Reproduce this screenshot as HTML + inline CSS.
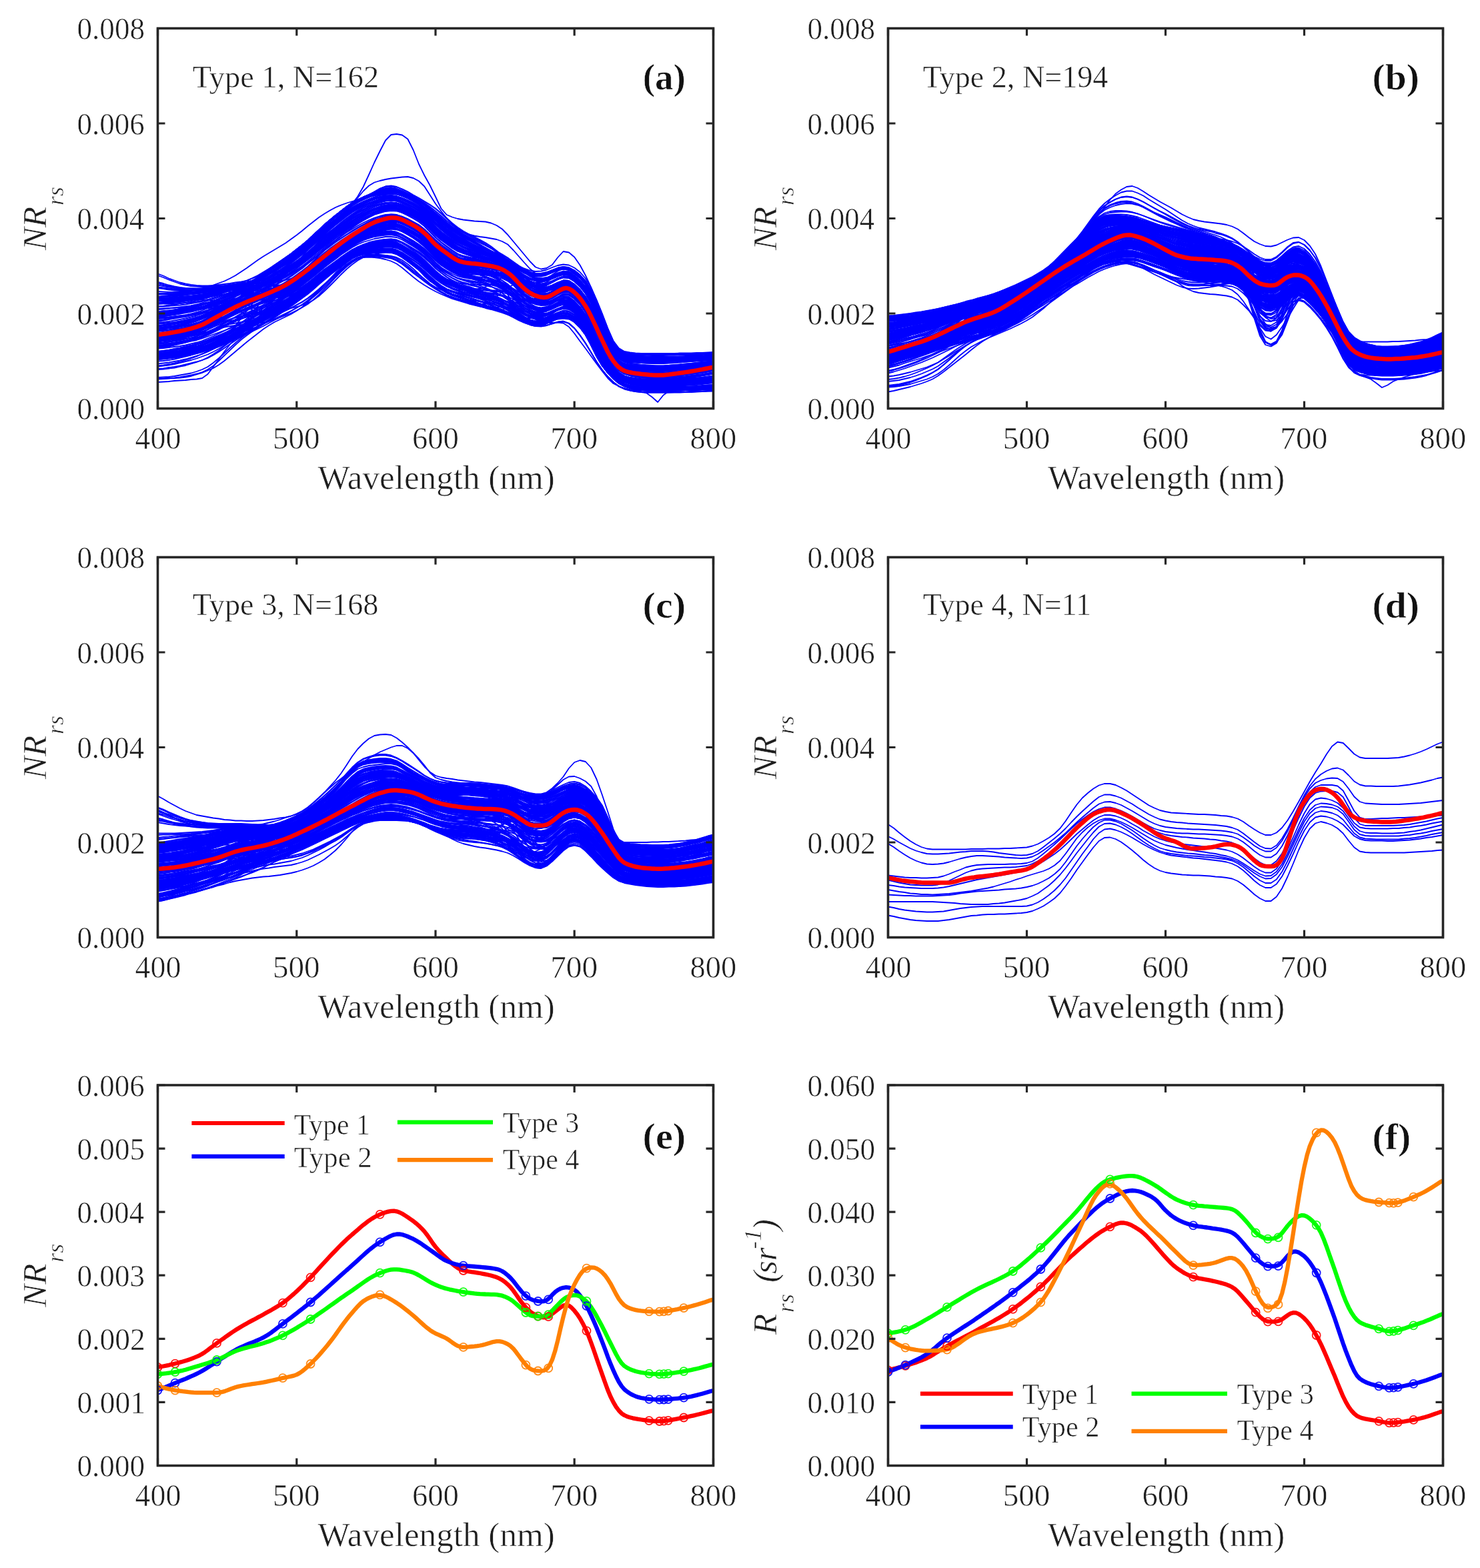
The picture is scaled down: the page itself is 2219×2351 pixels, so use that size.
<!DOCTYPE html>
<html><head><meta charset="utf-8"><title>Figure</title><style>html,body{margin:0;padding:0;background:#fff;}svg{display:block;}.bl path{vector-effect:non-scaling-stroke;}text{stroke:#fff;stroke-width:0.6px;stroke-linejoin:round;}</style></head><body>
<svg width="2219" height="2351" viewBox="0 0 2219 2351">
<rect width="100%" height="100%" fill="#fff"/>
<defs>
<clipPath id="c00"><rect x="236.5" y="42.5" width="833.0" height="570.0"/></clipPath>
<clipPath id="c01"><rect x="236.5" y="835.5" width="833.0" height="570.0"/></clipPath>
<clipPath id="c02"><rect x="236.5" y="1627.0" width="833.0" height="570.5"/></clipPath>
<clipPath id="c10"><rect x="1331.5" y="42.5" width="832.0" height="570.0"/></clipPath>
<clipPath id="c11"><rect x="1331.5" y="835.5" width="832.0" height="570.0"/></clipPath>
<clipPath id="c12"><rect x="1331.5" y="1627.0" width="832.0" height="570.5"/></clipPath>
</defs>
<g clip-path="url(#c00)" fill="none" stroke-linejoin="round">
<g class="bl" stroke="#0000ff" stroke-width="1.8" transform="translate(236.5,612.5) scale(8.3300,0.5)">
<path d="M0 -342l1 0 1 0 1-1 1-1 1-2 1-2 1-2 1-2 1-2 1-3 1-3 1-3 1-3 1-2 1-3 1-2 1-4 1-4 1-6 1-5 1-7 1-6 1-8 1-9 1-9 1-10 1-12 1-12 1-13 1-13 1-12 1-12 1-12 1-12 1-11 1-10 1-9 1-9 1-8 1-6 1-4 1-3 1 1 1 5 1 7 1 8 1 9 1 12 1 15 1 16 1 14 1 13 1 11 1 11 1 7 1 5 1 6 1 5 1 5 1 6 1 6 1 7 1 11 1 13 1 16 1 15 1 12 1 8 1 5 1-1 1-6 1-9 1-8 1 1 1 11 1 16 1 22 1 29 1 36 1 36 1 37 1 29 1 19 1 10 1 3 1 2 1 2 1 1 1 0 1 1 1 0 1-1 1-2 1-1 1-2 1-1 1-2 1-2 1-2 1-3"/>
<path d="M0 -364l1 2 1 2 1 2 1 1 1 1 1 1 1-1 1-1 1-1 1-2 1-2 1-2 1 0 1 3 1 2 1 2 1 2 1 2 1 2 1 1 1 1 1 0 1-3 1-6 1-7 1-9 1-11 1-13 1-13 1-13 1-13 1-13 1-13 1-12 1-11 1-10 1-8 1-7 1-5 1-4 1-3 1-1 1 3 1 8 1 10 1 12 1 12 1 15 1 17 1 18 1 15 1 13 1 10 1 9 1 6 1 5 1 4 1 5 1 5 1 6 1 5 1 7 1 9 1 11 1 12 1 11 1 9 1 5 1 2 1-3 1-8 1-8 1-6 1 2 1 11 1 16 1 23 1 31 1 36 1 30 1 27 1 21 1 17 1 10 1 5 1 4 1 3 1 1 1 1 1 1 1 0 1-1 1 0 1-1 1-1 1-1 1-1 1-2 1-2 1-2"/>
<path d="M0 -370l1 3 1 3 1 3 1 2 1 2 1 1 1 0 1-1 1-1 1-2 1-1 1-3 1 2 1 4 1 3 1 4 1 3 1 3 1 4 1 5 1 3 1 0 1-2 1-5 1-7 1-9 1-10 1-12 1-13 1-13 1-12 1-12 1-13 1-12 1-11 1-8 1-6 1-4 1-3 1-3 1-2 1 0 1 4 1 7 1 11 1 11 1 12 1 14 1 15 1 16 1 14 1 11 1 8 1 7 1 5 1 4 1 5 1 5 1 5 1 5 1 6 1 6 1 9 1 9 1 11 1 10 1 8 1 5 1 1 1-3 1-7 1-8 1-4 1 3 1 11 1 17 1 23 1 31 1 35 1 29 1 23 1 19 1 15 1 10 1 5 1 4 1 2 1 1 1 0 1 0 1 0 1-1 1 0 1-1 1-1 1-1 1-1 1-1 1-2 1-2"/>
<path d="M0 -345l1 0 1 0 1 0 1-1 1-1 1-1 1-2 1-2 1-2 1-1 1 0 1 0 1 0 1 0 1 0 1-1 1 0 1-1 1-2 1-1 1-2 1-2 1-5 1-6 1-8 1-10 1-11 1-12 1-13 1-13 1-13 1-13 1-12 1-12 1-11 1-11 1-9 1-9 1-7 1-5 1-5 1-3 1 1 1 6 1 8 1 9 1 10 1 13 1 17 1 17 1 14 1 12 1 12 1 10 1 7 1 5 1 5 1 6 1 7 1 8 1 10 1 12 1 15 1 17 1 19 1 16 1 12 1 9 1 4 1-1 1-5 1-6 1-4 1 4 1 11 1 18 1 22 1 32 1 34 1 29 1 22 1 19 1 14 1 10 1 5 1 3 1 2 1 1 1 0 1 0 1-1 1-1 1 0 1-1 1-1 1-1 1-1 1-2 1-1 1-1"/>
<path d="M0 -399l1 6 1 7 1 6 1 6 1 4 1 3 1 1 1 1 1 0 1-1 1-2 1-1 1-2 1-2 1 2 1 6 1 6 1 5 1 5 1 6 1 6 1 3 1-1 1-4 1-5 1-8 1-10 1-12 1-12 1-13 1-12 1-11 1-12 1-12 1-10 1-7 1-5 1-2 1-2 1-1 1 0 1 2 1 5 1 10 1 13 1 13 1 12 1 15 1 16 1 15 1 14 1 11 1 7 1 6 1 5 1 5 1 5 1 5 1 6 1 5 1 6 1 6 1 7 1 8 1 8 1 7 1 6 1 4 1 0 1-5 1-8 1-8 1-5 1 3 1 10 1 16 1 22 1 31 1 34 1 28 1 22 1 18 1 15 1 9 1 6 1 4 1 2 1 1 1 1 1 0 1 0 1 1 1-1 1 0 1 0 1 0 1-1 1-1 1 0 1-1"/>
<path d="M0 -379l1 4 1 5 1 4 1 3 1 2 1 1 1 0 1 0 1-1 1-2 1-2 1-3 1-3 1-3 1-3 1 0 1 1 1 0 1-1 1-1 1-2 1-2 1-3 1-5 1-6 1-8 1-10 1-11 1-11 1-12 1-12 1-12 1-12 1-11 1-10 1-10 1-9 1-8 1-7 1-5 1-4 1-3 1 1 1 5 1 8 1 8 1 10 1 12 1 16 1 16 1 14 1 12 1 11 1 10 1 6 1 4 1 4 1 5 1 6 1 7 1 8 1 10 1 13 1 16 1 17 1 16 1 12 1 8 1 4 1-1 1-7 1-8 1-7 1 2 1 11 1 16 1 22 1 30 1 35 1 31 1 28 1 22 1 17 1 10 1 5 1 3 1 2 1 2 1 1 1 1 1 0 1-1 1 0 1-1 1-1 1-1 1-1 1-1 1-2 1-2"/>
<path d="M0 -351l1 1 1 1 1 0 1 0 1 0 1-1 1-1 1-1 1-2 1-2 1 2 1 1 1 2 1 1 1 2 1 2 1 1 1 2 1 2 1 3 1 1 1 0 1-4 1-5 1-8 1-9 1-10 1-12 1-13 1-13 1-12 1-13 1-12 1-12 1-11 1-8 1-7 1-4 1-4 1-3 1-3 1 0 1 3 1 7 1 10 1 11 1 11 1 14 1 15 1 16 1 14 1 11 1 8 1 7 1 5 1 5 1 4 1 5 1 6 1 6 1 6 1 8 1 10 1 12 1 12 1 11 1 9 1 6 1 3 1-3 1-7 1-7 1-4 1 4 1 11 1 17 1 23 1 32 1 35 1 28 1 23 1 19 1 15 1 9 1 6 1 4 1 2 1 1 1 0 1 0 1 0 1-1 1 0 1 0 1-1 1-1 1-1 1-1 1-2 1-1"/>
<path d="M0 -335l1 0 1-2 1-1 1-2 1-2 1-3 1-2 1-3 1-2 1-3 1-3 1-4 1-3 1-4 1-5 1-4 1-6 1-7 1-7 1-9 1-10 1-10 1-10 1-11 1-12 1-12 1-13 1-14 1-15 1-14 1-13 1-13 1-12 1-12 1-11 1-9 1-8 1-7 1-6 1-5 1-3 1-1 1 2 1 6 1 7 1 9 1 9 1 12 1 15 1 16 1 14 1 13 1 11 1 10 1 7 1 7 1 7 1 6 1 7 1 6 1 7 1 7 1 9 1 9 1 10 1 8 1 6 1 4 1-1 1-3 1-7 1-6 1-4 1 3 1 8 1 14 1 18 1 29 1 36 1 41 1 45 1 36 1 21 1 8 1 4 1 1 1 1 1 0 1 1 1 0 1 0 1-1 1 0 1-1 1 0 1-1 1-1 1-1 1-1 1-1"/>
<path d="M0 -335l1-2 1-2 1-2 1-2 1-2 1-2 1-2 1-3 1-2 1-3 1-4 1-3 1-4 1-5 1-5 1-5 1-7 1-7 1-9 1-10 1-11 1-12 1-12 1-13 1-12 1-12 1-14 1-15 1-15 1-15 1-14 1-13 1-13 1-13 1-12 1-10 1-8 1-8 1-6 1-5 1-4 1-1 1 2 1 5 1 7 1 9 1 9 1 12 1 14 1 15 1 15 1 14 1 12 1 11 1 10 1 10 1 9 1 9 1 9 1 9 1 9 1 9 1 10 1 10 1 10 1 10 1 8 1 4 1 2 1-4 1-6 1-7 1-3 1 2 1 8 1 14 1 18 1 28 1 35 1 40 1 44 1 36 1 20 1 8 1 3 1 1 1 1 1 0 1 0 1 0 1 0 1 0 1 0 1 0 1-1 1 0 1-1 1 0 1-1 1-1"/>
<path d="M0 -404l1 6 1 8 1 6 1 6 1 4 1 3 1 2 1 1 1 0 1-1 1-2 1-2 1-2 1-3 1-2 1-3 1 2 1 3 1 3 1 2 1 2 1 1 1-1 1-4 1-5 1-8 1-10 1-11 1-12 1-12 1-11 1-12 1-12 1-11 1-10 1-9 1-7 1-5 1-5 1-3 1-2 1-1 1 3 1 8 1 10 1 11 1 12 1 13 1 17 1 16 1 13 1 11 1 9 1 8 1 4 1 3 1 3 1 3 1 3 1 3 1 4 1 6 1 8 1 11 1 13 1 12 1 10 1 6 1 3 1-2 1-7 1-9 1-7 1 2 1 12 1 17 1 23 1 32 1 35 1 33 1 29 1 23 1 17 1 10 1 5 1 4 1 2 1 2 1 1 1 0 1 0 1-1 1-1 1-1 1-1 1-2 1-1 1-3 1-2 1-2"/>
<path d="M0 -361l1 2 1 3 1 2 1 1 1 0 1 0 1-1 1-1 1-2 1-2 1-2 1-3 1-3 1-2 1-1 1-1 1-2 1-2 1-4 1-4 1-5 1-5 1-6 1-8 1-9 1-10 1-11 1-12 1-13 1-13 1-12 1-12 1-11 1-11 1-10 1-10 1-9 1-9 1-7 1-5 1-4 1-3 1 1 1 6 1 7 1 9 1 10 1 12 1 16 1 17 1 13 1 11 1 11 1 10 1 5 1 3 1 2 1 3 1 3 1 4 1 5 1 6 1 10 1 13 1 17 1 15 1 13 1 7 1 5 1 0 1-6 1-9 1-8 1 0 1 12 1 17 1 23 1 30 1 36 1 36 1 35 1 28 1 19 1 10 1 4 1 2 1 1 1 1 1 0 1 1 1-1 1-1 1-2 1-2 1-2 1-2 1-2 1-2 1-3 1-2"/>
<path d="M0 -375l1 4 1 4 1 3 1 2 1 2 1 0 1 1 1-1 1-1 1-2 1-2 1-2 1-3 1-3 1-1 1 2 1 2 1 1 1 1 1 1 1 0 1 0 1-1 1-5 1-6 1-9 1-9 1-11 1-12 1-12 1-12 1-12 1-12 1-11 1-10 1-9 1-8 1-6 1-6 1-4 1-3 1-2 1 2 1 6 1 9 1 9 1 10 1 13 1 16 1 16 1 13 1 12 1 10 1 9 1 6 1 5 1 5 1 5 1 7 1 8 1 9 1 11 1 13 1 15 1 17 1 14 1 11 1 7 1 4 1-2 1-6 1-7 1-4 1 3 1 11 1 17 1 22 1 30 1 34 1 28 1 23 1 19 1 14 1 9 1 5 1 4 1 1 1 1 1 0 1 1 1-1 1 0 1 0 1-1 1 0 1 0 1-1 1 0 1-1 1 0"/>
<path d="M0 -93l1-1 1-1 1-2 1-3 1-3 1-3 1-5 1-6 1-8 1-12 1-14 1-15 1-16 1-15 1-14 1-13 1-18 1-23 1-22 1-21 1-19 1-17 1-17 1-16 1-16 1-16 1-16 1-17 1-16 1-16 1-15 1-14 1-14 1-13 1-12 1-12 1-10 1-9 1-9 1-6 1-5 1-2 1 0 1 5 1 8 1 8 1 9 1 12 1 16 1 16 1 14 1 12 1 11 1 10 1 6 1 4 1 4 1 4 1 4 1 5 1 4 1 7 1 8 1 11 1 12 1 11 1 7 1 5 1 1 1-4 1-7 1-8 1-5 1 1 1 10 1 14 1 21 1 29 1 36 1 40 1 41 1 34 1 20 1 9 1 3 1 2 1 1 1 1 1 0 1 0 1 0 1 0 1-1 1-2 1-1 1-1 1-1 1-2 1-2 1-2"/>
<path d="M0 -119l1-1 1-3 1-2 1-3 1-4 1-4 1-4 1-5 1-6 1-9 1-10 1-11 1-12 1-11 1-11 1-12 1-17 1-16 1-17 1-17 1-15 1-15 1-15 1-15 1-15 1-15 1-15 1-16 1-15 1-15 1-14 1-14 1-14 1-12 1-11 1-10 1-10 1-8 1-6 1-5 1-3 1-1 1 2 1 7 1 10 1 10 1 12 1 14 1 17 1 17 1 13 1 12 1 10 1 8 1 5 1 2 1 2 1 2 1 2 1 4 1 4 1 7 1 10 1 13 1 18 1 15 1 12 1 9 1 5 1-1 1-6 1-8 1-6 1 2 1 12 1 18 1 24 1 31 1 36 1 32 1 30 1 24 1 17 1 10 1 4 1 3 1 2 1 0 1 1 1 0 1-1 1-1 1-2 1-2 1-2 1-2 1-2 1-2 1-2 1-2"/>
<path d="M0 -126l1-2 1-2 1-3 1-4 1-4 1-4 1-5 1-6 1-6 1-8 1-9 1-10 1-10 1-12 1-14 1-15 1-16 1-15 1-16 1-15 1-14 1-14 1-14 1-14 1-14 1-15 1-15 1-15 1-15 1-15 1-15 1-14 1-13 1-13 1-12 1-11 1-11 1-9 1-8 1-6 1-4 1-2 1 1 1 7 1 9 1 10 1 12 1 14 1 18 1 18 1 15 1 13 1 12 1 9 1 5 1 3 1 2 1 2 1 3 1 2 1 3 1 5 1 9 1 12 1 16 1 14 1 12 1 7 1 4 1-1 1-7 1-10 1-8 1 0 1 12 1 18 1 24 1 31 1 37 1 36 1 34 1 26 1 19 1 11 1 5 1 3 1 2 1 2 1 1 1 0 1 0 1-2 1-2 1-2 1-3 1-3 1-3 1-3 1-4 1-4"/>
<path d="M0 -128l1-2 1-3 1-3 1-4 1-5 1-5 1-6 1-8 1-8 1-11 1-13 1-16 1-18 1-19 1-21 1-22 1-21 1-21 1-17 1-18 1-17 1-19 1-18 1-18 1-18 1-17 1-17 1-18 1-17 1-16 1-16 1-14 1-13 1-13 1-12 1-9 1-8 1-7 1-5 1-5 1-3 1 0 1 2 1 6 1 7 1 8 1 10 1 12 1 14 1 15 1 15 1 13 1 12 1 10 1 10 1 9 1 9 1 9 1 9 1 8 1 9 1 8 1 10 1 10 1 11 1 9 1 8 1 5 1 1 1-3 1-7 1-6 1-3 1 2 1 9 1 14 1 19 1 29 1 36 1 41 1 44 1 35 1 21 1 9 1 3 1 2 1 1 1 1 1 0 1 1 1 0 1 0 1-1 1 0 1-1 1 0 1-1 1-1 1-2 1-1"/>
<path d="M0 -90l1 0 1-1 1-1 1-2 1-3 1-3 1-4 1-5 1-8 1-11 1-15 1-16 1-16 1-16 1-15 1-13 1-12 1-12 1-19 1-21 1-18 1-18 1-17 1-16 1-16 1-15 1-16 1-16 1-16 1-15 1-14 1-14 1-14 1-13 1-11 1-11 1-10 1-10 1-7 1-6 1-4 1-3 1 1 1 7 1 8 1 10 1 11 1 14 1 18 1 18 1 16 1 13 1 12 1 11 1 7 1 5 1 5 1 6 1 7 1 7 1 10 1 11 1 14 1 16 1 18 1 15 1 12 1 8 1 4 1-2 1-6 1-7 1-5 1 2 1 11 1 17 1 22 1 31 1 34 1 30 1 25 1 21 1 15 1 10 1 5 1 3 1 2 1 1 1 1 1 0 1 0 1-1 1 0 1-1 1-1 1-1 1-1 1-1 1-1 1-1"/>
<path d="M0 -117l1-1 1-2 1-2 1-4 1-3 1-5 1-5 1-6 1-8 1-10 1-11 1-13 1-13 1-19 1-21 1-22 1-23 1-22 1-22 1-19 1-18 1-17 1-19 1-18 1-18 1-18 1-18 1-18 1-18 1-17 1-16 1-15 1-15 1-14 1-13 1-11 1-9 1-7 1-7 1-6 1-3 1-1 1 2 1 5 1 7 1 9 1 9 1 13 1 15 1 16 1 15 1 14 1 13 1 11 1 10 1 10 1 9 1 8 1 9 1 8 1 8 1 9 1 11 1 12 1 14 1 13 1 11 1 7 1 3 1-1 1-6 1-7 1-6 1 1 1 11 1 15 1 21 1 29 1 36 1 38 1 39 1 32 1 19 1 9 1 4 1 1 1 1 1 1 1 0 1 0 1 0 1-1 1-2 1-1 1-1 1-1 1-2 1-2 1-1 1-2"/>
<path d="M0 -134l1-2 1-2 1-3 1-3 1-4 1-5 1-5 1-5 1-7 1-8 1-9 1-12 1-12 1-14 1-15 1-15 1-15 1-16 1-15 1-14 1-14 1-13 1-14 1-13 1-14 1-14 1-15 1-14 1-15 1-15 1-14 1-13 1-13 1-13 1-11 1-11 1-11 1-9 1-8 1-6 1-5 1-2 1 1 1 5 1 9 1 9 1 11 1 13 1 18 1 18 1 14 1 13 1 12 1 9 1 6 1 2 1 2 1 1 1 2 1 2 1 2 1 5 1 10 1 13 1 17 1 14 1 12 1 6 1 4 1-2 1-8 1-9 1-9 1 0 1 10 1 16 1 23 1 29 1 36 1 36 1 37 1 29 1 19 1 9 1 4 1 3 1 1 1 1 1 1 1 0 1 0 1-2 1-1 1-2 1-2 1-2 1-2 1-3 1-2 1-3"/>
<path d="M0 -275l1-2 1-2 1-3 1-4 1-4 1-4 1-5 1-6 1-7 1-8 1-8 1-9 1-8 1-9 1-9 1-10 1-10 1-12 1-11 1-11 1-11 1-12 1-12 1-12 1-13 1-13 1-14 1-16 1-15 1-16 1-14 1-14 1-13 1-13 1-12 1-9 1-8 1-7 1-7 1-6 1-4 1 0 1 2 1 6 1 8 1 8 1 10 1 11 1 14 1 14 1 15 1 14 1 13 1 12 1 10 1 10 1 9 1 10 1 10 1 10 1 11 1 11 1 12 1 14 1 15 1 15 1 14 1 9 1 6 1 1 1-5 1-6 1-6 1 1 1 11 1 17 1 23 1 30 1 36 1 38 1 37 1 30 1 20 1 10 1 4 1 3 1 2 1 2 1 1 1 1 1 0 1-1 1-2 1-1 1-2 1-2 1-2 1-2 1-3 1-2"/>
<path d="M0 -258l1-1 1-2 1-3 1-3 1-3 1-4 1-4 1-6 1-8 1-10 1-10 1-10 1-10 1-11 1-12 1-12 1-12 1-15 1-13 1-11 1-11 1-12 1-11 1-12 1-13 1-13 1-14 1-16 1-15 1-16 1-14 1-14 1-13 1-13 1-12 1-9 1-8 1-7 1-8 1-8 1-5 1-1 1 3 1 6 1 8 1 9 1 10 1 10 1 12 1 13 1 14 1 15 1 13 1 13 1 10 1 9 1 9 1 8 1 9 1 10 1 12 1 12 1 14 1 15 1 17 1 17 1 16 1 13 1 9 1 4 1-3 1-5 1-6 1 3 1 13 1 19 1 25 1 31 1 37 1 36 1 35 1 27 1 19 1 10 1 5 1 2 1 2 1 1 1 1 1 0 1-1 1-2 1-3 1-2 1-3 1-2 1-3 1-3 1-3 1-3"/>
<path d="M0 -200l1-2 1-2 1-3 1-4 1-4 1-6 1-6 1-9 1-11 1-14 1-15 1-16 1-15 1-16 1-15 1-16 1-17 1-18 1-17 1-12 1-12 1-11 1-11 1-12 1-13 1-13 1-14 1-16 1-15 1-16 1-14 1-14 1-13 1-13 1-12 1-9 1-8 1-7 1-9 1-10 1-6 1-2 1 3 1 7 1 8 1 10 1 9 1 10 1 10 1 12 1 14 1 16 1 15 1 13 1 11 1 9 1 9 1 9 1 10 1 12 1 13 1 15 1 16 1 18 1 22 1 23 1 20 1 17 1 14 1 6 1-1 1-5 1-3 1 4 1 14 1 18 1 24 1 32 1 36 1 32 1 29 1 22 1 17 1 10 1 5 1 4 1 2 1 2 1 1 1 0 1 1 1-1 1 0 1-1 1-1 1-1 1-1 1-1 1-2 1-1"/>
<path d="M0 -182l1-2 1-3 1-4 1-5 1-6 1-6 1-8 1-9 1-12 1-15 1-16 1-18 1-17 1-17 1-17 1-17 1-17 1-19 1-17 1-11 1-12 1-11 1-12 1-11 1-13 1-13 1-14 1-16 1-15 1-16 1-14 1-14 1-13 1-13 1-12 1-9 1-8 1-7 1-9 1-9 1-7 1-1 1 3 1 6 1 8 1 10 1 9 1 10 1 10 1 11 1 14 1 15 1 15 1 13 1 11 1 9 1 8 1 9 1 9 1 11 1 13 1 15 1 16 1 18 1 22 1 22 1 21 1 16 1 14 1 8 1 0 1-4 1-2 1 5 1 15 1 19 1 25 1 33 1 36 1 32 1 28 1 22 1 17 1 10 1 5 1 4 1 2 1 1 1 0 1 0 1 0 1-1 1-1 1-2 1-1 1-2 1-2 1-2 1-3 1-2"/>
<path d="M0 -317l1-2 1-2 1-2 1-2 1-3 1-3 1-3 1-4 1-4 1-5 1-5 1-5 1-6 1-6 1-7 1-7 1-7 1-8 1-9 1-11 1-10 1-12 1-12 1-12 1-13 1-13 1-14 1-16 1-15 1-16 1-14 1-14 1-13 1-13 1-12 1-9 1-8 1-7 1-7 1-6 1-3 1-1 1 2 1 6 1 8 1 8 1 10 1 11 1 13 1 14 1 14 1 14 1 13 1 12 1 10 1 9 1 9 1 8 1 8 1 9 1 8 1 10 1 10 1 12 1 12 1 10 1 8 1 5 1 3 1-2 1-5 1-6 1-3 1 3 1 10 1 14 1 20 1 29 1 37 1 40 1 43 1 36 1 20 1 9 1 3 1 2 1 1 1 1 1 0 1 1 1 0 1-1 1 0 1-1 1-1 1-1 1-1 1-1 1-2 1-1"/>
<path d="M0 -316l1-1 1-2 1-3 1-3 1-3 1-3 1-4 1-4 1-5 1-5 1-6 1-6 1-6 1-5 1-6 1-6 1-7 1-8 1-10 1-10 1-10 1-12 1-11 1-12 1-13 1-13 1-14 1-16 1-15 1-16 1-14 1-14 1-13 1-13 1-12 1-9 1-8 1-7 1-7 1-7 1-4 1-1 1 3 1 6 1 8 1 8 1 10 1 11 1 13 1 14 1 14 1 15 1 13 1 11 1 11 1 9 1 8 1 9 1 8 1 9 1 9 1 9 1 11 1 12 1 11 1 10 1 9 1 6 1 2 1-2 1-6 1-6 1-3 1 2 1 9 1 14 1 20 1 28 1 36 1 40 1 44 1 35 1 20 1 9 1 3 1 1 1 1 1 1 1 0 1 0 1 0 1 0 1 0 1 0 1 0 1-1 1-1 1 0 1-1 1-1"/>
<path d="M0 -289l1-1 1-1 1-2 1-2 1-2 1-1 1-2 1-1 1-2 1-3 1-2 1-1 1-1 1 0 1 2 1 6 1 6 1 6 1 5 1 2 1 1 1-3 1-8 1-8 1-9 1-9 1-11 1-12 1-14 1-15 1-15 1-16 1-15 1-14 1-12 1-9 1-5 1-2 1 0 1 1 1 2 1 3 1 7 1 11 1 13 1 14 1 13 1 12 1 13 1 11 1 10 1 9 1 7 1 5 1 5 1 5 1 4 1 4 1 4 1 4 1 0 1-9 1-8 1-7 1-1 1-1 1 0 1-2 1-3 1-6 1-11 1-13 1-11 1-1 1 9 1 15 1 21 1 29 1 35 1 37 1 38 1 30 1 20 1 9 1 4 1 3 1 2 1 1 1 1 1 1 1 0 1-1 1-1 1-2 1-1 1-2 1-2 1-2 1-3 1-2"/>
<path d="M0 -204l1-1 1-2 1-2 1-3 1-2 1-4 1-3 1-5 1-5 1-7 1-5 1-5 1-5 1-3 1-3 1-3 1-2 1-3 1-4 1-5 1-6 1-7 1-9 1-10 1-11 1-12 1-12 1-14 1-15 1-14 1-14 1-13 1-13 1-13 1-11 1-8 1-4 1-3 1-2 1-1 1 0 1 1 1 5 1 9 1 12 1 13 1 13 1 14 1 15 1 15 1 14 1 10 1 8 1 5 1 5 1 5 1 6 1 5 1 6 1 5 1 6 1 5 1 7 1 8 1 8 1 8 1 5 1 4 1 0 1-4 1-7 1-8 1-4 1 3 1 11 1 16 1 22 1 31 1 34 1 28 1 21 1 18 1 14 1 9 1 5 1 4 1 2 1 0 1 0 1 0 1 0 1-1 1 0 1-1 1-1 1 0 1-1 1-1 1-2 1-1"/>
<path d="M0 -162l1-1 1-2 1-2 1-3 1-2 1-3 1-4 1-3 1-4 1-5 1-4 1-5 1-4 1-4 1-7 1-8 1-8 1-8 1-8 1-9 1-9 1-8 1-9 1-10 1-10 1-10 1-12 1-14 1-16 1-16 1-16 1-16 1-15 1-15 1-12 1-9 1-5 1-2 1 0 1 0 1 1 1 3 1 6 1 10 1 13 1 14 1 13 1 12 1 14 1 12 1 11 1 10 1 7 1 5 1 5 1 5 1 5 1 5 1 5 1 5 1 4 1 5 1 6 1 7 1 3 1 2 1 1 1 0 1-2 1-6 1-10 1-10 1-8 1 0 1 10 1 16 1 22 1 30 1 34 1 31 1 27 1 22 1 16 1 9 1 5 1 3 1 2 1 1 1 0 1 1 1-1 1-1 1-1 1-2 1-1 1-2 1-2 1-1 1-2 1-2"/>
<path d="M0 -331l1 0 1 1 1 0 1 0 1 1 1 1 1 1 1 1 1 1 1 1 1 1 1 1 1 2 1 1 1 2 1 6 1 8 1 8 1 6 1 3 1 2 1-2 1-8 1-8 1-9 1-9 1-11 1-13 1-14 1-15 1-15 1-15 1-15 1-14 1-11 1-9 1-5 1-2 1 0 1 1 1 2 1 4 1 7 1 10 1 13 1 14 1 13 1 12 1 12 1 11 1 10 1 9 1 6 1 6 1 4 1 4 1 4 1 4 1 0 1-11 1-12 1-14 1-13 1-8 1-2 1 6 1 3 1-2 1-4 1-9 1-12 1-11 1-8 1-1 1 8 1 12 1 18 1 27 1 34 1 40 1 43 1 35 1 19 1 8 1 2 1 2 1 0 1 0 1 0 1 0 1 0 1 0 1 0 1 0 1-1 1 0 1 0 1-1 1 0 1-1"/>
<path d="M0 -207l1 0 1-2 1-1 1-2 1-2 1-3 1-3 1-4 1-6 1-5 1-5 1-4 1-3 1-2 1-1 1 0 1 0 1 0 1-3 1-8 1-8 1-8 1-8 1-8 1-9 1-9 1-11 1-12 1-14 1-16 1-16 1-17 1-16 1-15 1-13 1-9 1-5 1-2 1 1 1 1 1 2 1 3 1 7 1 10 1 13 1 14 1 12 1 13 1 12 1 11 1 10 1 9 1 7 1 6 1 5 1 5 1 5 1 5 1 5 1 4 1 5 1 5 1 6 1 6 1 7 1 7 1 1 1-2 1-4 1-8 1-10 1-12 1-8 1 0 1 9 1 16 1 22 1 30 1 35 1 31 1 28 1 22 1 16 1 10 1 6 1 4 1 3 1 1 1 1 1 0 1 0 1 0 1-1 1-1 1-2 1-2 1-2 1-2 1-2 1-3"/>
<path d="M0 -288l1-2 1-2 1-3 1-2 1-1 1-1 1-1 1-1 1 0 1-1 1 0 1 0 1 1 1 3 1 8 1 9 1 9 1 8 1 6 1-3 1-6 1-6 1-6 1-7 1-8 1-9 1-10 1-13 1-15 1-17 1-17 1-18 1-17 1-15 1-13 1-10 1-5 1-1 1 1 1 2 1 4 1 5 1 8 1 12 1 14 1 14 1 13 1 11 1 10 1 9 1 8 1 7 1 7 1 5 1 5 1 5 1 4 1 4 1 3 1 4 1 3 1 2 1-11 1-9 1-5 1-3 1-2 1-3 1-4 1-7 1-13 1-13 1-11 1-3 1 9 1 13 1 20 1 28 1 34 1 37 1 38 1 31 1 20 1 9 1 4 1 2 1 2 1 2 1 1 1 1 1 1 1-1 1-1 1-1 1-1 1-2 1-2 1-2 1-3 1-2"/>
<path d="M0 -147l1-2 1-2 1-3 1-3 1-4 1-4 1-4 1-4 1-5 1-5 1-7 1-7 1-7 1-7 1-8 1-8 1-9 1-9 1-9 1-10 1-10 1-11 1-12 1-11 1-12 1-13 1-14 1-14 1-15 1-15 1-13 1-13 1-13 1-13 1-11 1-9 1-5 1-3 1-3 1-3 1-1 1 0 1 4 1 8 1 11 1 11 1 12 1 14 1 15 1 15 1 12 1 10 1 6 1 4 1 1 1 0 1-1 1-4 1-5 1-8 1-9 1-10 1-7 1 2 1 11 1 7 1 3 1-1 1-4 1-9 1-11 1-11 1-7 1 0 1 7 1 12 1 18 1 28 1 36 1 41 1 44 1 36 1 20 1 9 1 3 1 1 1 1 1 0 1 0 1 0 1 0 1 0 1-1 1 0 1 0 1-1 1 0 1-1 1-1 1 0"/>
<path d="M0 -237l1-2 1-2 1-3 1-4 1-4 1-5 1-6 1-7 1-9 1-9 1-10 1-9 1-9 1-9 1-9 1-8 1-8 1-9 1-9 1-10 1-10 1-11 1-11 1-12 1-12 1-13 1-13 1-14 1-14 1-14 1-13 1-13 1-13 1-12 1-11 1-11 1-9 1-8 1-8 1-6 1-4 1-2 1 1 1 4 1 7 1 8 1 9 1 12 1 14 1 16 1 14 1 12 1 12 1 9 1 8 1 6 1 6 1 5 1 6 1 6 1 6 1 7 1 9 1 9 1 11 1 9 1 7 1 3 1 0 1-4 1-7 1-8 1-4 1 1 1 8 1 13 1 18 1 28 1 35 1 40 1 44 1 36 1 20 1 8 1 3 1 1 1 1 1 0 1 0 1 0 1 0 1 0 1 0 1 0 1-1 1 0 1-1 1 0 1-1 1-1"/>
<path d="M0 -225l1-2 1-4 1-3 1-5 1-4 1-6 1-6 1-7 1-10 1-10 1-9 1-10 1-9 1-9 1-8 1-8 1-8 1-8 1-9 1-8 1-9 1-10 1-10 1-12 1-11 1-13 1-13 1-14 1-14 1-15 1-14 1-14 1-13 1-13 1-13 1-11 1-10 1-10 1-8 1-6 1-5 1-2 1 1 1 5 1 7 1 8 1 10 1 13 1 16 1 17 1 14 1 13 1 12 1 10 1 7 1 4 1 4 1 4 1 4 1 3 1 5 1 5 1 6 1 7 1 7 1 6 1 6 1 3 1-1 1-4 1-7 1-6 1-3 1 2 1 8 1 13 1 19 1 28 1 37 1 41 1 44 1 37 1 22 1 10 1 3 1 2 1 1 1 0 1 0 1 0 1 0 1 0 1 0 1-1 1 0 1 0 1-1 1 0 1-1 1-1"/>
<path d="M0 -151l1-1 1-2 1-3 1-2 1-3 1-4 1-3 1-4 1-5 1-7 1-7 1-8 1-9 1-10 1-11 1-11 1-11 1-12 1-12 1-12 1-12 1-12 1-12 1-13 1-12 1-13 1-13 1-14 1-14 1-14 1-12 1-12 1-12 1-12 1-10 1-8 1-6 1-5 1-4 1-3 1-3 1-1 1 2 1 7 1 9 1 10 1 10 1 13 1 16 1 17 1 14 1 13 1 11 1 10 1 8 1 8 1 10 1 11 1 12 1 14 1 13 1 7 1 8 1 9 1 9 1 7 1 6 1 4 1 1 1-3 1-5 1-5 1-2 1 6 1 14 1 21 1 24 1 28 1 28 1 24 1 21 1 16 1 13 1 7 1 5 1 3 1 2 1 1 1 0 1 0 1 0 1 0 1-1 1 0 1 0 1-1 1-1 1 0 1-1 1-1"/>
<path d="M0 -188l1-2 1-2 1-2 1-4 1-3 1-4 1-5 1-6 1-7 1-8 1-8 1-7 1-8 1-7 1-7 1-7 1-6 1-6 1-7 1-7 1-7 1-8 1-9 1-10 1-11 1-11 1-13 1-13 1-13 1-14 1-12 1-12 1-12 1-12 1-10 1-8 1-6 1-4 1-3 1-2 1-2 1 0 1 3 1 8 1 10 1 11 1 12 1 13 1 15 1 16 1 14 1 11 1 9 1 7 1 7 1 6 1 8 1 9 1 10 1 12 1 14 1 7 1 8 1 9 1 9 1 8 1 6 1 4 1 0 1-2 1-5 1-5 1-1 1 5 1 15 1 21 1 24 1 27 1 28 1 24 1 20 1 17 1 12 1 8 1 4 1 3 1 2 1 1 1 0 1 0 1 0 1-1 1 0 1 0 1 0 1-1 1 0 1-1 1-1 1 0"/>
<path d="M0 -284l1-2 1-2 1-3 1-3 1-4 1-4 1-4 1-5 1-6 1-6 1-6 1-7 1-6 1-6 1-6 1-6 1-7 1-7 1-8 1-9 1-9 1-9 1-10 1-11 1-12 1-12 1-13 1-14 1-14 1-14 1-14 1-14 1-13 1-13 1-12 1-11 1-10 1-9 1-7 1-6 1-5 1-2 1 2 1 5 1 7 1 9 1 10 1 13 1 17 1 17 1 17 1 16 1 15 1 14 1 11 1 11 1 9 1 9 1 10 1 13 1 23 1 26 1 29 1 31 1 29 1 21 1 8 1 4 1 1 1-2 1-5 1-5 1-2 1 6 1 15 1 21 1 24 1 28 1 29 1 24 1 20 1 16 1 13 1 8 1 4 1 3 1 2 1 1 1 0 1 0 1 0 1 0 1 0 1 0 1-1 1 0 1-1 1-1 1-1 1 0"/>
<path d="M0 -248l1-2 1-1 1-3 1-2 1-3 1-4 1-4 1-5 1-7 1-8 1-7 1-8 1-7 1-7 1-6 1-6 1-5 1-6 1-6 1-6 1-6 1-7 1-9 1-9 1-11 1-11 1-13 1-13 1-13 1-14 1-13 1-13 1-12 1-12 1-11 1-10 1-10 1-9 1-7 1-6 1-4 1-2 1 2 1 6 1 10 1 9 1 12 1 13 1 18 1 18 1 15 1 13 1 12 1 10 1 6 1 5 1 4 1 4 1 6 1 6 1 8 1 11 1 13 1 16 1 18 1 16 1 12 1 8 1 4 1-1 1-6 1-8 1-6 1 3 1 11 1 17 1 23 1 31 1 35 1 31 1 28 1 21 1 17 1 10 1 5 1 4 1 2 1 1 1 1 1 1 1 0 1 0 1-1 1-1 1 0 1-1 1-1 1-2 1-1 1-1"/>
<path d="M0 -290l1-2 1-1 1-3 1-2 1-3 1-3 1-4 1-4 1-5 1-5 1-5 1-5 1-6 1-5 1-5 1-5 1-6 1-6 1-6 1-8 1-7 1-8 1-10 1-10 1-11 1-11 1-13 1-13 1-14 1-14 1-13 1-12 1-13 1-11 1-11 1-10 1-9 1-8 1-7 1-5 1-4 1-2 1 2 1 6 1 8 1 9 1 10 1 13 1 17 1 17 1 14 1 12 1 12 1 11 1 6 1 4 1 4 1 4 1 4 1 5 1 5 1 7 1 10 1 14 1 17 1 15 1 12 1 8 1 5 1 0 1-7 1-9 1-8 1 0 1 11 1 17 1 24 1 30 1 36 1 37 1 36 1 29 1 19 1 11 1 4 1 4 1 2 1 2 1 1 1 1 1 0 1-1 1-2 1-2 1-2 1-2 1-3 1-3 1-3 1-3"/>
<path d="M0 -317l1-1 1-1 1-2 1-1 1-2 1-2 1-2 1-2 1-3 1-3 1-4 1-3 1-4 1-5 1-4 1-4 1-6 1-5 1-7 1-8 1-7 1-9 1-10 1-10 1-11 1-13 1-13 1-14 1-14 1-15 1-14 1-14 1-13 1-13 1-12 1-11 1-10 1-8 1-8 1-6 1-4 1-2 1 1 1 6 1 7 1 8 1 10 1 12 1 15 1 17 1 14 1 13 1 13 1 10 1 8 1 7 1 6 1 6 1 6 1 6 1 6 1 8 1 9 1 12 1 13 1 12 1 10 1 5 1 3 1-3 1-6 1-8 1-6 1 1 1 10 1 15 1 20 1 29 1 36 1 38 1 40 1 33 1 19 1 9 1 3 1 2 1 0 1 1 1 0 1 0 1-1 1-1 1-1 1-1 1-1 1-1 1-2 1-1 1-2 1-1"/>
<path d="M0 -238l1-1 1-2 1-1 1-3 1-2 1-4 1-4 1-6 1-8 1-10 1-9 1-9 1-10 1-9 1-9 1-9 1-8 1-9 1-10 1-10 1-10 1-11 1-12 1-13 1-13 1-14 1-14 1-14 1-15 1-14 1-14 1-12 1-13 1-12 1-10 1-10 1-8 1-8 1-6 1-5 1-4 1-1 1 1 1 6 1 7 1 9 1 9 1 12 1 16 1 16 1 13 1 12 1 11 1 10 1 7 1 5 1 5 1 5 1 6 1 5 1 6 1 8 1 10 1 12 1 15 1 13 1 11 1 7 1 4 1-1 1-6 1-8 1-6 1 1 1 11 1 16 1 22 1 30 1 36 1 37 1 38 1 30 1 20 1 9 1 3 1 2 1 1 1 0 1 1 1-1 1 0 1-1 1-2 1-1 1-2 1-1 1-2 1-2 1-1 1-2"/>
<path d="M0 -262l1-2 1-3 1-3 1-3 1-2 1-4 1-3 1-5 1-6 1-6 1-7 1-7 1-8 1-7 1-7 1-8 1-7 1-9 1-9 1-10 1-10 1-11 1-13 1-13 1-13 1-14 1-15 1-16 1-16 1-15 1-15 1-13 1-14 1-12 1-11 1-10 1-8 1-7 1-5 1-5 1-2 1-1 1 2 1 6 1 8 1 9 1 10 1 12 1 15 1 16 1 14 1 12 1 11 1 10 1 7 1 6 1 6 1 6 1 6 1 6 1 7 1 8 1 9 1 12 1 14 1 12 1 11 1 6 1 4 1-1 1-6 1-8 1-5 1 1 1 10 1 16 1 21 1 29 1 35 1 38 1 39 1 32 1 19 1 8 1 4 1 1 1 1 1 0 1 1 1 0 1 0 1-1 1 0 1-1 1-1 1-1 1-1 1-1 1-1 1-2"/>
<path d="M0 -299l1-1 1-1 1-1 1-1 1-2 1-2 1-3 1-3 1-5 1-5 1-5 1-6 1-5 1-6 1-6 1-7 1-7 1-7 1-9 1-9 1-10 1-11 1-11 1-13 1-13 1-13 1-14 1-16 1-15 1-15 1-15 1-14 1-13 1-13 1-12 1-10 1-8 1-8 1-6 1-5 1-3 1-1 1 3 1 6 1 8 1 9 1 11 1 13 1 16 1 17 1 16 1 14 1 13 1 11 1 10 1 8 1 7 1 7 1 7 1 7 1 8 1 9 1 11 1 15 1 19 1 18 1 14 1 10 1 7 1 1 1-6 1-8 1-8 1 0 1 12 1 18 1 24 1 30 1 36 1 36 1 34 1 27 1 19 1 10 1 5 1 3 1 3 1 2 1 1 1 1 1 0 1-1 1-2 1-2 1-1 1-2 1-2 1-3 1-3 1-2"/>
<path d="M0 -180l1-1 1-2 1-2 1-2 1-3 1-4 1-4 1-5 1-7 1-7 1-8 1-8 1-9 1-8 1-8 1-7 1-8 1-7 1-8 1-7 1-9 1-8 1-9 1-10 1-11 1-11 1-12 1-13 1-14 1-13 1-13 1-12 1-12 1-13 1-10 1-9 1-6 1-5 1-4 1-4 1-3 1-1 1 3 1 7 1 10 1 10 1 12 1 14 1 17 1 17 1 15 1 12 1 11 1 8 1 6 1 6 1 7 1 6 1 6 1 7 1 7 1 7 1 8 1 10 1 10 1 8 1 7 1 4 1 1 1-4 1-8 1-8 1-5 1 3 1 11 1 17 1 23 1 32 1 36 1 29 1 23 1 19 1 15 1 10 1 6 1 4 1 2 1 1 1 0 1-1 1 0 1-1 1 0 1-1 1-1 1-2 1-1 1-1 1-2 1-1"/>
<path d="M0 -239l1-3 1-3 1-3 1-3 1-4 1-4 1-4 1-6 1-7 1-8 1-8 1-7 1-7 1-7 1-6 1-5 1-5 1-5 1-6 1-4 1-6 1-6 1-7 1-9 1-11 1-11 1-12 1-12 1-14 1-13 1-13 1-12 1-13 1-11 1-11 1-10 1-9 1-8 1-6 1-5 1-4 1-3 1 2 1 6 1 8 1 9 1 10 1 13 1 16 1 16 1 13 1 11 1 10 1 8 1 4 1 1 1 0 1 0 1 0 1 0 1 1 1 4 1 9 1 12 1 16 1 14 1 10 1 6 1 3 1-2 1-8 1-9 1-8 1 0 1 11 1 17 1 22 1 31 1 36 1 37 1 37 1 30 1 20 1 10 1 5 1 2 1 2 1 2 1 1 1 1 1 0 1-1 1-2 1-2 1-2 1-3 1-2 1-3 1-3 1-3"/>
<path d="M0 -161l1-2 1-3 1-3 1-4 1-4 1-4 1-5 1-6 1-6 1-8 1-8 1-8 1-8 1-9 1-8 1-8 1-9 1-8 1-9 1-9 1-10 1-10 1-10 1-11 1-12 1-12 1-13 1-14 1-14 1-13 1-13 1-13 1-12 1-12 1-10 1-8 1-6 1-4 1-3 1-2 1-2 1 1 1 4 1 8 1 11 1 12 1 12 1 14 1 16 1 15 1 14 1 10 1 8 1 6 1 4 1 3 1 3 1 2 1 3 1 2 1 2 1 4 1 5 1 7 1 10 1 9 1 7 1 5 1 1 1-3 1-9 1-9 1-8 1 1 1 11 1 16 1 23 1 31 1 35 1 33 1 30 1 23 1 18 1 10 1 5 1 3 1 3 1 1 1 1 1 1 1 0 1-1 1-1 1-1 1-1 1-2 1-1 1-2 1-2 1-2"/>
<path d="M0 -186l1-2 1-2 1-3 1-4 1-4 1-5 1-5 1-7 1-8 1-9 1-10 1-10 1-10 1-10 1-10 1-9 1-9 1-8 1-9 1-8 1-9 1-8 1-10 1-10 1-11 1-12 1-12 1-13 1-14 1-13 1-13 1-13 1-13 1-12 1-11 1-10 1-10 1-8 1-8 1-5 1-5 1-3 1 0 1 5 1 8 1 9 1 10 1 13 1 17 1 17 1 14 1 13 1 12 1 11 1 6 1 5 1 4 1 5 1 6 1 6 1 7 1 9 1 11 1 14 1 16 1 14 1 11 1 7 1 3 1-2 1-7 1-9 1-8 1 1 1 11 1 16 1 23 1 30 1 36 1 32 1 30 1 24 1 17 1 10 1 6 1 3 1 3 1 2 1 1 1 1 1 0 1-1 1-1 1-1 1-1 1-2 1-1 1-3 1-2 1-3"/>
<path d="M0 -314l1 0 1 0 1 0 1-1 1-2 1-1 1-2 1-3 1-4 1-5 1-5 1-5 1-6 1-6 1-6 1-7 1-7 1-9 1-9 1-10 1-11 1-12 1-11 1-13 1-12 1-12 1-14 1-14 1-14 1-14 1-13 1-13 1-12 1-12 1-11 1-9 1-9 1-7 1-7 1-5 1-4 1-2 1 1 1 5 1 6 1 8 1 9 1 11 1 15 1 15 1 16 1 13 1 13 1 12 1 10 1 9 1 9 1 9 1 9 1 8 1 8 1 9 1 11 1 13 1 17 1 14 1 12 1 8 1 4 1-1 1-7 1-8 1-7 1 0 1 11 1 15 1 22 1 30 1 36 1 38 1 38 1 31 1 20 1 11 1 4 1 4 1 2 1 2 1 1 1 1 1 0 1-1 1-2 1-2 1-2 1-2 1-3 1-3 1-3 1-3"/>
<path d="M0 -280l1-1 1-2 1-2 1-3 1-3 1-4 1-4 1-6 1-6 1-7 1-8 1-7 1-7 1-8 1-7 1-8 1-8 1-9 1-10 1-11 1-12 1-12 1-12 1-13 1-13 1-13 1-14 1-15 1-15 1-14 1-14 1-13 1-12 1-12 1-11 1-10 1-8 1-7 1-6 1-5 1-3 1-1 1 2 1 5 1 7 1 8 1 9 1 11 1 15 1 15 1 14 1 13 1 11 1 10 1 8 1 9 1 8 1 7 1 8 1 8 1 8 1 8 1 9 1 10 1 11 1 9 1 7 1 5 1 1 1-3 1-6 1-6 1-4 1 2 1 9 1 14 1 20 1 28 1 36 1 40 1 44 1 35 1 20 1 8 1 2 1 1 1 1 1-1 1 0 1-1 1 0 1-1 1 0 1-1 1 0 1-1 1 0 1-1 1-1 1-1"/>
<path d="M0 -227l1 0 1-2 1-2 1-2 1-3 1-4 1-4 1-6 1-9 1-9 1-10 1-9 1-10 1-8 1-9 1-7 1-8 1-7 1-8 1-8 1-8 1-9 1-10 1-10 1-12 1-12 1-13 1-14 1-13 1-14 1-13 1-12 1-12 1-11 1-11 1-10 1-9 1-9 1-7 1-6 1-4 1-3 1 1 1 6 1 8 1 8 1 10 1 12 1 17 1 17 1 13 1 12 1 11 1 10 1 5 1 3 1 3 1 3 1 3 1 4 1 5 1 9 1 14 1 17 1 21 1 18 1 15 1 9 1 6 1 1 1-6 1-7 1-6 1 2 1 12 1 17 1 24 1 31 1 35 1 33 1 30 1 23 1 17 1 10 1 5 1 2 1 2 1 1 1 1 1 0 1-1 1-1 1-2 1-2 1-2 1-2 1-2 1-2 1-2 1-2"/>
<path d="M0 -280l1-3 1-3 1-3 1-3 1-3 1-3 1-4 1-4 1-5 1-6 1-5 1-6 1-6 1-6 1-6 1-6 1-7 1-7 1-8 1-9 1-10 1-10 1-12 1-12 1-13 1-13 1-15 1-15 1-16 1-16 1-15 1-14 1-14 1-13 1-12 1-11 1-9 1-7 1-7 1-4 1-3 1-1 1 3 1 6 1 8 1 10 1 10 1 13 1 16 1 17 1 15 1 13 1 12 1 10 1 8 1 6 1 6 1 6 1 5 1 6 1 7 1 7 1 9 1 11 1 13 1 11 1 9 1 5 1 2 1-2 1-6 1-7 1-5 1 2 1 10 1 16 1 21 1 30 1 37 1 39 1 41 1 32 1 20 1 9 1 4 1 2 1 0 1 1 1 0 1-1 1 0 1-2 1-1 1-2 1-1 1-2 1-1 1-2 1-2 1-1"/>
<path d="M0 -254l1-1 1-2 1-1 1-2 1-2 1-3 1-3 1-4 1-6 1-7 1-6 1-6 1-6 1-6 1-5 1-4 1-3 1-3 1-3 1-5 1-4 1-7 1-7 1-9 1-11 1-11 1-13 1-13 1-14 1-14 1-13 1-13 1-13 1-12 1-12 1-10 1-9 1-7 1-7 1-5 1-3 1-2 1 1 1 7 1 9 1 9 1 11 1 14 1 16 1 17 1 14 1 11 1 11 1 8 1 5 1 2 1 1 1 1 1 1 1 1 1 1 1 2 1 6 1 9 1 14 1 12 1 10 1 7 1 3 1-2 1-8 1-10 1-9 1-1 1 11 1 17 1 22 1 30 1 36 1 36 1 36 1 29 1 19 1 10 1 4 1 2 1 2 1 1 1 1 1 0 1-1 1-1 1-3 1-2 1-2 1-2 1-3 1-3 1-3 1-2"/>
<path d="M0 -285l1-3 1-3 1-3 1-3 1-3 1-4 1-3 1-4 1-5 1-6 1-5 1-5 1-6 1-5 1-6 1-6 1-6 1-7 1-8 1-8 1-9 1-10 1-11 1-11 1-13 1-13 1-14 1-15 1-16 1-16 1-15 1-14 1-14 1-14 1-12 1-10 1-10 1-7 1-7 1-5 1-3 1-1 1 2 1 7 1 8 1 9 1 11 1 13 1 16 1 17 1 15 1 14 1 12 1 10 1 8 1 6 1 5 1 6 1 5 1 6 1 6 1 7 1 9 1 11 1 12 1 11 1 8 1 5 1 1 1-2 1-7 1-7 1-5 1 2 1 10 1 15 1 21 1 30 1 37 1 39 1 42 1 33 1 20 1 9 1 4 1 2 1 1 1 0 1 0 1 0 1-1 1-1 1-2 1-1 1-2 1-1 1-2 1-1 1-2 1-2"/>
<path d="M0 -282l1-2 1-3 1-3 1-4 1-3 1-4 1-4 1-5 1-6 1-7 1-6 1-7 1-7 1-7 1-7 1-8 1-8 1-9 1-11 1-11 1-12 1-13 1-13 1-13 1-14 1-13 1-15 1-16 1-16 1-16 1-15 1-14 1-14 1-14 1-12 1-11 1-9 1-7 1-6 1-4 1-3 1-1 1 3 1 5 1 7 1 8 1 10 1 12 1 14 1 15 1 15 1 14 1 13 1 11 1 10 1 10 1 9 1 10 1 9 1 9 1 9 1 8 1 10 1 10 1 11 1 9 1 7 1 5 1 1 1-4 1-7 1-7 1-4 1 2 1 8 1 13 1 18 1 28 1 36 1 41 1 44 1 37 1 20 1 8 1 3 1 1 1 1 1 0 1 0 1 0 1 0 1 0 1 0 1 0 1 0 1-1 1 0 1 0 1-1 1 0"/>
<path d="M0 -149l1-2 1-3 1-3 1-4 1-4 1-4 1-5 1-5 1-6 1-7 1-9 1-8 1-10 1-10 1-11 1-11 1-11 1-12 1-12 1-11 1-12 1-11 1-12 1-13 1-12 1-14 1-14 1-14 1-15 1-15 1-14 1-14 1-13 1-13 1-11 1-11 1-9 1-7 1-7 1-5 1-4 1-2 1 2 1 7 1 9 1 10 1 12 1 14 1 17 1 17 1 15 1 12 1 11 1 9 1 6 1 4 1 3 1 3 1 4 1 3 1 3 1 5 1 8 1 10 1 14 1 11 1 10 1 5 1 2 1-2 1-8 1-10 1-9 1-1 1 11 1 16 1 23 1 30 1 35 1 35 1 32 1 26 1 18 1 11 1 5 1 3 1 2 1 2 1 2 1 0 1 0 1-1 1-1 1-2 1-1 1-2 1-2 1-2 1-3 1-2"/>
<path d="M0 -275l1-2 1-2 1-3 1-3 1-3 1-3 1-4 1-5 1-5 1-7 1-6 1-6 1-7 1-6 1-6 1-6 1-7 1-7 1-7 1-8 1-9 1-9 1-10 1-11 1-11 1-12 1-13 1-14 1-14 1-13 1-14 1-13 1-12 1-12 1-11 1-10 1-10 1-8 1-7 1-6 1-4 1-2 1 2 1 5 1 7 1 9 1 9 1 13 1 15 1 16 1 14 1 12 1 12 1 9 1 7 1 4 1 5 1 4 1 5 1 5 1 5 1 6 1 9 1 11 1 11 1 11 1 7 1 4 1 1 1-3 1-8 1-7 1-5 1 1 1 9 1 15 1 19 1 29 1 36 1 40 1 43 1 34 1 20 1 9 1 4 1 2 1 1 1 1 1 1 1 0 1 0 1 0 1-1 1 0 1-1 1-1 1-1 1-2 1-1 1-2"/>
<path d="M0 -165l1-2 1-3 1-3 1-4 1-3 1-4 1-4 1-5 1-5 1-7 1-6 1-7 1-7 1-8 1-8 1-8 1-8 1-9 1-9 1-10 1-10 1-11 1-11 1-12 1-13 1-13 1-14 1-15 1-15 1-14 1-14 1-13 1-13 1-12 1-11 1-8 1-6 1-5 1-3 1-2 1-1 1 1 1 5 1 9 1 12 1 12 1 12 1 14 1 16 1 16 1 14 1 10 1 8 1 6 1 5 1 4 1 4 1 4 1 6 1 5 1 7 1 9 1 10 1 12 1 13 1 12 1 9 1 7 1 2 1-2 1-6 1-6 1-3 1 3 1 11 1 17 1 22 1 31 1 34 1 28 1 21 1 17 1 14 1 9 1 6 1 3 1 2 1 0 1 0 1 0 1 0 1-1 1 0 1 0 1 0 1 0 1-1 1 0 1 0 1 0"/>
<path d="M0 -290l1-2 1-1 1-2 1-2 1-3 1-3 1-3 1-4 1-5 1-5 1-6 1-5 1-6 1-5 1-6 1-5 1-6 1-6 1-7 1-8 1-8 1-9 1-10 1-11 1-11 1-13 1-13 1-14 1-14 1-15 1-14 1-13 1-13 1-12 1-11 1-11 1-9 1-8 1-7 1-5 1-4 1-1 1 2 1 5 1 8 1 9 1 11 1 13 1 16 1 17 1 15 1 13 1 12 1 10 1 7 1 5 1 5 1 4 1 5 1 4 1 6 1 6 1 10 1 11 1 14 1 12 1 9 1 6 1 2 1-3 1-7 1-9 1-7 1 1 1 10 1 14 1 21 1 29 1 35 1 38 1 41 1 32 1 19 1 9 1 3 1 2 1 1 1 1 1 0 1 0 1 0 1-1 1-1 1-1 1-1 1-2 1-1 1-1 1-2 1-2"/>
<path d="M0 -171l1-2 1-2 1-4 1-3 1-4 1-4 1-5 1-5 1-6 1-7 1-7 1-7 1-7 1-7 1-6 1-7 1-6 1-7 1-8 1-7 1-9 1-9 1-10 1-10 1-11 1-12 1-13 1-13 1-14 1-14 1-13 1-12 1-13 1-12 1-11 1-8 1-5 1-3 1-3 1-2 1-1 1 0 1 4 1 8 1 11 1 11 1 12 1 13 1 16 1 15 1 13 1 10 1 7 1 6 1 4 1 4 1 4 1 4 1 4 1 5 1 4 1 6 1 7 1 9 1 10 1 9 1 8 1 4 1 2 1-3 1-8 1-7 1-5 1 3 1 11 1 17 1 23 1 31 1 35 1 30 1 24 1 20 1 15 1 10 1 5 1 4 1 2 1 1 1 0 1 0 1 0 1 0 1-1 1-1 1 0 1-1 1-2 1-1 1-2 1-1"/>
<path d="M0 -323l1 0 1-1 1 0 1-1 1-1 1-2 1-2 1-2 1-3 1-4 1-5 1-5 1-5 1-6 1-7 1-7 1-8 1-9 1-11 1-11 1-13 1-13 1-12 1-13 1-13 1-13 1-14 1-16 1-15 1-16 1-14 1-13 1-12 1-12 1-11 1-9 1-8 1-6 1-6 1-5 1-4 1-1 1 2 1 4 1 7 1 8 1 9 1 12 1 14 1 15 1 15 1 14 1 12 1 11 1 11 1 9 1 10 1 10 1 10 1 9 1 9 1 9 1 10 1 10 1 11 1 10 1 8 1 5 1 0 1-4 1-7 1-7 1-4 1 1 1 9 1 13 1 18 1 29 1 36 1 41 1 44 1 37 1 20 1 9 1 4 1 2 1 1 1 1 1 1 1 0 1 0 1 0 1-1 1-1 1-1 1-1 1-2 1-1 1-2 1-1"/>
<path d="M0 -148l1-1 1-2 1-2 1-3 1-3 1-4 1-4 1-4 1-5 1-5 1-6 1-7 1-7 1-8 1-8 1-8 1-9 1-9 1-10 1-10 1-10 1-11 1-12 1-11 1-12 1-13 1-13 1-15 1-15 1-14 1-14 1-13 1-13 1-13 1-11 1-8 1-5 1-3 1-2 1-2 1-1 1 0 1 5 1 9 1 11 1 12 1 13 1 15 1 16 1 16 1 14 1 11 1 8 1 7 1 5 1 6 1 6 1 6 1 5 1 6 1 5 1 7 1 7 1 8 1 8 1 7 1 6 1 4 1 0 1-4 1-7 1-8 1-3 1 3 1 11 1 16 1 22 1 31 1 34 1 27 1 22 1 17 1 14 1 9 1 6 1 3 1 2 1 1 1-1 1 0 1 0 1 0 1-1 1 0 1-1 1 0 1-1 1-1 1-1 1 0"/>
<path d="M0 -148l1-2 1-3 1-3 1-4 1-5 1-4 1-6 1-6 1-7 1-8 1-9 1-10 1-11 1-11 1-12 1-11 1-12 1-12 1-11 1-12 1-11 1-11 1-12 1-12 1-12 1-13 1-14 1-14 1-14 1-14 1-13 1-13 1-12 1-12 1-11 1-9 1-8 1-7 1-5 1-4 1-3 1-1 1 3 1 7 1 10 1 10 1 11 1 14 1 17 1 16 1 14 1 11 1 10 1 8 1 4 1 3 1 3 1 2 1 3 1 2 1 3 1 5 1 8 1 10 1 14 1 13 1 9 1 6 1 3 1-1 1-8 1-10 1-8 1 0 1 11 1 17 1 23 1 31 1 35 1 34 1 32 1 26 1 18 1 10 1 5 1 3 1 3 1 1 1 2 1 0 1 0 1-1 1-1 1-2 1-1 1-2 1-2 1-2 1-2 1-3"/>
<path d="M0 -206l1-1 1-2 1-2 1-3 1-3 1-3 1-4 1-5 1-7 1-8 1-8 1-7 1-8 1-7 1-7 1-6 1-7 1-6 1-7 1-8 1-8 1-8 1-10 1-11 1-11 1-13 1-13 1-14 1-14 1-15 1-13 1-13 1-13 1-12 1-11 1-10 1-8 1-7 1-5 1-4 1-3 1-1 1 3 1 8 1 10 1 11 1 13 1 14 1 18 1 17 1 15 1 13 1 11 1 9 1 6 1 5 1 5 1 6 1 6 1 7 1 8 1 10 1 11 1 13 1 15 1 12 1 10 1 6 1 2 1-2 1-7 1-8 1-4 1 3 1 11 1 16 1 23 1 31 1 34 1 30 1 24 1 19 1 15 1 10 1 5 1 4 1 3 1 1 1 1 1 0 1 0 1 0 1 0 1 0 1 0 1 0 1-1 1 0 1-1 1-1"/>
<path d="M0 -167l1-2 1-3 1-4 1-4 1-4 1-4 1-5 1-6 1-6 1-7 1-6 1-7 1-6 1-6 1-6 1-5 1-5 1-6 1-7 1-7 1-8 1-9 1-9 1-11 1-11 1-12 1-13 1-15 1-14 1-15 1-13 1-14 1-13 1-13 1-11 1-9 1-5 1-3 1-3 1-2 1-1 1 1 1 5 1 9 1 12 1 14 1 13 1 16 1 17 1 17 1 14 1 11 1 8 1 5 1 5 1 5 1 6 1 5 1 5 1 6 1 5 1 6 1 7 1 7 1 7 1 7 1 6 1 3 1 0 1-4 1-8 1-8 1-4 1 4 1 11 1 17 1 23 1 32 1 35 1 28 1 22 1 17 1 15 1 9 1 5 1 4 1 2 1 1 1 0 1 0 1 0 1 0 1 0 1-1 1 0 1-1 1-1 1-2 1-1 1-1"/>
<path d="M0 -181l1-2 1-3 1-4 1-4 1-4 1-5 1-5 1-6 1-8 1-9 1-8 1-9 1-9 1-9 1-9 1-8 1-8 1-8 1-8 1-8 1-8 1-9 1-10 1-10 1-11 1-12 1-13 1-13 1-14 1-14 1-12 1-13 1-13 1-11 1-11 1-10 1-7 1-7 1-5 1-5 1-3 1-2 1 2 1 6 1 9 1 10 1 10 1 13 1 15 1 16 1 13 1 11 1 9 1 8 1 5 1 2 1 3 1 2 1 3 1 3 1 4 1 6 1 8 1 12 1 15 1 13 1 11 1 7 1 3 1-1 1-7 1-8 1-8 1 2 1 12 1 17 1 23 1 31 1 36 1 33 1 30 1 24 1 18 1 9 1 5 1 3 1 2 1 1 1 1 1 0 1-1 1-1 1-2 1-2 1-2 1-3 1-2 1-3 1-3 1-3"/>
<path d="M0 -226l1-3 1-3 1-3 1-4 1-4 1-5 1-5 1-6 1-9 1-9 1-9 1-9 1-8 1-9 1-7 1-7 1-7 1-7 1-7 1-7 1-7 1-8 1-9 1-10 1-11 1-12 1-12 1-13 1-14 1-13 1-13 1-13 1-12 1-12 1-10 1-10 1-10 1-9 1-8 1-6 1-4 1-3 1 1 1 6 1 8 1 9 1 10 1 13 1 18 1 17 1 13 1 12 1 12 1 9 1 5 1 2 1 1 1 2 1 2 1 3 1 3 1 6 1 9 1 13 1 16 1 14 1 11 1 6 1 3 1-2 1-8 1-9 1-8 1 0 1 11 1 16 1 22 1 30 1 36 1 37 1 38 1 29 1 20 1 10 1 4 1 3 1 2 1 2 1 1 1 1 1 0 1-1 1-2 1-1 1-2 1-2 1-2 1-2 1-3 1-3"/>
<path d="M0 -159l1-2 1-3 1-3 1-4 1-4 1-4 1-5 1-5 1-6 1-7 1-7 1-7 1-7 1-7 1-8 1-7 1-7 1-7 1-8 1-8 1-9 1-10 1-10 1-11 1-11 1-12 1-13 1-14 1-14 1-14 1-12 1-13 1-12 1-12 1-10 1-8 1-4 1-2 1-2 1-1 1 0 1 1 1 5 1 9 1 12 1 13 1 13 1 14 1 15 1 16 1 13 1 11 1 7 1 6 1 4 1 6 1 5 1 5 1 5 1 6 1 4 1 4 1 6 1 6 1 7 1 7 1 5 1 4 1-1 1-4 1-9 1-8 1-5 1 2 1 10 1 16 1 22 1 31 1 34 1 29 1 24 1 19 1 15 1 10 1 5 1 4 1 2 1 1 1 1 1 0 1 0 1 0 1 0 1-1 1 0 1-1 1 0 1-1 1-1 1-1"/>
<path d="M0 -335l1-1 1-1 1-2 1-1 1-2 1-1 1-2 1-2 1-3 1-2 1-3 1-4 1-4 1-4 1-5 1-6 1-6 1-8 1-9 1-10 1-11 1-12 1-13 1-12 1-13 1-14 1-15 1-15 1-17 1-16 1-15 1-14 1-14 1-13 1-12 1-9 1-8 1-7 1-6 1-5 1-3 1 0 1 2 1 6 1 7 1 8 1 10 1 12 1 14 1 16 1 15 1 14 1 12 1 11 1 11 1 10 1 10 1 9 1 9 1 9 1 9 1 8 1 10 1 11 1 10 1 10 1 8 1 4 1 1 1-3 1-7 1-7 1-4 1 2 1 8 1 13 1 19 1 27 1 36 1 40 1 44 1 36 1 20 1 8 1 3 1 1 1 0 1 1 1 0 1 0 1 0 1 0 1 0 1 0 1 0 1 0 1 0 1-1 1 0 1-1"/>
<path d="M0 -148l1-3 1-3 1-3 1-4 1-4 1-4 1-4 1-5 1-5 1-6 1-7 1-7 1-8 1-8 1-9 1-9 1-10 1-10 1-11 1-11 1-12 1-12 1-12 1-13 1-13 1-13 1-15 1-15 1-15 1-14 1-13 1-13 1-13 1-12 1-10 1-8 1-5 1-4 1-3 1-2 1-1 1 1 1 4 1 9 1 10 1 11 1 11 1 13 1 14 1 15 1 12 1 9 1 6 1 5 1 3 1 1 1 1 1 1 1 0 1 0 1 0 1 1 1 4 1 6 1 11 1 10 1 7 1 5 1 1 1-2 1-10 1-11 1-11 1-1 1 10 1 16 1 22 1 29 1 35 1 36 1 35 1 28 1 19 1 10 1 5 1 3 1 2 1 2 1 2 1 1 1 1 1-1 1-2 1-1 1-2 1-3 1-2 1-4 1-3 1-3"/>
<path d="M0 -215l1-1 1-2 1-3 1-3 1-3 1-4 1-4 1-6 1-8 1-9 1-9 1-9 1-8 1-9 1-7 1-8 1-7 1-7 1-8 1-7 1-8 1-8 1-10 1-11 1-11 1-13 1-13 1-13 1-15 1-14 1-13 1-14 1-13 1-12 1-11 1-11 1-10 1-10 1-8 1-6 1-4 1-3 1 1 1 6 1 8 1 10 1 11 1 13 1 18 1 18 1 14 1 13 1 12 1 11 1 5 1 4 1 3 1 3 1 4 1 4 1 5 1 7 1 10 1 14 1 17 1 15 1 12 1 8 1 4 1-1 1-7 1-9 1-9 1 1 1 11 1 17 1 23 1 30 1 35 1 34 1 33 1 25 1 18 1 10 1 5 1 3 1 2 1 1 1 1 1 0 1 0 1-2 1-2 1-2 1-2 1-3 1-2 1-3 1-3 1-3"/>
<path d="M0 -275l1-2 1-2 1-2 1-3 1-3 1-3 1-4 1-5 1-6 1-6 1-7 1-7 1-8 1-7 1-7 1-8 1-8 1-9 1-9 1-11 1-11 1-12 1-12 1-13 1-13 1-13 1-15 1-15 1-15 1-16 1-14 1-14 1-14 1-13 1-12 1-10 1-9 1-8 1-7 1-5 1-4 1-2 1 2 1 5 1 7 1 8 1 9 1 12 1 14 1 15 1 15 1 13 1 12 1 10 1 9 1 9 1 8 1 8 1 8 1 8 1 7 1 8 1 9 1 10 1 10 1 9 1 8 1 4 1 0 1-3 1-7 1-6 1-4 1 3 1 8 1 14 1 19 1 28 1 37 1 40 1 44 1 36 1 20 1 8 1 3 1 1 1 1 1 0 1-1 1 0 1 0 1-1 1 0 1-1 1 0 1-1 1-1 1 0 1-1 1-1"/>
<path d="M0 -171l1-2 1-2 1-3 1-3 1-3 1-4 1-4 1-5 1-6 1-7 1-7 1-7 1-8 1-7 1-7 1-8 1-7 1-8 1-9 1-8 1-9 1-10 1-10 1-11 1-12 1-12 1-13 1-15 1-14 1-14 1-13 1-13 1-13 1-12 1-11 1-9 1-6 1-5 1-4 1-3 1-2 1-1 1 3 1 8 1 10 1 10 1 12 1 13 1 16 1 16 1 13 1 11 1 9 1 7 1 5 1 4 1 4 1 5 1 5 1 6 1 6 1 8 1 9 1 11 1 12 1 11 1 9 1 5 1 3 1-3 1-7 1-7 1-4 1 3 1 11 1 17 1 23 1 32 1 35 1 29 1 23 1 19 1 15 1 9 1 6 1 4 1 2 1 1 1 0 1 0 1 0 1 0 1-1 1-1 1 0 1-1 1-1 1-2 1-1 1-1"/>
<path d="M0 -197l1-1 1-2 1-3 1-2 1-4 1-3 1-5 1-5 1-8 1-8 1-9 1-9 1-9 1-9 1-10 1-9 1-9 1-9 1-10 1-9 1-10 1-9 1-11 1-12 1-12 1-13 1-14 1-14 1-14 1-15 1-13 1-14 1-13 1-13 1-11 1-11 1-11 1-9 1-8 1-6 1-4 1-3 1 1 1 6 1 9 1 10 1 11 1 14 1 18 1 18 1 15 1 12 1 13 1 10 1 6 1 3 1 3 1 3 1 3 1 4 1 4 1 7 1 10 1 13 1 17 1 15 1 11 1 7 1 4 1-1 1-7 1-10 1-9 1 0 1 11 1 16 1 24 1 30 1 36 1 34 1 34 1 27 1 18 1 11 1 5 1 3 1 2 1 2 1 1 1 1 1 0 1-1 1-2 1-1 1-2 1-2 1-2 1-2 1-3 1-3"/>
<path d="M0 -323l1-1 1-1 1-1 1-2 1-3 1-2 1-3 1-4 1-3 1-4 1-4 1-4 1-4 1-5 1-5 1-5 1-5 1-7 1-8 1-8 1-9 1-10 1-10 1-10 1-11 1-12 1-12 1-14 1-14 1-14 1-13 1-12 1-13 1-12 1-11 1-10 1-8 1-8 1-7 1-6 1-4 1-2 1 1 1 5 1 7 1 8 1 9 1 11 1 15 1 15 1 14 1 13 1 12 1 10 1 9 1 8 1 7 1 7 1 7 1 8 1 7 1 8 1 10 1 11 1 13 1 11 1 9 1 6 1 2 1-2 1-7 1-7 1-6 1 1 1 10 1 14 1 20 1 28 1 35 1 39 1 41 1 33 1 20 1 8 1 3 1 1 1 1 1 1 1 0 1 0 1 0 1 0 1 0 1-1 1 0 1-1 1 0 1-1 1-2 1-1"/>
<path d="M0 -264l1-2 1-3 1-3 1-4 1-4 1-4 1-5 1-5 1-7 1-7 1-7 1-7 1-7 1-7 1-7 1-7 1-7 1-7 1-8 1-9 1-9 1-9 1-10 1-11 1-12 1-12 1-13 1-14 1-14 1-14 1-13 1-13 1-13 1-12 1-11 1-10 1-10 1-8 1-8 1-6 1-4 1-2 1 1 1 4 1 7 1 8 1 10 1 12 1 15 1 16 1 14 1 13 1 12 1 11 1 8 1 7 1 6 1 6 1 7 1 6 1 7 1 9 1 11 1 14 1 18 1 16 1 14 1 9 1 7 1 1 1-6 1-8 1-8 1 0 1 12 1 18 1 24 1 30 1 36 1 36 1 35 1 27 1 19 1 10 1 4 1 2 1 2 1 1 1 1 1 0 1-1 1-2 1-2 1-2 1-2 1-3 1-2 1-3 1-3 1-3"/>
<path d="M0 -271l1-1 1-2 1-2 1-2 1-2 1-3 1-2 1-4 1-4 1-6 1-5 1-5 1-5 1-4 1-5 1-3 1-4 1-3 1-3 1-3 1-4 1-5 1-7 1-8 1-10 1-11 1-12 1-13 1-14 1-13 1-13 1-13 1-13 1-13 1-11 1-10 1-9 1-8 1-7 1-5 1-5 1-2 1 1 1 6 1 8 1 9 1 10 1 13 1 16 1 17 1 13 1 12 1 10 1 9 1 4 1 2 1 1 1 2 1 1 1 1 1 1 1 3 1 6 1 11 1 15 1 14 1 11 1 6 1 4 1-1 1-8 1-10 1-9 1 0 1 11 1 16 1 23 1 30 1 36 1 36 1 36 1 28 1 19 1 10 1 4 1 3 1 1 1 1 1 1 1 0 1-1 1-2 1-2 1-2 1-2 1-2 1-3 1-3 1-2 1-3"/>
<path d="M0 -231l1-2 1-3 1-4 1-4 1-4 1-4 1-5 1-6 1-8 1-9 1-9 1-8 1-8 1-8 1-7 1-6 1-7 1-6 1-7 1-6 1-7 1-7 1-9 1-9 1-11 1-11 1-12 1-13 1-13 1-13 1-13 1-13 1-12 1-12 1-10 1-11 1-10 1-9 1-7 1-6 1-4 1-3 1 1 1 6 1 8 1 8 1 11 1 12 1 17 1 17 1 14 1 12 1 11 1 10 1 5 1 3 1 2 1 3 1 4 1 5 1 6 1 9 1 13 1 15 1 20 1 17 1 13 1 9 1 5 1 0 1-6 1-8 1-7 1 2 1 12 1 18 1 23 1 32 1 36 1 33 1 30 1 24 1 18 1 10 1 5 1 4 1 2 1 2 1 1 1 0 1 0 1-1 1-1 1-1 1-2 1-2 1-1 1-3 1-2 1-2"/>
<path d="M0 -328l1-1 1 0 1-1 1-1 1-1 1-2 1-2 1-2 1-2 1-3 1-4 1-3 1-4 1-5 1-4 1-5 1-6 1-7 1-7 1-9 1-9 1-10 1-11 1-12 1-12 1-13 1-14 1-14 1-16 1-15 1-15 1-13 1-14 1-13 1-12 1-10 1-9 1-8 1-6 1-6 1-3 1-1 1 2 1 6 1 7 1 9 1 10 1 12 1 16 1 16 1 16 1 13 1 13 1 11 1 9 1 7 1 8 1 7 1 7 1 7 1 7 1 7 1 10 1 11 1 13 1 11 1 8 1 6 1 1 1-2 1-7 1-8 1-5 1 1 1 9 1 14 1 20 1 28 1 36 1 39 1 41 1 34 1 20 1 8 1 3 1 1 1 1 1 0 1 1 1-1 1 0 1 0 1-1 1-1 1 0 1-1 1-1 1-1 1-1 1-1"/>
<path d="M0 -278l1-2 1-2 1-3 1-2 1-3 1-2 1-3 1-4 1-5 1-5 1-5 1-5 1-5 1-5 1-4 1-5 1-4 1-5 1-5 1-5 1-5 1-6 1-7 1-9 1-10 1-11 1-12 1-12 1-14 1-13 1-13 1-14 1-12 1-13 1-11 1-11 1-11 1-11 1-8 1-7 1-5 1-4 1 1 1 5 1 7 1 8 1 10 1 13 1 16 1 17 1 14 1 12 1 12 1 10 1 5 1 3 1 2 1 2 1 3 1 3 1 4 1 6 1 9 1 12 1 15 1 14 1 10 1 6 1 3 1-2 1-8 1-9 1-8 1 1 1 10 1 16 1 21 1 29 1 36 1 37 1 38 1 30 1 19 1 10 1 3 1 2 1 1 1 1 1 0 1 0 1 0 1-2 1-1 1-2 1-1 1-2 1-2 1-2 1-2 1-2"/>
<path d="M0 -150l1-2 1-2 1-2 1-3 1-4 1-3 1-4 1-4 1-5 1-5 1-6 1-7 1-7 1-7 1-7 1-8 1-8 1-9 1-10 1-10 1-10 1-11 1-12 1-11 1-12 1-13 1-13 1-15 1-15 1-14 1-14 1-13 1-13 1-13 1-11 1-8 1-5 1-3 1-2 1-2 1-1 1 0 1 5 1 9 1 11 1 13 1 13 1 14 1 17 1 16 1 14 1 12 1 8 1 6 1 6 1 5 1 6 1 5 1 5 1 6 1 6 1 6 1 7 1 8 1 8 1 7 1 6 1 4 1 0 1-4 1-7 1-8 1-4 1 3 1 11 1 16 1 22 1 31 1 33 1 27 1 22 1 17 1 14 1 10 1 5 1 3 1 3 1 0 1 1 1 0 1 0 1 0 1-1 1 0 1 0 1 0 1 0 1-1 1 0 1 0"/>
<path d="M0 -240l1-2 1-3 1-3 1-3 1-4 1-4 1-5 1-5 1-7 1-8 1-8 1-7 1-8 1-6 1-7 1-5 1-5 1-6 1-5 1-5 1-6 1-6 1-7 1-10 1-10 1-11 1-12 1-13 1-13 1-13 1-13 1-13 1-12 1-12 1-10 1-10 1-9 1-8 1-6 1-5 1-3 1-2 1 2 1 6 1 9 1 10 1 11 1 14 1 17 1 17 1 14 1 12 1 11 1 9 1 6 1 4 1 3 1 5 1 5 1 5 1 7 1 9 1 13 1 14 1 17 1 15 1 12 1 8 1 4 1-2 1-6 1-8 1-6 1 2 1 12 1 17 1 23 1 31 1 35 1 31 1 28 1 22 1 16 1 10 1 6 1 3 1 3 1 1 1 1 1 0 1 0 1 0 1-1 1-1 1 0 1-1 1-1 1-2 1-1 1-1"/>
<path d="M0 -214l1-3 1-3 1-3 1-4 1-4 1-5 1-5 1-6 1-9 1-9 1-10 1-8 1-9 1-8 1-7 1-7 1-7 1-6 1-7 1-6 1-7 1-7 1-9 1-10 1-11 1-11 1-13 1-13 1-13 1-14 1-13 1-13 1-13 1-12 1-11 1-10 1-10 1-9 1-8 1-6 1-5 1-3 1 1 1 5 1 7 1 8 1 10 1 12 1 17 1 17 1 13 1 12 1 12 1 9 1 6 1 3 1 3 1 3 1 4 1 5 1 6 1 9 1 12 1 15 1 19 1 16 1 13 1 9 1 5 1 0 1-6 1-8 1-7 1 2 1 12 1 17 1 24 1 31 1 35 1 33 1 30 1 23 1 18 1 9 1 5 1 3 1 2 1 1 1 1 1 0 1-1 1-1 1-2 1-2 1-2 1-3 1-2 1-3 1-3 1-2"/>
<path d="M0 -213l1-2 1-2 1-3 1-3 1-4 1-5 1-5 1-7 1-9 1-11 1-11 1-11 1-11 1-11 1-10 1-9 1-10 1-9 1-10 1-11 1-11 1-12 1-12 1-13 1-14 1-14 1-14 1-16 1-15 1-15 1-14 1-14 1-13 1-12 1-12 1-10 1-8 1-8 1-7 1-5 1-3 1-1 1 2 1 6 1 8 1 9 1 10 1 13 1 17 1 17 1 15 1 13 1 12 1 11 1 8 1 6 1 5 1 5 1 5 1 5 1 6 1 8 1 10 1 13 1 17 1 15 1 12 1 7 1 5 1-1 1-7 1-9 1-7 1 0 1 11 1 16 1 23 1 29 1 36 1 37 1 37 1 30 1 19 1 10 1 5 1 3 1 2 1 1 1 2 1 0 1 0 1-1 1-1 1-2 1-1 1-2 1-2 1-3 1-3 1-2"/>
<path d="M0 -210l1-2 1-2 1-3 1-3 1-4 1-4 1-4 1-6 1-8 1-9 1-9 1-9 1-9 1-9 1-8 1-8 1-8 1-8 1-8 1-8 1-8 1-9 1-9 1-11 1-12 1-12 1-13 1-14 1-14 1-14 1-14 1-13 1-13 1-13 1-11 1-11 1-12 1-10 1-8 1-7 1-5 1-3 1 0 1 5 1 8 1 8 1 10 1 13 1 16 1 18 1 14 1 12 1 12 1 10 1 6 1 3 1 2 1 3 1 3 1 4 1 4 1 6 1 11 1 14 1 20 1 16 1 14 1 8 1 6 1 0 1-7 1-9 1-8 1 0 1 12 1 17 1 24 1 31 1 36 1 35 1 33 1 27 1 18 1 10 1 5 1 3 1 2 1 1 1 1 1 0 1-1 1-1 1-3 1-2 1-3 1-3 1-3 1-3 1-4 1-3"/>
<path d="M0 -215l1-1 1-2 1-2 1-3 1-3 1-4 1-5 1-6 1-8 1-10 1-9 1-9 1-9 1-9 1-8 1-8 1-8 1-7 1-8 1-7 1-8 1-8 1-9 1-11 1-11 1-12 1-13 1-13 1-13 1-14 1-13 1-12 1-13 1-11 1-11 1-9 1-10 1-8 1-6 1-5 1-4 1-2 1 2 1 6 1 8 1 9 1 11 1 12 1 17 1 16 1 13 1 11 1 11 1 8 1 4 1 2 1 1 1 1 1 2 1 3 1 3 1 6 1 9 1 14 1 18 1 15 1 13 1 8 1 5 1 1 1-7 1-9 1-8 1 1 1 12 1 18 1 24 1 31 1 36 1 35 1 33 1 26 1 19 1 10 1 5 1 2 1 2 1 1 1 1 1 0 1-1 1-1 1-3 1-2 1-3 1-3 1-3 1-3 1-3 1-4"/>
<path d="M0 -205l1-2 1-3 1-3 1-3 1-3 1-3 1-5 1-4 1-7 1-7 1-6 1-6 1-5 1-4 1-4 1-4 1-3 1-4 1-4 1-5 1-7 1-7 1-9 1-9 1-11 1-11 1-13 1-14 1-14 1-14 1-13 1-13 1-14 1-12 1-11 1-9 1-6 1-4 1-4 1-3 1-2 1 0 1 4 1 8 1 11 1 11 1 13 1 14 1 16 1 16 1 15 1 11 1 9 1 7 1 5 1 5 1 5 1 4 1 5 1 4 1 5 1 5 1 6 1 7 1 9 1 9 1 6 1 4 1 0 1-4 1-8 1-9 1-7 1 1 1 10 1 16 1 22 1 30 1 34 1 31 1 26 1 22 1 16 1 9 1 5 1 4 1 2 1 1 1 1 1 0 1 0 1 0 1-1 1-1 1-1 1-1 1-1 1-1 1-1 1-1"/>
<path d="M0 -142l1-1 1-2 1-3 1-4 1-4 1-4 1-5 1-5 1-6 1-7 1-7 1-8 1-9 1-9 1-9 1-10 1-9 1-10 1-10 1-10 1-11 1-11 1-11 1-12 1-12 1-12 1-14 1-14 1-14 1-14 1-13 1-12 1-12 1-12 1-11 1-7 1-5 1-2 1-2 1-1 1-1 1 1 1 6 1 9 1 12 1 12 1 13 1 14 1 15 1 16 1 13 1 10 1 7 1 5 1 3 1 3 1 3 1 3 1 2 1 2 1 1 1 3 1 3 1 6 1 8 1 8 1 6 1 3 1 1 1-4 1-8 1-10 1-7 1 1 1 11 1 17 1 23 1 31 1 36 1 32 1 29 1 22 1 17 1 10 1 6 1 3 1 3 1 1 1 1 1 1 1 0 1-1 1-1 1-1 1-1 1-2 1-2 1-2 1-2 1-2"/>
<path d="M0 -254l1-1 1-2 1-2 1-3 1-3 1-4 1-4 1-5 1-7 1-7 1-8 1-7 1-7 1-6 1-6 1-6 1-5 1-6 1-5 1-6 1-6 1-7 1-7 1-10 1-10 1-11 1-11 1-13 1-13 1-13 1-12 1-13 1-12 1-11 1-11 1-10 1-9 1-9 1-7 1-5 1-4 1-2 1 1 1 6 1 8 1 9 1 10 1 12 1 16 1 17 1 13 1 11 1 10 1 9 1 4 1 1 1 1 1 1 1 1 1 2 1 4 1 6 1 9 1 13 1 18 1 15 1 12 1 8 1 4 1 0 1-7 1-9 1-8 1 0 1 12 1 17 1 24 1 31 1 37 1 36 1 35 1 28 1 19 1 10 1 5 1 2 1 2 1 1 1 1 1 0 1 0 1-2 1-3 1-3 1-2 1-3 1-3 1-3 1-4 1-3"/>
<path d="M0 -186l1-2 1-3 1-3 1-4 1-4 1-4 1-5 1-6 1-7 1-8 1-7 1-8 1-8 1-7 1-7 1-6 1-6 1-7 1-6 1-8 1-7 1-9 1-9 1-10 1-11 1-12 1-13 1-13 1-14 1-13 1-13 1-13 1-12 1-12 1-10 1-8 1-6 1-5 1-3 1-2 1-2 1 0 1 4 1 9 1 11 1 11 1 13 1 14 1 16 1 16 1 14 1 11 1 8 1 6 1 5 1 3 1 4 1 3 1 3 1 4 1 3 1 4 1 7 1 8 1 10 1 10 1 7 1 5 1 1 1-3 1-8 1-9 1-7 1 0 1 11 1 17 1 22 1 31 1 35 1 31 1 29 1 23 1 16 1 10 1 5 1 4 1 2 1 1 1 1 1 1 1 0 1-1 1-1 1-1 1-1 1-1 1-2 1-1 1-2 1-2"/>
<path d="M0 -212l1-1 1-2 1-2 1-3 1-3 1-3 1-4 1-5 1-7 1-7 1-7 1-6 1-6 1-5 1-4 1-4 1-4 1-4 1-4 1-6 1-6 1-8 1-8 1-10 1-11 1-12 1-12 1-14 1-14 1-14 1-14 1-13 1-13 1-12 1-11 1-9 1-6 1-5 1-4 1-3 1-2 1 0 1 3 1 8 1 11 1 11 1 12 1 14 1 16 1 16 1 14 1 11 1 9 1 6 1 4 1 3 1 3 1 2 1 2 1 1 1 0 1 2 1 3 1 6 1 10 1 9 1 7 1 3 1 2 1-3 1-9 1-10 1-10 1 0 1 11 1 16 1 23 1 30 1 36 1 34 1 33 1 25 1 19 1 10 1 4 1 3 1 2 1 1 1 1 1 0 1 0 1-2 1-2 1-3 1-2 1-3 1-3 1-3 1-3 1-3"/>
<path d="M0 -202l1-2 1-3 1-4 1-4 1-4 1-4 1-5 1-7 1-8 1-9 1-9 1-8 1-9 1-8 1-8 1-7 1-7 1-7 1-8 1-7 1-7 1-8 1-9 1-11 1-11 1-12 1-12 1-13 1-14 1-14 1-13 1-13 1-13 1-12 1-11 1-11 1-9 1-9 1-7 1-6 1-4 1-3 1 0 1 6 1 8 1 8 1 10 1 13 1 16 1 17 1 13 1 12 1 11 1 9 1 6 1 3 1 2 1 3 1 4 1 3 1 5 1 7 1 10 1 14 1 17 1 15 1 12 1 7 1 5 1-1 1-7 1-9 1-8 1 1 1 11 1 17 1 24 1 30 1 35 1 34 1 32 1 25 1 18 1 9 1 5 1 3 1 1 1 2 1 0 1 1 1-1 1-2 1-2 1-2 1-2 1-2 1-3 1-3 1-3 1-2"/>
<path d="M0 -156l1-1 1-2 1-2 1-3 1-3 1-3 1-4 1-4 1-5 1-5 1-6 1-6 1-7 1-7 1-7 1-8 1-8 1-8 1-9 1-10 1-10 1-11 1-12 1-11 1-12 1-13 1-14 1-15 1-15 1-14 1-14 1-13 1-13 1-13 1-11 1-7 1-5 1-3 1-2 1-1 1-1 1 1 1 6 1 9 1 13 1 13 1 14 1 15 1 15 1 16 1 14 1 11 1 7 1 6 1 5 1 5 1 5 1 5 1 6 1 5 1 6 1 6 1 7 1 8 1 8 1 7 1 6 1 3 1 0 1-5 1-8 1-8 1-5 1 3 1 10 1 17 1 22 1 31 1 34 1 28 1 23 1 18 1 15 1 9 1 6 1 4 1 3 1 1 1 0 1 0 1 0 1 0 1 0 1 0 1-1 1 0 1-1 1 0 1-1 1-1"/>
<path d="M0 -291l1-1 1-2 1-2 1-3 1-3 1-3 1-3 1-4 1-5 1-5 1-5 1-5 1-5 1-5 1-5 1-4 1-5 1-5 1-6 1-6 1-6 1-7 1-8 1-9 1-10 1-11 1-12 1-12 1-13 1-13 1-12 1-13 1-12 1-11 1-11 1-10 1-9 1-9 1-8 1-6 1-4 1-3 1 1 1 5 1 7 1 9 1 9 1 13 1 16 1 16 1 14 1 12 1 11 1 10 1 5 1 4 1 3 1 4 1 3 1 4 1 5 1 7 1 11 1 13 1 18 1 16 1 12 1 9 1 5 1 1 1-7 1-8 1-8 1 0 1 12 1 18 1 24 1 31 1 36 1 36 1 35 1 28 1 19 1 10 1 5 1 2 1 2 1 1 1 1 1 0 1 0 1-2 1-3 1-3 1-2 1-3 1-3 1-3 1-4 1-3"/>
<path d="M0 -226l1-2 1-2 1-3 1-3 1-4 1-4 1-4 1-6 1-8 1-9 1-9 1-8 1-8 1-7 1-7 1-5 1-5 1-5 1-5 1-6 1-6 1-7 1-8 1-10 1-11 1-11 1-13 1-13 1-13 1-14 1-13 1-12 1-13 1-11 1-11 1-10 1-8 1-7 1-6 1-4 1-3 1-2 1 3 1 7 1 10 1 10 1 12 1 13 1 17 1 17 1 14 1 11 1 10 1 8 1 5 1 2 1 1 1 1 1 1 1 1 1 1 1 2 1 6 1 9 1 14 1 12 1 10 1 6 1 3 1-2 1-8 1-10 1-10 1 0 1 11 1 16 1 23 1 30 1 36 1 36 1 36 1 29 1 19 1 11 1 4 1 3 1 2 1 2 1 2 1 1 1 0 1-1 1-2 1-2 1-2 1-2 1-3 1-2 1-3 1-3"/>
<path d="M0 -149l1-1 1-2 1-2 1-3 1-3 1-4 1-4 1-4 1-5 1-6 1-6 1-7 1-8 1-8 1-8 1-9 1-8 1-10 1-9 1-10 1-11 1-11 1-11 1-12 1-12 1-13 1-14 1-14 1-15 1-14 1-13 1-13 1-13 1-12 1-10 1-7 1-5 1-2 1-1 1-1 1 0 1 1 1 5 1 10 1 12 1 13 1 12 1 15 1 15 1 16 1 13 1 11 1 7 1 5 1 5 1 4 1 3 1 2 1 2 1 2 1 1 1 1 1 3 1 4 1 6 1 7 1 5 1 2 1 1 1-5 1-8 1-10 1-7 1 1 1 11 1 16 1 24 1 31 1 35 1 32 1 29 1 23 1 16 1 11 1 5 1 4 1 2 1 2 1 0 1 1 1 0 1-1 1-1 1-1 1-2 1-1 1-2 1-2 1-3 1-2"/>
<path d="M0 -269l1-1 1-2 1-1 1-2 1-2 1-2 1-3 1-3 1-4 1-6 1-5 1-5 1-5 1-5 1-4 1-4 1-4 1-2 1-3 1-4 1-4 1-6 1-8 1-9 1-10 1-12 1-12 1-14 1-14 1-14 1-13 1-14 1-13 1-12 1-11 1-10 1-10 1-8 1-6 1-5 1-3 1-2 1 2 1 7 1 10 1 11 1 12 1 14 1 18 1 18 1 15 1 12 1 12 1 9 1 6 1 4 1 3 1 4 1 4 1 5 1 5 1 6 1 10 1 12 1 14 1 13 1 10 1 6 1 3 1-2 1-7 1-9 1-8 1 1 1 11 1 17 1 23 1 31 1 36 1 33 1 30 1 23 1 18 1 10 1 6 1 3 1 3 1 1 1 2 1 0 1 0 1 0 1-1 1-2 1-1 1-1 1-2 1-2 1-2 1-3"/>
<path d="M0 -186l1-1 1-3 1-2 1-3 1-3 1-4 1-3 1-5 1-6 1-6 1-6 1-6 1-6 1-6 1-5 1-5 1-6 1-5 1-7 1-7 1-8 1-8 1-10 1-11 1-11 1-12 1-13 1-14 1-14 1-15 1-13 1-13 1-13 1-13 1-11 1-8 1-6 1-4 1-3 1-3 1-2 1 0 1 4 1 8 1 11 1 12 1 12 1 14 1 16 1 16 1 15 1 11 1 9 1 6 1 6 1 5 1 6 1 5 1 6 1 6 1 7 1 7 1 8 1 10 1 9 1 9 1 7 1 5 1 0 1-4 1-7 1-8 1-4 1 3 1 10 1 17 1 21 1 31 1 34 1 28 1 22 1 18 1 14 1 10 1 5 1 3 1 2 1 1 1 0 1 0 1-1 1 0 1-1 1 0 1-1 1-1 1-1 1-1 1-1 1-1"/>
<path d="M0 -329l1-2 1-2 1-3 1-2 1-2 1-3 1-2 1-3 1-2 1-3 1-3 1-3 1-4 1-4 1-4 1-5 1-6 1-7 1-8 1-9 1-10 1-11 1-11 1-12 1-13 1-13 1-14 1-15 1-16 1-16 1-15 1-15 1-14 1-13 1-13 1-11 1-8 1-7 1-7 1-5 1-3 1 0 1 2 1 6 1 8 1 9 1 10 1 13 1 16 1 16 1 16 1 15 1 13 1 11 1 10 1 9 1 9 1 8 1 8 1 7 1 8 1 9 1 10 1 11 1 13 1 11 1 10 1 5 1 3 1-3 1-6 1-7 1-5 1 1 1 10 1 15 1 21 1 29 1 37 1 40 1 41 1 34 1 20 1 9 1 5 1 2 1 2 1 1 1 1 1 0 1 0 1-1 1-1 1-1 1-2 1-2 1-2 1-2 1-2 1-2"/>
<path d="M0 -212l1-2 1-2 1-2 1-2 1-3 1-3 1-4 1-6 1-7 1-8 1-8 1-9 1-8 1-8 1-8 1-8 1-8 1-8 1-8 1-8 1-9 1-8 1-10 1-11 1-12 1-12 1-14 1-13 1-14 1-13 1-13 1-13 1-12 1-12 1-10 1-10 1-9 1-7 1-6 1-5 1-3 1-1 1 2 1 6 1 9 1 9 1 11 1 12 1 16 1 16 1 13 1 11 1 11 1 8 1 5 1 3 1 3 1 4 1 4 1 6 1 7 1 9 1 13 1 16 1 19 1 16 1 13 1 9 1 5 1-1 1-6 1-7 1-5 1 3 1 11 1 17 1 23 1 31 1 34 1 31 1 27 1 21 1 16 1 10 1 4 1 3 1 2 1 1 1 0 1 1 1-1 1-1 1-1 1-1 1-1 1-1 1-1 1-1 1-2 1-1"/>
<path d="M0 -196l1-1 1-3 1-2 1-3 1-3 1-4 1-4 1-6 1-6 1-8 1-8 1-7 1-8 1-8 1-7 1-7 1-7 1-7 1-7 1-8 1-8 1-9 1-9 1-11 1-12 1-12 1-13 1-14 1-14 1-14 1-13 1-13 1-13 1-13 1-11 1-10 1-8 1-7 1-6 1-4 1-4 1-2 1 2 1 7 1 9 1 9 1 11 1 13 1 17 1 16 1 14 1 11 1 11 1 8 1 6 1 4 1 4 1 5 1 5 1 6 1 6 1 9 1 11 1 14 1 15 1 14 1 10 1 7 1 4 1-2 1-6 1-7 1-5 1 3 1 11 1 18 1 23 1 31 1 35 1 30 1 26 1 20 1 16 1 10 1 5 1 3 1 3 1 1 1 0 1 0 1 0 1-1 1-1 1-1 1-1 1-2 1-1 1-2 1-2 1-2"/>
<path d="M0 -248l1-2 1-4 1-3 1-4 1-4 1-4 1-5 1-6 1-7 1-8 1-8 1-7 1-8 1-7 1-7 1-7 1-6 1-7 1-8 1-7 1-8 1-9 1-9 1-11 1-11 1-12 1-13 1-14 1-14 1-14 1-14 1-14 1-13 1-13 1-12 1-11 1-11 1-9 1-8 1-6 1-5 1-3 1 1 1 5 1 7 1 8 1 10 1 13 1 16 1 17 1 14 1 14 1 12 1 11 1 7 1 6 1 5 1 4 1 5 1 5 1 6 1 7 1 10 1 13 1 16 1 14 1 11 1 7 1 4 1-2 1-7 1-9 1-8 1 0 1 10 1 16 1 21 1 29 1 36 1 37 1 38 1 30 1 19 1 10 1 4 1 2 1 2 1 1 1 1 1 1 1 0 1-1 1-1 1-1 1-1 1-2 1-1 1-2 1-3 1-2"/>
<path d="M0 -213l1-3 1-3 1-3 1-3 1-4 1-4 1-5 1-6 1-7 1-9 1-8 1-7 1-7 1-7 1-6 1-5 1-5 1-6 1-5 1-6 1-7 1-7 1-9 1-10 1-11 1-11 1-13 1-13 1-14 1-14 1-14 1-13 1-13 1-13 1-11 1-10 1-9 1-8 1-7 1-5 1-4 1-2 1 1 1 6 1 9 1 9 1 11 1 14 1 16 1 18 1 14 1 12 1 12 1 9 1 6 1 4 1 4 1 5 1 5 1 5 1 6 1 8 1 11 1 12 1 15 1 14 1 10 1 6 1 4 1-2 1-8 1-8 1-7 1 1 1 10 1 17 1 22 1 30 1 35 1 32 1 28 1 23 1 17 1 10 1 5 1 3 1 2 1 1 1 1 1 0 1 0 1-1 1-1 1-1 1-1 1-2 1-1 1-2 1-2 1-1"/>
<path d="M0 -159l1-2 1-3 1-3 1-4 1-5 1-4 1-6 1-5 1-7 1-8 1-7 1-8 1-9 1-8 1-8 1-7 1-8 1-7 1-9 1-8 1-9 1-9 1-10 1-11 1-11 1-12 1-12 1-14 1-14 1-14 1-13 1-13 1-13 1-12 1-11 1-9 1-6 1-5 1-3 1-4 1-2 1-1 1 3 1 8 1 10 1 11 1 11 1 14 1 16 1 16 1 15 1 11 1 10 1 7 1 6 1 6 1 6 1 7 1 6 1 7 1 8 1 8 1 9 1 10 1 11 1 9 1 8 1 4 1 1 1-4 1-8 1-8 1-5 1 3 1 10 1 16 1 21 1 31 1 33 1 29 1 22 1 19 1 14 1 10 1 5 1 4 1 3 1 1 1 0 1 1 1 0 1 0 1 1 1 0 1 0 1-1 1 0 1 0 1-1 1-1"/>
<path d="M0 -147l1-1 1-2 1-2 1-3 1-3 1-3 1-4 1-4 1-5 1-5 1-6 1-7 1-8 1-8 1-8 1-9 1-9 1-9 1-10 1-10 1-11 1-11 1-11 1-12 1-12 1-13 1-14 1-15 1-15 1-15 1-13 1-13 1-13 1-13 1-11 1-8 1-4 1-3 1-2 1-1 1-1 1 2 1 5 1 10 1 12 1 13 1 14 1 15 1 15 1 16 1 14 1 11 1 7 1 6 1 5 1 5 1 5 1 5 1 6 1 5 1 6 1 6 1 7 1 7 1 9 1 6 1 6 1 3 1-1 1-5 1-8 1-8 1-5 1 3 1 10 1 16 1 22 1 31 1 34 1 29 1 22 1 19 1 15 1 9 1 6 1 4 1 3 1 1 1 0 1 1 1 0 1 0 1 0 1 0 1 0 1 0 1-1 1-1 1-1 1 0"/>
<path d="M0 -215l1-2 1-3 1-4 1-4 1-4 1-4 1-6 1-6 1-9 1-10 1-10 1-10 1-9 1-9 1-8 1-8 1-7 1-7 1-8 1-7 1-8 1-8 1-9 1-11 1-11 1-12 1-12 1-13 1-14 1-13 1-13 1-13 1-12 1-12 1-11 1-10 1-10 1-10 1-8 1-6 1-4 1-3 1 0 1 5 1 8 1 8 1 10 1 13 1 17 1 17 1 13 1 12 1 11 1 10 1 5 1 3 1 2 1 2 1 3 1 3 1 4 1 7 1 9 1 14 1 18 1 15 1 12 1 8 1 5 1 0 1-7 1-9 1-9 1 1 1 12 1 17 1 24 1 31 1 36 1 36 1 36 1 28 1 19 1 11 1 5 1 3 1 2 1 2 1 2 1 0 1 0 1-1 1-2 1-3 1-2 1-2 1-3 1-3 1-4 1-3"/>
<path d="M0 -247l1-2 1-3 1-4 1-3 1-4 1-4 1-5 1-6 1-8 1-8 1-9 1-8 1-8 1-7 1-8 1-7 1-8 1-7 1-9 1-9 1-9 1-9 1-11 1-11 1-12 1-13 1-13 1-14 1-14 1-14 1-13 1-13 1-12 1-12 1-11 1-10 1-9 1-9 1-6 1-6 1-4 1-2 1 2 1 5 1 8 1 8 1 10 1 13 1 15 1 17 1 14 1 12 1 12 1 9 1 7 1 5 1 4 1 4 1 5 1 5 1 5 1 7 1 9 1 12 1 14 1 12 1 9 1 6 1 2 1-2 1-7 1-8 1-7 1 2 1 10 1 15 1 21 1 30 1 36 1 39 1 40 1 32 1 20 1 9 1 4 1 3 1 2 1 1 1 1 1 1 1 0 1-1 1-1 1-1 1-2 1-1 1-2 1-2 1-2 1-2"/>
<path d="M0 -316l1 0 1 0 1-2 1-1 1-3 1-3 1-3 1-4 1-4 1-5 1-6 1-5 1-5 1-5 1-6 1-5 1-7 1-7 1-8 1-9 1-9 1-10 1-10 1-11 1-11 1-12 1-13 1-14 1-15 1-14 1-15 1-14 1-13 1-14 1-13 1-11 1-9 1-9 1-7 1-6 1-3 1-2 1 3 1 5 1 8 1 9 1 11 1 13 1 16 1 17 1 15 1 14 1 13 1 10 1 9 1 7 1 7 1 6 1 7 1 6 1 7 1 7 1 8 1 10 1 9 1 8 1 7 1 3 1 0 1-4 1-6 1-6 1-3 1 3 1 9 1 14 1 20 1 28 1 37 1 41 1 43 1 36 1 20 1 8 1 2 1 1 1 0 1-1 1 0 1-1 1 0 1 0 1 0 1 0 1-1 1 0 1-1 1 0 1-1 1 0"/>
<path d="M0 -244l1-1 1-2 1-2 1-3 1-3 1-3 1-4 1-6 1-8 1-8 1-9 1-8 1-9 1-8 1-8 1-8 1-7 1-8 1-9 1-9 1-9 1-10 1-11 1-12 1-12 1-14 1-14 1-14 1-15 1-15 1-15 1-14 1-13 1-13 1-12 1-11 1-9 1-9 1-7 1-6 1-4 1-2 1 1 1 6 1 7 1 9 1 10 1 12 1 16 1 17 1 14 1 13 1 12 1 10 1 7 1 6 1 4 1 5 1 5 1 5 1 5 1 7 1 8 1 11 1 12 1 11 1 8 1 4 1 1 1-4 1-7 1-8 1-5 1 1 1 9 1 14 1 20 1 28 1 36 1 39 1 42 1 34 1 20 1 8 1 3 1 2 1 0 1 0 1 0 1 0 1 0 1-1 1-1 1-1 1-1 1-1 1-1 1-1 1-2 1-1"/>
<path d="M0 -155l1-2 1-2 1-3 1-3 1-4 1-5 1-5 1-5 1-7 1-8 1-8 1-10 1-10 1-10 1-11 1-10 1-11 1-11 1-11 1-11 1-11 1-11 1-12 1-12 1-12 1-13 1-14 1-14 1-15 1-14 1-13 1-13 1-13 1-12 1-11 1-10 1-8 1-6 1-5 1-4 1-3 1 0 1 3 1 7 1 10 1 12 1 12 1 14 1 17 1 17 1 15 1 12 1 10 1 8 1 5 1 5 1 3 1 5 1 4 1 4 1 5 1 7 1 8 1 11 1 13 1 12 1 9 1 6 1 2 1-2 1-8 1-9 1-7 1 1 1 11 1 16 1 23 1 30 1 35 1 32 1 28 1 23 1 17 1 10 1 5 1 3 1 2 1 1 1 1 1 1 1-1 1 0 1-2 1-1 1-1 1-1 1-2 1-2 1-1 1-2"/>
<path d="M0 -332l1 0 1 0 1-1 1-1 1-2 1-1 1-2 1-2 1-2 1-3 1-3 1-3 1-4 1-3 1-4 1-4 1-5 1-6 1-7 1-8 1-8 1-9 1-10 1-11 1-11 1-12 1-14 1-14 1-15 1-14 1-14 1-14 1-13 1-12 1-12 1-10 1-8 1-8 1-7 1-4 1-4 1-1 1 2 1 6 1 8 1 9 1 11 1 13 1 16 1 17 1 15 1 14 1 12 1 11 1 8 1 7 1 6 1 5 1 6 1 6 1 6 1 8 1 10 1 13 1 16 1 14 1 11 1 7 1 4 1-1 1-7 1-8 1-8 1 1 1 10 1 16 1 22 1 29 1 36 1 37 1 38 1 31 1 19 1 10 1 4 1 2 1 2 1 1 1 1 1 1 1 0 1-1 1-1 1-2 1-1 1-2 1-2 1-2 1-2 1-2"/>
<path d="M0 -331l1-1 1 0 1-1 1-2 1-1 1-2 1-2 1-2 1-3 1-3 1-3 1-4 1-5 1-5 1-5 1-6 1-7 1-8 1-9 1-11 1-11 1-12 1-13 1-13 1-13 1-14 1-15 1-16 1-16 1-16 1-15 1-14 1-13 1-13 1-12 1-9 1-8 1-7 1-6 1-5 1-3 1 0 1 2 1 6 1 7 1 9 1 9 1 12 1 14 1 16 1 15 1 14 1 13 1 11 1 11 1 10 1 9 1 9 1 9 1 9 1 8 1 9 1 9 1 10 1 11 1 9 1 7 1 4 1 1 1-4 1-7 1-7 1-4 1 2 1 8 1 14 1 18 1 28 1 36 1 41 1 44 1 37 1 20 1 8 1 3 1 1 1 1 1 0 1 0 1 0 1 0 1 0 1 0 1 0 1 0 1-1 1 0 1 0 1-1 1-1"/>
<path d="M0 -272l1-1 1-1 1-2 1-2 1-2 1-3 1-3 1-4 1-6 1-6 1-6 1-6 1-7 1-6 1-6 1-5 1-6 1-6 1-7 1-7 1-7 1-8 1-9 1-11 1-11 1-12 1-13 1-14 1-14 1-15 1-14 1-13 1-14 1-12 1-12 1-11 1-10 1-9 1-8 1-5 1-5 1-2 1 1 1 5 1 8 1 9 1 10 1 13 1 17 1 17 1 15 1 13 1 12 1 10 1 7 1 4 1 3 1 4 1 4 1 4 1 5 1 6 1 10 1 12 1 16 1 14 1 11 1 6 1 4 1-2 1-7 1-9 1-8 1 1 1 10 1 16 1 22 1 29 1 36 1 37 1 37 1 30 1 20 1 9 1 4 1 2 1 1 1 1 1 0 1 0 1 0 1-1 1-2 1-2 1-2 1-1 1-2 1-3 1-2 1-2"/>
<path d="M0 -193l1-1 1-2 1-2 1-3 1-3 1-4 1-5 1-5 1-7 1-9 1-8 1-8 1-8 1-8 1-8 1-7 1-6 1-7 1-7 1-7 1-8 1-8 1-9 1-10 1-11 1-11 1-12 1-13 1-14 1-13 1-12 1-12 1-13 1-11 1-11 1-8 1-7 1-5 1-4 1-4 1-3 1-1 1 2 1 7 1 9 1 10 1 10 1 13 1 16 1 15 1 14 1 11 1 9 1 8 1 6 1 4 1 5 1 5 1 5 1 6 1 7 1 7 1 10 1 11 1 12 1 11 1 9 1 5 1 2 1-3 1-8 1-9 1-6 1 1 1 10 1 16 1 22 1 30 1 34 1 31 1 27 1 21 1 16 1 10 1 6 1 3 1 3 1 1 1 1 1 1 1 0 1 0 1 0 1-1 1-1 1-1 1-1 1-1 1-2 1-1"/>
<path d="M0 -216l1-1 1-3 1-2 1-3 1-3 1-4 1-5 1-6 1-7 1-10 1-8 1-9 1-9 1-9 1-8 1-8 1-7 1-8 1-8 1-8 1-7 1-9 1-9 1-11 1-12 1-12 1-13 1-14 1-14 1-14 1-14 1-13 1-14 1-12 1-12 1-11 1-11 1-10 1-8 1-7 1-5 1-3 1 0 1 5 1 8 1 8 1 10 1 13 1 17 1 17 1 14 1 13 1 12 1 10 1 6 1 3 1 3 1 3 1 3 1 3 1 5 1 6 1 11 1 15 1 20 1 16 1 14 1 9 1 5 1 1 1-7 1-9 1-8 1 1 1 12 1 17 1 24 1 31 1 36 1 34 1 34 1 26 1 18 1 11 1 4 1 3 1 2 1 1 1 1 1 1 1-1 1-1 1-3 1-2 1-3 1-2 1-3 1-4 1-3 1-4"/>
<path d="M0 -306l1-1 1-3 1-2 1-3 1-2 1-4 1-3 1-4 1-4 1-5 1-5 1-5 1-6 1-6 1-6 1-6 1-7 1-9 1-9 1-10 1-11 1-12 1-12 1-13 1-12 1-13 1-14 1-15 1-15 1-15 1-14 1-14 1-13 1-12 1-12 1-10 1-8 1-7 1-6 1-5 1-4 1-1 1 2 1 5 1 7 1 8 1 9 1 12 1 14 1 15 1 15 1 13 1 11 1 11 1 9 1 9 1 9 1 8 1 9 1 8 1 8 1 9 1 9 1 10 1 11 1 9 1 8 1 5 1 1 1-3 1-6 1-6 1-4 1 3 1 9 1 14 1 20 1 28 1 37 1 40 1 44 1 35 1 21 1 8 1 4 1 1 1 1 1 1 1 0 1 0 1 0 1 0 1-1 1 0 1-1 1-1 1-1 1-1 1-2 1-1"/>
<path d="M0 -165l1-1 1-2 1-2 1-2 1-3 1-3 1-4 1-4 1-5 1-7 1-6 1-7 1-7 1-8 1-8 1-8 1-8 1-8 1-9 1-9 1-10 1-11 1-10 1-12 1-12 1-12 1-13 1-14 1-14 1-14 1-13 1-12 1-12 1-12 1-9 1-8 1-4 1-2 1-1 1-1 1-1 1 1 1 5 1 9 1 12 1 11 1 12 1 14 1 14 1 15 1 13 1 9 1 7 1 5 1 4 1 5 1 4 1 5 1 6 1 6 1 6 1 7 1 9 1 10 1 10 1 10 1 7 1 5 1 1 1-4 1-8 1-7 1-4 1 4 1 11 1 16 1 22 1 31 1 34 1 27 1 22 1 17 1 14 1 9 1 5 1 3 1 2 1 1 1 0 1 0 1-1 1 0 1 0 1 0 1 0 1 0 1 0 1 0 1-1 1 0"/>
<path d="M0 -328l1 0 1-1 1-1 1-1 1-1 1-1 1-2 1-2 1-3 1-3 1-4 1-5 1-5 1-5 1-7 1-6 1-8 1-9 1-10 1-11 1-13 1-13 1-12 1-13 1-13 1-13 1-14 1-16 1-15 1-16 1-14 1-14 1-13 1-13 1-11 1-8 1-7 1-6 1-6 1-4 1-3 1 0 1 2 1 5 1 7 1 7 1 9 1 11 1 14 1 15 1 15 1 14 1 11 1 11 1 10 1 10 1 10 1 9 1 9 1 10 1 9 1 10 1 10 1 11 1 13 1 11 1 9 1 7 1 2 1-2 1-6 1-7 1-5 1 1 1 9 1 14 1 19 1 28 1 35 1 39 1 43 1 34 1 20 1 8 1 3 1 2 1 1 1 1 1 1 1 1 1 0 1 0 1 0 1 0 1 0 1-1 1-1 1-1 1-1 1-2"/>
<path d="M0 -161l1-2 1-3 1-3 1-4 1-4 1-4 1-4 1-6 1-6 1-7 1-7 1-7 1-8 1-7 1-8 1-7 1-8 1-8 1-8 1-9 1-9 1-9 1-11 1-11 1-11 1-12 1-13 1-14 1-14 1-14 1-14 1-12 1-13 1-13 1-10 1-9 1-6 1-4 1-3 1-3 1-2 1 0 1 3 1 8 1 10 1 11 1 11 1 13 1 16 1 15 1 14 1 10 1 8 1 6 1 5 1 4 1 4 1 4 1 5 1 4 1 4 1 6 1 7 1 9 1 10 1 10 1 7 1 5 1 2 1-4 1-7 1-8 1-6 1 2 1 11 1 17 1 22 1 31 1 34 1 30 1 26 1 21 1 15 1 10 1 5 1 3 1 2 1 0 1 1 1 0 1-1 1-1 1-1 1-1 1-2 1-1 1-2 1-2 1-2 1-2"/>
<path d="M0 -156l1-1 1-2 1-2 1-3 1-3 1-4 1-4 1-4 1-6 1-6 1-7 1-8 1-8 1-9 1-8 1-9 1-10 1-10 1-10 1-10 1-11 1-11 1-12 1-12 1-12 1-13 1-14 1-15 1-15 1-14 1-14 1-13 1-13 1-13 1-11 1-9 1-7 1-4 1-4 1-3 1-2 1 0 1 3 1 9 1 11 1 11 1 13 1 15 1 16 1 17 1 15 1 12 1 9 1 7 1 5 1 5 1 5 1 4 1 5 1 4 1 5 1 6 1 7 1 8 1 10 1 9 1 8 1 4 1 1 1-4 1-8 1-9 1-6 1 1 1 10 1 16 1 22 1 31 1 34 1 31 1 26 1 22 1 16 1 9 1 6 1 3 1 2 1 1 1 1 1 0 1 0 1 0 1-1 1-1 1-1 1-1 1-1 1-1 1-2 1-1"/>
<path d="M0 -248l1-1 1-1 1-3 1-3 1-3 1-4 1-5 1-6 1-9 1-9 1-9 1-9 1-9 1-9 1-8 1-9 1-8 1-9 1-10 1-11 1-10 1-12 1-12 1-12 1-13 1-13 1-13 1-14 1-15 1-14 1-13 1-13 1-12 1-12 1-11 1-10 1-8 1-8 1-7 1-5 1-4 1-2 1 2 1 5 1 7 1 7 1 10 1 11 1 15 1 15 1 14 1 12 1 11 1 9 1 8 1 6 1 6 1 6 1 6 1 6 1 6 1 8 1 8 1 10 1 11 1 8 1 7 1 4 1 0 1-3 1-7 1-7 1-5 1 2 1 9 1 13 1 19 1 27 1 36 1 40 1 44 1 35 1 20 1 8 1 2 1 2 1 0 1 0 1 0 1 0 1 0 1 0 1 0 1 0 1-1 1 0 1-1 1 0 1-1 1-1"/>
<path d="M0 -249l1-1 1-2 1-3 1-3 1-3 1-4 1-5 1-6 1-8 1-9 1-9 1-9 1-9 1-9 1-9 1-9 1-9 1-10 1-10 1-12 1-12 1-12 1-13 1-14 1-14 1-14 1-15 1-16 1-16 1-16 1-14 1-14 1-13 1-13 1-12 1-10 1-8 1-7 1-6 1-5 1-2 1-1 1 3 1 5 1 8 1 9 1 10 1 13 1 16 1 16 1 15 1 14 1 12 1 11 1 9 1 8 1 7 1 7 1 7 1 7 1 7 1 8 1 9 1 11 1 13 1 10 1 9 1 5 1 1 1-3 1-7 1-7 1-5 1 1 1 9 1 14 1 19 1 29 1 35 1 40 1 42 1 34 1 20 1 8 1 4 1 1 1 1 1 1 1 1 1 0 1 0 1 0 1-1 1 0 1-1 1 0 1-1 1-1 1-1 1-2"/>
<path d="M0 -206l1-2 1-3 1-3 1-4 1-3 1-4 1-5 1-6 1-7 1-9 1-8 1-8 1-8 1-8 1-6 1-7 1-6 1-7 1-6 1-7 1-8 1-7 1-9 1-11 1-11 1-11 1-13 1-13 1-14 1-14 1-13 1-13 1-13 1-12 1-11 1-10 1-9 1-8 1-6 1-5 1-4 1-2 1 1 1 6 1 8 1 9 1 10 1 13 1 16 1 16 1 13 1 11 1 10 1 8 1 5 1 2 1 2 1 1 1 2 1 2 1 2 1 5 1 7 1 11 1 16 1 14 1 11 1 6 1 5 1-1 1-8 1-9 1-9 1 0 1 12 1 17 1 24 1 31 1 36 1 35 1 34 1 27 1 19 1 10 1 5 1 3 1 2 1 1 1 1 1 1 1-1 1-2 1-2 1-3 1-2 1-3 1-3 1-4 1-4 1-3"/>
<path d="M0 -280l1-2 1-2 1-2 1-2 1-3 1-3 1-4 1-4 1-6 1-6 1-6 1-6 1-6 1-7 1-6 1-7 1-7 1-7 1-8 1-9 1-10 1-10 1-10 1-12 1-12 1-12 1-14 1-14 1-15 1-14 1-14 1-14 1-13 1-12 1-12 1-10 1-10 1-8 1-7 1-6 1-4 1-2 1 1 1 5 1 8 1 8 1 9 1 12 1 15 1 16 1 14 1 13 1 12 1 10 1 9 1 7 1 6 1 7 1 6 1 7 1 7 1 8 1 11 1 12 1 15 1 14 1 11 1 7 1 4 1 0 1-6 1-8 1-6 1 1 1 11 1 17 1 22 1 31 1 36 1 38 1 38 1 31 1 19 1 10 1 5 1 2 1 2 1 1 1 1 1 0 1 0 1-1 1-2 1-2 1-2 1-2 1-2 1-3 1-2 1-3"/>
<path d="M0 -190l1-1 1-2 1-2 1-3 1-2 1-4 1-4 1-5 1-7 1-8 1-8 1-9 1-9 1-10 1-9 1-10 1-9 1-10 1-9 1-10 1-10 1-10 1-11 1-11 1-12 1-13 1-13 1-14 1-14 1-14 1-13 1-13 1-12 1-11 1-11 1-9 1-9 1-6 1-6 1-4 1-3 1-1 1 2 1 7 1 9 1 9 1 11 1 12 1 16 1 16 1 13 1 11 1 10 1 8 1 4 1 3 1 2 1 3 1 4 1 4 1 6 1 7 1 11 1 15 1 17 1 15 1 12 1 8 1 5 1-1 1-6 1-8 1-6 1 2 1 12 1 17 1 23 1 31 1 35 1 32 1 28 1 23 1 16 1 10 1 4 1 3 1 2 1 1 1 0 1 0 1 0 1-1 1-2 1-1 1-2 1-1 1-2 1-1 1-2 1-2"/>
<path d="M0 -165l1-2 1-3 1-4 1-4 1-4 1-5 1-5 1-5 1-7 1-7 1-7 1-7 1-6 1-7 1-6 1-5 1-6 1-6 1-7 1-7 1-8 1-8 1-10 1-10 1-11 1-11 1-13 1-15 1-14 1-14 1-14 1-12 1-13 1-13 1-11 1-9 1-5 1-4 1-3 1-2 1-1 1 0 1 4 1 9 1 11 1 13 1 13 1 14 1 17 1 17 1 15 1 12 1 8 1 7 1 6 1 5 1 6 1 5 1 5 1 6 1 6 1 6 1 7 1 8 1 8 1 7 1 6 1 4 1-1 1-5 1-8 1-8 1-5 1 3 1 10 1 16 1 23 1 31 1 34 1 29 1 22 1 19 1 15 1 9 1 6 1 4 1 2 1 1 1 0 1 0 1 0 1 0 1 0 1 0 1-1 1 0 1-1 1-1 1-1 1 0"/>
<path d="M0 -323l1 0 1-1 1-1 1-1 1-2 1-1 1-2 1-3 1-3 1-4 1-4 1-4 1-5 1-6 1-5 1-7 1-7 1-8 1-9 1-11 1-11 1-12 1-13 1-13 1-13 1-14 1-15 1-16 1-16 1-16 1-15 1-14 1-14 1-14 1-12 1-10 1-8 1-6 1-6 1-5 1-3 1 0 1 3 1 6 1 8 1 9 1 10 1 13 1 15 1 16 1 16 1 14 1 13 1 12 1 10 1 10 1 9 1 9 1 8 1 9 1 8 1 9 1 10 1 12 1 13 1 12 1 10 1 6 1 2 1-2 1-6 1-7 1-6 1 2 1 9 1 15 1 20 1 29 1 35 1 40 1 41 1 33 1 20 1 9 1 4 1 2 1 1 1 1 1 1 1 1 1 0 1 0 1-1 1 0 1-1 1-1 1-1 1-2 1-2 1-1"/>
<path d="M0 -158l1-2 1-2 1-4 1-3 1-5 1-4 1-5 1-6 1-7 1-7 1-8 1-9 1-9 1-9 1-9 1-9 1-9 1-9 1-9 1-10 1-9 1-11 1-10 1-11 1-12 1-12 1-13 1-14 1-14 1-14 1-13 1-12 1-13 1-12 1-10 1-8 1-6 1-5 1-3 1-2 1-2 1 1 1 4 1 8 1 11 1 11 1 12 1 14 1 16 1 16 1 13 1 11 1 8 1 6 1 4 1 3 1 2 1 3 1 2 1 2 1 1 1 3 1 5 1 8 1 10 1 9 1 8 1 4 1 2 1-3 1-9 1-10 1-8 1 1 1 11 1 16 1 23 1 31 1 36 1 33 1 31 1 24 1 18 1 10 1 5 1 4 1 2 1 2 1 1 1 1 1 0 1-1 1-1 1-2 1-1 1-2 1-1 1-2 1-3 1-2"/>
<path d="M0 -238l1-2 1-3 1-4 1-4 1-5 1-6 1-7 1-8 1-9 1-10 1-10 1-10 1-9 1-10 1-9 1-9 1-9 1-10 1-11 1-12 1-13 1-13 1-14 1-14 1-14 1-15 1-16 1-17 1-18 1-17 1-16 1-15 1-15 1-13 1-12 1-9 1-8 1-7 1-6 1-4 1-2 1 0 1 4 1 6 1 9 1 9 1 10 1 12 1 14 1 15 1 15 1 13 1 11 1 9 1 9 1 9 1 9 1 9 1 8 1 9 1 8 1 9 1 9 1 11 1 10 1 10 1 8 1 5 1 1 1-3 1-6 1-6 1-4 1 2 1 8 1 13 1 17 1 28 1 35 1 41 1 44 1 37 1 20 1 8 1 3 1 1 1 1 1 0 1 0 1 1 1 0 1 1 1 0 1 0 1 0 1 0 1-1 1-1 1-2 1-1"/>
<path d="M0 -196l1-2 1-3 1-3 1-4 1-4 1-5 1-5 1-7 1-8 1-9 1-10 1-9 1-9 1-8 1-8 1-8 1-7 1-7 1-7 1-7 1-7 1-8 1-9 1-10 1-10 1-12 1-12 1-13 1-14 1-13 1-13 1-12 1-13 1-12 1-11 1-10 1-9 1-8 1-6 1-5 1-5 1-2 1 1 1 5 1 8 1 9 1 11 1 12 1 17 1 17 1 14 1 12 1 11 1 10 1 7 1 4 1 5 1 6 1 6 1 7 1 9 1 9 1 13 1 14 1 17 1 13 1 11 1 7 1 4 1-2 1-7 1-8 1-6 1 2 1 10 1 17 1 22 1 30 1 34 1 30 1 27 1 21 1 16 1 10 1 5 1 3 1 3 1 1 1 1 1 0 1 1 1-1 1 0 1-1 1 0 1-1 1-1 1-1 1-1 1-1"/>
<path d="M0 -212l1-2 1-3 1-4 1-3 1-4 1-4 1-6 1-6 1-8 1-8 1-9 1-7 1-7 1-5 1-5 1-4 1-3 1-4 1-4 1-5 1-5 1-6 1-8 1-9 1-9 1-11 1-12 1-13 1-13 1-14 1-12 1-13 1-12 1-12 1-11 1-9 1-6 1-5 1-5 1-3 1-3 1-1 1 2 1 7 1 9 1 10 1 12 1 13 1 15 1 17 1 13 1 12 1 10 1 8 1 6 1 5 1 6 1 7 1 7 1 8 1 9 1 10 1 12 1 13 1 13 1 11 1 10 1 6 1 2 1-4 1-7 1-7 1-4 1 3 1 11 1 16 1 22 1 31 1 34 1 27 1 21 1 18 1 14 1 9 1 5 1 3 1 3 1 0 1 1 1 0 1 0 1 0 1 0 1 0 1 0 1 0 1 0 1-1 1-1 1 0"/>
<path d="M0 -207l1-2 1-3 1-3 1-4 1-3 1-4 1-5 1-6 1-8 1-9 1-9 1-8 1-8 1-8 1-8 1-7 1-7 1-7 1-8 1-7 1-8 1-8 1-9 1-11 1-11 1-12 1-13 1-13 1-14 1-14 1-14 1-13 1-13 1-12 1-12 1-10 1-10 1-9 1-8 1-6 1-5 1-3 1 0 1 6 1 7 1 9 1 10 1 12 1 17 1 17 1 14 1 11 1 12 1 9 1 5 1 3 1 2 1 2 1 2 1 2 1 4 1 5 1 9 1 12 1 17 1 15 1 12 1 7 1 5 1-1 1-7 1-10 1-9 1-1 1 12 1 17 1 23 1 30 1 36 1 35 1 35 1 28 1 19 1 9 1 5 1 2 1 2 1 1 1 1 1 0 1-1 1-2 1-2 1-2 1-2 1-3 1-2 1-3 1-3 1-3"/>
<path d="M0 -237l1-2 1-4 1-3 1-4 1-4 1-4 1-5 1-6 1-8 1-8 1-8 1-8 1-8 1-7 1-7 1-6 1-6 1-7 1-6 1-6 1-7 1-7 1-8 1-10 1-10 1-12 1-12 1-12 1-13 1-13 1-13 1-12 1-13 1-12 1-10 1-11 1-10 1-10 1-8 1-6 1-5 1-3 1 0 1 5 1 8 1 8 1 10 1 12 1 17 1 17 1 13 1 12 1 12 1 10 1 5 1 3 1 3 1 2 1 4 1 4 1 6 1 10 1 13 1 16 1 20 1 18 1 14 1 9 1 6 1 1 1-6 1-8 1-7 1 2 1 13 1 18 1 23 1 32 1 36 1 33 1 30 1 24 1 17 1 10 1 5 1 4 1 2 1 1 1 0 1 1 1-1 1-1 1-2 1-2 1-2 1-2 1-3 1-3 1-3 1-2"/>
<path d="M0 -236l1-2 1-3 1-3 1-4 1-4 1-5 1-5 1-7 1-8 1-9 1-8 1-8 1-8 1-8 1-6 1-7 1-6 1-6 1-6 1-6 1-7 1-6 1-8 1-9 1-11 1-11 1-12 1-12 1-13 1-14 1-13 1-13 1-13 1-13 1-12 1-11 1-12 1-10 1-9 1-7 1-5 1-3 1 0 1 5 1 8 1 8 1 10 1 13 1 18 1 17 1 15 1 13 1 13 1 11 1 6 1 4 1 2 1 3 1 3 1 4 1 5 1 7 1 10 1 14 1 18 1 16 1 12 1 7 1 5 1-1 1-8 1-10 1-10 1 0 1 11 1 17 1 24 1 30 1 36 1 37 1 35 1 28 1 19 1 11 1 6 1 3 1 2 1 2 1 2 1 1 1 0 1-1 1-2 1-3 1-2 1-3 1-3 1-3 1-4 1-4"/>
<path d="M0 -218l1-2 1-3 1-4 1-3 1-4 1-5 1-5 1-7 1-8 1-10 1-9 1-9 1-9 1-8 1-7 1-6 1-6 1-6 1-6 1-7 1-6 1-7 1-9 1-10 1-10 1-12 1-12 1-13 1-13 1-14 1-13 1-12 1-13 1-11 1-11 1-10 1-9 1-8 1-6 1-5 1-4 1-2 1 2 1 6 1 8 1 10 1 10 1 13 1 16 1 17 1 12 1 11 1 10 1 7 1 3 1 0 1-2 1-2 1 0 1 0 1 2 1 4 1 8 1 9 1 13 1 9 1 6 1 3 1-1 1-5 1-8 1-10 1-6 1 1 1 9 1 14 1 19 1 29 1 36 1 39 1 43 1 34 1 20 1 9 1 4 1 2 1 1 1 1 1 1 1 0 1 0 1 0 1-1 1 0 1-1 1-1 1-1 1-1 1-2 1-1"/>
<path d="M0 -238l1-1 1-2 1-3 1-2 1-3 1-4 1-4 1-6 1-9 1-9 1-10 1-9 1-10 1-10 1-10 1-10 1-10 1-10 1-12 1-12 1-13 1-14 1-14 1-15 1-15 1-15 1-16 1-16 1-17 1-16 1-15 1-14 1-14 1-13 1-11 1-10 1-7 1-7 1-5 1-4 1-3 1 0 1 3 1 6 1 8 1 9 1 10 1 12 1 16 1 16 1 14 1 13 1 12 1 10 1 9 1 7 1 8 1 7 1 7 1 8 1 7 1 8 1 10 1 10 1 12 1 10 1 9 1 5 1 2 1-2 1-6 1-6 1-4 1 2 1 10 1 15 1 21 1 29 1 37 1 40 1 41 1 34 1 20 1 9 1 3 1 2 1 1 1 0 1 0 1 0 1-1 1-1 1-1 1-2 1-1 1-1 1-2 1-1 1-2 1-1"/>
<path d="M0 -234l1-1 1-1 1-2 1-2 1-2 1-4 1-4 1-6 1-8 1-10 1-10 1-10 1-9 1-10 1-9 1-8 1-9 1-8 1-10 1-9 1-10 1-10 1-11 1-12 1-12 1-12 1-13 1-13 1-14 1-13 1-13 1-12 1-12 1-12 1-11 1-10 1-10 1-9 1-7 1-7 1-5 1-3 1 1 1 4 1 7 1 8 1 9 1 12 1 16 1 16 1 15 1 13 1 12 1 11 1 8 1 6 1 5 1 5 1 5 1 6 1 5 1 8 1 10 1 14 1 18 1 15 1 12 1 8 1 4 1-1 1-7 1-10 1-9 1 0 1 11 1 16 1 23 1 30 1 36 1 37 1 37 1 29 1 20 1 10 1 5 1 4 1 2 1 2 1 2 1 1 1 0 1-1 1-2 1-3 1-2 1-3 1-3 1-3 1-4 1-3"/>
<path d="M0 -314l1-1 1-1 1-2 1-2 1-2 1-3 1-3 1-4 1-4 1-5 1-5 1-5 1-6 1-5 1-7 1-6 1-8 1-9 1-10 1-11 1-12 1-13 1-13 1-13 1-13 1-13 1-14 1-16 1-15 1-16 1-14 1-14 1-13 1-13 1-12 1-9 1-8 1-7 1-6 1-5 1-3 1 0 1 3 1 5 1 8 1 8 1 10 1 12 1 15 1 17 1 16 1 14 1 13 1 12 1 11 1 11 1 10 1 10 1 9 1 9 1 9 1 10 1 11 1 14 1 16 1 15 1 12 1 9 1 5 1 0 1-5 1-8 1-7 1 2 1 10 1 17 1 22 1 29 1 36 1 37 1 38 1 30 1 19 1 10 1 4 1 2 1 2 1 1 1 0 1 1 1 0 1-1 1-2 1-1 1-2 1-2 1-2 1-2 1-2 1-2"/>
<path d="M0 -151l1-2 1-2 1-2 1-3 1-4 1-3 1-4 1-5 1-5 1-6 1-7 1-8 1-8 1-9 1-10 1-9 1-10 1-10 1-11 1-11 1-11 1-12 1-12 1-12 1-13 1-13 1-14 1-15 1-15 1-15 1-13 1-14 1-13 1-13 1-11 1-9 1-7 1-6 1-4 1-3 1-2 1-1 1 4 1 8 1 11 1 12 1 13 1 14 1 17 1 18 1 14 1 13 1 9 1 8 1 6 1 5 1 5 1 6 1 5 1 6 1 6 1 7 1 9 1 9 1 11 1 10 1 8 1 4 1 1 1-3 1-8 1-8 1-6 1 2 1 10 1 17 1 22 1 30 1 35 1 29 1 25 1 20 1 16 1 10 1 5 1 4 1 2 1 1 1 1 1 1 1 0 1 0 1-1 1 0 1 0 1-1 1 0 1-1 1-1 1-1"/>
<path d="M0 -152l1-2 1-3 1-3 1-4 1-4 1-4 1-5 1-5 1-6 1-6 1-7 1-7 1-8 1-7 1-7 1-8 1-7 1-8 1-8 1-9 1-9 1-10 1-10 1-11 1-11 1-12 1-13 1-15 1-14 1-14 1-13 1-13 1-13 1-12 1-11 1-8 1-4 1-3 1-2 1-1 1-1 1 0 1 4 1 8 1 11 1 11 1 12 1 14 1 15 1 15 1 13 1 11 1 7 1 6 1 5 1 5 1 5 1 6 1 6 1 6 1 6 1 7 1 8 1 9 1 10 1 8 1 7 1 4 1 0 1-4 1-7 1-8 1-4 1 4 1 11 1 16 1 23 1 30 1 34 1 28 1 21 1 18 1 13 1 10 1 5 1 4 1 2 1 1 1-1 1 0 1 0 1-1 1 0 1-1 1 0 1-1 1-1 1-1 1-1 1-1"/>
<path d="M0 -214l1-2 1-2 1-3 1-3 1-3 1-4 1-4 1-6 1-8 1-9 1-9 1-8 1-9 1-8 1-8 1-8 1-7 1-7 1-8 1-7 1-8 1-8 1-10 1-10 1-12 1-12 1-13 1-14 1-14 1-14 1-13 1-13 1-14 1-12 1-11 1-11 1-11 1-10 1-8 1-6 1-5 1-4 1 1 1 5 1 7 1 8 1 10 1 12 1 17 1 17 1 14 1 11 1 12 1 9 1 5 1 2 1 2 1 1 1 2 1 3 1 4 1 5 1 9 1 12 1 16 1 13 1 10 1 6 1 3 1-2 1-8 1-9 1-7 1 0 1 11 1 16 1 22 1 30 1 37 1 37 1 38 1 30 1 20 1 9 1 5 1 2 1 2 1 1 1 1 1 0 1 0 1-2 1-1 1-2 1-2 1-2 1-3 1-2 1-3 1-3"/>
<path d="M0 -156l1-2 1-2 1-3 1-4 1-4 1-4 1-5 1-5 1-6 1-7 1-7 1-8 1-7 1-8 1-7 1-7 1-8 1-7 1-8 1-9 1-9 1-10 1-10 1-11 1-11 1-12 1-13 1-14 1-14 1-14 1-13 1-12 1-12 1-12 1-10 1-8 1-4 1-3 1-1 1-2 1 0 1 1 1 5 1 10 1 12 1 12 1 13 1 14 1 16 1 15 1 13 1 11 1 7 1 6 1 4 1 6 1 5 1 5 1 5 1 6 1 5 1 6 1 7 1 7 1 8 1 7 1 6 1 3 1 0 1-4 1-8 1-8 1-4 1 2 1 11 1 16 1 23 1 31 1 34 1 29 1 22 1 18 1 15 1 9 1 6 1 4 1 2 1 1 1 1 1 0 1 0 1 0 1 0 1-1 1 0 1 0 1-1 1-1 1 0 1-1"/>
<path d="M0 -306l1 0 1-1 1-2 1-1 1-2 1-3 1-3 1-3 1-5 1-5 1-5 1-5 1-6 1-6 1-7 1-6 1-8 1-8 1-10 1-10 1-12 1-12 1-12 1-13 1-14 1-14 1-14 1-16 1-16 1-16 1-15 1-13 1-14 1-13 1-12 1-10 1-8 1-7 1-5 1-5 1-3 1 0 1 3 1 6 1 7 1 9 1 10 1 13 1 16 1 16 1 16 1 14 1 13 1 12 1 10 1 9 1 9 1 9 1 8 1 8 1 9 1 9 1 11 1 13 1 15 1 14 1 12 1 8 1 5 1-1 1-6 1-8 1-7 1 1 1 11 1 16 1 21 1 30 1 36 1 37 1 38 1 31 1 19 1 10 1 4 1 2 1 2 1 1 1 1 1 1 1 0 1-1 1-1 1-2 1-1 1-1 1-2 1-2 1-2 1-3"/>
<path d="M0 -170l1-2 1-3 1-3 1-3 1-4 1-3 1-4 1-4 1-6 1-6 1-6 1-7 1-7 1-7 1-8 1-8 1-8 1-9 1-9 1-10 1-11 1-10 1-12 1-12 1-12 1-13 1-14 1-14 1-15 1-14 1-12 1-13 1-12 1-11 1-10 1-8 1-5 1-4 1-3 1-2 1-1 1 0 1 3 1 8 1 10 1 10 1 11 1 12 1 15 1 15 1 13 1 10 1 9 1 7 1 5 1 5 1 5 1 6 1 7 1 7 1 8 1 9 1 11 1 12 1 12 1 11 1 8 1 5 1 1 1-3 1-8 1-8 1-6 1 2 1 10 1 16 1 22 1 30 1 34 1 29 1 24 1 19 1 16 1 10 1 6 1 4 1 3 1 1 1 1 1 0 1 0 1 0 1 0 1 0 1-1 1-1 1-1 1-2 1-2 1-2"/>
<path d="M0 -163l1-2 1-2 1-2 1-3 1-4 1-4 1-4 1-6 1-6 1-8 1-9 1-10 1-11 1-11 1-12 1-12 1-12 1-13 1-12 1-12 1-12 1-11 1-12 1-13 1-13 1-14 1-14 1-15 1-14 1-15 1-14 1-14 1-13 1-12 1-12 1-11 1-10 1-9 1-8 1-6 1-4 1-3 1 1 1 6 1 9 1 9 1 11 1 14 1 17 1 18 1 14 1 12 1 12 1 9 1 4 1 2 1 0 1 0 1-1 1 1 1 3 1 4 1 8 1 11 1 14 1 11 1 8 1 4 1 1 1-4 1-9 1-10 1-7 1 0 1 9 1 14 1 20 1 28 1 35 1 39 1 40 1 33 1 20 1 9 1 3 1 2 1 1 1 1 1 1 1 0 1 0 1 0 1-1 1 0 1-1 1-1 1-1 1-2 1-1 1-2"/>
<path d="M0 -149l1-1 1-1 1-3 1-3 1-3 1-3 1-5 1-4 1-6 1-7 1-8 1-9 1-10 1-11 1-12 1-12 1-12 1-12 1-13 1-13 1-12 1-12 1-13 1-13 1-13 1-13 1-15 1-14 1-14 1-15 1-13 1-13 1-12 1-12 1-11 1-9 1-7 1-6 1-4 1-4 1-2 1 0 1 3 1 8 1 10 1 10 1 12 1 13 1 16 1 16 1 13 1 10 1 9 1 7 1 4 1 3 1 2 1 3 1 3 1 3 1 4 1 6 1 9 1 12 1 15 1 13 1 11 1 7 1 3 1-1 1-7 1-7 1-6 1 2 1 12 1 17 1 24 1 31 1 35 1 32 1 28 1 22 1 17 1 9 1 5 1 3 1 2 1 1 1 0 1 0 1-1 1-1 1-2 1-2 1-1 1-2 1-2 1-2 1-2 1-2"/>
<path d="M0 -280l1-1 1-3 1-3 1-3 1-3 1-3 1-4 1-4 1-6 1-6 1-6 1-6 1-5 1-6 1-6 1-6 1-6 1-6 1-7 1-8 1-8 1-9 1-9 1-11 1-11 1-12 1-12 1-14 1-13 1-14 1-13 1-13 1-12 1-12 1-11 1-10 1-9 1-8 1-7 1-6 1-4 1-2 1 2 1 5 1 8 1 8 1 11 1 12 1 16 1 17 1 14 1 12 1 12 1 10 1 6 1 5 1 4 1 4 1 5 1 4 1 6 1 6 1 10 1 12 1 15 1 14 1 10 1 7 1 3 1-2 1-7 1-8 1-7 1 1 1 10 1 16 1 22 1 29 1 37 1 37 1 39 1 31 1 20 1 9 1 5 1 2 1 2 1 2 1 1 1 1 1 0 1-1 1-1 1-2 1-1 1-2 1-2 1-2 1-3 1-2"/>
<path d="M0 -278l1-2 1-2 1-3 1-3 1-3 1-4 1-4 1-4 1-5 1-6 1-6 1-6 1-6 1-6 1-6 1-5 1-6 1-7 1-7 1-8 1-9 1-8 1-10 1-11 1-11 1-12 1-14 1-13 1-15 1-14 1-14 1-14 1-13 1-13 1-12 1-11 1-10 1-9 1-8 1-6 1-5 1-2 1 1 1 5 1 7 1 8 1 10 1 12 1 16 1 17 1 15 1 13 1 12 1 11 1 8 1 7 1 6 1 5 1 6 1 6 1 6 1 8 1 10 1 13 1 16 1 14 1 11 1 7 1 4 1-1 1-7 1-9 1-7 1 1 1 10 1 15 1 22 1 29 1 36 1 37 1 38 1 30 1 19 1 9 1 4 1 2 1 1 1 1 1 1 1 0 1 0 1-1 1-1 1-1 1-1 1-2 1-1 1-2 1-2 1-2"/>
<path d="M0 -322l1 0 1 0 1-1 1-1 1-2 1-2 1-2 1-3 1-3 1-4 1-4 1-5 1-5 1-5 1-5 1-6 1-7 1-8 1-8 1-10 1-11 1-11 1-12 1-13 1-13 1-13 1-14 1-16 1-15 1-15 1-15 1-13 1-13 1-13 1-11 1-10 1-8 1-6 1-6 1-4 1-3 1 0 1 3 1 6 1 8 1 8 1 11 1 12 1 15 1 17 1 15 1 13 1 12 1 10 1 9 1 7 1 7 1 7 1 7 1 7 1 7 1 7 1 9 1 9 1 10 1 8 1 6 1 4 1-1 1-4 1-6 1-7 1-3 1 2 1 9 1 13 1 19 1 28 1 36 1 41 1 44 1 37 1 20 1 9 1 3 1 1 1 1 1 1 1 0 1 1 1 0 1 0 1 0 1 0 1-1 1 0 1-1 1-1 1-1 1-1"/>
<path d="M0 -324l1-2 1-1 1-2 1-2 1-2 1-3 1-3 1-3 1-3 1-3 1-4 1-4 1-4 1-4 1-5 1-5 1-6 1-7 1-8 1-9 1-9 1-11 1-11 1-11 1-12 1-13 1-13 1-15 1-15 1-14 1-14 1-13 1-13 1-12 1-12 1-9 1-8 1-7 1-6 1-5 1-3 1 0 1 2 1 6 1 8 1 9 1 10 1 12 1 16 1 16 1 15 1 14 1 12 1 10 1 9 1 7 1 7 1 7 1 6 1 7 1 7 1 7 1 10 1 10 1 13 1 10 1 9 1 5 1 1 1-3 1-7 1-8 1-5 1 2 1 8 1 14 1 20 1 28 1 36 1 39 1 43 1 34 1 20 1 8 1 3 1 2 1 1 1 1 1 0 1 0 1 0 1 0 1-1 1 0 1-1 1 0 1-1 1-1 1-2 1-1"/>
<path d="M0 -154l1-2 1-3 1-4 1-4 1-5 1-4 1-5 1-5 1-5 1-6 1-6 1-6 1-6 1-6 1-6 1-6 1-7 1-7 1-9 1-9 1-9 1-11 1-12 1-11 1-13 1-13 1-14 1-15 1-15 1-15 1-13 1-13 1-13 1-12 1-10 1-7 1-4 1-2 1-1 1-1 1 0 1 1 1 5 1 10 1 12 1 12 1 13 1 14 1 15 1 15 1 13 1 10 1 6 1 4 1 4 1 5 1 5 1 5 1 5 1 7 1 6 1 8 1 8 1 9 1 9 1 7 1 6 1 4 1 0 1-4 1-7 1-8 1-4 1 3 1 11 1 16 1 21 1 30 1 33 1 28 1 21 1 18 1 15 1 9 1 6 1 4 1 3 1 1 1 1 1 0 1 0 1 0 1 0 1 0 1-1 1 0 1-1 1-1 1-1 1 0"/>
<path d="M0 -246l1-2 1-3 1-3 1-3 1-4 1-4 1-4 1-5 1-7 1-7 1-7 1-6 1-6 1-6 1-5 1-4 1-4 1-3 1-3 1-4 1-4 1-6 1-7 1-8 1-10 1-11 1-12 1-12 1-14 1-13 1-13 1-12 1-13 1-12 1-11 1-10 1-9 1-7 1-6 1-5 1-4 1-3 1 2 1 5 1 9 1 9 1 10 1 12 1 16 1 17 1 13 1 11 1 10 1 9 1 5 1 2 1 2 1 3 1 2 1 3 1 3 1 5 1 8 1 11 1 15 1 14 1 10 1 7 1 4 1-1 1-8 1-10 1-8 1 0 1 11 1 17 1 23 1 30 1 35 1 35 1 33 1 26 1 18 1 10 1 5 1 2 1 2 1 1 1 1 1 1 1-1 1-2 1-2 1-3 1-2 1-2 1-3 1-3 1-3 1-3"/>
<path d="M0 -281l1-2 1-2 1-1 1-2 1-2 1-3 1-2 1-3 1-4 1-5 1-5 1-5 1-6 1-5 1-5 1-5 1-5 1-6 1-6 1-7 1-7 1-8 1-9 1-10 1-12 1-12 1-14 1-14 1-14 1-14 1-14 1-13 1-13 1-12 1-10 1-10 1-9 1-8 1-7 1-5 1-4 1-1 1 1 1 6 1 9 1 9 1 10 1 13 1 17 1 17 1 13 1 12 1 12 1 10 1 6 1 4 1 3 1 4 1 4 1 4 1 8 1 12 1 16 1 20 1 22 1 20 1 15 1 11 1 7 1 1 1-5 1-6 1-5 1 4 1 12 1 17 1 24 1 31 1 34 1 31 1 26 1 21 1 16 1 9 1 5 1 3 1 2 1 1 1 0 1 0 1 0 1-1 1-1 1-1 1-1 1-1 1-1 1-1 1-1 1-1"/>
<path d="M0 -204l1-2 1-3 1-3 1-4 1-4 1-5 1-5 1-7 1-8 1-10 1-10 1-9 1-10 1-9 1-9 1-9 1-8 1-8 1-8 1-8 1-8 1-8 1-10 1-10 1-12 1-12 1-13 1-13 1-14 1-13 1-13 1-13 1-13 1-12 1-11 1-10 1-10 1-9 1-7 1-6 1-4 1-2 1 1 1 7 1 8 1 10 1 11 1 13 1 17 1 18 1 14 1 12 1 12 1 9 1 5 1 3 1 1 1 2 1 2 1 2 1 3 1 5 1 8 1 12 1 17 1 15 1 12 1 7 1 4 1-1 1-8 1-10 1-9 1 0 1 11 1 16 1 23 1 30 1 36 1 36 1 36 1 28 1 19 1 10 1 4 1 3 1 2 1 2 1 1 1 0 1 0 1-1 1-2 1-2 1-2 1-2 1-3 1-2 1-3 1-3"/>
<path d="M0 -212l1-1 1-2 1-3 1-2 1-4 1-3 1-5 1-6 1-7 1-9 1-8 1-9 1-8 1-7 1-7 1-7 1-6 1-7 1-6 1-7 1-7 1-8 1-9 1-10 1-12 1-11 1-13 1-13 1-14 1-13 1-13 1-12 1-13 1-11 1-11 1-9 1-7 1-7 1-5 1-3 1-3 1-1 1 3 1 7 1 10 1 10 1 12 1 13 1 16 1 16 1 14 1 11 1 10 1 7 1 5 1 3 1 4 1 3 1 5 1 5 1 6 1 8 1 11 1 14 1 16 1 14 1 11 1 8 1 4 1-1 1-7 1-7 1-4 1 3 1 12 1 18 1 23 1 32 1 35 1 30 1 26 1 21 1 15 1 10 1 5 1 4 1 2 1 0 1 1 1-1 1 0 1-1 1-1 1-2 1-1 1-2 1-1 1-2 1-2 1-2"/>
<path d="M0 -206l1-2 1-3 1-4 1-3 1-4 1-4 1-4 1-6 1-7 1-7 1-6 1-6 1-5 1-5 1-3 1-3 1-3 1-2 1-4 1-5 1-5 1-7 1-8 1-9 1-10 1-11 1-13 1-13 1-14 1-14 1-13 1-13 1-13 1-12 1-11 1-8 1-6 1-4 1-3 1-3 1-2 1 0 1 3 1 8 1 11 1 11 1 12 1 14 1 16 1 16 1 14 1 12 1 8 1 6 1 6 1 5 1 5 1 4 1 5 1 4 1 5 1 5 1 6 1 8 1 8 1 8 1 7 1 3 1 1 1-5 1-8 1-9 1-7 1 2 1 10 1 15 1 22 1 30 1 35 1 30 1 26 1 21 1 16 1 9 1 6 1 3 1 2 1 1 1 1 1 0 1 0 1 0 1-1 1 0 1-1 1-1 1-1 1-1 1-1 1-1"/>
<path d="M0 -160l1-2 1-3 1-3 1-4 1-4 1-5 1-5 1-6 1-8 1-8 1-8 1-10 1-9 1-10 1-10 1-9 1-10 1-10 1-9 1-10 1-10 1-10 1-11 1-11 1-11 1-13 1-13 1-13 1-14 1-14 1-13 1-12 1-13 1-11 1-11 1-9 1-7 1-5 1-5 1-3 1-3 1 0 1 2 1 7 1 10 1 10 1 11 1 13 1 16 1 16 1 13 1 10 1 9 1 7 1 4 1 3 1 3 1 3 1 3 1 4 1 4 1 6 1 8 1 11 1 14 1 12 1 10 1 7 1 3 1-2 1-7 1-8 1-6 1 2 1 11 1 18 1 23 1 32 1 35 1 32 1 29 1 22 1 17 1 10 1 5 1 3 1 2 1 2 1 0 1 0 1 0 1-1 1-1 1-2 1-2 1-1 1-3 1-2 1-3 1-2"/>
<path d="M0 -297l1-1 1-2 1-2 1-2 1-2 1-2 1-3 1-3 1-4 1-5 1-5 1-6 1-6 1-6 1-6 1-6 1-7 1-8 1-9 1-10 1-11 1-11 1-12 1-13 1-13 1-14 1-15 1-16 1-16 1-16 1-15 1-14 1-14 1-13 1-12 1-10 1-8 1-7 1-6 1-5 1-2 1-1 1 3 1 6 1 9 1 9 1 10 1 13 1 16 1 17 1 15 1 14 1 13 1 11 1 9 1 8 1 7 1 7 1 8 1 7 1 7 1 9 1 10 1 13 1 16 1 14 1 12 1 8 1 4 1 0 1-5 1-8 1-6 1 1 1 12 1 17 1 23 1 31 1 37 1 37 1 38 1 30 1 20 1 10 1 5 1 2 1 2 1 2 1 1 1 0 1-1 1-1 1-2 1-3 1-2 1-3 1-2 1-3 1-3 1-3"/>
<path d="M0 -287l1-1 1-1 1-2 1-2 1-2 1-2 1-3 1-3 1-4 1-4 1-5 1-5 1-5 1-4 1-5 1-4 1-4 1-5 1-5 1-5 1-5 1-6 1-8 1-8 1-11 1-11 1-12 1-13 1-13 1-14 1-13 1-14 1-13 1-12 1-12 1-11 1-11 1-10 1-9 1-6 1-5 1-4 1 1 1 5 1 7 1 9 1 10 1 12 1 17 1 17 1 14 1 12 1 12 1 9 1 6 1 2 1 2 1 3 1 2 1 3 1 4 1 5 1 9 1 11 1 14 1 11 1 9 1 5 1 1 1-3 1-8 1-9 1-7 1 1 1 9 1 15 1 20 1 29 1 35 1 38 1 40 1 33 1 19 1 9 1 3 1 2 1 0 1 1 1 0 1 0 1-1 1-1 1-1 1-1 1-1 1-1 1-2 1-1 1-2 1-1"/>
<path d="M0 -158l1-1 1-1 1-3 1-2 1-3 1-4 1-4 1-4 1-6 1-6 1-7 1-7 1-8 1-9 1-8 1-9 1-8 1-9 1-10 1-10 1-10 1-11 1-11 1-12 1-12 1-12 1-13 1-15 1-14 1-14 1-12 1-13 1-12 1-12 1-10 1-7 1-5 1-2 1-2 1-1 1 0 1 1 1 5 1 9 1 11 1 13 1 12 1 14 1 15 1 15 1 13 1 10 1 6 1 5 1 4 1 4 1 4 1 5 1 4 1 5 1 5 1 6 1 8 1 9 1 10 1 10 1 8 1 5 1 1 1-3 1-7 1-7 1-3 1 3 1 12 1 17 1 22 1 32 1 34 1 28 1 22 1 18 1 14 1 9 1 6 1 3 1 2 1 0 1 0 1 0 1-1 1-1 1 0 1-1 1-1 1-1 1-1 1-1 1-1 1-1"/>
<path d="M0 -149l1-1 1-2 1-3 1-2 1-3 1-4 1-4 1-4 1-5 1-6 1-7 1-7 1-9 1-9 1-9 1-10 1-11 1-11 1-11 1-11 1-12 1-12 1-12 1-12 1-13 1-14 1-14 1-14 1-15 1-14 1-14 1-12 1-13 1-12 1-10 1-8 1-6 1-4 1-2 1-2 1-1 1 1 1 5 1 9 1 11 1 12 1 13 1 14 1 16 1 15 1 14 1 10 1 8 1 6 1 5 1 4 1 4 1 4 1 5 1 6 1 6 1 8 1 9 1 11 1 12 1 11 1 9 1 6 1 2 1-3 1-6 1-6 1-3 1 4 1 11 1 17 1 23 1 31 1 34 1 28 1 21 1 18 1 14 1 9 1 5 1 4 1 2 1 1 1 0 1-1 1 0 1-1 1 0 1-1 1-1 1-1 1 0 1-1 1-1 1-1"/>
<path d="M0 -247l1-3 1-2 1-3 1-4 1-3 1-4 1-4 1-5 1-7 1-7 1-7 1-7 1-7 1-6 1-6 1-5 1-5 1-5 1-5 1-5 1-5 1-6 1-7 1-9 1-10 1-11 1-12 1-13 1-13 1-13 1-13 1-13 1-12 1-12 1-11 1-10 1-10 1-8 1-7 1-5 1-4 1-3 1 1 1 5 1 9 1 8 1 10 1 13 1 16 1 17 1 13 1 11 1 11 1 9 1 5 1 3 1 2 1 3 1 3 1 4 1 5 1 7 1 11 1 14 1 18 1 16 1 12 1 9 1 4 1 0 1-6 1-9 1-7 1 2 1 12 1 18 1 24 1 31 1 36 1 33 1 31 1 25 1 17 1 11 1 5 1 3 1 2 1 2 1 1 1 0 1 0 1-2 1-1 1-2 1-2 1-2 1-3 1-2 1-3 1-3"/>
<path d="M0 -334l1-2 1-1 1-1 1-2 1-1 1-2 1-1 1-2 1-1 1-3 1-2 1-3 1-3 1-4 1-5 1-4 1-6 1-7 1-8 1-9 1-10 1-10 1-12 1-12 1-13 1-13 1-15 1-15 1-16 1-16 1-15 1-13 1-14 1-13 1-11 1-10 1-7 1-7 1-6 1-4 1-2 1 0 1 3 1 6 1 8 1 9 1 10 1 13 1 15 1 16 1 15 1 13 1 11 1 10 1 8 1 7 1 7 1 7 1 7 1 7 1 7 1 8 1 10 1 10 1 12 1 10 1 8 1 6 1 2 1-3 1-6 1-6 1-4 1 2 1 10 1 15 1 21 1 29 1 37 1 39 1 42 1 34 1 19 1 9 1 3 1 1 1 1 1 0 1-1 1 0 1-1 1-1 1-1 1-1 1-1 1-1 1-1 1-1 1-1 1-1"/>
<path d="M0 -314l1-1 1-2 1-2 1-3 1-3 1-3 1-4 1-4 1-4 1-5 1-4 1-5 1-5 1-5 1-6 1-7 1-6 1-8 1-8 1-8 1-9 1-10 1-9 1-11 1-10 1-12 1-13 1-15 1-15 1-17 1-16 1-17 1-17 1-18 1-18 1-22 1-29 1-36 1-37 1-34 1-32 1-17 1-2 1 3 1 12 1 33 1 42 1 34 1 30 1 34 1 35 1 19 1 7 1 5 1 3 1 2 1 2 1 1 1 1 1 4 1 7 1 11 1 17 1 20 1 20 1 20 1 20 1 17 1 6 1-3 1-10 1-22 1-18 1 3 1 14 1 24 1 31 1 36 1 38 1 41 1 43 1 39 1 26 1 17 1 8 1 1 1 0 1 0 1 0 1 0 1 0 1 0 1 0 1 0 1 0 1 0 1 0 1 0 1 0 1 0"/>
<path d="M0 -286l1-2 1-3 1-4 1-4 1-4 1-5 1-4 1-5 1-6 1-5 1-5 1-6 1-6 1-6 1-6 1-7 1-7 1-7 1-8 1-8 1-8 1-9 1-10 1-10 1-11 1-12 1-14 1-16 1-18 1-18 1-19 1-19 1-19 1-18 1-18 1-19 1-20 1-16 1-10 1-5 1-4 1-3 1-2 1-2 1-1 1 4 1 9 1 16 1 26 1 26 1 22 1 21 1 18 1 15 1 10 1 6 1 4 1 3 1 2 1 3 1 3 1 6 1 9 1 17 1 19 1 19 1 18 1 14 1 4 1-3 1-6 1-6 1-3 1 2 1 8 1 14 1 16 1 24 1 39 1 50 1 48 1 34 1 17 1 9 1 7 1 5 1 3 1 0 1 0 1 0 1 0 1 0 1 0 1-1 1 0 1-1 1-1 1-1 1-1 1-1"/>
<path d="M0 -363l1 2 1 2 1 2 1 0 1 1 1 0 1-1 1-3 1-4 1-6 1-6 1-6 1-8 1-9 1-11 1-11 1-12 1-12 1-11 1-10 1-10 1-10 1-10 1-12 1-12 1-13 1-14 1-13 1-13 1-11 1-10 1-9 1-7 1-6 1-5 1-5 1-5 1-4 1-4 1-2 1 2 1 4 1 7 1 7 1 8 1 10 1 11 1 12 1 12 1 12 1 12 1 13 1 12 1 11 1 9 1 7 1 6 1 5 1 5 1 5 1 5 1 7 1 8 1 12 1 15 1 15 1 13 1 8 1 2 1-5 1-8 1-8 1-5 1 3 1 10 1 15 1 19 1 25 1 38 1 47 1 43 1 31 1 12 1 5 1 5 1 3 1 3 1 2 1 1 1 0 1 0 1 0 1 0 1 0 1-1 1 0 1-1 1-1 1-2 1-1"/>
<path d="M0 -79l1-1 1-1 1-2 1-1 1-1 1-2 1-1 1-3 1-12 1-22 1-23 1-23 1-21 1-18 1-14 1-13 1-11 1-10 1-9 1-8 1-7 1-7 1-6 1-6 1-4 1-5 1-6 1-9 1-12 1-15 1-16 1-17 1-17 1-16 1-14 1-12 1-9 1-5 1-4 1-4 1-2 1-2 1 2 1 7 1 13 1 16 1 17 1 18 1 15 1 11 1 8 1 7 1 7 1 5 1 6 1 5 1 5 1 5 1 5 1 5 1 5 1 6 1 6 1 9 1 8 1 9 1 7 1 5 1 1 1-3 1-4 1-4 1-2 1 2 1 8 1 11 1 14 1 19 1 28 1 35 1 33 1 25 1 13 1 8 1 6 1 5 1 2 1 1 1 0 1 0 1 0 1 0 1 0 1 0 1-1 1 0 1-1 1 0 1-1 1-1"/>
<path d="M0 -88l1-1 1-1 1-1 1-1 1-2 1-3 1-5 1-5 1-7 1-7 1-10 1-12 1-14 1-14 1-14 1-14 1-13 1-13 1-13 1-11 1-10 1-8 1-8 1-8 1-10 1-11 1-15 1-16 1-17 1-19 1-18 1-18 1-16 1-14 1-12 1-8 1-5 1-1 1 1 1 1 1 2 1 2 1 4 1 8 1 12 1 14 1 16 1 15 1 14 1 10 1 8 1 7 1 7 1 6 1 5 1 6 1 5 1 5 1 5 1 5 1 5 1 5 1 6 1 7 1 7 1 8 1 5 1 4 1 1 1 0 1 0 1-1 1 2 1 11 1 20 1 23 1 22 1 23 1 23 1 22 1 21 1 16 1 8 1 6 1 4 1 3 1 3 1 5 1 12 1 15 1-21 1-12 1-4 1-2 1-2 1-2 1-1 1-1 1 0 1 0"/>
</g>
<path d="M236.5 501.8l4.2-.4 4.1-.6 4.2-.6 4.2-.7 4.1-.7 4.2-.7 4.2-.8 4.1-.8 4.2-.9 4.2-.9 4.1-1 4.2-1.1 4.1-1.2 4.2-1.3 4.2-1.4 4.1-1.7 4.2-2 4.2-2.3 4.1-2.4 4.2-2.4 4.2-2.3 4.1-2.3 4.2-2.2 4.2-2.3 4.1-2.2 4.2-2.2 4.2-2.1 4.1-2.1 4.2-1.9 4.1-1.9 4.2-1.8 4.2-1.8 4.1-1.7 4.2-1.7 4.2-1.6 4.1-1.7 4.2-1.7 4.2-1.7 4.1-1.8 4.2-1.7 4.2-1.8 4.1-1.8 4.2-1.8 4.2-2 4.1-2.1 4.2-2.3 4.2-2.5 4.1-2.6 4.2-2.8 4.2-2.8 4.1-3 4.2-3 4.1-3.2 4.2-3.2 4.2-3.3 4.1-3.3 4.2-3.4 4.2-3.4 4.1-3.5 4.2-3.4 4.2-3.3 4.1-3.3 4.2-3.3 4.2-3.3 4.1-3.2 4.2-3.2 4.2-3 4.1-3 4.2-2.8 4.1-2.8 4.2-2.7 4.2-2.7 4.1-2.6 4.2-2.6 4.2-2.5 4.1-2.3 4.2-2.2 4.2-1.9 4.1-1.6 4.2-1.4 4.2-1.2 4.1-1.1 4.2-1 4.2-.5 4.1-.1 4.2 .4 4.2 1.1 4.1 1.6 4.2 1.9 4.2 2.1 4.1 2.1 4.2 2.2 4.1 2.5 4.2 2.7 4.2 3 4.1 3.4 4.2 4 4.2 4.6 4.1 4.6 4.2 4.1 4.2 3.6 4.1 3.3 4.2 3.1 4.2 3 4.1 3 4.2 3 4.2 2.6 4.1 2.2 4.2 1.7 4.2 1 4.1 .7 4.2 .5 4.1 .5 4.2 .4 4.2 .5 4.1 .5 4.2 .6 4.2 .6 4.1 .7 4.2 .8 4.2 .8 4.1 1.1 4.2 1.3 4.2 1.8 4.1 2.2 4.2 2.7 4.2 3.2 4.1 3.8 4.2 4.4 4.2 4.6 4.1 4.2 4.2 3.8 4.1 3.4 4.2 2.8 4.2 2.3 4.1 1.8 4.2 1.4 4.2 1 4.1 .4 4.2-.5 4.2-1.4 4.1-2.1 4.2-2.4 4.2-2.5 4.1-2.4 4.2-2 4.2-.8 4.1 .9 4.2 2.3 4.1 3.3 4.2 4 4.2 4.7 4.1 5.6 4.2 6.3 4.2 7.2 4.1 8.1 4.2 8.8 4.2 9.1 4.1 9.1 4.2 8.9 4.2 8.8 4.1 8.5 4.2 7.4 4.2 6.3 4.1 5.2 4.2 4.3 4.2 3.2 4.1 2.1 4.2 1.3 4.2 1 4.1 .8 4.2 .7 4.1 .5 4.2 .5 4.2 .4 4.1 .4 4.2 .4 4.2 .3 4.1 .2 4.2 .1 4.2 0 4.1-.2 4.2-.4 4.2-.4 4.1-.5 4.2-.6 4.2-.6 4.1-.6 4.2-.6 4.1-.6 4.2-.6 4.2-.7 4.1-.7 4.2-.7 4.2-.8 4.1-.7 4.2-.9 4.2-.8 4.1-.9 4.2-.6" stroke="#ff0000" stroke-width="6.5"/>
</g>
<g clip-path="url(#c10)" fill="none" stroke-linejoin="round">
<g class="bl" stroke="#0000ff" stroke-width="1.8" transform="translate(1331.5,612.5) scale(8.3200,0.5)">
<path d="M0 -278l1-1 1-2 1-2 1-2 1-3 1-2 1-3 1-3 1-3 1-4 1-4 1-4 1-4 1-4 1-4 1 6 1 6 1 7 1 5 1 2 1 2 1 1 1-2 1-4 1-6 1-8 1-8 1-9 1-9 1-9 1-10 1-9 1-10 1-10 1-11 1-10 1-10 1-9 1-8 1-5 1-4 1-4 1-1 1 0 1 3 1 5 1 6 1 6 1 7 1 7 1 8 1 7 1 7 1 6 1 4 1 2 1 1 1 1 1 1 1 0 1 2 1 2 1 7 1 12 1 16 1 16 1 14 1 9 1 1 1-6 1-12 1-13 1-9 1-2 1 9 1 16 1 18 1 20 1 23 1 26 1 34 1 36 1 28 1 15 1 7 1 4 1 3 1 2 1 1 1-1 1 0 1-2 1-1 1-1 1-2 1-3 1-2 1-4 1-4 1-3"/>
<path d="M0 -275l1-1 1-2 1-2 1-3 1-2 1-3 1-2 1-3 1-4 1-4 1-4 1-1 1-2 1-2 1-1 1-1 1-1 1-1 1-2 1-3 1-5 1-6 1-8 1-8 1-9 1-10 1-10 1-11 1-11 1-11 1-11 1-10 1-9 1-10 1-9 1-9 1-10 1-11 1-9 1-9 1-8 1-7 1-3 1 0 1 4 1 5 1 7 1 8 1 9 1 8 1 10 1 7 1 6 1 4 1 2 1 2 1 1 1 1 1 1 1 0 1 2 1 3 1 8 1 10 1 14 1 11 1 8 1 3 1 0 1-5 1-13 1-12 1-7 1 0 1 7 1 14 1 22 1 26 1 31 1 33 1 35 1 33 1 27 1 17 1 9 1 6 1 4 1 2 1 1 1 0 1-1 1-1 1-2 1-2 1-2 1-3 1-4 1-4 1-5 1-4"/>
<path d="M0 -275l1-1 1-2 1-2 1-2 1-3 1-3 1-3 1-3 1-3 1-4 1-4 1-4 1-3 1-1 1 1 1 0 1 1 1 1 1 0 1-2 1-4 1-6 1-8 1-9 1-9 1-10 1-10 1-11 1-12 1-11 1-11 1-11 1-10 1-10 1-10 1-10 1-10 1-10 1-8 1-7 1-7 1-5 1-3 1 2 1 5 1 7 1 7 1 9 1 9 1 9 1 9 1 7 1 5 1 4 1 2 1 1 1 1 1 1 1 1 1 2 1 3 1 6 1 10 1 15 1 18 1 17 1 13 1 9 1 4 1-3 1-10 1-11 1-6 1 0 1 7 1 14 1 20 1 21 1 25 1 29 1 33 1 33 1 27 1 15 1 7 1 5 1 3 1 2 1 1 1 0 1 0 1-1 1 0 1-1 1-1 1-2 1-3 1-3 1-3 1-4"/>
<path d="M0 -277l1-1 1-2 1-2 1-2 1-2 1-3 1-3 1-3 1-4 1-4 1-4 1-4 1-5 1-5 1-4 1-5 1-4 1-4 1-4 1-5 1-4 1-4 1-5 1-6 1-6 1-8 1-9 1-10 1-11 1-13 1-15 1-14 1-15 1-14 1-15 1-16 1-16 1-14 1-9 1-5 1-2 1-1 1 1 1 2 1 4 1 6 1 6 1 6 1 6 1 6 1 6 1 5 1 4 1 4 1 3 1 2 1 2 1 3 1 2 1 2 1 3 1 4 1 7 1 9 1 11 1 10 1 8 1 5 1 0 1-7 1-13 1-13 1-9 1-1 1 9 1 18 1 22 1 29 1 34 1 36 1 38 1 37 1 29 1 16 1 9 1 6 1 5 1 4 1 1 1 1 1-1 1-1 1-2 1-3 1-3 1-5 1-5 1-6 1-8 1-6"/>
<path d="M0 -273l1-1 1-3 1-2 1-3 1-2 1-3 1-3 1-3 1-4 1-3 1-5 1-4 1-5 1-4 1-5 1-3 1-3 1-4 1-3 1-4 1-5 1-6 1-6 1-7 1-8 1-8 1-9 1-10 1-12 1-14 1-14 1-15 1-15 1-14 1-15 1-16 1-16 1-13 1-9 1-4 1-2 1-1 1 0 1 2 1 4 1 4 1 6 1 5 1 5 1 4 1 5 1 3 1 4 1 3 1 4 1 4 1 4 1 4 1 4 1 5 1 5 1 7 1 9 1 12 1 14 1 13 1 10 1 6 1 1 1-5 1-12 1-13 1-9 1-1 1 7 1 15 1 21 1 27 1 32 1 34 1 37 1 35 1 29 1 16 1 10 1 6 1 5 1 3 1 1 1 1 1-1 1-1 1-1 1-2 1-3 1-4 1-4 1-5 1-7 1-5"/>
<path d="M0 -276l1-1 1-2 1-2 1-3 1-2 1-3 1-3 1-3 1-3 1-4 1-4 1-4 1-4 1-4 1 3 1 4 1 4 1 4 1 3 1 1 1-1 1-2 1-4 1-5 1-8 1-9 1-10 1-10 1-10 1-11 1-10 1-11 1-10 1-10 1-11 1-10 1-10 1-10 1-8 1-5 1-5 1-4 1-2 1 2 1 4 1 5 1 7 1 8 1 7 1 8 1 8 1 8 1 6 1 5 1 2 1 2 1 1 1 0 1 0 1 1 1 1 1 3 1 7 1 12 1 16 1 15 1 13 1 7 1 2 1-4 1-12 1-12 1-8 1 0 1 8 1 14 1 20 1 21 1 25 1 28 1 34 1 34 1 28 1 15 1 7 1 5 1 3 1 1 1 1 1-1 1 0 1-1 1-2 1-1 1-2 1-2 1-3 1-3 1-4 1-4"/>
<path d="M0 -274l1-1 1-2 1-2 1-2 1-2 1-2 1-2 1-2 1-3 1-3 1-3 1-3 1-4 1-3 1-3 1-2 1-3 1-2 1-3 1-5 1-5 1-7 1-8 1-8 1-9 1-9 1-10 1-11 1-12 1-13 1-13 1-14 1-13 1-13 1-13 1-14 1-14 1-12 1-9 1-5 1-3 1-3 1-1 1 2 1 5 1 5 1 6 1 7 1 7 1 7 1 7 1 5 1 4 1 4 1 3 1 2 1 2 1 2 1 2 1 3 1 3 1 4 1 8 1 11 1 13 1 11 1 9 1 4 1 1 1-6 1-13 1-14 1-9 1-1 1 7 1 15 1 21 1 27 1 32 1 34 1 37 1 35 1 28 1 17 1 9 1 7 1 4 1 3 1 1 1 1 1-1 1-1 1-2 1-2 1-3 1-4 1-5 1-6 1-7 1-6"/>
<path d="M0 -275l1-1 1-2 1-2 1-2 1-3 1-3 1-3 1-3 1-3 1-4 1-4 1-5 1-4 1-5 1-4 1-5 1-2 1-2 1-3 1-4 1-5 1-5 1-6 1-8 1-7 1-9 1-9 1-11 1-11 1-14 1-14 1-15 1-15 1-14 1-15 1-16 1-16 1-13 1-9 1-4 1-2 1-1 1 0 1 2 1 4 1 5 1 5 1 6 1 5 1 5 1 4 1 4 1 4 1 4 1 3 1 4 1 4 1 5 1 5 1 5 1 5 1 8 1 10 1 14 1 15 1 15 1 12 1 6 1 3 1-3 1-11 1-12 1-6 1 0 1 7 1 14 1 21 1 26 1 31 1 32 1 36 1 32 1 28 1 16 1 9 1 7 1 4 1 2 1 1 1 0 1 0 1-1 1-2 1-2 1-3 1-3 1-4 1-5 1-6 1-5"/>
<path d="M0 -125l1-5 1-5 1-6 1-6 1-6 1-6 1-6 1-7 1-7 1-8 1-9 1-10 1-11 1-11 1-13 1-13 1-12 1-14 1-13 1-13 1-14 1-13 1-12 1-11 1-11 1-10 1-11 1-11 1-12 1-14 1-16 1-15 1-16 1-15 1-15 1-17 1-15 1-13 1-8 1-3 1-1 1 0 1 1 1 2 1 5 1 5 1 6 1 6 1 6 1 5 1 6 1 4 1 4 1 4 1 3 1 3 1 3 1 4 1 4 1 4 1 4 1 6 1 9 1 12 1 14 1 12 1 10 1 6 1 1 1-6 1-12 1-13 1-8 1-2 1 7 1 16 1 21 1 27 1 32 1 34 1 37 1 35 1 29 1 17 1 9 1 6 1 5 1 3 1 2 1 0 1 0 1-1 1-2 1-2 1-3 1-3 1-5 1-5 1-6 1-6"/>
<path d="M0 -81l1-2 1-2 1-4 1-4 1-5 1-6 1-7 1-7 1-9 1-12 1-12 1-13 1-13 1-11 1-10 1-9 1-7 1-6 1-10 1-12 1-14 1-14 1-16 1-15 1-15 1-15 1-13 1-13 1-12 1-12 1-11 1-11 1-10 1-10 1-9 1-10 1-9 1-9 1-8 1-6 1-5 1-4 1-2 1 1 1 4 1 5 1 6 1 8 1 7 1 8 1 8 1 7 1 5 1 5 1 2 1 2 1 1 1 1 1 2 1 2 1 2 1 5 1 9 1 14 1 18 1 16 1 14 1 9 1 3 1-4 1-11 1-12 1-8 1-1 1 8 1 15 1 19 1 22 1 24 1 28 1 34 1 35 1 29 1 15 1 8 1 5 1 3 1 2 1 1 1 1 1-1 1-1 1-1 1-1 1-2 1-3 1-3 1-4 1-5 1-4"/>
<path d="M0 -122l1-4 1-4 1-6 1-5 1-5 1-5 1-6 1-5 1-6 1-6 1-6 1-6 1-6 1-6 1-6 1-6 1-5 1-5 1-5 1-6 1-7 1-10 1-12 1-12 1-14 1-13 1-13 1-12 1-11 1-11 1-11 1-11 1-10 1-10 1-10 1-11 1-9 1-9 1-7 1-5 1-3 1-3 1-1 1 0 1 3 1 5 1 5 1 6 1 5 1 6 1 7 1 6 1 6 1 5 1 2 1 1 1 1 1 0 1-1 1 0 1 0 1 2 1 5 1 11 1 15 1 14 1 12 1 6 1 1 1-6 1-13 1-13 1-8 1-1 1 7 1 14 1 19 1 22 1 25 1 28 1 34 1 34 1 28 1 16 1 8 1 5 1 3 1 3 1 1 1 0 1 0 1-1 1-1 1-1 1-2 1-2 1-3 1-4 1-4 1-4"/>
<path d="M0 -106l1-4 1-5 1-5 1-6 1-6 1-6 1-7 1-7 1-8 1-8 1-8 1-9 1-8 1-7 1-8 1-9 1-8 1-9 1-9 1-10 1-11 1-13 1-14 1-14 1-13 1-14 1-13 1-13 1-13 1-12 1-11 1-11 1-11 1-11 1-10 1-11 1-10 1-10 1-9 1-8 1-6 1-5 1-3 1 1 1 4 1 6 1 7 1 8 1 8 1 9 1 9 1 8 1 6 1 4 1 3 1 2 1 1 1 1 1 1 1 1 1 2 1 3 1 8 1 12 1 16 1 14 1 10 1 5 1 1 1-4 1-13 1-12 1-6 1-1 1 6 1 13 1 20 1 24 1 27 1 30 1 34 1 33 1 27 1 17 1 9 1 6 1 4 1 2 1 1 1 1 1-1 1-1 1-1 1-2 1-2 1-2 1-4 1-4 1-4 1-4"/>
<path d="M0 -113l1-4 1-5 1-6 1-6 1-6 1-7 1-8 1-8 1-8 1-8 1-9 1-9 1-10 1-12 1-11 1-12 1-12 1-13 1-13 1-14 1-15 1-13 1-13 1-11 1-12 1-11 1-11 1-12 1-12 1-13 1-13 1-14 1-13 1-13 1-13 1-14 1-15 1-12 1-9 1-6 1-4 1-3 1-1 1 1 1 4 1 5 1 6 1 6 1 7 1 6 1 6 1 5 1 4 1 4 1 3 1 3 1 3 1 3 1 4 1 3 1 4 1 6 1 9 1 12 1 14 1 13 1 9 1 5 1 1 1-5 1-13 1-13 1-9 1-1 1 6 1 14 1 21 1 26 1 32 1 34 1 36 1 34 1 29 1 16 1 10 1 6 1 5 1 3 1 2 1 0 1 0 1 0 1-2 1-1 1-3 1-3 1-4 1-5 1-5 1-6"/>
<path d="M0 -69l1-2 1-2 1-4 1-4 1-6 1-6 1-7 1-8 1-10 1-13 1-15 1-14 1-15 1-13 1-11 1-9 1-8 1-13 1-14 1-16 1-17 1-17 1-18 1-16 1-16 1-14 1-15 1-12 1-12 1-12 1-12 1-12 1-12 1-11 1-11 1-12 1-12 1-11 1-10 1-7 1-6 1-5 1-2 1 1 1 4 1 5 1 7 1 8 1 7 1 8 1 8 1 7 1 5 1 4 1 3 1 2 1 2 1 3 1 2 1 3 1 4 1 6 1 10 1 14 1 17 1 15 1 11 1 5 1 2 1-1 1-12 1-11 1-5 1-1 1 6 1 12 1 20 1 24 1 28 1 30 1 34 1 30 1 26 1 17 1 9 1 6 1 3 1 2 1 1 1 0 1 0 1-1 1-1 1-1 1-2 1-2 1-3 1-3 1-4 1-4"/>
<path d="M0 -66l1-2 1-2 1-4 1-4 1-6 1-7 1-7 1-9 1-10 1-14 1-14 1-16 1-14 1-13 1-11 1-9 1-8 1-13 1-15 1-15 1-16 1-18 1-17 1-16 1-16 1-14 1-14 1-13 1-13 1-11 1-12 1-11 1-11 1-10 1-10 1-11 1-10 1-10 1-9 1-7 1-7 1-5 1-3 1 1 1 5 1 6 1 7 1 8 1 9 1 9 1 9 1 7 1 5 1 4 1 1 1 1 1 0 1 1 1 0 1 1 1 1 1 4 1 7 1 11 1 14 1 12 1 8 1 3 1 0 1-5 1-13 1-13 1-8 1-2 1 6 1 14 1 20 1 26 1 31 1 32 1 36 1 33 1 28 1 16 1 10 1 6 1 4 1 3 1 1 1 1 1-1 1-1 1-1 1-2 1-2 1-3 1-4 1-5 1-5 1-5"/>
<path d="M0 -96l1-2 1-3 1-4 1-4 1-5 1-5 1-5 1-7 1-7 1-10 1-10 1-11 1-10 1-10 1-9 1-8 1-6 1-6 1-6 1-7 1-8 1-13 1-14 1-15 1-15 1-14 1-14 1-13 1-12 1-12 1-12 1-11 1-10 1-11 1-10 1-10 1-10 1-10 1-7 1-6 1-4 1-4 1-2 1 1 1 4 1 5 1 6 1 7 1 7 1 7 1 7 1 8 1 6 1 5 1 3 1 1 1 1 1 1 1 0 1 0 1 0 1 2 1 7 1 11 1 14 1 14 1 11 1 5 1 0 1-5 1-14 1-13 1-8 1-1 1 5 1 13 1 19 1 22 1 26 1 29 1 33 1 32 1 27 1 16 1 8 1 6 1 3 1 2 1 1 1 0 1 0 1-1 1-1 1-1 1-2 1-2 1-3 1-3 1-4 1-3"/>
<path d="M0 -87l1-2 1-3 1-4 1-5 1-6 1-7 1-7 1-8 1-9 1-12 1-12 1-12 1-11 1-10 1-9 1-8 1-11 1-12 1-11 1-13 1-14 1-15 1-14 1-15 1-14 1-13 1-13 1-13 1-12 1-11 1-12 1-10 1-11 1-9 1-10 1-11 1-10 1-10 1-9 1-8 1-8 1-6 1-4 1 0 1 4 1 5 1 6 1 8 1 9 1 8 1 10 1 7 1 5 1 5 1 2 1 2 1 2 1 2 1 2 1 2 1 2 1 5 1 9 1 13 1 17 1 14 1 11 1 5 1 1 1-3 1-13 1-12 1-7 1-1 1 5 1 12 1 20 1 23 1 28 1 30 1 34 1 32 1 26 1 17 1 9 1 7 1 4 1 2 1 2 1 1 1 0 1 0 1-1 1-1 1-1 1-3 1-3 1-3 1-4 1-4"/>
<path d="M0 -111l1-4 1-5 1-5 1-6 1-6 1-7 1-7 1-8 1-8 1-9 1-10 1-9 1-11 1-12 1-13 1-14 1-13 1-14 1-15 1-15 1-15 1-13 1-13 1-11 1-11 1-11 1-11 1-11 1-12 1-14 1-15 1-16 1-15 1-15 1-16 1-16 1-16 1-13 1-9 1-4 1-2 1 0 1 0 1 2 1 4 1 5 1 5 1 5 1 5 1 4 1 4 1 3 1 3 1 3 1 3 1 3 1 3 1 4 1 3 1 5 1 4 1 6 1 8 1 11 1 12 1 12 1 9 1 6 1 1 1-6 1-13 1-13 1-9 1-1 1 9 1 16 1 23 1 28 1 34 1 36 1 37 1 37 1 29 1 17 1 10 1 6 1 5 1 3 1 2 1 0 1-1 1-1 1-2 1-3 1-4 1-4 1-6 1-7 1-8 1-7"/>
<path d="M0 -148l1-5 1-5 1-5 1-5 1-6 1-6 1-6 1-7 1-9 1-9 1-10 1-11 1-12 1-13 1-13 1-12 1-13 1-12 1-12 1-13 1-11 1-11 1-10 1-8 1-8 1-8 1-9 1-11 1-12 1-15 1-16 1-17 1-17 1-17 1-19 1-19 1-19 1-16 1-11 1-5 1-2 1 0 1 1 1 3 1 5 1 6 1 7 1 7 1 6 1 6 1 5 1 5 1 5 1 4 1 5 1 5 1 7 1 9 1 9 1 11 1 11 1 13 1 17 1 20 1 25 1 22 1 19 1 13 1 9 1 1 1-8 1-8 1-6 1 1 1 9 1 16 1 20 1 21 1 25 1 28 1 34 1 36 1 28 1 16 1 8 1 5 1 3 1 3 1 1 1 0 1 0 1 0 1-1 1-2 1-2 1-2 1-3 1-4 1-5 1-4"/>
<path d="M0 -199l1-4 1-5 1-5 1-6 1-6 1-6 1-7 1-8 1-8 1-10 1-10 1-10 1-11 1-11 1-11 1-11 1-5 1-5 1-6 1-6 1-7 1-7 1-7 1-8 1-8 1-8 1-10 1-10 1-12 1-14 1-16 1-17 1-18 1-18 1-21 1-23 1-23 1-21 1-17 1-13 1-11 1-9 1-4 1 0 1 6 1 8 1 11 1 10 1 10 1 10 1 11 1 11 1 11 1 9 1 7 1 6 1 4 1 4 1 4 1 5 1 6 1 8 1 11 1 14 1 16 1 15 1 12 1 8 1 2 1-4 1-10 1-10 1-7 1 0 1 10 1 17 1 23 1 28 1 34 1 35 1 38 1 35 1 29 1 17 1 9 1 7 1 5 1 3 1 1 1 0 1-1 1-1 1-2 1-2 1-4 1-4 1-5 1-7 1-7 1-7"/>
<path d="M0 -250l1-2 1-3 1-3 1-3 1-3 1-3 1-4 1-4 1-4 1-6 1-5 1-6 1-6 1-7 1-6 1-6 1-6 1-6 1-6 1-7 1-6 1-6 1-7 1-7 1-7 1-8 1-9 1-10 1-13 1-14 1-17 1-17 1-17 1-17 1-18 1-19 1-19 1-15 1-10 1-5 1-2 1-1 1 0 1 2 1 4 1 6 1 6 1 6 1 6 1 5 1 5 1 5 1 5 1 5 1 4 1 5 1 4 1 5 1 5 1 5 1 7 1 7 1 10 1 13 1 15 1 15 1 12 1 7 1 3 1-4 1-11 1-12 1-8 1 0 1 8 1 16 1 22 1 27 1 33 1 34 1 37 1 35 1 28 1 17 1 9 1 7 1 4 1 3 1 1 1 0 1 0 1-2 1-2 1-2 1-3 1-4 1-5 1-6 1-7 1-7"/>
<path d="M0 -189l1-4 1-4 1-5 1-5 1-6 1-6 1-6 1-8 1-9 1-10 1-10 1-11 1-11 1-11 1-11 1-11 1-10 1-10 1-6 1-6 1-6 1-7 1-7 1-8 1-8 1-8 1-10 1-10 1-13 1-14 1-16 1-17 1-17 1-18 1-21 1-22 1-22 1-20 1-15 1-11 1-9 1-6 1-2 1 2 1 6 1 8 1 10 1 10 1 9 1 9 1 10 1 9 1 9 1 7 1 7 1 5 1 5 1 5 1 5 1 6 1 8 1 10 1 12 1 16 1 20 1 19 1 16 1 10 1 6 1 0 1-9 1-9 1-4 1 1 1 8 1 14 1 22 1 26 1 30 1 32 1 35 1 32 1 27 1 17 1 9 1 7 1 4 1 2 1 2 1 1 1 0 1-1 1-1 1-1 1-2 1-2 1-3 1-4 1-4 1-4"/>
<path d="M0 -160l1-4 1-5 1-5 1-5 1-5 1-6 1-6 1-7 1-8 1-10 1-10 1-12 1-12 1-13 1-13 1-12 1-13 1-12 1-13 1-12 1-10 1-6 1-8 1-7 1-8 1-9 1-9 1-11 1-12 1-14 1-16 1-17 1-17 1-18 1-19 1-21 1-20 1-17 1-13 1-8 1-6 1-4 1-2 1 1 1 4 1 6 1 8 1 8 1 7 1 7 1 8 1 8 1 8 1 7 1 6 1 5 1 6 1 5 1 6 1 8 1 8 1 13 1 15 1 19 1 21 1 20 1 16 1 10 1 6 1 1 1-9 1-9 1-4 1 1 1 5 1 13 1 20 1 25 1 28 1 31 1 34 1 31 1 27 1 17 1 10 1 6 1 5 1 2 1 2 1 1 1 0 1 0 1-1 1-1 1-2 1-3 1-3 1-3 1-5 1-4"/>
<path d="M0 -272l1-1 1-2 1-2 1-3 1-2 1-3 1-3 1-3 1-4 1-5 1-5 1-4 1-5 1-5 1-5 1-5 1-5 1-5 1-5 1-6 1-6 1-7 1-7 1-7 1-8 1-9 1-9 1-11 1-12 1-14 1-16 1-17 1-17 1-18 1-21 1-22 1-22 1-19 1-16 1-10 1-9 1-6 1-2 1 2 1 6 1 8 1 9 1 9 1 9 1 8 1 9 1 9 1 9 1 8 1 6 1 5 1 4 1 3 1 5 1 4 1 6 1 7 1 11 1 13 1 15 1 15 1 12 1 7 1 2 1-6 1-11 1-12 1-7 1-1 1 10 1 17 1 23 1 28 1 34 1 35 1 37 1 37 1 29 1 16 1 9 1 7 1 4 1 3 1 2 1 0 1-1 1-1 1-2 1-2 1-3 1-5 1-5 1-6 1-7 1-6"/>
<path d="M0 -146l1-4 1-5 1-5 1-6 1-5 1-6 1-6 1-7 1-8 1-10 1-10 1-11 1-13 1-13 1-14 1-14 1-13 1-14 1-13 1-13 1-13 1-9 1-8 1-7 1-9 1-8 1-10 1-10 1-13 1-14 1-16 1-17 1-18 1-18 1-19 1-21 1-21 1-19 1-13 1-9 1-6 1-4 1-1 1 3 1 5 1 8 1 9 1 9 1 9 1 8 1 8 1 7 1 8 1 6 1 6 1 6 1 5 1 7 1 9 1 12 1 13 1 15 1 18 1 22 1 27 1 23 1 21 1 15 1 10 1 1 1-7 1-9 1-6 1 1 1 9 1 16 1 19 1 21 1 24 1 27 1 34 1 36 1 29 1 15 1 8 1 4 1 4 1 2 1 2 1 0 1 0 1 0 1-1 1-2 1-1 1-3 1-3 1-4 1-4 1-4"/>
<path d="M0 -170l1-4 1-6 1-6 1-5 1-6 1-6 1-7 1-8 1-10 1-9 1-10 1-11 1-10 1-10 1-10 1-9 1-9 1-9 1-9 1-10 1-10 1-9 1-8 1-9 1-8 1-9 1-9 1-10 1-12 1-15 1-16 1-17 1-17 1-17 1-18 1-18 1-18 1-15 1-8 1-3 1 0 1 2 1 2 1 3 1 5 1 5 1 6 1 6 1 4 1 4 1 4 1 4 1 3 1 5 1 4 1 5 1 5 1 6 1 5 1 7 1 7 1 8 1 11 1 14 1 16 1 15 1 12 1 7 1 2 1-3 1-11 1-12 1-7 1 0 1 7 1 15 1 21 1 26 1 31 1 34 1 35 1 34 1 28 1 17 1 9 1 7 1 4 1 3 1 1 1 1 1 0 1-1 1-1 1-2 1-2 1-3 1-4 1-4 1-5 1-5"/>
<path d="M0 -138l1-5 1-5 1-6 1-6 1-6 1-7 1-6 1-8 1-8 1-9 1-10 1-11 1-11 1-13 1-12 1-12 1-12 1-12 1-12 1-12 1-12 1-11 1-10 1-10 1-10 1-9 1-10 1-11 1-12 1-15 1-17 1-17 1-17 1-17 1-18 1-19 1-18 1-14 1-10 1-3 1-1 1 0 1 1 1 3 1 4 1 6 1 6 1 6 1 6 1 5 1 5 1 4 1 5 1 7 1 6 1 8 1 8 1 8 1 9 1 10 1 10 1 12 1 16 1 20 1 24 1 22 1 18 1 13 1 7 1 0 1-9 1-9 1-7 1 1 1 8 1 16 1 19 1 22 1 24 1 28 1 35 1 35 1 29 1 16 1 8 1 5 1 4 1 2 1 1 1 1 1-1 1 0 1-1 1-2 1-2 1-3 1-3 1-5 1-4 1-5"/>
<path d="M0 -166l1-5 1-5 1-5 1-5 1-6 1-5 1-7 1-7 1-8 1-10 1-11 1-12 1-12 1-11 1-12 1-11 1-12 1-11 1-12 1-11 1-9 1-6 1-8 1-7 1-8 1-9 1-9 1-11 1-12 1-15 1-16 1-17 1-17 1-18 1-20 1-21 1-22 1-18 1-14 1-10 1-6 1-4 1-1 1 2 1 6 1 8 1 9 1 10 1 8 1 8 1 8 1 8 1 7 1 7 1 5 1 6 1 5 1 5 1 6 1 7 1 9 1 12 1 15 1 19 1 21 1 21 1 17 1 11 1 6 1 3 1-9 1-7 1-3 1 1 1 8 1 14 1 21 1 25 1 28 1 30 1 34 1 33 1 27 1 17 1 9 1 5 1 4 1 2 1 1 1 0 1 0 1-1 1-1 1-2 1-2 1-3 1-3 1-4 1-4 1-5"/>
<path d="M0 -164l1-5 1-5 1-5 1-5 1-4 1-5 1-5 1-6 1-6 1-6 1-6 1-4 1-4 1-2 1-1 1 1 1 1 1 2 1 2 1-3 1-7 1-9 1-10 1-12 1-12 1-12 1-11 1-12 1-11 1-10 1-11 1-11 1-10 1-10 1-10 1-10 1-10 1-8 1-7 1-5 1-5 1-4 1-1 1 1 1 4 1 7 1 8 1 8 1 7 1 7 1 7 1 7 1 5 1 4 1 1 1 0 1-1 1-2 1-2 1-2 1-7 1-5 1-2 1 4 1 7 1 5 1 2 1-3 1-5 1-9 1-17 1-16 1-11 1-3 1 5 1 13 1 20 1 25 1 31 1 34 1 36 1 34 1 28 1 17 1 9 1 6 1 4 1 3 1 2 1 0 1-1 1-1 1-1 1-2 1-3 1-4 1-4 1-6 1-6 1-5"/>
<path d="M0 -159l1-4 1-5 1-6 1-5 1-5 1-6 1-5 1-6 1-6 1-6 1-5 1-5 1-3 1-2 1-1 1 1 1 2 1 1 1 0 1-4 1-7 1-9 1-10 1-12 1-12 1-12 1-12 1-12 1-11 1-11 1-11 1-11 1-11 1-10 1-10 1-11 1-9 1-9 1-7 1-5 1-4 1-3 1-2 1 2 1 4 1 7 1 8 1 9 1 7 1 8 1 8 1 7 1 6 1 5 1 1 1 0 1-1 1-1 1-2 1-1 1-2 1 1 1 1 1 6 1 10 1 10 1 7 1 2 1-3 1-7 1-15 1-13 1-8 1-1 1 5 1 13 1 20 1 23 1 27 1 30 1 33 1 32 1 26 1 16 1 8 1 6 1 3 1 1 1 1 1 0 1-1 1-1 1-1 1-2 1-1 1-2 1-3 1-3 1-3 1-3"/>
<path d="M0 -274l1-1 1 0 1 0 1 0 1 0 1 0 1 1 1 0 1 0 1 1 1 0 1 1 1 1 1 2 1 3 1 5 1 7 1 7 1 7 1 5 1-2 1-9 1-9 1-11 1-11 1-12 1-11 1-10 1-11 1-10 1-11 1-11 1-11 1-9 1-10 1-10 1-9 1-9 1-7 1-6 1-5 1-4 1-2 1 2 1 5 1 8 1 9 1 9 1 8 1 8 1 8 1 8 1 6 1 4 1 1 1-1 1-2 1-2 1-3 1-3 1-4 1-3 1-5 1 1 1 4 1 3 1-1 1-6 1-7 1-11 1-18 1-17 1-12 1-4 1 6 1 15 1 21 1 27 1 33 1 34 1 37 1 36 1 28 1 17 1 9 1 6 1 4 1 3 1 1 1 0 1-1 1-1 1-2 1-3 1-3 1-4 1-5 1-6 1-6 1-6"/>
<path d="M0 -144l1-5 1-5 1-5 1-6 1-5 1-5 1-5 1-6 1-6 1-5 1-6 1-4 1-4 1-3 1-2 1-2 1 0 1-2 1-4 1-5 1-7 1-9 1-11 1-12 1-12 1-12 1-12 1-12 1-11 1-11 1-11 1-11 1-10 1-11 1-10 1-10 1-10 1-8 1-7 1-5 1-5 1-3 1-2 1 1 1 4 1 6 1 8 1 7 1 7 1 7 1 8 1 7 1 7 1 5 1 3 1 1 1 1 1 0 1 0 1 0 1 1 1 2 1 7 1 13 1 17 1 18 1 16 1 10 1 1 1-9 1-15 1-16 1-12 1-3 1 7 1 15 1 18 1 19 1 22 1 26 1 34 1 35 1 28 1 15 1 7 1 4 1 4 1 2 1 1 1 0 1 1 1-1 1 0 1-1 1-2 1-2 1-3 1-4 1-4 1-4"/>
<path d="M0 -229l1-3 1-4 1-3 1-3 1-4 1-3 1-3 1-3 1-4 1-3 1-4 1-2 1-3 1-1 1-1 1 1 1 2 1 2 1 2 1 0 1-2 1-4 1-6 1-8 1-9 1-10 1-11 1-10 1-10 1-11 1-10 1-11 1-10 1-9 1-11 1-10 1-10 1-8 1-7 1-4 1-4 1-3 1-2 1 1 1 3 1 5 1 6 1 6 1 5 1 6 1 7 1 6 1 6 1 3 1 1 1 0 1-2 1-2 1-4 1-3 1-4 1-2 1 3 1 6 1 11 1 8 1 5 1 0 1-3 1-6 1-15 1-14 1-8 1-2 1 6 1 13 1 21 1 25 1 31 1 32 1 35 1 33 1 27 1 17 1 10 1 6 1 4 1 2 1 1 1 1 1-1 1-1 1-1 1-2 1-3 1-3 1-4 1-5 1-6 1-5"/>
<path d="M0 -165l1-5 1-5 1-5 1-5 1-5 1-4 1-5 1-5 1-6 1-5 1-5 1-4 1-3 1-2 1-1 1 0 1 0 1 1 1 0 1-2 1-7 1-9 1-11 1-12 1-12 1-13 1-13 1-11 1-12 1-11 1-11 1-10 1-10 1-10 1-10 1-10 1-10 1-8 1-7 1-5 1-4 1-3 1-1 1 1 1 4 1 6 1 7 1 8 1 6 1 7 1 6 1 7 1 6 1 3 1 2 1 0 1-1 1-2 1-3 1-5 1-6 1-4 1 1 1 5 1 9 1 7 1 3 1-2 1-3 1-8 1-16 1-15 1-9 1-3 1 5 1 12 1 20 1 25 1 30 1 33 1 35 1 34 1 28 1 16 1 9 1 6 1 5 1 3 1 1 1 1 1-1 1 0 1-1 1-2 1-2 1-3 1-4 1-5 1-5 1-5"/>
<path d="M0 -230l1-2 1-3 1-3 1-3 1-4 1-3 1-4 1-5 1-5 1-6 1-6 1-7 1-6 1-7 1-6 1-6 1-5 1-6 1-6 1-7 1-8 1-8 1-8 1-8 1-9 1-9 1-10 1-10 1-13 1-14 1-15 1-16 1-16 1-16 1-16 1-18 1-16 1-14 1-9 1-3 1-1 1 0 1 2 1 2 1 4 1 5 1 5 1 5 1 5 1 4 1 3 1 3 1 3 1 2 1 3 1 2 1 2 1 2 1 4 1 3 1 3 1 4 1 6 1 9 1 11 1 12 1 10 1 6 1 0 1-8 1-14 1-16 1-12 1-2 1 8 1 16 1 24 1 32 1 39 1 41 1 40 1 39 1 30 1 17 1 10 1 7 1 5 1 4 1 1 1 0 1 0 1-1 1-2 1-3 1-4 1-4 1-6 1-7 1-8 1-8"/>
<path d="M0 -163l1-5 1-4 1-5 1-5 1-5 1-5 1-5 1-7 1-6 1-8 1-7 1-7 1-6 1-7 1-6 1-4 1-5 1-5 1-5 1-7 1-9 1-10 1-11 1-11 1-12 1-12 1-12 1-12 1-12 1-12 1-11 1-11 1-10 1-10 1-10 1-10 1-10 1-10 1-9 1-7 1-6 1-6 1-3 1 1 1 4 1 6 1 6 1 8 1 8 1 8 1 8 1 7 1 4 1 3 1 1 1-1 1-2 1-3 1-4 1-3 1-4 1-1 1 2 1 5 1 6 1 4 1 3 1 2 1-1 1-8 1-14 1-15 1-11 1-3 1 8 1 16 1 23 1 30 1 37 1 38 1 40 1 37 1 30 1 17 1 10 1 7 1 5 1 3 1 2 1 0 1 0 1-1 1-2 1-3 1-4 1-4 1-6 1-7 1-8 1-7"/>
<path d="M0 -247l1-3 1-3 1-4 1-4 1-3 1-4 1-4 1-5 1-5 1-5 1-6 1-6 1-6 1-5 1-6 1-6 1-5 1-6 1-5 1-6 1-7 1-6 1-7 1-7 1-7 1-8 1-9 1-10 1-12 1-15 1-16 1-17 1-17 1-16 1-17 1-18 1-17 1-13 1-8 1-2 1 0 1 2 1 2 1 2 1 4 1 5 1 5 1 5 1 5 1 3 1 3 1 3 1 3 1 3 1 3 1 3 1 4 1 4 1 4 1 4 1 5 1 6 1 8 1 10 1 12 1 12 1 10 1 6 1 1 1-7 1-13 1-14 1-10 1-2 1 8 1 17 1 23 1 29 1 36 1 37 1 39 1 38 1 29 1 17 1 10 1 7 1 5 1 3 1 2 1 0 1-1 1-1 1-2 1-2 1-4 1-4 1-6 1-6 1-8 1-7"/>
<path d="M0 -211l1-5 1-5 1-4 1-5 1-4 1-4 1-4 1-4 1-5 1-5 1-5 1-6 1-5 1-5 1-5 1-4 1-4 1-4 1-5 1-7 1-8 1-10 1-10 1-10 1-10 1-11 1-12 1-11 1-12 1-12 1-12 1-11 1-11 1-10 1-11 1-10 1-10 1-10 1-8 1-6 1-6 1-6 1-3 1 1 1 4 1 5 1 6 1 7 1 7 1 7 1 6 1 4 1 3 1 1 1 0 1-1 1-1 1-1 1-2 1-1 1-1 1 0 1 2 1 6 1 8 1 10 1 8 1 5 1 0 1-9 1-15 1-16 1-12 1-4 1 8 1 17 1 22 1 32 1 40 1 41 1 40 1 39 1 30 1 17 1 10 1 7 1 5 1 4 1 2 1 0 1-1 1-1 1-2 1-2 1-4 1-5 1-5 1-7 1-9 1-7"/>
<path d="M0 -195l1-3 1-3 1-4 1-4 1-4 1-4 1-4 1-6 1-6 1-6 1-7 1-7 1-6 1-6 1-6 1-4 1-5 1-4 1-5 1-7 1-9 1-10 1-11 1-10 1-11 1-12 1-12 1-11 1-12 1-12 1-11 1-11 1-10 1-10 1-9 1-10 1-11 1-10 1-9 1-7 1-7 1-6 1-3 1 1 1 5 1 6 1 8 1 9 1 9 1 9 1 10 1 8 1 6 1 5 1 4 1 3 1 3 1 3 1 4 1 5 1 5 1 8 1 12 1 17 1 20 1 20 1 17 1 12 1 4 1-3 1-11 1-12 1-9 1-1 1 8 1 16 1 18 1 19 1 23 1 27 1 33 1 36 1 28 1 16 1 7 1 4 1 3 1 3 1 1 1 0 1 0 1 0 1-1 1-1 1-2 1-2 1-3 1-4 1-4 1-4"/>
<path d="M0 -159l1-4 1-6 1-5 1-6 1-5 1-6 1-6 1-7 1-7 1-9 1-8 1-8 1-9 1-9 1-7 1-8 1-6 1-8 1-7 1-9 1-10 1-11 1-11 1-11 1-11 1-11 1-11 1-12 1-11 1-12 1-12 1-11 1-11 1-10 1-10 1-11 1-10 1-10 1-9 1-7 1-6 1-5 1-3 1 1 1 5 1 5 1 8 1 8 1 9 1 9 1 9 1 8 1 6 1 5 1 4 1 4 1 4 1 5 1 6 1 7 1 9 1 11 1 16 1 20 1 24 1 24 1 23 1 22 1 11 1-3 1-13 1-20 1-21 1-10 1 7 1 15 1 18 1 20 1 24 1 27 1 32 1 34 1 27 1 15 1 8 1 5 1 4 1 2 1 2 1 0 1 0 1-1 1-1 1-2 1-2 1-3 1-3 1-5 1-5 1-5"/>
<path d="M0 -187l1-3 1-4 1-3 1-4 1-4 1-4 1-5 1-6 1-7 1-8 1-8 1-7 1-8 1-8 1-7 1-5 1-6 1-6 1-6 1-8 1-9 1-10 1-10 1-10 1-10 1-11 1-11 1-11 1-12 1-11 1-11 1-11 1-10 1-10 1-9 1-10 1-10 1-10 1-10 1-7 1-7 1-7 1-3 1 0 1 4 1 6 1 6 1 8 1 8 1 9 1 9 1 8 1 6 1 6 1 6 1 4 1 6 1 6 1 7 1 9 1 10 1 13 1 16 1 22 1 22 1 26 1 28 1 25 1 13 1-4 1-17 1-23 1-26 1-13 1 5 1 15 1 18 1 20 1 24 1 27 1 32 1 34 1 26 1 15 1 8 1 5 1 4 1 3 1 2 1 0 1 0 1-1 1-1 1-2 1-2 1-3 1-4 1-5 1-5 1-6"/>
<path d="M0 -196l1-4 1-5 1-5 1-4 1-5 1-5 1-5 1-6 1-7 1-7 1-7 1-7 1-7 1-7 1-6 1-5 1-5 1-5 1-6 1-7 1-8 1-9 1-10 1-9 1-10 1-11 1-10 1-12 1-11 1-12 1-13 1-12 1-12 1-11 1-11 1-12 1-11 1-11 1-8 1-6 1-5 1-5 1-1 1 1 1 5 1 6 1 7 1 8 1 9 1 8 1 9 1 8 1 6 1 5 1 4 1 4 1 4 1 4 1 5 1 6 1 7 1 9 1 15 1 18 1 22 1 21 1 19 1 14 1 6 1-3 1-10 1-12 1-10 1-2 1 8 1 15 1 18 1 19 1 23 1 27 1 33 1 36 1 28 1 15 1 7 1 4 1 4 1 2 1 1 1 0 1 0 1-1 1-1 1-1 1-2 1-2 1-4 1-3 1-5 1-4"/>
<path d="M0 -137l1-4 1-6 1-6 1-5 1-6 1-5 1-6 1-6 1-6 1-6 1-6 1-6 1-6 1-5 1-5 1-5 1-4 1-4 1-5 1-6 1-7 1-10 1-11 1-12 1-13 1-13 1-13 1-13 1-11 1-12 1-12 1-11 1-11 1-10 1-11 1-10 1-11 1-9 1-7 1-6 1-4 1-3 1-2 1 2 1 4 1 5 1 7 1 7 1 7 1 8 1 7 1 8 1 7 1 5 1 3 1 2 1 1 1 1 1 1 1 2 1 2 1 3 1 8 1 17 1 29 1 41 1 36 1 18 1 4 1-9 1-27 1-36 1-28 1-9 1 8 1 16 1 18 1 20 1 22 1 27 1 34 1 36 1 28 1 15 1 7 1 4 1 3 1 2 1 1 1 0 1 0 1-2 1-1 1-2 1-2 1-3 1-3 1-4 1-4 1-4"/>
<path d="M0 -224l1-4 1-3 1-4 1-4 1-4 1-4 1-5 1-4 1-6 1-6 1-6 1-6 1-6 1-6 1-5 1-5 1-5 1-5 1-6 1-6 1-8 1-8 1-8 1-8 1-9 1-10 1-10 1-11 1-11 1-14 1-14 1-14 1-14 1-13 1-15 1-15 1-15 1-12 1-9 1-5 1-3 1-2 1 0 1 2 1 3 1 5 1 6 1 6 1 5 1 6 1 5 1 4 1 4 1 4 1 3 1 4 1 3 1 4 1 5 1 4 1 5 1 7 1 10 1 15 1 26 1 38 1 40 1 22 1 5 1-5 1-24 1-37 1-32 1-14 1 4 1 14 1 21 1 26 1 30 1 33 1 35 1 32 1 28 1 16 1 9 1 6 1 4 1 3 1 1 1 0 1 0 1-2 1-1 1-2 1-3 1-3 1-4 1-5 1-5 1-6"/>
<path d="M0 -134l1-4 1-5 1-5 1-6 1-5 1-5 1-6 1-6 1-6 1-6 1-7 1-7 1-7 1-7 1-7 1-6 1-7 1-6 1-7 1-8 1-10 1-11 1-13 1-12 1-13 1-14 1-12 1-12 1-12 1-11 1-11 1-11 1-10 1-10 1-9 1-10 1-10 1-9 1-8 1-5 1-5 1-5 1-1 1 1 1 4 1 5 1 7 1 7 1 8 1 7 1 8 1 8 1 6 1 4 1 3 1 2 1 1 1 0 1 1 1 1 1 1 1 4 1 8 1 14 1 25 1 32 1 29 1 13 1 2 1-8 1-24 1-31 1-23 1-7 1 5 1 13 1 19 1 22 1 26 1 29 1 34 1 32 1 28 1 16 1 8 1 5 1 4 1 2 1 1 1 1 1 0 1-1 1 0 1-2 1-1 1-2 1-3 1-3 1-4 1-3"/>
<path d="M0 -142l1-5 1-5 1-5 1-5 1-6 1-5 1-6 1-5 1-7 1-6 1-7 1-6 1-7 1-6 1-5 1-5 1-5 1-5 1-5 1-6 1-8 1-9 1-11 1-12 1-12 1-13 1-12 1-11 1-11 1-11 1-10 1-11 1-9 1-10 1-10 1-9 1-10 1-8 1-7 1-5 1-4 1-4 1-1 1 1 1 3 1 5 1 6 1 6 1 6 1 7 1 7 1 7 1 6 1 5 1 3 1 1 1 1 1 1 1 1 1 2 1 1 1 4 1 8 1 17 1 34 1 53 1 52 1 27 1 5 1-9 1-33 1-52 1-43 1-16 1 5 1 15 1 19 1 20 1 24 1 27 1 34 1 36 1 29 1 15 1 8 1 4 1 4 1 2 1 1 1 1 1-1 1 0 1-1 1-1 1-2 1-3 1-3 1-4 1-5 1-4"/>
<path d="M0 -142l1-4 1-5 1-6 1-5 1-5 1-6 1-5 1-6 1-7 1-7 1-7 1-7 1-7 1-7 1-7 1-6 1-6 1-6 1-6 1-8 1-9 1-11 1-11 1-12 1-13 1-12 1-12 1-12 1-11 1-11 1-11 1-10 1-10 1-9 1-10 1-9 1-10 1-9 1-7 1-6 1-5 1-4 1-2 1 1 1 3 1 5 1 7 1 7 1 7 1 7 1 7 1 7 1 6 1 4 1 2 1 0 1 1 1 0 1 0 1 0 1 1 1 3 1 8 1 15 1 32 1 47 1 44 1 20 1 3 1-8 1-32 1-47 1-37 1-13 1 4 1 13 1 20 1 23 1 27 1 30 1 34 1 33 1 27 1 17 1 9 1 5 1 4 1 2 1 2 1 0 1 0 1-1 1-1 1-1 1-2 1-3 1-3 1-4 1-4 1-4"/>
<path d="M0 -154l1-4 1-5 1-5 1-5 1-5 1-5 1-5 1-6 1-6 1-6 1-6 1-5 1-6 1-5 1-4 1-3 1-3 1-3 1-4 1-4 1-7 1-8 1-11 1-11 1-12 1-13 1-12 1-12 1-11 1-11 1-11 1-11 1-10 1-10 1-10 1-11 1-10 1-9 1-8 1-5 1-5 1-4 1-2 1 0 1 3 1 5 1 5 1 6 1 7 1 6 1 7 1 7 1 6 1 4 1 3 1 1 1 0 1 0 1 0 1 0 1 0 1 3 1 6 1 14 1 24 1 31 1 27 1 12 1 1 1-8 1-24 1-31 1-22 1-6 1 5 1 13 1 20 1 22 1 27 1 29 1 34 1 32 1 27 1 16 1 9 1 5 1 3 1 2 1 1 1 1 1-1 1-1 1-1 1-2 1-2 1-2 1-3 1-4 1-4 1-4"/>
<path d="M0 -160l1-4 1-6 1-5 1-6 1-5 1-5 1-6 1-6 1-7 1-8 1-7 1-7 1-7 1-6 1-5 1-5 1-4 1-4 1-4 1-6 1-8 1-9 1-10 1-11 1-11 1-12 1-12 1-11 1-11 1-11 1-10 1-10 1-10 1-10 1-9 1-10 1-10 1-9 1-7 1-6 1-5 1-4 1-3 1 1 1 4 1 5 1 6 1 7 1 7 1 8 1 7 1 7 1 6 1 3 1 2 1 1 1 0 1 0 1 0 1-1 1 0 1 3 1 8 1 18 1 36 1 40 1 26 1 7 1-1 1-14 1-37 1-38 1-21 1-4 1 4 1 12 1 20 1 24 1 29 1 30 1 34 1 31 1 26 1 17 1 9 1 7 1 4 1 2 1 1 1 1 1 0 1 0 1-1 1-1 1-2 1-2 1-2 1-3 1-4 1-4"/>
<path d="M0 -256l1-1 1-3 1-2 1-3 1-3 1-3 1-3 1-4 1-4 1-5 1-5 1-5 1-5 1-6 1-5 1-6 1-5 1-5 1-6 1-6 1-6 1-7 1-7 1-7 1-8 1-9 1-9 1-10 1-12 1-15 1-16 1-17 1-17 1-16 1-18 1-18 1-18 1-14 1-9 1-3 1 1 1 1 1 2 1 2 1 3 1 5 1 5 1 5 1 4 1 4 1 3 1 4 1 3 1 4 1 4 1 4 1 4 1 4 1 4 1 5 1 6 1 7 1 8 1 14 1 27 1 46 1 49 1 30 1 5 1-8 1-30 1-50 1-47 1-20 1 4 1 17 1 22 1 29 1 34 1 36 1 38 1 37 1 29 1 17 1 9 1 7 1 5 1 3 1 2 1 0 1-1 1-1 1-2 1-3 1-4 1-4 1-6 1-7 1-8 1-7"/>
<path d="M0 -140l1-4 1-5 1-5 1-5 1-5 1-5 1-5 1-5 1-5 1-6 1-5 1-6 1-5 1-5 1-4 1-5 1-3 1-4 1-4 1-6 1-7 1-9 1-11 1-12 1-13 1-13 1-13 1-12 1-12 1-11 1-11 1-11 1-10 1-11 1-10 1-11 1-10 1-9 1-7 1-6 1-4 1-3 1-2 1 0 1 3 1 5 1 5 1 6 1 6 1 6 1 8 1 7 1 6 1 5 1 3 1 1 1 1 1 0 1 1 1 0 1 1 1 2 1 6 1 14 1 25 1 39 1 41 1 24 1 4 1-7 1-25 1-40 1-36 1-16 1 4 1 14 1 18 1 22 1 24 1 29 1 33 1 34 1 27 1 16 1 8 1 4 1 4 1 1 1 1 1 0 1 0 1-1 1-1 1-2 1-2 1-3 1-3 1-4 1-4 1-4"/>
<path d="M0 -230l1-3 1-4 1-4 1-4 1-4 1-3 1-5 1-4 1-5 1-5 1-6 1-5 1-6 1-5 1-5 1-4 1-4 1-3 1-5 1-6 1-7 1-7 1-9 1-8 1-9 1-10 1-11 1-10 1-12 1-12 1-13 1-13 1-12 1-11 1-12 1-12 1-12 1-11 1-9 1-6 1-5 1-3 1-2 1 1 1 5 1 5 1 6 1 8 1 7 1 7 1 7 1 6 1 4 1 3 1 3 1 2 1 2 1 3 1 3 1 3 1 4 1 6 1 11 1 15 1 25 1 32 1 31 1 16 1 4 1-3 1-21 1-30 1-23 1-8 1 4 1 12 1 21 1 25 1 29 1 32 1 34 1 31 1 26 1 17 1 9 1 7 1 4 1 2 1 2 1 0 1 1 1-1 1-1 1-1 1-2 1-2 1-2 1-4 1-3 1-4"/>
<path d="M0 -168l1-4 1-6 1-5 1-6 1-5 1-5 1-6 1-7 1-7 1-8 1-8 1-7 1-7 1-7 1-5 1-4 1-4 1-4 1-4 1-6 1-8 1-8 1-10 1-10 1-11 1-11 1-11 1-12 1-11 1-10 1-11 1-10 1-10 1-9 1-10 1-9 1-10 1-10 1-8 1-7 1-6 1-5 1-3 1 1 1 4 1 4 1 7 1 7 1 7 1 8 1 8 1 6 1 6 1 3 1 2 1 2 1 0 1 1 1 1 1 2 1 2 1 4 1 9 1 17 1 35 1 50 1 45 1 21 1 4 1-8 1-34 1-48 1-36 1-12 1 4 1 14 1 20 1 22 1 27 1 29 1 34 1 33 1 28 1 16 1 8 1 6 1 3 1 2 1 1 1 0 1 0 1-1 1-1 1-2 1-2 1-2 1-3 1-4 1-5 1-4"/>
<path d="M0 -170l1-4 1-5 1-5 1-5 1-5 1-4 1-5 1-6 1-6 1-7 1-6 1-6 1-6 1-5 1-4 1-3 1-3 1-3 1-4 1-5 1-8 1-8 1-10 1-12 1-11 1-12 1-12 1-12 1-11 1-10 1-10 1-10 1-10 1-9 1-9 1-9 1-10 1-8 1-7 1-6 1-4 1-4 1-2 1 0 1 3 1 4 1 6 1 6 1 6 1 7 1 7 1 7 1 6 1 4 1 3 1 3 1 2 1 2 1 2 1 3 1 4 1 5 1 10 1 19 1 37 1 55 1 52 1 27 1 5 1-10 1-35 1-52 1-43 1-15 1 5 1 14 1 18 1 19 1 23 1 27 1 33 1 35 1 29 1 15 1 8 1 5 1 3 1 3 1 1 1 1 1 0 1 0 1 0 1-1 1-2 1-3 1-3 1-4 1-5 1-4"/>
<path d="M0 -148l1-4 1-5 1-6 1-5 1-5 1-6 1-5 1-7 1-6 1-8 1-7 1-7 1-8 1-7 1-7 1-6 1-6 1-7 1-6 1-9 1-10 1-11 1-11 1-12 1-13 1-12 1-12 1-12 1-12 1-11 1-11 1-11 1-10 1-9 1-10 1-10 1-9 1-10 1-8 1-7 1-5 1-5 1-3 1 1 1 5 1 5 1 7 1 8 1 9 1 8 1 9 1 7 1 6 1 5 1 2 1 2 1 2 1 1 1 2 1 2 1 3 1 4 1 10 1 14 1 21 1 29 1 34 1 26 1 8 1-3 1-17 1-28 1-30 1-17 1 1 1 13 1 19 1 22 1 25 1 29 1 33 1 33 1 27 1 16 1 8 1 5 1 3 1 2 1 1 1 1 1 0 1-1 1-1 1-1 1-2 1-2 1-3 1-3 1-4 1-4"/>
<path d="M0 -210l1-3 1-3 1-4 1-4 1-4 1-4 1-5 1-5 1-6 1-7 1-6 1-7 1-7 1-6 1-5 1-5 1-5 1-5 1-6 1-6 1-8 1-9 1-9 1-10 1-10 1-10 1-11 1-11 1-12 1-12 1-13 1-13 1-13 1-12 1-12 1-13 1-12 1-12 1-8 1-6 1-4 1-4 1-1 1 2 1 4 1 6 1 7 1 7 1 8 1 7 1 8 1 6 1 5 1 4 1 2 1 3 1 2 1 2 1 2 1 2 1 3 1 5 1 9 1 14 1 24 1 34 1 32 1 16 1 3 1-6 1-25 1-34 1-28 1-11 1 4 1 14 1 20 1 26 1 30 1 33 1 35 1 33 1 27 1 17 1 9 1 6 1 5 1 2 1 1 1 1 1-1 1-1 1-1 1-2 1-3 1-3 1-4 1-4 1-6 1-5"/>
<path d="M0 -159l1-4 1-5 1-5 1-5 1-5 1-5 1-5 1-6 1-7 1-7 1-7 1-6 1-7 1-5 1-4 1-3 1-2 1-3 1-2 1-4 1-5 1-7 1-8 1-10 1-11 1-12 1-11 1-11 1-11 1-10 1-11 1-10 1-11 1-10 1-11 1-11 1-10 1-9 1-8 1-6 1-5 1-3 1-2 1 1 1 3 1 5 1 6 1 7 1 7 1 7 1 8 1 8 1 7 1 6 1 4 1 2 1 1 1 1 1 1 1 1 1 1 1 3 1 7 1 14 1 27 1 47 1 54 1 33 1 8 1-7 1-27 1-47 1-47 1-22 1 3 1 16 1 18 1 21 1 23 1 27 1 34 1 36 1 29 1 15 1 6 1 4 1 3 1 1 1 1 1-1 1 0 1-2 1-1 1-2 1-1 1-3 1-3 1-3 1-4 1-4"/>
<path d="M0 -209l1-4 1-4 1-4 1-5 1-4 1-5 1-5 1-6 1-6 1-7 1-6 1-7 1-6 1-7 1-5 1-5 1-4 1-4 1-5 1-7 1-7 1-8 1-9 1-9 1-10 1-10 1-10 1-11 1-12 1-12 1-12 1-11 1-12 1-10 1-11 1-12 1-11 1-11 1-9 1-7 1-6 1-5 1-2 1 1 1 4 1 5 1 6 1 7 1 7 1 7 1 7 1 5 1 3 1 3 1 2 1 2 1 1 1 1 1 2 1 2 1 3 1 4 1 9 1 14 1 29 1 43 1 42 1 21 1 3 1-8 1-31 1-46 1-38 1-15 1 4 1 15 1 21 1 26 1 31 1 34 1 35 1 34 1 28 1 17 1 9 1 6 1 4 1 3 1 1 1 0 1 0 1-1 1-2 1-2 1-3 1-4 1-4 1-5 1-6 1-6"/>
<path d="M0 -162l1-5 1-5 1-5 1-5 1-5 1-6 1-5 1-7 1-7 1-7 1-8 1-8 1-8 1-7 1-7 1-6 1-6 1-6 1-7 1-9 1-10 1-12 1-11 1-12 1-11 1-12 1-13 1-12 1-11 1-12 1-11 1-11 1-11 1-10 1-10 1-11 1-11 1-11 1-9 1-8 1-7 1-6 1-3 1 2 1 4 1 5 1 7 1 9 1 8 1 9 1 9 1 8 1 5 1 5 1 3 1 3 1 2 1 3 1 3 1 3 1 4 1 7 1 12 1 21 1 37 1 40 1 30 1 13 1 2 1-10 1-31 1-36 1-20 1-5 1 6 1 13 1 19 1 22 1 26 1 29 1 33 1 33 1 27 1 15 1 9 1 5 1 3 1 2 1 1 1 1 1 0 1-1 1-1 1-1 1-2 1-2 1-2 1-3 1-4 1-4"/>
<path d="M0 -157l1-5 1-5 1-5 1-5 1-5 1-4 1-6 1-5 1-7 1-6 1-7 1-6 1-7 1-6 1-6 1-6 1-5 1-5 1-6 1-7 1-10 1-11 1-11 1-12 1-13 1-13 1-12 1-12 1-12 1-11 1-11 1-11 1-10 1-9 1-9 1-10 1-9 1-9 1-8 1-6 1-5 1-5 1-2 1 2 1 4 1 5 1 6 1 8 1 7 1 7 1 8 1 6 1 5 1 3 1 2 1 0 1 0 1 0 1 0 1 0 1 0 1 4 1 8 1 17 1 38 1 51 1 43 1 17 1 2 1-10 1-38 1-50 1-35 1-10 1 3 1 13 1 20 1 24 1 27 1 31 1 33 1 31 1 25 1 16 1 9 1 6 1 3 1 1 1 1 1 1 1-1 1 0 1-2 1-1 1-1 1-2 1-3 1-3 1-3 1-3"/>
<path d="M0 -209l1-3 1-4 1-3 1-4 1-3 1-4 1-4 1-5 1-5 1-7 1-6 1-6 1-7 1-6 1-5 1-5 1-5 1-5 1-5 1-7 1-9 1-9 1-10 1-10 1-10 1-11 1-11 1-11 1-12 1-12 1-13 1-13 1-12 1-12 1-12 1-12 1-13 1-11 1-9 1-6 1-4 1-4 1-2 1 2 1 5 1 5 1 7 1 8 1 8 1 8 1 8 1 7 1 4 1 4 1 3 1 1 1 2 1 1 1 2 1 1 1 3 1 4 1 9 1 18 1 34 1 41 1 30 1 11 1 0 1-14 1-36 1-43 1-26 1-7 1 5 1 14 1 21 1 26 1 32 1 33 1 36 1 34 1 28 1 17 1 9 1 7 1 5 1 2 1 2 1 1 1 0 1-1 1-1 1-2 1-2 1-3 1-4 1-4 1-6 1-5"/>
<path d="M0 -200l1-5 1-5 1-5 1-5 1-4 1-5 1-5 1-5 1-6 1-6 1-6 1-5 1-6 1-4 1-4 1-3 1-3 1-3 1-3 1-5 1-7 1-8 1-9 1-10 1-10 1-11 1-11 1-12 1-11 1-11 1-11 1-11 1-11 1-10 1-10 1-10 1-11 1-10 1-9 1-7 1-7 1-6 1-4 1 1 1 5 1 6 1 7 1 9 1 9 1 9 1 9 1 8 1 6 1 5 1 3 1 3 1 2 1 2 1 2 1 3 1 3 1 6 1 10 1 15 1 23 1 32 1 34 1 20 1 6 1-5 1-19 1-30 1-27 1-11 1 4 1 14 1 19 1 22 1 25 1 29 1 34 1 34 1 29 1 16 1 8 1 6 1 3 1 3 1 1 1 1 1 0 1-1 1-1 1-1 1-2 1-3 1-3 1-4 1-5 1-4"/>
<path d="M0 -133l1-4 1-6 1-5 1-5 1-6 1-5 1-5 1-5 1-6 1-5 1-6 1-5 1-5 1-5 1-5 1-4 1-4 1-4 1-4 1-5 1-7 1-9 1-12 1-12 1-14 1-13 1-13 1-12 1-11 1-11 1-11 1-11 1-10 1-10 1-11 1-10 1-10 1-9 1-8 1-5 1-4 1-3 1-2 1 1 1 2 1 5 1 5 1 6 1 6 1 7 1 7 1 8 1 7 1 5 1 4 1 3 1 1 1 2 1 1 1 1 1 2 1 3 1 7 1 14 1 25 1 41 1 50 1 36 1 10 1-8 1-22 1-42 1-45 1-24 1 1 1 14 1 18 1 19 1 22 1 26 1 34 1 35 1 28 1 15 1 7 1 4 1 3 1 3 1 1 1 0 1 0 1 0 1-1 1-1 1-1 1-3 1-2 1-4 1-5 1-4"/>
<path d="M0 -217l1-4 1-4 1-4 1-5 1-5 1-5 1-5 1-6 1-6 1-7 1-7 1-7 1-8 1-7 1-7 1-6 1-6 1-7 1-6 1-7 1-8 1-7 1-8 1-8 1-8 1-8 1-9 1-11 1-12 1-14 1-15 1-17 1-15 1-16 1-16 1-17 1-16 1-13 1-8 1-3 1 0 1 0 1 2 1 2 1 4 1 5 1 5 1 5 1 5 1 4 1 4 1 3 1 2 1 3 1 3 1 3 1 3 1 3 1 4 1 4 1 5 1 5 1 8 1 12 1 17 1 26 1 27 1 16 1 3 1-8 1-20 1-30 1-26 1-10 1 7 1 17 1 23 1 28 1 35 1 36 1 38 1 38 1 30 1 17 1 10 1 6 1 6 1 3 1 2 1 0 1 0 1-1 1-2 1-3 1-3 1-4 1-6 1-7 1-8 1-7"/>
<path d="M0 -144l1-4 1-6 1-5 1-5 1-6 1-5 1-6 1-6 1-7 1-6 1-7 1-7 1-7 1-7 1-7 1-6 1-6 1-6 1-7 1-8 1-9 1-11 1-12 1-12 1-12 1-13 1-12 1-12 1-11 1-11 1-11 1-11 1-10 1-10 1-10 1-10 1-10 1-10 1-9 1-7 1-6 1-6 1-3 1 1 1 3 1 5 1 6 1 7 1 8 1 8 1 8 1 7 1 5 1 4 1 3 1 1 1 2 1 1 1 2 1 2 1 2 1 5 1 10 1 16 1 30 1 44 1 46 1 26 1 6 1-5 1-27 1-44 1-38 1-15 1 3 1 14 1 19 1 22 1 26 1 29 1 33 1 34 1 27 1 15 1 8 1 5 1 3 1 2 1 1 1 0 1 0 1-1 1-2 1-1 1-2 1-3 1-3 1-4 1-4 1-4"/>
<path d="M0 -219l1-3 1-4 1-5 1-4 1-4 1-4 1-5 1-5 1-5 1-6 1-7 1-7 1-6 1-7 1-6 1-6 1-6 1-6 1-6 1-7 1-8 1-8 1-9 1-8 1-9 1-9 1-10 1-11 1-12 1-14 1-16 1-16 1-15 1-16 1-16 1-18 1-16 1-14 1-9 1-3 1-1 1 0 1 2 1 2 1 5 1 5 1 5 1 6 1 6 1 5 1 4 1 5 1 4 1 3 1 4 1 4 1 3 1 4 1 4 1 4 1 4 1 6 1 8 1 15 1 26 1 35 1 29 1 12 1 0 1-11 1-30 1-38 1-28 1-8 1 7 1 16 1 22 1 28 1 34 1 36 1 38 1 37 1 30 1 17 1 9 1 7 1 5 1 4 1 2 1 0 1 0 1-1 1-1 1-2 1-4 1-4 1-5 1-6 1-7 1-7"/>
<path d="M0 -139l1-4 1-5 1-5 1-5 1-6 1-5 1-5 1-6 1-7 1-6 1-7 1-7 1-8 1-8 1-7 1-7 1-7 1-7 1-8 1-9 1-11 1-12 1-13 1-12 1-13 1-13 1-13 1-12 1-12 1-12 1-11 1-11 1-10 1-10 1-10 1-10 1-10 1-9 1-9 1-7 1-6 1-5 1-3 1 1 1 5 1 6 1 7 1 8 1 8 1 9 1 8 1 8 1 6 1 4 1 3 1 2 1 2 1 1 1 2 1 2 1 3 1 5 1 10 1 18 1 33 1 41 1 33 1 14 1 2 1-10 1-31 1-38 1-25 1-6 1 5 1 14 1 19 1 21 1 26 1 29 1 33 1 33 1 27 1 16 1 8 1 5 1 3 1 2 1 1 1 0 1 0 1-1 1-1 1-1 1-1 1-3 1-2 1-4 1-4 1-3"/>
<path d="M0 -257l1-2 1-3 1-3 1-3 1-4 1-3 1-3 1-4 1-4 1-5 1-4 1-5 1-5 1-6 1-5 1-4 1-5 1-5 1-5 1-5 1-7 1-6 1-7 1-7 1-8 1-9 1-9 1-10 1-12 1-15 1-16 1-16 1-17 1-16 1-17 1-19 1-17 1-15 1-9 1-2 1 0 1 1 1 2 1 2 1 4 1 5 1 5 1 5 1 4 1 4 1 4 1 3 1 4 1 4 1 4 1 5 1 5 1 5 1 5 1 6 1 7 1 7 1 10 1 16 1 29 1 48 1 51 1 28 1 5 1-7 1-31 1-50 1-46 1-19 1 4 1 15 1 21 1 27 1 32 1 35 1 36 1 35 1 29 1 17 1 9 1 6 1 5 1 3 1 1 1 1 1-1 1-1 1-1 1-2 1-3 1-4 1-4 1-5 1-7 1-5"/>
<path d="M0 -264l1-3 1-2 1-3 1-3 1-3 1-4 1-3 1-4 1-3 1-4 1-5 1-4 1-4 1-5 1-4 1-4 1-3 1-4 1-4 1-5 1-5 1-6 1-7 1-7 1-8 1-9 1-9 1-10 1-12 1-13 1-15 1-15 1-14 1-14 1-15 1-15 1-15 1-12 1-8 1-4 1-3 1-1 1 0 1 3 1 3 1 5 1 6 1 5 1 6 1 5 1 4 1 4 1 3 1 2 1 3 1 2 1 3 1 3 1 3 1 4 1 4 1 6 1 8 1 10 1 13 1 11 1 10 1 6 1 0 1-6 1-12 1-13 1-9 1-1 1 9 1 16 1 23 1 28 1 33 1 36 1 37 1 36 1 29 1 17 1 10 1 6 1 5 1 3 1 2 1 0 1 0 1-2 1-1 1-3 1-3 1-4 1-6 1-6 1-7 1-7"/>
<path d="M0 -155l1-5 1-5 1-6 1-6 1-5 1-6 1-6 1-7 1-7 1-8 1-8 1-9 1-8 1-9 1-8 1-7 1-7 1-7 1-8 1-9 1-11 1-11 1-11 1-11 1-11 1-11 1-12 1-11 1-12 1-11 1-12 1-11 1-10 1-11 1-10 1-10 1-11 1-11 1-9 1-8 1-7 1-6 1-3 1 1 1 4 1 5 1 7 1 7 1 8 1 8 1 7 1 6 1 5 1 3 1 2 1 2 1 2 1 1 1 2 1 3 1 3 1 5 1 10 1 13 1 16 1 14 1 11 1 4 1 2 1-2 1-12 1-10 1-6 1 0 1 6 1 12 1 21 1 25 1 29 1 31 1 34 1 31 1 26 1 16 1 9 1 6 1 4 1 2 1 1 1 0 1 0 1-1 1-1 1-2 1-2 1-3 1-3 1-4 1-5 1-4"/>
<path d="M0 -145l1-4 1-5 1-5 1-5 1-5 1-5 1-6 1-6 1-6 1-7 1-7 1-7 1-8 1-7 1-8 1-7 1-7 1-7 1-8 1-9 1-11 1-12 1-12 1-13 1-13 1-13 1-12 1-13 1-12 1-12 1-11 1-11 1-11 1-10 1-9 1-10 1-11 1-10 1-9 1-7 1-7 1-6 1-4 1 1 1 5 1 5 1 7 1 9 1 8 1 9 1 9 1 8 1 5 1 4 1 2 1 2 1 1 1 1 1 1 1 1 1 2 1 5 1 8 1 13 1 16 1 14 1 10 1 5 1 1 1-3 1-13 1-11 1-6 1-1 1 6 1 12 1 20 1 23 1 28 1 31 1 33 1 31 1 26 1 16 1 9 1 6 1 3 1 2 1 1 1 0 1 0 1-1 1-1 1-2 1-1 1-3 1-3 1-3 1-4 1-3"/>
<path d="M0 -154l1-4 1-5 1-5 1-5 1-5 1-5 1-6 1-6 1-7 1-7 1-8 1-8 1-7 1-8 1-7 1-6 1-7 1-6 1-7 1-9 1-10 1-12 1-11 1-12 1-13 1-12 1-12 1-12 1-12 1-12 1-11 1-10 1-10 1-10 1-9 1-10 1-10 1-10 1-8 1-7 1-7 1-5 1-3 1 1 1 5 1 6 1 7 1 8 1 9 1 8 1 9 1 8 1 5 1 3 1 2 1 1 1 0 1 0 1-1 1 0 1 0 1 3 1 7 1 10 1 14 1 11 1 8 1 2 1 0 1-5 1-14 1-13 1-8 1-2 1 6 1 13 1 20 1 26 1 30 1 33 1 35 1 34 1 27 1 17 1 9 1 7 1 4 1 3 1 1 1 1 1 0 1-1 1-1 1-2 1-2 1-2 1-4 1-4 1-5 1-4"/>
<path d="M0 -198l1-3 1-4 1-4 1-4 1-4 1-4 1-5 1-5 1-6 1-7 1-7 1-7 1-7 1-7 1-6 1-6 1-5 1-5 1-6 1-7 1-9 1-10 1-10 1-10 1-10 1-11 1-11 1-11 1-12 1-12 1-13 1-13 1-12 1-12 1-12 1-13 1-13 1-11 1-9 1-7 1-4 1-4 1-2 1 2 1 4 1 5 1 7 1 7 1 8 1 7 1 8 1 7 1 5 1 4 1 4 1 3 1 3 1 4 1 3 1 4 1 5 1 7 1 12 1 15 1 19 1 16 1 13 1 7 1 3 1-1 1-11 1-11 1-6 1 0 1 6 1 13 1 20 1 23 1 27 1 29 1 34 1 32 1 26 1 16 1 8 1 6 1 3 1 2 1 1 1 0 1 0 1-1 1-1 1-2 1-2 1-2 1-3 1-3 1-4 1-4"/>
<path d="M0 -217l1-3 1-4 1-4 1-5 1-4 1-5 1-4 1-5 1-6 1-6 1-6 1-6 1-6 1-5 1-5 1-4 1-4 1-4 1-5 1-5 1-8 1-8 1-8 1-10 1-9 1-11 1-10 1-11 1-12 1-11 1-12 1-12 1-10 1-11 1-10 1-11 1-11 1-10 1-9 1-7 1-6 1-5 1-3 1 1 1 4 1 5 1 7 1 7 1 8 1 7 1 8 1 5 1 4 1 2 1 1 1 1 1 1 1 0 1 1 1 1 1 2 1 3 1 8 1 10 1 13 1 11 1 8 1 4 1 0 1-6 1-12 1-13 1-8 1-1 1 7 1 15 1 22 1 27 1 32 1 35 1 36 1 35 1 28 1 17 1 9 1 7 1 4 1 3 1 1 1 0 1 0 1-1 1-2 1-2 1-3 1-4 1-5 1-6 1-7 1-6"/>
<path d="M0 -261l1-2 1-3 1-3 1-3 1-3 1-3 1-3 1-3 1-4 1-4 1-5 1-4 1-5 1-5 1-4 1-5 1-4 1-4 1-4 1-6 1-5 1-7 1-7 1-7 1-8 1-9 1-9 1-10 1-12 1-14 1-15 1-15 1-16 1-14 1-16 1-16 1-16 1-13 1-9 1-4 1-1 1 0 1 0 1 3 1 3 1 5 1 5 1 6 1 4 1 5 1 3 1 4 1 3 1 3 1 3 1 3 1 4 1 4 1 4 1 4 1 5 1 7 1 9 1 11 1 14 1 12 1 11 1 6 1 1 1-5 1-12 1-12 1-8 1-1 1 8 1 16 1 23 1 27 1 33 1 35 1 37 1 36 1 29 1 17 1 9 1 7 1 4 1 3 1 2 1 0 1 0 1-2 1-1 1-3 1-3 1-4 1-5 1-6 1-7 1-6"/>
<path d="M0 -207l1-4 1-5 1-4 1-5 1-5 1-5 1-5 1-6 1-6 1-7 1-7 1-7 1-6 1-7 1-5 1-5 1-5 1-5 1-5 1-7 1-7 1-9 1-8 1-9 1-10 1-9 1-11 1-11 1-11 1-13 1-12 1-13 1-12 1-12 1-12 1-12 1-13 1-11 1-9 1-6 1-5 1-4 1-1 1 1 1 4 1 5 1 6 1 6 1 7 1 6 1 6 1 5 1 3 1 2 1 2 1 1 1 1 1 1 1 2 1 1 1 3 1 3 1 7 1 10 1 11 1 10 1 8 1 4 1 0 1-7 1-13 1-14 1-9 1-2 1 8 1 17 1 22 1 28 1 33 1 36 1 37 1 37 1 29 1 17 1 9 1 7 1 4 1 3 1 2 1 0 1-1 1-1 1-2 1-3 1-4 1-5 1-5 1-7 1-8 1-7"/>
<path d="M0 -216l1-3 1-3 1-4 1-3 1-4 1-3 1-4 1-5 1-6 1-5 1-7 1-6 1-6 1-7 1-5 1-5 1-5 1-6 1-6 1-7 1-8 1-9 1-9 1-9 1-10 1-11 1-10 1-11 1-12 1-13 1-14 1-14 1-13 1-14 1-13 1-15 1-14 1-12 1-8 1-5 1-3 1-2 1-1 1 3 1 4 1 6 1 6 1 8 1 7 1 7 1 7 1 5 1 4 1 4 1 3 1 2 1 1 1 2 1 2 1 2 1 2 1 5 1 7 1 10 1 12 1 11 1 8 1 4 1 0 1-7 1-13 1-14 1-10 1-2 1 8 1 15 1 22 1 28 1 33 1 35 1 38 1 36 1 29 1 17 1 10 1 6 1 5 1 4 1 1 1 1 1 0 1-1 1-2 1-2 1-3 1-3 1-5 1-6 1-7 1-6"/>
<path d="M0 -159l1-5 1-5 1-5 1-5 1-5 1-6 1-5 1-7 1-7 1-7 1-8 1-8 1-8 1-7 1-8 1-6 1-7 1-6 1-8 1-8 1-11 1-12 1-11 1-12 1-12 1-12 1-12 1-12 1-12 1-11 1-11 1-11 1-11 1-10 1-11 1-11 1-11 1-11 1-9 1-8 1-7 1-5 1-3 1 1 1 4 1 5 1 7 1 8 1 9 1 8 1 9 1 7 1 5 1 4 1 3 1 2 1 2 1 2 1 3 1 2 1 3 1 6 1 11 1 14 1 18 1 15 1 11 1 6 1 2 1-2 1-12 1-11 1-6 1 0 1 5 1 13 1 20 1 23 1 27 1 30 1 34 1 31 1 26 1 16 1 9 1 5 1 4 1 2 1 1 1 0 1 0 1-1 1-1 1-2 1-1 1-2 1-3 1-3 1-4 1-3"/>
<path d="M0 -171l1-4 1-4 1-5 1-5 1-4 1-5 1-5 1-7 1-7 1-8 1-8 1-7 1-8 1-7 1-6 1-5 1-5 1-4 1-6 1-7 1-8 1-9 1-10 1-10 1-11 1-11 1-11 1-11 1-10 1-11 1-10 1-10 1-9 1-10 1-9 1-11 1-10 1-10 1-9 1-7 1-7 1-6 1-4 1 0 1 3 1 5 1 7 1 8 1 8 1 8 1 9 1 8 1 6 1 4 1 3 1 2 1 2 1 1 1 2 1 1 1 2 1 4 1 8 1 12 1 16 1 13 1 10 1 4 1 1 1-4 1-13 1-12 1-7 1 0 1 5 1 13 1 20 1 24 1 28 1 31 1 34 1 33 1 27 1 17 1 9 1 6 1 4 1 2 1 1 1 0 1-1 1-1 1-1 1-2 1-2 1-3 1-4 1-3 1-5 1-3"/>
<path d="M0 -257l1-1 1-3 1-2 1-3 1-2 1-3 1-2 1-3 1-3 1-4 1-4 1-4 1-3 1-4 1-3 1-3 1-3 1-2 1-4 1-4 1-7 1-7 1-8 1-9 1-10 1-10 1-10 1-11 1-12 1-12 1-13 1-12 1-12 1-11 1-12 1-13 1-12 1-12 1-9 1-7 1-5 1-4 1-2 1 1 1 4 1 5 1 7 1 7 1 7 1 7 1 6 1 6 1 4 1 3 1 2 1 2 1 1 1 2 1 1 1 2 1 2 1 4 1 8 1 10 1 12 1 11 1 8 1 4 1 0 1-7 1-13 1-13 1-9 1-2 1 7 1 15 1 22 1 27 1 32 1 35 1 37 1 35 1 29 1 16 1 9 1 7 1 4 1 3 1 2 1 0 1-1 1-1 1-2 1-3 1-3 1-4 1-5 1-6 1-8 1-6"/>
<path d="M0 -253l1-1 1-2 1-2 1-2 1-2 1-2 1-3 1-3 1-3 1-4 1-4 1-5 1-4 1-4 1-3 1-4 1-2 1-3 1-4 1-5 1-7 1-8 1-8 1-10 1-9 1-11 1-10 1-11 1-12 1-12 1-13 1-12 1-12 1-11 1-12 1-12 1-12 1-10 1-9 1-6 1-5 1-4 1-1 1 1 1 5 1 6 1 7 1 8 1 8 1 8 1 9 1 6 1 5 1 3 1 2 1 1 1 1 1 1 1 1 1 1 1 2 1 3 1 8 1 10 1 14 1 11 1 8 1 3 1 0 1-6 1-13 1-13 1-9 1-2 1 7 1 15 1 21 1 27 1 31 1 34 1 37 1 34 1 29 1 17 1 9 1 7 1 5 1 2 1 2 1 1 1 0 1-1 1-1 1-2 1-2 1-4 1-4 1-5 1-5 1-6"/>
<path d="M0 -154l1-5 1-5 1-6 1-5 1-6 1-5 1-6 1-6 1-8 1-7 1-8 1-8 1-8 1-7 1-7 1-6 1-6 1-6 1-7 1-8 1-10 1-11 1-11 1-11 1-12 1-12 1-12 1-11 1-12 1-11 1-10 1-11 1-9 1-10 1-9 1-10 1-9 1-10 1-8 1-7 1-6 1-6 1-3 1 2 1 4 1 5 1 7 1 8 1 9 1 8 1 9 1 7 1 5 1 4 1 3 1 1 1 2 1 1 1 2 1 2 1 3 1 5 1 10 1 14 1 18 1 16 1 13 1 7 1 2 1-3 1-12 1-12 1-7 1-1 1 7 1 14 1 19 1 22 1 26 1 29 1 34 1 33 1 27 1 16 1 8 1 6 1 3 1 3 1 1 1 1 1 0 1-1 1-1 1-1 1-1 1-2 1-3 1-3 1-4 1-4"/>
<path d="M0 -225l1-3 1-4 1-4 1-4 1-4 1-5 1-4 1-6 1-6 1-6 1-7 1-6 1-7 1-6 1-6 1-6 1-5 1-5 1-6 1-6 1-7 1-8 1-7 1-8 1-9 1-9 1-9 1-11 1-11 1-14 1-14 1-15 1-14 1-14 1-14 1-15 1-15 1-12 1-8 1-4 1-3 1-1 1 0 1 2 1 4 1 5 1 5 1 6 1 5 1 5 1 4 1 4 1 2 1 3 1 2 1 2 1 3 1 2 1 3 1 3 1 4 1 5 1 8 1 10 1 11 1 11 1 9 1 6 1 0 1-7 1-13 1-13 1-9 1-2 1 9 1 17 1 22 1 29 1 34 1 36 1 37 1 37 1 30 1 16 1 10 1 6 1 5 1 3 1 1 1 0 1 0 1-2 1-2 1-2 1-4 1-5 1-5 1-7 1-8 1-7"/>
<path d="M0 -232l1-2 1-3 1-3 1-4 1-3 1-4 1-4 1-5 1-5 1-5 1-6 1-5 1-6 1-5 1-4 1-4 1-3 1-4 1-4 1-5 1-7 1-7 1-9 1-8 1-10 1-10 1-10 1-11 1-12 1-11 1-12 1-11 1-11 1-10 1-11 1-10 1-11 1-11 1-9 1-7 1-6 1-6 1-3 1 1 1 4 1 5 1 6 1 8 1 7 1 7 1 8 1 5 1 4 1 4 1 2 1 2 1 1 1 2 1 3 1 2 1 3 1 6 1 9 1 13 1 16 1 14 1 11 1 4 1 2 1-3 1-12 1-11 1-6 1-1 1 6 1 13 1 20 1 25 1 29 1 31 1 34 1 32 1 27 1 16 1 9 1 6 1 4 1 2 1 2 1 0 1 0 1-1 1-1 1-2 1-2 1-2 1-3 1-4 1-4 1-4"/>
<path d="M0 -274l1-1 1-2 1-2 1-3 1-2 1-3 1-2 1-3 1-2 1-4 1-3 1-4 1-4 1-5 1-4 1-3 1-4 1-4 1-4 1-5 1-5 1-7 1-7 1-7 1-8 1-9 1-9 1-10 1-12 1-14 1-15 1-16 1-16 1-15 1-16 1-17 1-16 1-13 1-9 1-4 1-1 1 0 1 1 1 3 1 3 1 5 1 5 1 6 1 5 1 4 1 4 1 4 1 4 1 4 1 4 1 4 1 5 1 5 1 6 1 6 1 7 1 8 1 12 1 14 1 18 1 15 1 13 1 8 1 3 1-1 1-11 1-10 1-5 1 1 1 6 1 14 1 21 1 26 1 30 1 32 1 34 1 32 1 27 1 16 1 10 1 6 1 4 1 2 1 1 1 1 1 0 1-1 1-2 1-1 1-2 1-3 1-3 1-4 1-5 1-4"/>
<path d="M0 -200l1-5 1-4 1-5 1-5 1-5 1-5 1-5 1-6 1-7 1-7 1-7 1-7 1-7 1-7 1-6 1-5 1-6 1-5 1-6 1-7 1-8 1-8 1-9 1-9 1-10 1-10 1-10 1-11 1-12 1-12 1-13 1-13 1-13 1-12 1-12 1-13 1-13 1-12 1-9 1-6 1-4 1-4 1-1 1 1 1 4 1 5 1 6 1 6 1 7 1 6 1 5 1 5 1 3 1 2 1 2 1 1 1 2 1 1 1 1 1 2 1 3 1 3 1 7 1 9 1 11 1 10 1 8 1 4 1 0 1-8 1-13 1-14 1-10 1-1 1 8 1 17 1 22 1 29 1 34 1 36 1 38 1 37 1 29 1 17 1 10 1 6 1 5 1 3 1 2 1 0 1-1 1-1 1-2 1-3 1-4 1-4 1-6 1-7 1-8 1-7"/>
<path d="M0 -154l1-5 1-4 1-5 1-5 1-5 1-5 1-5 1-6 1-6 1-7 1-6 1-7 1-6 1-6 1-6 1-5 1-4 1-5 1-5 1-7 1-8 1-11 1-11 1-11 1-13 1-13 1-12 1-12 1-12 1-11 1-12 1-10 1-11 1-10 1-10 1-10 1-11 1-9 1-8 1-7 1-6 1-5 1-2 1 1 1 3 1 6 1 6 1 8 1 8 1 8 1 8 1 8 1 6 1 5 1 3 1 2 1 2 1 1 1 2 1 2 1 3 1 4 1 9 1 13 1 17 1 16 1 14 1 8 1 2 1-5 1-12 1-12 1-9 1-1 1 7 1 14 1 18 1 21 1 25 1 28 1 33 1 34 1 27 1 15 1 8 1 5 1 3 1 2 1 1 1 0 1 0 1-1 1-1 1-2 1-1 1-3 1-2 1-4 1-4 1-4"/>
<path d="M0 -233l1-2 1-2 1-3 1-2 1-3 1-3 1-4 1-3 1-5 1-5 1-5 1-5 1-5 1-5 1-4 1-3 1-3 1-4 1-4 1-6 1-7 1-9 1-9 1-10 1-10 1-11 1-11 1-11 1-12 1-12 1-12 1-11 1-12 1-10 1-11 1-12 1-11 1-11 1-9 1-7 1-5 1-5 1-3 1 2 1 4 1 6 1 7 1 8 1 9 1 8 1 9 1 7 1 5 1 4 1 2 1 2 1 1 1 2 1 1 1 2 1 2 1 5 1 9 1 12 1 15 1 13 1 9 1 4 1 1 1-4 1-13 1-12 1-6 1-2 1 6 1 13 1 20 1 25 1 30 1 32 1 34 1 33 1 27 1 16 1 9 1 7 1 4 1 2 1 1 1 1 1 0 1-1 1-2 1-1 1-2 1-3 1-3 1-4 1-5 1-4"/>
<path d="M0 -146l1-4 1-5 1-4 1-5 1-5 1-5 1-5 1-5 1-6 1-7 1-6 1-6 1-7 1-7 1-6 1-7 1-6 1-6 1-7 1-8 1-10 1-12 1-12 1-13 1-13 1-12 1-13 1-12 1-12 1-11 1-11 1-10 1-10 1-9 1-9 1-10 1-9 1-9 1-8 1-5 1-5 1-5 1-2 1 1 1 4 1 5 1 6 1 6 1 7 1 7 1 8 1 6 1 5 1 4 1 2 1 0 1 0 1 1 1 0 1 1 1 1 1 3 1 9 1 12 1 16 1 14 1 11 1 6 1 2 1-4 1-12 1-11 1-7 1-1 1 6 1 13 1 20 1 22 1 27 1 29 1 33 1 32 1 26 1 16 1 8 1 5 1 4 1 1 1 1 1 1 1-1 1 0 1-1 1-1 1-2 1-1 1-3 1-3 1-3 1-4"/>
<path d="M0 -164l1-5 1-5 1-5 1-5 1-5 1-6 1-5 1-6 1-7 1-7 1-7 1-7 1-6 1-5 1-5 1-3 1-2 1-3 1-3 1-5 1-6 1-9 1-9 1-11 1-11 1-12 1-12 1-11 1-11 1-11 1-10 1-11 1-9 1-10 1-10 1-10 1-9 1-9 1-7 1-5 1-5 1-3 1-2 1 2 1 3 1 5 1 7 1 7 1 7 1 7 1 8 1 7 1 6 1 5 1 4 1 2 1 1 1 1 1 1 1 2 1 2 1 3 1 8 1 13 1 16 1 17 1 13 1 9 1 2 1-6 1-12 1-14 1-9 1-1 1 7 1 14 1 18 1 21 1 24 1 27 1 34 1 34 1 28 1 16 1 7 1 5 1 3 1 2 1 2 1 0 1 0 1-1 1 0 1-1 1-2 1-2 1-3 1-3 1-4 1-4"/>
<path d="M0 -240l1-2 1-2 1-3 1-3 1-3 1-3 1-3 1-4 1-5 1-5 1-6 1-5 1-6 1-5 1-5 1-5 1-4 1-5 1-5 1-6 1-7 1-8 1-8 1-9 1-9 1-10 1-10 1-10 1-12 1-14 1-14 1-15 1-14 1-14 1-15 1-15 1-15 1-12 1-9 1-4 1-3 1-1 1 0 1 2 1 5 1 5 1 6 1 6 1 7 1 5 1 6 1 5 1 4 1 3 1 3 1 3 1 3 1 3 1 3 1 3 1 3 1 5 1 8 1 11 1 12 1 12 1 9 1 4 1 0 1-6 1-13 1-13 1-10 1-2 1 8 1 16 1 21 1 27 1 33 1 35 1 37 1 36 1 29 1 17 1 9 1 6 1 5 1 3 1 2 1 0 1-1 1-1 1-2 1-3 1-3 1-4 1-5 1-7 1-7 1-7"/>
<path d="M0 -221l1-2 1-2 1-3 1-3 1-4 1-3 1-4 1-4 1-6 1-6 1-5 1-6 1-6 1-6 1-5 1-4 1-4 1-4 1-5 1-6 1-8 1-9 1-9 1-9 1-10 1-11 1-11 1-11 1-12 1-11 1-12 1-11 1-10 1-10 1-10 1-10 1-10 1-9 1-9 1-7 1-6 1-6 1-3 1 1 1 4 1 6 1 7 1 8 1 8 1 7 1 8 1 6 1 4 1 2 1 1 1 1 1 0 1 0 1 1 1 1 1 2 1 4 1 8 1 11 1 14 1 11 1 10 1 4 1 1 1-5 1-12 1-12 1-7 1-1 1 7 1 14 1 21 1 26 1 31 1 33 1 35 1 33 1 28 1 16 1 9 1 6 1 4 1 3 1 1 1 0 1-1 1-1 1-2 1-2 1-2 1-4 1-4 1-5 1-5 1-5"/>
<path d="M0 -170l1-4 1-6 1-6 1-6 1-6 1-6 1-6 1-7 1-7 1-7 1-8 1-7 1-6 1-6 1-5 1-3 1-3 1-3 1-3 1-5 1-7 1-8 1-9 1-10 1-11 1-12 1-11 1-12 1-11 1-12 1-11 1-11 1-11 1-10 1-10 1-11 1-10 1-10 1-9 1-7 1-6 1-5 1-3 1 2 1 4 1 6 1 7 1 8 1 9 1 8 1 9 1 8 1 5 1 5 1 2 1 1 1 1 1 0 1 0 1 1 1 0 1 3 1 7 1 11 1 15 1 13 1 9 1 4 1 1 1-4 1-13 1-11 1-6 1-1 1 6 1 13 1 21 1 24 1 28 1 31 1 34 1 32 1 27 1 17 1 8 1 6 1 4 1 2 1 0 1 1 1-1 1-1 1-2 1-2 1-2 1-2 1-4 1-3 1-4 1-4"/>
<path d="M0 -157l1-4 1-5 1-6 1-5 1-5 1-5 1-6 1-7 1-7 1-8 1-8 1-8 1-8 1-8 1-8 1-6 1-7 1-7 1-7 1-9 1-11 1-12 1-11 1-12 1-12 1-12 1-11 1-12 1-12 1-11 1-11 1-11 1-10 1-10 1-9 1-10 1-10 1-9 1-9 1-7 1-7 1-6 1-3 1 2 1 4 1 6 1 8 1 8 1 9 1 9 1 9 1 7 1 4 1 3 1 2 1 0 1-1 1 0 1-1 1 0 1 0 1 2 1 6 1 10 1 12 1 10 1 7 1 2 1-1 1-7 1-14 1-14 1-9 1-2 1 6 1 15 1 21 1 27 1 32 1 34 1 37 1 35 1 29 1 17 1 9 1 7 1 5 1 3 1 1 1 1 1 0 1-1 1-2 1-1 1-3 1-3 1-5 1-5 1-6 1-5"/>
<path d="M0 -273l1-2 1-2 1-2 1-3 1-2 1-3 1-3 1-3 1-3 1-4 1-3 1-4 1-4 1-5 1-4 1-4 1-5 1-4 1-5 1-6 1-6 1-6 1-7 1-7 1-8 1-8 1-9 1-11 1-12 1-14 1-17 1-17 1-17 1-16 1-18 1-18 1-18 1-13 1-8 1-1 1 1 1 2 1 2 1 3 1 4 1 5 1 5 1 5 1 4 1 3 1 3 1 2 1 3 1 3 1 3 1 4 1 4 1 4 1 4 1 5 1 6 1 6 1 9 1 11 1 13 1 12 1 10 1 7 1 2 1-6 1-12 1-13 1-10 1-2 1 9 1 16 1 22 1 27 1 34 1 35 1 38 1 38 1 29 1 17 1 10 1 6 1 5 1 4 1 1 1 1 1-1 1-1 1-2 1-2 1-3 1-4 1-5 1-6 1-8 1-7"/>
<path d="M0 -268l1-2 1-2 1-2 1-2 1-2 1-2 1-2 1-3 1-2 1-3 1-4 1-3 1-3 1-3 1-3 1-3 1-2 1-2 1-3 1-4 1-6 1-7 1-8 1-8 1-9 1-10 1-11 1-11 1-11 1-12 1-13 1-12 1-12 1-11 1-12 1-12 1-12 1-12 1-9 1-6 1-6 1-4 1-2 1 1 1 4 1 5 1 7 1 7 1 7 1 6 1 7 1 6 1 4 1 3 1 2 1 2 1 2 1 2 1 3 1 2 1 4 1 5 1 9 1 12 1 15 1 13 1 10 1 5 1 2 1-4 1-12 1-11 1-7 1 0 1 7 1 14 1 21 1 26 1 30 1 33 1 35 1 33 1 27 1 17 1 10 1 6 1 4 1 2 1 2 1 0 1 0 1-1 1-2 1-1 1-3 1-3 1-4 1-4 1-6 1-5"/>
<path d="M0 -232l1-2 1-3 1-3 1-3 1-3 1-4 1-4 1-5 1-6 1-6 1-6 1-7 1-7 1-7 1-7 1-7 1-6 1-7 1-7 1-7 1-8 1-7 1-8 1-8 1-8 1-8 1-9 1-10 1-13 1-14 1-17 1-17 1-17 1-16 1-18 1-19 1-17 1-14 1-9 1-2 1 1 1 2 1 3 1 3 1 4 1 6 1 5 1 5 1 5 1 4 1 4 1 3 1 4 1 3 1 4 1 3 1 4 1 4 1 4 1 5 1 5 1 6 1 8 1 10 1 12 1 11 1 10 1 6 1 1 1-7 1-13 1-13 1-10 1-2 1 9 1 17 1 22 1 29 1 34 1 37 1 38 1 38 1 29 1 17 1 10 1 6 1 6 1 3 1 2 1 0 1 0 1-1 1-1 1-3 1-3 1-4 1-6 1-6 1-8 1-7"/>
<path d="M0 -153l1-5 1-5 1-6 1-5 1-6 1-5 1-6 1-6 1-7 1-7 1-7 1-7 1-7 1-6 1-5 1-4 1-5 1-4 1-4 1-6 1-8 1-9 1-10 1-11 1-12 1-12 1-12 1-11 1-12 1-11 1-11 1-10 1-11 1-10 1-10 1-11 1-10 1-10 1-8 1-7 1-6 1-5 1-3 1 0 1 4 1 5 1 6 1 7 1 8 1 7 1 9 1 7 1 6 1 4 1 3 1 2 1 1 1 0 1 1 1 1 1 1 1 3 1 7 1 12 1 15 1 14 1 10 1 4 1 1 1-5 1-13 1-13 1-7 1-1 1 5 1 12 1 19 1 23 1 27 1 30 1 33 1 31 1 27 1 16 1 9 1 6 1 4 1 2 1 1 1 1 1 0 1 0 1-1 1 0 1-2 1-2 1-2 1-3 1-4 1-3"/>
<path d="M0 -265l1-1 1-1 1-2 1-3 1-2 1-3 1-2 1-4 1-3 1-4 1-5 1-5 1-5 1-5 1-5 1-4 1-5 1-5 1-5 1-5 1-7 1-6 1-7 1-8 1-8 1-8 1-9 1-11 1-12 1-14 1-16 1-17 1-17 1-16 1-17 1-18 1-17 1-14 1-9 1-3 1 0 1 1 1 2 1 3 1 4 1 4 1 5 1 5 1 5 1 4 1 3 1 3 1 3 1 4 1 3 1 4 1 4 1 5 1 4 1 5 1 6 1 6 1 8 1 11 1 13 1 11 1 10 1 6 1 1 1-6 1-13 1-13 1-9 1-2 1 9 1 17 1 22 1 28 1 34 1 36 1 38 1 37 1 29 1 17 1 9 1 6 1 5 1 4 1 1 1 0 1-1 1-1 1-2 1-3 1-3 1-5 1-5 1-7 1-8 1-7"/>
<path d="M0 -163l1-5 1-6 1-5 1-6 1-5 1-6 1-5 1-6 1-7 1-8 1-6 1-6 1-6 1-5 1-4 1-3 1-3 1-3 1-3 1-5 1-7 1-9 1-10 1-11 1-12 1-12 1-13 1-12 1-12 1-12 1-11 1-11 1-10 1-10 1-10 1-10 1-10 1-9 1-7 1-6 1-5 1-3 1-2 1 2 1 4 1 6 1 7 1 7 1 7 1 8 1 7 1 8 1 5 1 5 1 2 1 2 1 1 1 1 1 2 1 2 1 3 1 5 1 10 1 14 1 18 1 19 1 16 1 11 1 4 1-4 1-11 1-12 1-8 1-1 1 8 1 15 1 18 1 20 1 22 1 27 1 33 1 36 1 28 1 14 1 7 1 4 1 2 1 2 1 1 1 0 1-1 1 0 1-1 1-1 1-1 1-2 1-3 1-3 1-4 1-4"/>
<path d="M0 -162l1-4 1-6 1-6 1-5 1-6 1-5 1-6 1-6 1-7 1-7 1-7 1-7 1-6 1-6 1-4 1-4 1-4 1-3 1-4 1-6 1-7 1-9 1-10 1-11 1-12 1-13 1-12 1-12 1-12 1-12 1-11 1-11 1-11 1-10 1-10 1-10 1-10 1-10 1-8 1-6 1-6 1-4 1-2 1 2 1 4 1 6 1 7 1 8 1 8 1 8 1 8 1 7 1 6 1 4 1 2 1 0 1 1 1-1 1 0 1 0 1 0 1 3 1 7 1 11 1 15 1 13 1 10 1 5 1 1 1-4 1-12 1-11 1-6 1 0 1 6 1 13 1 21 1 23 1 28 1 30 1 34 1 32 1 26 1 16 1 9 1 5 1 3 1 2 1 0 1 0 1 0 1-1 1-2 1-2 1-1 1-3 1-3 1-3 1-3 1-4"/>
<path d="M0 -140l1-5 1-5 1-6 1-5 1-6 1-5 1-6 1-6 1-7 1-6 1-7 1-7 1-6 1-7 1-6 1-5 1-5 1-5 1-6 1-6 1-8 1-10 1-11 1-12 1-12 1-13 1-12 1-11 1-12 1-11 1-11 1-10 1-10 1-10 1-11 1-10 1-11 1-9 1-8 1-7 1-5 1-5 1-3 1 0 1 3 1 5 1 6 1 7 1 7 1 7 1 8 1 7 1 6 1 5 1 3 1 1 1 2 1 1 1 1 1 1 1 1 1 4 1 7 1 13 1 15 1 15 1 11 1 6 1 1 1-5 1-13 1-12 1-8 1-2 1 6 1 13 1 19 1 21 1 26 1 29 1 34 1 32 1 26 1 16 1 9 1 5 1 4 1 2 1 1 1 1 1 0 1-1 1 0 1-1 1-2 1-1 1-3 1-3 1-4 1-3"/>
<path d="M0 -135l1-5 1-5 1-6 1-5 1-6 1-6 1-5 1-6 1-6 1-5 1-6 1-5 1-5 1-5 1-4 1-4 1-3 1-3 1-4 1-5 1-7 1-10 1-11 1-13 1-14 1-14 1-13 1-13 1-12 1-11 1-12 1-10 1-11 1-10 1-9 1-10 1-10 1-8 1-6 1-4 1-3 1-2 1 0 1 1 1 3 1 4 1 5 1 6 1 5 1 5 1 7 1 6 1 6 1 5 1 2 1 2 1 1 1 2 1 1 1 2 1 2 1 4 1 8 1 14 1 17 1 18 1 15 1 11 1 2 1-6 1-13 1-15 1-11 1-2 1 8 1 14 1 17 1 19 1 23 1 26 1 34 1 35 1 29 1 16 1 7 1 5 1 4 1 2 1 1 1 1 1-1 1 0 1-1 1-1 1-2 1-3 1-3 1-4 1-5 1-4"/>
<path d="M0 -148l1-4 1-5 1-5 1-5 1-6 1-5 1-6 1-6 1-7 1-7 1-7 1-8 1-7 1-8 1-7 1-6 1-6 1-6 1-7 1-8 1-10 1-11 1-11 1-12 1-12 1-13 1-12 1-11 1-12 1-11 1-10 1-11 1-9 1-10 1-9 1-10 1-9 1-9 1-8 1-6 1-6 1-5 1-2 1 1 1 4 1 6 1 6 1 8 1 7 1 8 1 8 1 8 1 5 1 4 1 3 1 2 1 1 1 2 1 2 1 2 1 4 1 5 1 10 1 15 1 18 1 17 1 15 1 9 1 4 1-4 1-11 1-12 1-8 1 0 1 8 1 15 1 19 1 21 1 24 1 28 1 34 1 35 1 29 1 16 1 7 1 5 1 3 1 3 1 1 1 0 1 0 1-1 1-1 1-1 1-2 1-3 1-3 1-4 1-5 1-4"/>
<path d="M0 -212l1-3 1-3 1-3 1-4 1-3 1-4 1-4 1-6 1-6 1-7 1-8 1-8 1-8 1-8 1-8 1-8 1-8 1-8 1-8 1-8 1-9 1-8 1-8 1-8 1-9 1-8 1-9 1-10 1-12 1-15 1-16 1-16 1-16 1-15 1-17 1-17 1-17 1-13 1-8 1-3 1-1 1 1 1 1 1 2 1 3 1 4 1 5 1 5 1 3 1 4 1 3 1 3 1 3 1 4 1 4 1 4 1 5 1 5 1 5 1 5 1 6 1 7 1 8 1 11 1 12 1 12 1 9 1 5 1 0 1-7 1-14 1-13 1-11 1-2 1 9 1 17 1 22 1 29 1 34 1 37 1 38 1 38 1 29 1 17 1 10 1 7 1 6 1 3 1 2 1 0 1 0 1-1 1-2 1-3 1-4 1-5 1-6 1-7 1-8 1-7"/>
<path d="M0 -147l1-5 1-6 1-5 1-6 1-5 1-6 1-6 1-7 1-7 1-7 1-8 1-8 1-8 1-8 1-7 1-7 1-7 1-7 1-7 1-9 1-11 1-12 1-12 1-12 1-12 1-12 1-13 1-12 1-12 1-12 1-11 1-11 1-11 1-10 1-10 1-11 1-11 1-10 1-10 1-8 1-7 1-6 1-4 1 2 1 4 1 6 1 7 1 9 1 10 1 9 1 10 1 7 1 6 1 4 1 3 1 2 1 2 1 2 1 1 1 3 1 2 1 6 1 9 1 14 1 17 1 14 1 11 1 6 1 1 1-3 1-12 1-12 1-6 1 0 1 5 1 13 1 20 1 24 1 28 1 30 1 34 1 32 1 27 1 17 1 9 1 7 1 4 1 2 1 1 1 1 1 0 1 0 1-1 1-2 1-2 1-2 1-3 1-4 1-4 1-4"/>
<path d="M0 -225l1-3 1-4 1-3 1-4 1-3 1-3 1-4 1-4 1-4 1-5 1-5 1-5 1-5 1-5 1-4 1-3 1-4 1-3 1-4 1-6 1-8 1-9 1-9 1-10 1-11 1-11 1-11 1-11 1-12 1-12 1-12 1-12 1-11 1-11 1-11 1-11 1-12 1-11 1-9 1-6 1-6 1-5 1-2 1 2 1 4 1 6 1 8 1 8 1 9 1 9 1 9 1 7 1 5 1 4 1 2 1 1 1 2 1 1 1 1 1 1 1 2 1 4 1 9 1 12 1 15 1 12 1 10 1 3 1 1 1-4 1-13 1-12 1-6 1-1 1 6 1 13 1 21 1 26 1 30 1 32 1 35 1 33 1 27 1 17 1 10 1 6 1 4 1 3 1 1 1 1 1 0 1-1 1-1 1-2 1-2 1-2 1-4 1-4 1-5 1-4"/>
<path d="M0 -164l1-5 1-5 1-5 1-6 1-5 1-6 1-5 1-7 1-7 1-8 1-8 1-7 1-7 1-7 1-5 1-5 1-4 1-4 1-5 1-6 1-8 1-9 1-10 1-11 1-11 1-11 1-12 1-11 1-11 1-11 1-10 1-10 1-10 1-9 1-10 1-9 1-10 1-9 1-8 1-7 1-5 1-5 1-3 1 1 1 4 1 5 1 7 1 7 1 7 1 8 1 8 1 7 1 5 1 3 1 2 1 1 1 1 1 0 1 0 1 0 1 1 1 4 1 7 1 12 1 16 1 13 1 10 1 5 1 1 1-4 1-12 1-12 1-6 1-1 1 6 1 13 1 20 1 23 1 28 1 31 1 34 1 31 1 27 1 17 1 9 1 6 1 4 1 2 1 2 1 1 1 0 1-1 1-1 1-1 1-2 1-2 1-3 1-3 1-4 1-4"/>
<path d="M0 -149l1-5 1-5 1-5 1-6 1-5 1-6 1-6 1-7 1-8 1-8 1-9 1-9 1-10 1-9 1-10 1-9 1-9 1-9 1-9 1-11 1-11 1-12 1-11 1-10 1-11 1-11 1-10 1-12 1-12 1-12 1-13 1-13 1-13 1-12 1-12 1-13 1-12 1-11 1-8 1-6 1-4 1-3 1-2 1 2 1 5 1 5 1 7 1 7 1 7 1 8 1 7 1 6 1 4 1 3 1 3 1 2 1 2 1 2 1 3 1 2 1 4 1 6 1 9 1 13 1 17 1 13 1 11 1 5 1 2 1-2 1-12 1-11 1-6 1 0 1 6 1 13 1 21 1 26 1 29 1 33 1 34 1 32 1 27 1 17 1 9 1 7 1 4 1 2 1 2 1 1 1 0 1-1 1-1 1-1 1-2 1-2 1-3 1-4 1-4 1-4"/>
<path d="M0 -135l1-4 1-5 1-5 1-6 1-5 1-5 1-6 1-6 1-7 1-7 1-7 1-7 1-8 1-8 1-8 1-8 1-7 1-7 1-8 1-9 1-11 1-12 1-12 1-12 1-13 1-12 1-12 1-12 1-11 1-11 1-11 1-10 1-10 1-9 1-9 1-10 1-10 1-9 1-9 1-6 1-6 1-6 1-3 1 0 1 4 1 4 1 6 1 7 1 8 1 7 1 9 1 7 1 5 1 4 1 3 1 1 1 2 1 2 1 2 1 3 1 4 1 6 1 10 1 14 1 19 1 17 1 14 1 10 1 3 1-4 1-11 1-12 1-8 1-1 1 7 1 15 1 18 1 21 1 24 1 28 1 33 1 33 1 28 1 15 1 7 1 5 1 3 1 2 1 1 1 0 1 0 1-1 1-1 1-1 1-1 1-2 1-3 1-3 1-4 1-3"/>
<path d="M0 -268l1-1 1-2 1-2 1-3 1-2 1-3 1-4 1-3 1-4 1-5 1-5 1-4 1-5 1-5 1-5 1-5 1-4 1-5 1-4 1-5 1-6 1-6 1-6 1-7 1-7 1-8 1-9 1-10 1-12 1-14 1-15 1-16 1-15 1-15 1-16 1-17 1-15 1-13 1-9 1-3 1-1 1 0 1 1 1 2 1 4 1 5 1 5 1 4 1 5 1 4 1 3 1 3 1 3 1 3 1 4 1 3 1 4 1 5 1 5 1 5 1 6 1 7 1 10 1 12 1 15 1 13 1 11 1 7 1 2 1-4 1-12 1-12 1-8 1 0 1 7 1 15 1 22 1 27 1 32 1 34 1 36 1 35 1 28 1 17 1 9 1 6 1 4 1 3 1 1 1 1 1-1 1-1 1-2 1-2 1-3 1-3 1-5 1-5 1-7 1-5"/>
<path d="M0 -263l1-1 1-2 1-2 1-2 1-2 1-2 1-3 1-3 1-3 1-4 1-4 1-4 1-4 1-5 1-4 1-4 1-4 1-4 1-4 1-6 1-6 1-8 1-7 1-9 1-8 1-10 1-9 1-11 1-12 1-14 1-15 1-15 1-15 1-14 1-15 1-16 1-15 1-13 1-8 1-3 1-2 1 0 1 1 1 2 1 5 1 5 1 7 1 6 1 7 1 6 1 6 1 5 1 4 1 4 1 4 1 3 1 3 1 3 1 4 1 4 1 4 1 7 1 9 1 13 1 15 1 14 1 10 1 6 1 2 1-4 1-12 1-11 1-7 1 0 1 7 1 14 1 22 1 26 1 31 1 33 1 36 1 33 1 28 1 17 1 10 1 6 1 5 1 2 1 2 1 0 1 0 1-1 1-1 1-2 1-2 1-3 1-4 1-5 1-5 1-5"/>
<path d="M0 -250l1-1 1-2 1-1 1-2 1-3 1-2 1-4 1-4 1-5 1-5 1-7 1-6 1-7 1-7 1-7 1-6 1-6 1-7 1-6 1-6 1-7 1-7 1-6 1-7 1-7 1-8 1-9 1-10 1-12 1-14 1-16 1-17 1-16 1-16 1-18 1-18 1-18 1-15 1-9 1-3 1-1 1 1 1 1 1 2 1 4 1 6 1 6 1 5 1 6 1 4 1 4 1 4 1 4 1 4 1 4 1 4 1 4 1 4 1 4 1 4 1 5 1 6 1 8 1 10 1 12 1 12 1 9 1 7 1 0 1-6 1-13 1-13 1-10 1-1 1 10 1 18 1 23 1 28 1 35 1 36 1 38 1 37 1 29 1 16 1 9 1 7 1 5 1 3 1 1 1 1 1-1 1-1 1-2 1-3 1-3 1-5 1-5 1-7 1-7 1-6"/>
<path d="M0 -243l1-2 1-2 1-3 1-2 1-3 1-3 1-3 1-4 1-4 1-4 1-5 1-5 1-5 1-5 1-4 1-4 1-4 1-4 1-4 1-6 1-7 1-8 1-8 1-9 1-10 1-10 1-10 1-11 1-12 1-13 1-13 1-13 1-13 1-13 1-13 1-13 1-14 1-12 1-9 1-5 1-4 1-3 1-1 1 2 1 5 1 5 1 6 1 8 1 7 1 7 1 7 1 6 1 5 1 4 1 4 1 3 1 3 1 3 1 4 1 4 1 4 1 7 1 11 1 14 1 17 1 15 1 12 1 5 1 3 1-2 1-11 1-11 1-5 1 0 1 6 1 12 1 20 1 24 1 29 1 30 1 34 1 31 1 26 1 16 1 9 1 6 1 4 1 2 1 1 1 0 1 0 1-1 1-1 1-1 1-2 1-3 1-3 1-3 1-4 1-4"/>
<path d="M0 -134l1-4 1-5 1-5 1-5 1-5 1-4 1-5 1-5 1-6 1-5 1-5 1-5 1-5 1-5 1-5 1-5 1-4 1-4 1-4 1-6 1-8 1-9 1-12 1-13 1-13 1-14 1-13 1-12 1-11 1-12 1-11 1-11 1-10 1-11 1-10 1-11 1-10 1-9 1-6 1-5 1-4 1-3 1-1 1 0 1 3 1 5 1 6 1 6 1 6 1 7 1 7 1 8 1 7 1 6 1 3 1 2 1 2 1 1 1 1 1 1 1 2 1 3 1 7 1 13 1 17 1 17 1 16 1 10 1 2 1-7 1-13 1-14 1-11 1-3 1 8 1 15 1 18 1 20 1 22 1 26 1 34 1 35 1 28 1 15 1 7 1 4 1 3 1 2 1 1 1 0 1-1 1 0 1-1 1-1 1-2 1-2 1-3 1-4 1-4 1-4"/>
<path d="M0 -144l1-4 1-5 1-5 1-5 1-5 1-6 1-5 1-6 1-7 1-7 1-7 1-8 1-8 1-8 1-8 1-8 1-8 1-8 1-8 1-10 1-12 1-13 1-13 1-13 1-13 1-13 1-12 1-13 1-12 1-12 1-12 1-10 1-11 1-10 1-10 1-10 1-11 1-10 1-9 1-8 1-7 1-6 1-3 1 1 1 5 1 6 1 7 1 8 1 9 1 9 1 9 1 8 1 5 1 3 1 3 1 1 1 0 1 1 1 1 1 1 1 1 1 4 1 9 1 11 1 15 1 13 1 8 1 4 1 0 1-4 1-13 1-12 1-7 1-1 1 5 1 13 1 20 1 25 1 30 1 32 1 35 1 32 1 27 1 17 1 9 1 6 1 4 1 2 1 1 1 1 1 0 1-1 1-2 1-1 1-3 1-2 1-4 1-4 1-5 1-5"/>
<path d="M0 -136l1-4 1-5 1-4 1-5 1-5 1-6 1-5 1-6 1-6 1-7 1-8 1-8 1-9 1-9 1-10 1-9 1-10 1-10 1-10 1-12 1-14 1-14 1-14 1-13 1-12 1-11 1-12 1-12 1-12 1-11 1-12 1-11 1-10 1-10 1-10 1-10 1-10 1-10 1-8 1-7 1-7 1-6 1-3 1 1 1 4 1 5 1 6 1 8 1 8 1 8 1 8 1 6 1 4 1 4 1 2 1 2 1 2 1 3 1 3 1 3 1 4 1 7 1 11 1 15 1 19 1 17 1 13 1 8 1 3 1-2 1-11 1-11 1-6 1 0 1 6 1 13 1 19 1 22 1 27 1 29 1 33 1 32 1 26 1 16 1 8 1 6 1 3 1 2 1 1 1 1 1 0 1 0 1-1 1-1 1-1 1-2 1-2 1-3 1-4 1-3"/>
<path d="M0 -161l1-4 1-6 1-5 1-6 1-5 1-6 1-6 1-6 1-8 1-9 1-8 1-8 1-9 1-8 1-8 1-7 1-6 1-7 1-7 1-9 1-10 1-11 1-11 1-10 1-11 1-12 1-11 1-11 1-12 1-12 1-11 1-11 1-11 1-10 1-10 1-11 1-10 1-10 1-9 1-7 1-6 1-5 1-3 1 1 1 5 1 6 1 7 1 8 1 9 1 8 1 9 1 6 1 5 1 3 1 1 1 1 1 0 1 0 1 0 1 0 1 1 1 3 1 7 1 10 1 13 1 11 1 8 1 3 1-1 1-6 1-13 1-14 1-8 1-2 1 6 1 15 1 21 1 26 1 32 1 34 1 37 1 34 1 28 1 17 1 10 1 6 1 5 1 3 1 2 1 0 1 0 1-1 1-1 1-2 1-2 1-4 1-4 1-5 1-5 1-5"/>
<path d="M0 -135l1-4 1-5 1-5 1-5 1-5 1-6 1-5 1-6 1-5 1-6 1-6 1-6 1-6 1-5 1-6 1-4 1-5 1-4 1-4 1-6 1-7 1-9 1-11 1-12 1-12 1-13 1-12 1-12 1-11 1-10 1-11 1-10 1-10 1-10 1-10 1-10 1-10 1-8 1-7 1-4 1-4 1-3 1-1 1 1 1 2 1 5 1 6 1 5 1 6 1 6 1 7 1 7 1 6 1 5 1 3 1 1 1 1 1 1 1 0 1 1 1 2 1 3 1 7 1 13 1 16 1 17 1 15 1 9 1 3 1-6 1-12 1-13 1-9 1-2 1 8 1 15 1 18 1 20 1 23 1 26 1 34 1 36 1 28 1 15 1 7 1 4 1 3 1 3 1 0 1 0 1 0 1-1 1-1 1-1 1-3 1-2 1-4 1-4 1-5 1-4"/>
<path d="M0 -182l1-4 1-5 1-5 1-5 1-5 1-4 1-5 1-6 1-7 1-6 1-7 1-6 1-7 1-5 1-4 1-4 1-2 1-3 1-3 1-5 1-7 1-8 1-9 1-10 1-11 1-11 1-11 1-11 1-11 1-11 1-10 1-10 1-10 1-10 1-10 1-10 1-10 1-9 1-8 1-6 1-6 1-5 1-3 1 1 1 3 1 5 1 6 1 6 1 8 1 7 1 7 1 7 1 5 1 3 1 1 1 0 1 0 1-1 1-1 1-1 1-1 1 2 1 6 1 9 1 14 1 10 1 8 1 2 1-1 1-4 1-14 1-13 1-7 1-1 1 6 1 13 1 21 1 26 1 30 1 33 1 35 1 33 1 27 1 17 1 9 1 6 1 5 1 2 1 1 1 1 1 0 1-1 1-1 1-2 1-2 1-3 1-4 1-4 1-5 1-5"/>
<path d="M0 -129l1-4 1-5 1-5 1-6 1-5 1-6 1-5 1-6 1-6 1-5 1-6 1-6 1-6 1-5 1-6 1-5 1-5 1-4 1-5 1-6 1-8 1-9 1-11 1-13 1-12 1-13 1-13 1-12 1-11 1-10 1-11 1-10 1-10 1-10 1-10 1-10 1-10 1-8 1-7 1-5 1-3 1-3 1-1 1 0 1 3 1 5 1 5 1 6 1 6 1 6 1 7 1 7 1 6 1 4 1 3 1 1 1 1 1 0 1 0 1 0 1 1 1 2 1 6 1 12 1 15 1 15 1 13 1 8 1 1 1-6 1-12 1-13 1-9 1-1 1 7 1 15 1 19 1 21 1 24 1 28 1 33 1 35 1 29 1 16 1 7 1 5 1 3 1 3 1 1 1 0 1 0 1-1 1-1 1-1 1-2 1-2 1-4 1-4 1-4 1-4"/>
<path d="M0 -237l1-3 1-3 1-3 1-4 1-3 1-4 1-4 1-5 1-5 1-6 1-5 1-7 1-6 1-7 1-6 1-6 1-6 1-6 1-6 1-7 1-7 1-7 1-7 1-8 1-8 1-8 1-10 1-10 1-12 1-14 1-17 1-17 1-16 1-16 1-18 1-18 1-17 1-15 1-8 1-3 1 0 1 2 1 1 1 3 1 4 1 4 1 5 1 5 1 4 1 4 1 3 1 3 1 3 1 4 1 4 1 5 1 5 1 6 1 6 1 7 1 7 1 9 1 11 1 14 1 17 1 16 1 13 1 7 1 4 1-3 1-10 1-11 1-5 1 0 1 8 1 14 1 22 1 26 1 31 1 33 1 35 1 33 1 27 1 17 1 9 1 7 1 4 1 2 1 2 1 0 1 0 1-1 1-2 1-1 1-3 1-3 1-4 1-5 1-5 1-5"/>
<path d="M0 -148l1-4 1-6 1-5 1-5 1-5 1-6 1-6 1-6 1-7 1-8 1-8 1-8 1-8 1-9 1-8 1-8 1-7 1-8 1-8 1-10 1-12 1-13 1-12 1-12 1-12 1-12 1-12 1-11 1-12 1-12 1-11 1-11 1-10 1-10 1-10 1-10 1-10 1-10 1-9 1-7 1-7 1-5 1-3 1 1 1 5 1 6 1 7 1 9 1 9 1 9 1 10 1 7 1 6 1 4 1 2 1 2 1 2 1 2 1 2 1 3 1 3 1 6 1 11 1 14 1 18 1 16 1 13 1 7 1 2 1-3 1-11 1-12 1-7 1 0 1 6 1 13 1 19 1 23 1 26 1 30 1 33 1 33 1 27 1 16 1 8 1 6 1 3 1 3 1 1 1 1 1 0 1-1 1-1 1-1 1-1 1-2 1-3 1-3 1-4 1-3"/>
<path d="M0 -141l1-4 1-5 1-5 1-5 1-5 1-5 1-4 1-6 1-5 1-6 1-5 1-6 1-5 1-5 1-5 1-4 1-5 1-4 1-4 1-6 1-8 1-9 1-12 1-12 1-13 1-14 1-13 1-12 1-12 1-11 1-12 1-10 1-11 1-10 1-10 1-11 1-10 1-9 1-7 1-5 1-4 1-3 1-1 1 1 1 4 1 5 1 6 1 7 1 6 1 7 1 8 1 8 1 7 1 5 1 3 1 2 1 2 1 1 1 0 1 1 1 2 1 2 1 7 1 12 1 16 1 16 1 13 1 8 1 2 1-7 1-13 1-13 1-10 1-2 1 8 1 14 1 18 1 21 1 23 1 28 1 34 1 34 1 29 1 15 1 8 1 5 1 3 1 3 1 1 1 1 1 0 1 0 1-1 1-1 1-2 1-2 1-3 1-3 1-5 1-3"/>
<path d="M0 -267l1-2 1-2 1-2 1-2 1-2 1-3 1-3 1-3 1-4 1-4 1-4 1-5 1-5 1-5 1-5 1-4 1-5 1-5 1-5 1-5 1-6 1-7 1-7 1-7 1-8 1-8 1-9 1-10 1-12 1-15 1-16 1-17 1-17 1-17 1-18 1-18 1-18 1-14 1-9 1-2 1 0 1 1 1 1 1 3 1 3 1 5 1 5 1 6 1 4 1 4 1 4 1 3 1 4 1 4 1 4 1 4 1 6 1 5 1 6 1 7 1 7 1 8 1 11 1 13 1 16 1 14 1 12 1 8 1 2 1-3 1-11 1-12 1-7 1 0 1 7 1 15 1 22 1 26 1 32 1 33 1 36 1 34 1 28 1 16 1 9 1 7 1 4 1 3 1 1 1 0 1-1 1-1 1-1 1-3 1-3 1-3 1-5 1-5 1-6 1-6"/>
<path d="M0 -159l1-5 1-5 1-6 1-5 1-6 1-5 1-6 1-7 1-7 1-7 1-8 1-7 1-7 1-7 1-5 1-5 1-5 1-4 1-6 1-6 1-9 1-10 1-10 1-11 1-12 1-12 1-12 1-12 1-11 1-12 1-11 1-11 1-11 1-10 1-10 1-10 1-11 1-10 1-9 1-7 1-7 1-6 1-3 1 1 1 4 1 6 1 7 1 8 1 9 1 9 1 9 1 8 1 6 1 5 1 3 1 3 1 2 1 2 1 2 1 3 1 3 1 6 1 10 1 14 1 17 1 17 1 13 1 8 1 3 1-5 1-12 1-12 1-8 1-1 1 7 1 14 1 19 1 21 1 25 1 29 1 34 1 34 1 28 1 16 1 8 1 6 1 4 1 2 1 1 1 1 1 0 1 0 1-1 1-1 1-2 1-2 1-3 1-4 1-5 1-4"/>
<path d="M0 -155l1-4 1-4 1-5 1-5 1-4 1-5 1-5 1-6 1-6 1-7 1-7 1-7 1-6 1-6 1-6 1-4 1-4 1-4 1-4 1-5 1-6 1-9 1-9 1-10 1-12 1-11 1-12 1-11 1-10 1-11 1-10 1-11 1-10 1-10 1-11 1-11 1-11 1-9 1-8 1-6 1-6 1-4 1-2 1 1 1 3 1 6 1 6 1 8 1 7 1 7 1 9 1 7 1 7 1 4 1 3 1 1 1 0 1-1 1-1 1-1 1-1 1 1 1 5 1 10 1 13 1 13 1 9 1 4 1 1 1-5 1-12 1-12 1-6 1-1 1 7 1 13 1 20 1 23 1 27 1 29 1 34 1 31 1 26 1 16 1 8 1 5 1 3 1 1 1 1 1 1 1-1 1 0 1-1 1-1 1-1 1-2 1-2 1-3 1-3 1-3"/>
<path d="M0 -255l1-1 1-2 1-2 1-2 1-2 1-3 1-2 1-4 1-3 1-4 1-5 1-4 1-5 1-4 1-5 1-3 1-4 1-4 1-4 1-5 1-7 1-8 1-8 1-8 1-10 1-9 1-11 1-10 1-12 1-13 1-14 1-14 1-14 1-13 1-14 1-14 1-14 1-12 1-9 1-5 1-2 1-2 1-1 1 2 1 5 1 5 1 7 1 7 1 7 1 7 1 7 1 5 1 5 1 4 1 3 1 3 1 2 1 3 1 3 1 3 1 3 1 6 1 9 1 12 1 14 1 13 1 10 1 4 1 1 1-4 1-13 1-13 1-8 1-1 1 7 1 14 1 21 1 26 1 31 1 33 1 36 1 34 1 28 1 17 1 9 1 6 1 5 1 3 1 1 1 1 1 0 1-1 1-1 1-2 1-2 1-3 1-4 1-4 1-6 1-4"/>
<path d="M0 -246l1-1 1-2 1-3 1-2 1-4 1-3 1-4 1-5 1-5 1-5 1-6 1-6 1-7 1-6 1-5 1-6 1-5 1-5 1-5 1-6 1-6 1-7 1-7 1-7 1-8 1-9 1-9 1-10 1-12 1-14 1-14 1-15 1-15 1-14 1-15 1-16 1-16 1-13 1-9 1-4 1-2 1-1 1 0 1 2 1 4 1 4 1 5 1 5 1 5 1 5 1 4 1 4 1 4 1 4 1 4 1 4 1 4 1 4 1 5 1 5 1 5 1 6 1 10 1 11 1 14 1 13 1 9 1 6 1 0 1-5 1-13 1-14 1-9 1-2 1 7 1 15 1 22 1 27 1 33 1 35 1 37 1 36 1 29 1 17 1 10 1 7 1 5 1 3 1 2 1 0 1 0 1 0 1-2 1-2 1-3 1-4 1-4 1-6 1-7 1-7"/>
<path d="M0 -160l1-4 1-6 1-6 1-5 1-6 1-6 1-6 1-7 1-8 1-9 1-8 1-9 1-10 1-9 1-8 1-8 1-7 1-7 1-8 1-10 1-10 1-10 1-11 1-10 1-10 1-11 1-11 1-11 1-12 1-12 1-13 1-13 1-13 1-12 1-13 1-13 1-14 1-12 1-9 1-6 1-5 1-3 1-2 1 2 1 4 1 5 1 6 1 6 1 7 1 7 1 6 1 6 1 4 1 5 1 3 1 4 1 3 1 4 1 4 1 4 1 5 1 7 1 11 1 15 1 18 1 15 1 12 1 6 1 3 1-1 1-12 1-10 1-5 1 0 1 5 1 12 1 20 1 24 1 28 1 31 1 33 1 31 1 26 1 16 1 9 1 6 1 4 1 2 1 1 1 1 1 0 1-1 1-1 1-1 1-2 1-2 1-3 1-3 1-3 1-3"/>
<path d="M0 -154l1-4 1-6 1-5 1-5 1-5 1-5 1-5 1-6 1-6 1-6 1-7 1-6 1-6 1-6 1-5 1-5 1-5 1-4 1-6 1-6 1-9 1-10 1-11 1-12 1-12 1-13 1-13 1-12 1-12 1-11 1-12 1-11 1-10 1-10 1-10 1-11 1-10 1-9 1-9 1-6 1-6 1-4 1-2 1 1 1 4 1 6 1 7 1 7 1 8 1 9 1 8 1 8 1 6 1 5 1 4 1 2 1 1 1 2 1 2 1 2 1 2 1 5 1 8 1 14 1 17 1 16 1 13 1 8 1 2 1-5 1-12 1-13 1-8 1-1 1 7 1 14 1 19 1 21 1 24 1 29 1 33 1 35 1 28 1 16 1 8 1 5 1 4 1 2 1 2 1 0 1 1 1-1 1-1 1-1 1-1 1-3 1-3 1-3 1-5 1-4"/>
<path d="M0 -168l1-4 1-5 1-6 1-5 1-6 1-5 1-6 1-7 1-9 1-9 1-9 1-9 1-9 1-8 1-8 1-7 1-6 1-7 1-7 1-8 1-10 1-10 1-9 1-10 1-11 1-10 1-11 1-11 1-12 1-12 1-12 1-13 1-11 1-11 1-11 1-12 1-12 1-10 1-9 1-6 1-5 1-4 1-2 1 1 1 4 1 6 1 6 1 8 1 7 1 8 1 7 1 6 1 4 1 3 1 2 1 1 1 2 1 2 1 2 1 3 1 3 1 6 1 9 1 13 1 16 1 14 1 11 1 5 1 2 1-2 1-12 1-11 1-5 1 0 1 7 1 13 1 21 1 26 1 29 1 32 1 34 1 32 1 26 1 17 1 10 1 6 1 4 1 2 1 1 1 1 1-1 1-1 1-1 1-1 1-2 1-3 1-3 1-4 1-5 1-4"/>
<path d="M0 -215l1-3 1-3 1-3 1-4 1-3 1-4 1-4 1-5 1-6 1-6 1-7 1-6 1-7 1-6 1-6 1-5 1-5 1-5 1-6 1-7 1-8 1-9 1-9 1-9 1-10 1-10 1-11 1-11 1-12 1-13 1-13 1-14 1-13 1-13 1-13 1-14 1-14 1-12 1-9 1-5 1-4 1-3 1 0 1 2 1 4 1 5 1 6 1 7 1 7 1 6 1 6 1 6 1 3 1 4 1 2 1 2 1 2 1 1 1 2 1 2 1 3 1 4 1 6 1 10 1 11 1 10 1 8 1 4 1-1 1-8 1-13 1-14 1-11 1-2 1 8 1 16 1 22 1 28 1 33 1 36 1 38 1 37 1 29 1 17 1 9 1 6 1 6 1 3 1 1 1 1 1-1 1-1 1-2 1-3 1-3 1-5 1-5 1-7 1-8 1-7"/>
<path d="M0 -221l1-3 1-4 1-3 1-3 1-4 1-3 1-4 1-5 1-5 1-6 1-6 1-6 1-6 1-7 1-6 1-5 1-5 1-6 1-6 1-7 1-8 1-9 1-9 1-9 1-10 1-9 1-11 1-11 1-12 1-13 1-15 1-15 1-14 1-14 1-15 1-15 1-14 1-12 1-8 1-4 1-2 1-1 1 1 1 2 1 5 1 5 1 7 1 7 1 6 1 7 1 6 1 5 1 4 1 3 1 3 1 2 1 3 1 3 1 3 1 4 1 4 1 6 1 10 1 13 1 15 1 14 1 11 1 6 1 2 1-3 1-11 1-11 1-5 1 0 1 7 1 14 1 22 1 26 1 31 1 33 1 35 1 32 1 27 1 17 1 10 1 6 1 4 1 2 1 1 1 0 1 0 1-1 1-2 1-2 1-3 1-3 1-4 1-4 1-6 1-5"/>
<path d="M0 -136l1-4 1-5 1-5 1-6 1-5 1-5 1-6 1-6 1-6 1-6 1-6 1-6 1-7 1-6 1-5 1-6 1-5 1-4 1-6 1-6 1-8 1-10 1-11 1-12 1-13 1-13 1-12 1-12 1-11 1-11 1-10 1-10 1-10 1-10 1-10 1-10 1-9 1-9 1-6 1-5 1-4 1-3 1-1 1 1 1 3 1 5 1 6 1 6 1 6 1 7 1 7 1 7 1 7 1 4 1 3 1 2 1 1 1 1 1 1 1 1 1 1 1 4 1 7 1 13 1 16 1 17 1 14 1 9 1 2 1-6 1-12 1-13 1-10 1-1 1 8 1 15 1 18 1 21 1 23 1 27 1 34 1 36 1 29 1 15 1 7 1 5 1 4 1 2 1 1 1 1 1 0 1-1 1 0 1-2 1-1 1-3 1-3 1-3 1-5 1-4"/>
<path d="M0 -222l1-3 1-4 1-4 1-4 1-4 1-5 1-4 1-6 1-5 1-7 1-6 1-6 1-7 1-6 1-6 1-5 1-5 1-5 1-5 1-7 1-7 1-8 1-8 1-8 1-9 1-10 1-10 1-10 1-12 1-13 1-14 1-14 1-14 1-13 1-14 1-14 1-14 1-12 1-8 1-4 1-3 1-2 1 0 1 2 1 5 1 5 1 6 1 7 1 7 1 6 1 7 1 5 1 4 1 3 1 3 1 2 1 2 1 3 1 2 1 3 1 4 1 5 1 8 1 12 1 13 1 13 1 9 1 5 1 0 1-5 1-13 1-13 1-8 1-2 1 8 1 14 1 22 1 27 1 32 1 34 1 36 1 35 1 28 1 17 1 10 1 6 1 5 1 3 1 1 1 1 1 0 1-1 1-2 1-1 1-3 1-3 1-4 1-5 1-6 1-5"/>
<path d="M0 -142l1-5 1-5 1-6 1-5 1-6 1-5 1-6 1-6 1-7 1-7 1-6 1-7 1-6 1-6 1-5 1-5 1-4 1-4 1-4 1-6 1-7 1-9 1-11 1-11 1-12 1-13 1-12 1-12 1-11 1-12 1-11 1-11 1-10 1-11 1-11 1-10 1-11 1-9 1-8 1-7 1-5 1-4 1-2 1 1 1 3 1 6 1 6 1 7 1 8 1 7 1 8 1 8 1 6 1 5 1 3 1 1 1 1 1 0 1-1 1 0 1 0 1 1 1 6 1 10 1 14 1 12 1 9 1 4 1-1 1-5 1-14 1-12 1-7 1-1 1 5 1 13 1 20 1 24 1 28 1 30 1 34 1 33 1 27 1 17 1 9 1 6 1 3 1 2 1 2 1 0 1-1 1-1 1-1 1-2 1-2 1-3 1-3 1-4 1-4 1-4"/>
<path d="M0 -159l1-4 1-5 1-6 1-5 1-5 1-5 1-5 1-6 1-7 1-6 1-7 1-7 1-6 1-6 1-5 1-5 1-4 1-4 1-5 1-6 1-7 1-10 1-10 1-12 1-11 1-13 1-12 1-11 1-12 1-11 1-11 1-11 1-10 1-10 1-10 1-11 1-10 1-10 1-8 1-7 1-6 1-5 1-3 1 1 1 3 1 5 1 6 1 7 1 8 1 7 1 9 1 7 1 6 1 4 1 3 1 2 1 1 1 2 1 1 1 2 1 3 1 4 1 10 1 13 1 17 1 16 1 14 1 8 1 2 1-4 1-12 1-12 1-7 1-1 1 7 1 14 1 19 1 21 1 25 1 29 1 33 1 34 1 27 1 16 1 7 1 5 1 3 1 2 1 1 1 0 1-1 1-1 1-1 1-2 1-2 1-2 1-4 1-3 1-4 1-4"/>
<path d="M0 -208l1-3 1-4 1-5 1-5 1-5 1-5 1-5 1-6 1-6 1-7 1-6 1-6 1-6 1-5 1-5 1-3 1-4 1-3 1-4 1-6 1-7 1-9 1-9 1-9 1-11 1-11 1-11 1-11 1-12 1-12 1-11 1-12 1-11 1-11 1-11 1-12 1-12 1-11 1-9 1-6 1-6 1-5 1-2 1 2 1 5 1 6 1 8 1 8 1 9 1 9 1 10 1 7 1 5 1 4 1 2 1 1 1 1 1 2 1 1 1 2 1 3 1 5 1 11 1 14 1 17 1 16 1 12 1 6 1 4 1-2 1-10 1-10 1-5 1 0 1 7 1 13 1 21 1 23 1 27 1 29 1 34 1 32 1 26 1 16 1 8 1 5 1 3 1 1 1 1 1 0 1 0 1-1 1-1 1-1 1-1 1-2 1-2 1-3 1-3 1-4"/>
<path d="M0 -181l1-4 1-6 1-5 1-5 1-6 1-5 1-6 1-7 1-8 1-8 1-8 1-8 1-8 1-8 1-6 1-6 1-6 1-5 1-7 1-7 1-9 1-9 1-10 1-9 1-10 1-11 1-10 1-11 1-12 1-12 1-12 1-12 1-12 1-11 1-11 1-11 1-11 1-11 1-8 1-7 1-5 1-5 1-2 1 1 1 4 1 6 1 6 1 8 1 7 1 7 1 8 1 5 1 5 1 3 1 2 1 2 1 2 1 2 1 3 1 3 1 3 1 6 1 11 1 14 1 17 1 15 1 11 1 6 1 3 1-2 1-11 1-10 1-4 1 0 1 6 1 13 1 21 1 24 1 29 1 31 1 34 1 31 1 27 1 16 1 9 1 6 1 4 1 2 1 1 1 0 1 0 1-1 1-1 1-2 1-2 1-2 1-4 1-3 1-4 1-4"/>
<path d="M0 -151l1-4 1-5 1-5 1-5 1-5 1-5 1-6 1-5 1-7 1-6 1-7 1-6 1-7 1-6 1-6 1-5 1-5 1-5 1-5 1-7 1-8 1-10 1-12 1-11 1-13 1-12 1-13 1-12 1-11 1-12 1-11 1-10 1-11 1-10 1-10 1-10 1-11 1-9 1-9 1-6 1-6 1-6 1-3 1 1 1 3 1 5 1 6 1 7 1 8 1 7 1 8 1 7 1 5 1 4 1 2 1 0 1 1 1-1 1 0 1 0 1 0 1 2 1 7 1 10 1 15 1 12 1 8 1 3 1 0 1-4 1-13 1-12 1-6 1-1 1 5 1 13 1 20 1 25 1 28 1 32 1 34 1 31 1 26 1 17 1 9 1 6 1 4 1 2 1 1 1 0 1 0 1-1 1-2 1-1 1-3 1-2 1-4 1-4 1-4 1-5"/>
<path d="M0 -133l1-4 1-5 1-5 1-6 1-4 1-5 1-5 1-5 1-5 1-4 1-5 1-5 1-5 1-5 1-5 1-5 1-5 1-4 1-6 1-6 1-8 1-11 1-12 1-13 1-13 1-14 1-13 1-12 1-11 1-10 1-10 1-10 1-10 1-10 1-10 1-10 1-10 1-8 1-7 1-4 1-4 1-3 1-2 1 1 1 3 1 3 1 5 1 5 1 6 1 6 1 7 1 7 1 7 1 6 1 4 1 2 1 2 1 2 1 1 1 1 1 2 1 3 1 8 1 12 1 17 1 16 1 15 1 9 1 1 1-8 1-13 1-14 1-10 1-2 1 8 1 15 1 18 1 21 1 23 1 27 1 34 1 36 1 29 1 15 1 7 1 4 1 4 1 2 1 1 1 0 1-1 1-1 1-1 1-2 1-2 1-3 1-3 1-4 1-5 1-4"/>
<path d="M0 -151l1-4 1-5 1-6 1-6 1-5 1-6 1-6 1-7 1-7 1-7 1-7 1-7 1-7 1-6 1-5 1-4 1-4 1-4 1-5 1-6 1-7 1-10 1-10 1-12 1-12 1-12 1-13 1-12 1-12 1-12 1-12 1-11 1-10 1-11 1-10 1-10 1-11 1-9 1-8 1-6 1-5 1-4 1-1 1 2 1 4 1 6 1 7 1 7 1 8 1 7 1 8 1 7 1 5 1 3 1 2 1 0 1 0 1-1 1-1 1 0 1 0 1 2 1 7 1 11 1 15 1 13 1 10 1 4 1 1 1-3 1-12 1-11 1-6 1-1 1 6 1 12 1 20 1 23 1 27 1 30 1 33 1 31 1 26 1 15 1 9 1 6 1 3 1 2 1 1 1 1 1 0 1 0 1-1 1-1 1-1 1-2 1-2 1-3 1-3 1-4"/>
<path d="M0 -255l1-2 1-3 1-3 1-3 1-4 1-3 1-4 1-4 1-4 1-5 1-5 1-4 1-5 1-5 1-4 1-4 1-3 1-4 1-4 1-4 1-6 1-7 1-7 1-7 1-8 1-9 1-10 1-10 1-12 1-13 1-14 1-14 1-13 1-13 1-13 1-15 1-14 1-12 1-8 1-5 1-4 1-2 1-1 1 2 1 4 1 5 1 5 1 6 1 6 1 5 1 5 1 5 1 3 1 3 1 3 1 4 1 3 1 3 1 4 1 5 1 5 1 6 1 10 1 13 1 16 1 14 1 11 1 6 1 2 1-3 1-11 1-12 1-6 1 0 1 6 1 14 1 21 1 26 1 30 1 33 1 35 1 33 1 27 1 17 1 9 1 6 1 4 1 2 1 1 1 0 1 0 1-1 1-2 1-2 1-2 1-3 1-4 1-5 1-5 1-5"/>
<path d="M0 -204l1-4 1-5 1-4 1-5 1-4 1-5 1-5 1-5 1-6 1-7 1-6 1-6 1-7 1-6 1-5 1-4 1-4 1-4 1-5 1-6 1-8 1-9 1-9 1-10 1-10 1-11 1-11 1-11 1-11 1-12 1-11 1-11 1-10 1-10 1-10 1-11 1-10 1-11 1-9 1-7 1-7 1-6 1-3 1 1 1 4 1 5 1 7 1 8 1 8 1 7 1 8 1 6 1 5 1 3 1 2 1 1 1 1 1 2 1 1 1 2 1 3 1 5 1 10 1 13 1 16 1 14 1 10 1 5 1 2 1-2 1-12 1-11 1-5 1 0 1 6 1 13 1 21 1 25 1 29 1 32 1 34 1 31 1 26 1 17 1 9 1 7 1 3 1 2 1 1 1 1 1 0 1-1 1-1 1-2 1-2 1-2 1-4 1-3 1-5 1-4"/>
<path d="M0 -148l1-4 1-6 1-5 1-6 1-5 1-5 1-6 1-6 1-7 1-6 1-7 1-7 1-6 1-7 1-5 1-6 1-4 1-5 1-6 1-6 1-9 1-10 1-11 1-11 1-12 1-13 1-12 1-12 1-11 1-12 1-11 1-11 1-10 1-10 1-11 1-10 1-11 1-9 1-9 1-7 1-6 1-5 1-3 1 0 1 4 1 5 1 6 1 8 1 7 1 8 1 8 1 7 1 6 1 4 1 3 1 1 1 1 1 0 1 0 1 0 1 1 1 2 1 7 1 11 1 14 1 13 1 9 1 2 1 0 1-4 1-14 1-12 1-7 1-1 1 4 1 12 1 19 1 24 1 28 1 31 1 34 1 31 1 26 1 17 1 9 1 6 1 4 1 2 1 1 1 1 1 0 1 0 1-1 1-1 1-2 1-2 1-3 1-3 1-3 1-3"/>
<path d="M0 -237l1-3 1-3 1-4 1-4 1-5 1-4 1-4 1-5 1-5 1-6 1-5 1-6 1-6 1-5 1-5 1-5 1-4 1-4 1-5 1-5 1-6 1-7 1-8 1-8 1-8 1-9 1-10 1-10 1-12 1-13 1-15 1-14 1-14 1-14 1-14 1-16 1-15 1-13 1-9 1-5 1-3 1-1 1 0 1 1 1 4 1 5 1 6 1 6 1 5 1 5 1 6 1 4 1 4 1 4 1 4 1 4 1 3 1 4 1 4 1 4 1 5 1 6 1 9 1 12 1 15 1 12 1 10 1 6 1 0 1-5 1-12 1-13 1-9 1-1 1 6 1 15 1 21 1 26 1 32 1 34 1 36 1 35 1 29 1 17 1 9 1 7 1 4 1 3 1 2 1 1 1 0 1-1 1-1 1-2 1-3 1-3 1-4 1-5 1-6 1-5"/>
<path d="M0 -149l1-4 1-5 1-6 1-5 1-5 1-5 1-5 1-6 1-6 1-6 1-6 1-6 1-6 1-6 1-5 1-4 1-4 1-4 1-4 1-6 1-7 1-10 1-10 1-12 1-12 1-13 1-12 1-12 1-11 1-11 1-11 1-11 1-10 1-11 1-10 1-10 1-11 1-9 1-8 1-6 1-5 1-4 1-3 1 1 1 3 1 4 1 6 1 7 1 6 1 7 1 8 1 7 1 7 1 4 1 4 1 2 1 1 1 2 1 2 1 2 1 2 1 5 1 9 1 13 1 18 1 17 1 14 1 10 1 3 1-5 1-12 1-13 1-8 1-2 1 8 1 15 1 18 1 21 1 23 1 27 1 33 1 35 1 28 1 15 1 7 1 4 1 3 1 2 1 1 1 0 1-1 1-1 1-1 1-2 1-2 1-2 1-3 1-4 1-5 1-4"/>
<path d="M0 -245l1-3 1-2 1-3 1-2 1-2 1-3 1-2 1-3 1-4 1-4 1-4 1-4 1-5 1-4 1-4 1-3 1-3 1-4 1-4 1-6 1-7 1-9 1-8 1-10 1-10 1-10 1-11 1-11 1-12 1-12 1-12 1-13 1-11 1-12 1-11 1-11 1-11 1-10 1-8 1-6 1-5 1-4 1-2 1 1 1 5 1 5 1 7 1 8 1 7 1 8 1 7 1 6 1 4 1 3 1 2 1 2 1 1 1 2 1 3 1 3 1 4 1 6 1 11 1 14 1 18 1 16 1 12 1 6 1 3 1-1 1-11 1-10 1-5 1 0 1 6 1 13 1 20 1 24 1 27 1 30 1 33 1 31 1 26 1 16 1 9 1 5 1 4 1 1 1 1 1 1 1 0 1-1 1-1 1-1 1-1 1-2 1-2 1-3 1-4 1-3"/>
<path d="M0 -146l1-4 1-6 1-5 1-5 1-5 1-6 1-5 1-6 1-6 1-6 1-5 1-6 1-5 1-5 1-5 1-4 1-3 1-4 1-4 1-5 1-7 1-9 1-10 1-12 1-13 1-13 1-13 1-12 1-12 1-12 1-11 1-11 1-11 1-10 1-11 1-10 1-10 1-10 1-7 1-5 1-5 1-3 1-2 1 2 1 3 1 6 1 6 1 7 1 7 1 8 1 8 1 7 1 7 1 6 1 3 1 3 1 1 1 1 1 2 1 1 1 2 1 4 1 7 1 13 1 17 1 17 1 14 1 9 1 2 1-6 1-12 1-13 1-9 1-2 1 9 1 15 1 18 1 21 1 23 1 27 1 34 1 36 1 29 1 15 1 7 1 4 1 4 1 2 1 1 1 0 1 0 1-1 1-1 1-2 1-2 1-2 1-3 1-4 1-5 1-4"/>
<path d="M0 -193l1-4 1-4 1-5 1-4 1-4 1-5 1-5 1-6 1-8 1-7 1-8 1-8 1-8 1-8 1-8 1-7 1-6 1-7 1-7 1-9 1-9 1-9 1-9 1-9 1-10 1-9 1-10 1-11 1-12 1-14 1-15 1-15 1-15 1-14 1-16 1-16 1-15 1-14 1-9 1-4 1-2 1-1 1 1 1 2 1 4 1 5 1 5 1 6 1 5 1 5 1 4 1 4 1 3 1 3 1 3 1 3 1 3 1 3 1 4 1 3 1 4 1 6 1 8 1 10 1 12 1 11 1 9 1 5 1 0 1-7 1-12 1-14 1-10 1-1 1 8 1 17 1 22 1 28 1 34 1 36 1 38 1 37 1 29 1 17 1 9 1 7 1 4 1 4 1 1 1 0 1-1 1-1 1-2 1-2 1-4 1-5 1-5 1-7 1-8 1-7"/>
<path d="M0 -167l1-5 1-5 1-5 1-5 1-5 1-5 1-6 1-6 1-8 1-7 1-8 1-7 1-6 1-6 1-4 1-4 1-2 1-3 1-4 1-4 1-7 1-8 1-9 1-10 1-11 1-12 1-11 1-11 1-11 1-10 1-10 1-10 1-9 1-10 1-9 1-10 1-10 1-8 1-7 1-6 1-5 1-4 1-2 1 1 1 3 1 5 1 6 1 6 1 6 1 7 1 8 1 7 1 5 1 5 1 3 1 1 1 2 1 2 1 1 1 3 1 3 1 5 1 9 1 15 1 18 1 18 1 16 1 11 1 3 1-4 1-11 1-12 1-9 1-1 1 8 1 15 1 18 1 20 1 23 1 26 1 34 1 36 1 28 1 15 1 7 1 4 1 3 1 2 1 1 1 0 1 0 1-1 1-1 1-2 1-2 1-3 1-3 1-4 1-5 1-4"/>
<path d="M0 -152l1-5 1-5 1-6 1-5 1-5 1-6 1-6 1-6 1-7 1-7 1-8 1-7 1-7 1-7 1-6 1-6 1-5 1-5 1-6 1-7 1-9 1-10 1-11 1-11 1-12 1-12 1-11 1-12 1-11 1-11 1-11 1-10 1-9 1-10 1-9 1-10 1-10 1-9 1-8 1-6 1-6 1-5 1-2 1 1 1 4 1 5 1 6 1 7 1 8 1 7 1 9 1 7 1 6 1 4 1 3 1 2 1 2 1 2 1 2 1 3 1 4 1 6 1 10 1 15 1 19 1 18 1 16 1 11 1 4 1-4 1-11 1-12 1-9 1-1 1 9 1 15 1 19 1 20 1 23 1 27 1 34 1 36 1 29 1 16 1 7 1 4 1 3 1 2 1 1 1 1 1-1 1 0 1-1 1-1 1-2 1-3 1-3 1-4 1-4 1-4"/>
<path d="M0 -146l1-4 1-5 1-5 1-4 1-5 1-5 1-5 1-5 1-6 1-6 1-6 1-6 1-6 1-6 1-5 1-5 1-5 1-5 1-5 1-7 1-8 1-10 1-11 1-13 1-13 1-12 1-13 1-12 1-11 1-11 1-10 1-10 1-10 1-10 1-9 1-10 1-9 1-8 1-7 1-5 1-4 1-3 1-2 1 1 1 3 1 5 1 6 1 6 1 6 1 6 1 7 1 7 1 6 1 4 1 3 1 2 1 1 1 1 1 2 1 1 1 3 1 5 1 9 1 13 1 18 1 18 1 16 1 11 1 3 1-5 1-11 1-12 1-10 1-2 1 8 1 16 1 18 1 19 1 23 1 26 1 34 1 35 1 29 1 15 1 7 1 4 1 2 1 2 1 1 1-1 1 0 1-1 1-1 1-1 1-2 1-3 1-2 1-4 1-4 1-4"/>
<path d="M0 -175l1-5 1-5 1-5 1-5 1-5 1-6 1-5 1-7 1-7 1-8 1-8 1-8 1-8 1-8 1-6 1-6 1-6 1-6 1-6 1-8 1-9 1-10 1-10 1-11 1-10 1-11 1-11 1-12 1-12 1-11 1-12 1-12 1-11 1-10 1-11 1-12 1-11 1-11 1-9 1-7 1-6 1-6 1-2 1 1 1 4 1 5 1 7 1 7 1 7 1 8 1 7 1 5 1 4 1 3 1 2 1 2 1 1 1 1 1 2 1 1 1 3 1 4 1 9 1 11 1 14 1 13 1 9 1 4 1 1 1-4 1-12 1-12 1-7 1-1 1 7 1 14 1 22 1 26 1 31 1 33 1 36 1 33 1 28 1 16 1 10 1 6 1 5 1 2 1 1 1 1 1 0 1-1 1-2 1-2 1-2 1-3 1-4 1-5 1-6 1-5"/>
<path d="M0 -164l1-4 1-5 1-6 1-5 1-5 1-6 1-5 1-7 1-8 1-8 1-8 1-8 1-9 1-8 1-7 1-6 1-6 1-7 1-7 1-8 1-10 1-11 1-11 1-11 1-11 1-12 1-11 1-12 1-11 1-12 1-12 1-11 1-11 1-10 1-10 1-11 1-10 1-11 1-8 1-7 1-7 1-5 1-3 1 2 1 4 1 6 1 8 1 8 1 9 1 9 1 10 1 8 1 6 1 4 1 3 1 3 1 2 1 3 1 3 1 4 1 5 1 7 1 12 1 15 1 20 1 18 1 15 1 9 1 4 1-3 1-11 1-11 1-8 1-1 1 8 1 14 1 19 1 21 1 24 1 28 1 34 1 33 1 28 1 15 1 8 1 5 1 3 1 2 1 1 1 0 1 0 1-1 1-1 1-1 1-2 1-2 1-3 1-4 1-4 1-4"/>
<path d="M0 -143l1-5 1-5 1-6 1-5 1-6 1-5 1-6 1-7 1-6 1-8 1-7 1-7 1-7 1-7 1-6 1-6 1-5 1-5 1-6 1-7 1-8 1-10 1-11 1-11 1-12 1-13 1-12 1-11 1-11 1-11 1-11 1-11 1-10 1-10 1-10 1-11 1-10 1-10 1-8 1-7 1-6 1-5 1-4 1 1 1 3 1 5 1 6 1 7 1 7 1 8 1 8 1 8 1 5 1 5 1 2 1 2 1 1 1 1 1 0 1 1 1 1 1 3 1 7 1 12 1 15 1 13 1 10 1 4 1 0 1-5 1-13 1-13 1-7 1-1 1 5 1 11 1 20 1 23 1 28 1 30 1 33 1 31 1 26 1 17 1 9 1 6 1 4 1 3 1 1 1 1 1 0 1 0 1 0 1-1 1-2 1-2 1-2 1-3 1-4 1-4"/>
<path d="M0 -160l1-5 1-5 1-6 1-5 1-6 1-5 1-6 1-7 1-8 1-9 1-8 1-9 1-9 1-9 1-8 1-8 1-7 1-7 1-8 1-9 1-10 1-11 1-10 1-11 1-10 1-11 1-11 1-11 1-12 1-13 1-12 1-12 1-12 1-12 1-11 1-12 1-12 1-10 1-9 1-6 1-5 1-4 1-2 1 2 1 5 1 5 1 7 1 8 1 8 1 8 1 8 1 6 1 4 1 3 1 2 1 1 1 0 1 1 1 1 1 1 1 2 1 3 1 7 1 10 1 12 1 11 1 8 1 3 1 0 1-7 1-13 1-14 1-10 1-2 1 7 1 15 1 21 1 27 1 33 1 34 1 37 1 36 1 28 1 17 1 9 1 7 1 5 1 3 1 1 1 1 1-1 1 0 1-2 1-2 1-3 1-3 1-5 1-5 1-7 1-5"/>
<path d="M0 -161l1-4 1-5 1-5 1-5 1-5 1-5 1-5 1-7 1-7 1-7 1-7 1-8 1-7 1-7 1-6 1-6 1-5 1-5 1-7 1-7 1-10 1-10 1-12 1-11 1-12 1-12 1-13 1-12 1-11 1-12 1-11 1-11 1-10 1-10 1-10 1-10 1-10 1-10 1-9 1-8 1-6 1-6 1-4 1 1 1 5 1 5 1 7 1 9 1 8 1 9 1 9 1 8 1 5 1 5 1 3 1 2 1 2 1 2 1 2 1 3 1 3 1 6 1 10 1 15 1 18 1 16 1 14 1 8 1 3 1-4 1-11 1-12 1-7 1-1 1 7 1 14 1 19 1 22 1 25 1 28 1 34 1 33 1 27 1 16 1 8 1 5 1 3 1 1 1 1 1 0 1 0 1-1 1-1 1-2 1-2 1-2 1-3 1-4 1-4 1-4"/>
<path d="M0 -146l1-4 1-6 1-5 1-6 1-6 1-5 1-6 1-7 1-7 1-7 1-8 1-7 1-7 1-7 1-7 1-5 1-6 1-5 1-6 1-7 1-9 1-11 1-11 1-12 1-12 1-13 1-12 1-13 1-12 1-12 1-12 1-11 1-11 1-10 1-10 1-10 1-11 1-9 1-9 1-6 1-6 1-5 1-2 1 2 1 5 1 6 1 7 1 8 1 8 1 8 1 9 1 7 1 5 1 3 1 2 1 1 1 0 1 0 1 0 1 0 1 1 1 3 1 8 1 13 1 16 1 14 1 11 1 5 1 2 1-3 1-11 1-11 1-6 1 0 1 6 1 13 1 20 1 23 1 27 1 29 1 33 1 32 1 26 1 15 1 8 1 6 1 3 1 2 1 1 1 0 1 0 1 0 1-1 1-1 1-1 1-2 1-2 1-3 1-3 1-4"/>
<path d="M0 -127l1-3 1-5 1-5 1-5 1-6 1-6 1-6 1-6 1-6 1-7 1-6 1-7 1-6 1-7 1-6 1-6 1-6 1-5 1-5 1-7 1-8 1-9 1-12 1-12 1-13 1-13 1-13 1-13 1-12 1-11 1-12 1-11 1-11 1-11 1-11 1-10 1-11 1-9 1-7 1-6 1-4 1-3 1-1 1 2 1 4 1 5 1 7 1 7 1 7 1 7 1 8 1 7 1 6 1 4 1 3 1 1 1 1 1 1 1 1 1 1 1 2 1 4 1 9 1 14 1 17 1 18 1 16 1 11 1 4 1-5 1-11 1-13 1-9 1-2 1 8 1 15 1 18 1 19 1 22 1 27 1 33 1 35 1 28 1 15 1 6 1 4 1 3 1 3 1 1 1 0 1 1 1 0 1-1 1-1 1-2 1-2 1-3 1-4 1-4 1-4"/>
<path d="M0 -135l1-3 1-5 1-5 1-5 1-4 1-5 1-5 1-5 1-6 1-5 1-5 1-6 1-5 1-5 1-6 1-4 1-5 1-4 1-5 1-6 1-8 1-10 1-11 1-13 1-13 1-14 1-13 1-12 1-11 1-11 1-11 1-10 1-10 1-10 1-10 1-10 1-9 1-9 1-6 1-4 1-4 1-2 1-2 1 1 1 3 1 5 1 6 1 6 1 6 1 6 1 7 1 7 1 6 1 5 1 3 1 1 1 1 1-1 1 0 1 0 1 0 1 1 1 6 1 11 1 15 1 14 1 12 1 7 1 1 1-6 1-13 1-12 1-9 1-1 1 7 1 15 1 19 1 21 1 25 1 28 1 34 1 35 1 28 1 16 1 7 1 5 1 3 1 2 1 1 1 1 1-1 1-1 1-1 1-2 1-2 1-3 1-3 1-4 1-5 1-4"/>
<path d="M0 -237l1-2 1-3 1-3 1-4 1-3 1-4 1-3 1-5 1-5 1-5 1-6 1-6 1-7 1-6 1-6 1-5 1-6 1-5 1-6 1-7 1-7 1-8 1-7 1-8 1-8 1-9 1-10 1-10 1-12 1-14 1-16 1-16 1-16 1-15 1-17 1-17 1-17 1-13 1-9 1-3 1-1 1 0 1 2 1 2 1 4 1 4 1 5 1 6 1 4 1 4 1 4 1 3 1 3 1 4 1 3 1 5 1 4 1 5 1 5 1 5 1 6 1 8 1 10 1 12 1 15 1 14 1 12 1 7 1 2 1-4 1-11 1-12 1-7 1 0 1 8 1 15 1 22 1 27 1 32 1 34 1 36 1 34 1 28 1 17 1 10 1 6 1 5 1 2 1 2 1 0 1 0 1-1 1-2 1-2 1-3 1-3 1-5 1-5 1-6 1-6"/>
<path d="M0 -155l1-5 1-5 1-5 1-6 1-5 1-6 1-5 1-7 1-7 1-7 1-7 1-8 1-6 1-7 1-5 1-5 1-4 1-4 1-4 1-6 1-8 1-9 1-9 1-11 1-11 1-12 1-12 1-11 1-11 1-10 1-10 1-11 1-9 1-10 1-10 1-10 1-10 1-9 1-8 1-6 1-5 1-5 1-3 1 0 1 3 1 5 1 6 1 6 1 7 1 7 1 8 1 7 1 5 1 5 1 2 1 2 1 2 1 1 1 2 1 2 1 2 1 5 1 9 1 13 1 18 1 16 1 14 1 8 1 3 1-5 1-11 1-13 1-8 1-1 1 7 1 14 1 19 1 21 1 24 1 27 1 34 1 33 1 27 1 16 1 7 1 5 1 3 1 1 1 1 1 0 1 0 1-1 1-1 1-1 1-1 1-3 1-2 1-4 1-3 1-4"/>
<path d="M0 -247l1-1 1-2 1-2 1-3 1-2 1-3 1-4 1-3 1-4 1-5 1-5 1-5 1-5 1-5 1-5 1-4 1-4 1-4 1-5 1-6 1-7 1-8 1-8 1-8 1-9 1-10 1-10 1-11 1-12 1-13 1-14 1-14 1-14 1-13 1-14 1-14 1-14 1-12 1-8 1-5 1-3 1-1 1-1 1 3 1 4 1 6 1 6 1 8 1 7 1 7 1 7 1 6 1 5 1 4 1 4 1 4 1 3 1 4 1 4 1 4 1 5 1 7 1 11 1 15 1 18 1 16 1 12 1 5 1 3 1-1 1-11 1-11 1-5 1 0 1 6 1 12 1 20 1 24 1 29 1 30 1 34 1 31 1 27 1 16 1 10 1 6 1 4 1 2 1 2 1 1 1 0 1-1 1 0 1-1 1-2 1-2 1-2 1-3 1-4 1-4"/>
<path d="M0 -262l1-1 1-2 1-2 1-1 1-2 1-2 1-3 1-3 1-4 1-5 1-5 1-5 1-6 1-6 1-6 1-6 1-6 1-6 1-6 1-6 1-7 1-6 1-6 1-7 1-8 1-8 1-9 1-9 1-12 1-15 1-16 1-17 1-16 1-16 1-16 1-18 1-17 1-14 1-9 1-3 1 0 1 1 1 1 1 2 1 3 1 4 1 5 1 4 1 5 1 4 1 4 1 4 1 3 1 4 1 5 1 5 1 6 1 5 1 6 1 6 1 6 1 8 1 9 1 12 1 14 1 13 1 10 1 6 1 1 1-5 1-13 1-13 1-8 1-2 1 9 1 16 1 22 1 28 1 34 1 35 1 38 1 36 1 28 1 18 1 9 1 7 1 5 1 3 1 1 1 0 1-1 1-1 1-2 1-3 1-3 1-4 1-6 1-6 1-7 1-6"/>
<path d="M0 -268l1-1 1-2 1-2 1-2 1-3 1-3 1-3 1-3 1-4 1-5 1-4 1-5 1-5 1-5 1-5 1-5 1-5 1-5 1-5 1-5 1-6 1-7 1-6 1-7 1-7 1-9 1-8 1-11 1-12 1-14 1-17 1-17 1-17 1-16 1-18 1-19 1-18 1-14 1-8 1-3 1 0 1 1 1 2 1 3 1 4 1 6 1 5 1 6 1 5 1 4 1 3 1 4 1 3 1 4 1 5 1 4 1 5 1 5 1 5 1 6 1 6 1 7 1 10 1 12 1 14 1 14 1 11 1 6 1 2 1-5 1-12 1-13 1-8 1-1 1 8 1 15 1 22 1 27 1 33 1 34 1 37 1 36 1 28 1 17 1 9 1 7 1 4 1 3 1 2 1 0 1-1 1-1 1-2 1-2 1-4 1-4 1-5 1-6 1-7 1-7"/>
<path d="M0 -153l1-4 1-5 1-5 1-5 1-5 1-5 1-6 1-6 1-6 1-7 1-8 1-7 1-8 1-7 1-7 1-6 1-7 1-6 1-7 1-9 1-10 1-12 1-12 1-12 1-12 1-13 1-12 1-12 1-12 1-12 1-11 1-11 1-11 1-10 1-9 1-11 1-10 1-10 1-9 1-8 1-7 1-6 1-3 1 0 1 5 1 5 1 7 1 8 1 9 1 8 1 9 1 7 1 5 1 4 1 1 1 1 1 0 1 0 1 0 1-1 1 1 1 3 1 7 1 10 1 13 1 11 1 8 1 2 1 0 1-5 1-14 1-13 1-8 1-1 1 6 1 14 1 21 1 26 1 30 1 33 1 36 1 34 1 27 1 17 1 9 1 6 1 4 1 3 1 1 1 0 1 0 1-1 1-2 1-2 1-3 1-4 1-4 1-5 1-6 1-6"/>
<path d="M0 -142l1-4 1-5 1-5 1-6 1-5 1-5 1-5 1-6 1-6 1-7 1-7 1-7 1-7 1-7 1-7 1-7 1-7 1-7 1-7 1-9 1-10 1-12 1-13 1-12 1-13 1-13 1-13 1-12 1-12 1-12 1-11 1-11 1-10 1-10 1-10 1-11 1-10 1-10 1-9 1-8 1-6 1-6 1-4 1 1 1 4 1 5 1 7 1 8 1 8 1 8 1 9 1 7 1 6 1 4 1 3 1 2 1 1 1 2 1 2 1 2 1 3 1 5 1 10 1 14 1 17 1 16 1 13 1 7 1 3 1-3 1-12 1-12 1-7 1 0 1 6 1 14 1 19 1 22 1 26 1 29 1 33 1 33 1 27 1 16 1 8 1 5 1 3 1 2 1 0 1 1 1-1 1-1 1-1 1-2 1-2 1-2 1-3 1-4 1-4 1-4"/>
<path d="M0 -162l1-5 1-5 1-5 1-5 1-5 1-4 1-5 1-6 1-6 1-7 1-6 1-6 1-6 1-5 1-4 1-3 1-4 1-3 1-4 1-6 1-7 1-9 1-11 1-11 1-13 1-13 1-12 1-12 1-12 1-11 1-11 1-10 1-10 1-10 1-10 1-9 1-10 1-9 1-7 1-5 1-4 1-3 1-2 1 2 1 3 1 6 1 6 1 7 1 6 1 7 1 8 1 7 1 5 1 4 1 3 1 1 1 1 1 0 1 1 1 1 1 2 1 4 1 9 1 13 1 17 1 17 1 14 1 9 1 3 1-5 1-11 1-12 1-8 1-1 1 8 1 15 1 19 1 21 1 23 1 28 1 33 1 35 1 27 1 15 1 7 1 4 1 3 1 2 1 0 1 0 1 0 1-1 1-1 1-2 1-1 1-2 1-3 1-3 1-4 1-4"/>
<path d="M0 -247l1-2 1-2 1-3 1-3 1-3 1-4 1-4 1-4 1-5 1-6 1-6 1-6 1-6 1-7 1-6 1-6 1-6 1-6 1-6 1-6 1-7 1-6 1-7 1-7 1-8 1-8 1-9 1-10 1-12 1-14 1-17 1-17 1-17 1-16 1-18 1-18 1-17 1-14 1-7 1-2 1 1 1 2 1 2 1 3 1 4 1 5 1 5 1 6 1 4 1 4 1 3 1 3 1 3 1 3 1 3 1 3 1 4 1 4 1 4 1 4 1 6 1 6 1 8 1 11 1 12 1 12 1 9 1 7 1 0 1-7 1-12 1-13 1-10 1-2 1 9 1 17 1 23 1 28 1 35 1 36 1 39 1 37 1 30 1 17 1 10 1 7 1 5 1 3 1 2 1 0 1 0 1-1 1-2 1-3 1-3 1-5 1-6 1-6 1-9 1-7"/>
<path d="M0 -159l1-4 1-6 1-5 1-5 1-6 1-5 1-6 1-6 1-7 1-8 1-7 1-8 1-7 1-7 1-7 1-5 1-6 1-5 1-6 1-8 1-9 1-11 1-11 1-11 1-11 1-12 1-12 1-12 1-11 1-12 1-11 1-10 1-11 1-9 1-10 1-10 1-11 1-10 1-9 1-8 1-7 1-6 1-4 1 1 1 3 1 5 1 7 1 8 1 8 1 8 1 9 1 7 1 5 1 3 1 2 1 1 1 0 1 1 1 0 1 0 1 2 1 3 1 9 1 11 1 15 1 13 1 9 1 3 1 1 1-3 1-13 1-12 1-6 1-1 1 6 1 12 1 21 1 25 1 29 1 32 1 34 1 32 1 26 1 17 1 9 1 6 1 4 1 2 1 1 1 0 1 0 1-2 1-1 1-2 1-2 1-3 1-4 1-4 1-5 1-4"/>
<path d="M0 -151l1-4 1-5 1-5 1-5 1-5 1-6 1-5 1-6 1-6 1-7 1-7 1-6 1-6 1-6 1-4 1-5 1-3 1-4 1-4 1-5 1-8 1-9 1-10 1-11 1-13 1-12 1-12 1-12 1-11 1-11 1-10 1-11 1-9 1-10 1-10 1-10 1-9 1-9 1-7 1-5 1-4 1-3 1-1 1 1 1 4 1 5 1 6 1 6 1 7 1 7 1 8 1 7 1 7 1 5 1 3 1 2 1 2 1 1 1 2 1 1 1 2 1 4 1 8 1 13 1 17 1 17 1 15 1 10 1 2 1-6 1-12 1-14 1-9 1-2 1 8 1 15 1 18 1 20 1 22 1 27 1 34 1 35 1 29 1 15 1 7 1 5 1 3 1 3 1 1 1 0 1 0 1 0 1-1 1-1 1-2 1-2 1-3 1-4 1-4 1-4"/>
<path d="M0 -237l1-2 1-4 1-3 1-4 1-3 1-4 1-4 1-4 1-5 1-5 1-4 1-5 1-5 1-5 1-4 1-3 1-3 1-3 1-4 1-5 1-7 1-8 1-8 1-9 1-9 1-10 1-11 1-11 1-11 1-12 1-12 1-12 1-11 1-11 1-11 1-11 1-11 1-10 1-9 1-6 1-5 1-5 1-3 1 2 1 5 1 5 1 7 1 9 1 8 1 8 1 9 1 7 1 5 1 4 1 3 1 2 1 2 1 2 1 3 1 2 1 4 1 6 1 11 1 15 1 18 1 16 1 12 1 6 1 3 1-2 1-12 1-11 1-6 1 0 1 6 1 12 1 20 1 23 1 28 1 29 1 34 1 32 1 27 1 16 1 9 1 6 1 3 1 2 1 2 1 0 1 0 1 0 1-1 1-1 1-2 1-2 1-3 1-3 1-3 1-4"/>
<path d="M0 -178l1-5 1-5 1-4 1-5 1-4 1-5 1-4 1-5 1-6 1-7 1-6 1-6 1-5 1-4 1-3 1-2 1-1 1-1 1-2 1-3 1-5 1-7 1-9 1-10 1-11 1-12 1-12 1-12 1-11 1-11 1-11 1-11 1-10 1-10 1-11 1-10 1-10 1-10 1-7 1-6 1-5 1-4 1-2 1 1 1 3 1 5 1 6 1 7 1 7 1 7 1 8 1 7 1 7 1 5 1 3 1 2 1 1 1 1 1 1 1 0 1 1 1 3 1 7 1 11 1 15 1 15 1 12 1 6 1 0 1-5 1-14 1-13 1-8 1-2 1 6 1 13 1 18 1 22 1 25 1 29 1 33 1 33 1 27 1 16 1 8 1 5 1 4 1 2 1 1 1 1 1 0 1 0 1-1 1-1 1-1 1-2 1-3 1-3 1-4 1-3"/>
<path d="M0 -233l1-2 1-3 1-2 1-3 1-3 1-3 1-3 1-4 1-5 1-5 1-6 1-6 1-5 1-6 1-6 1-5 1-4 1-5 1-6 1-7 1-8 1-8 1-9 1-9 1-9 1-10 1-10 1-11 1-12 1-13 1-14 1-15 1-14 1-13 1-14 1-14 1-14 1-11 1-8 1-4 1-2 1-2 1 0 1 2 1 5 1 5 1 7 1 6 1 7 1 7 1 6 1 5 1 4 1 3 1 3 1 3 1 3 1 3 1 3 1 5 1 4 1 7 1 11 1 14 1 18 1 16 1 12 1 6 1 4 1-1 1-11 1-9 1-4 1 1 1 6 1 13 1 21 1 25 1 29 1 31 1 34 1 31 1 26 1 16 1 9 1 6 1 3 1 2 1 1 1 0 1-1 1-1 1-1 1-2 1-1 1-3 1-3 1-4 1-3 1-4"/>
<path d="M0 -244l1-2 1-3 1-3 1-3 1-3 1-4 1-3 1-4 1-4 1-5 1-5 1-5 1-5 1-6 1-5 1-4 1-5 1-5 1-5 1-6 1-8 1-7 1-8 1-9 1-8 1-10 1-9 1-11 1-12 1-14 1-16 1-15 1-16 1-15 1-16 1-17 1-16 1-13 1-8 1-4 1 0 1 0 1 1 1 3 1 4 1 5 1 6 1 7 1 6 1 5 1 5 1 5 1 4 1 3 1 3 1 3 1 3 1 2 1 3 1 3 1 4 1 4 1 8 1 9 1 11 1 11 1 8 1 5 1-1 1-8 1-13 1-14 1-10 1-2 1 9 1 17 1 22 1 29 1 35 1 36 1 38 1 38 1 29 1 17 1 10 1 7 1 5 1 4 1 2 1 0 1 0 1-1 1-2 1-3 1-3 1-5 1-5 1-7 1-8 1-7"/>
<path d="M0 -245l1-2 1-2 1-3 1-3 1-3 1-3 1-4 1-4 1-5 1-5 1-6 1-6 1-6 1-6 1-6 1-6 1-5 1-6 1-6 1-7 1-7 1-7 1-7 1-8 1-8 1-8 1-10 1-10 1-12 1-15 1-16 1-17 1-17 1-17 1-17 1-19 1-18 1-14 1-9 1-2 1 0 1 1 1 2 1 2 1 4 1 4 1 5 1 6 1 4 1 4 1 4 1 3 1 4 1 3 1 4 1 4 1 5 1 5 1 5 1 6 1 7 1 7 1 10 1 13 1 14 1 13 1 12 1 7 1 2 1-5 1-11 1-12 1-8 1-1 1 8 1 16 1 22 1 27 1 33 1 34 1 37 1 35 1 29 1 16 1 10 1 6 1 5 1 2 1 2 1 0 1-1 1-1 1-2 1-2 1-4 1-4 1-5 1-6 1-7 1-7"/>
<path d="M0 -248l1-3 1-3 1-4 1-3 1-4 1-4 1-4 1-4 1-5 1-6 1-5 1-5 1-6 1-5 1-6 1-5 1-4 1-5 1-5 1-6 1-6 1-6 1-7 1-7 1-8 1-8 1-10 1-10 1-12 1-13 1-16 1-15 1-16 1-14 1-16 1-16 1-16 1-13 1-8 1-3 1-2 1 0 1 1 1 2 1 4 1 5 1 5 1 5 1 5 1 4 1 4 1 3 1 2 1 3 1 3 1 2 1 3 1 4 1 3 1 4 1 5 1 6 1 7 1 11 1 11 1 12 1 9 1 6 1 0 1-6 1-13 1-13 1-9 1-2 1 9 1 18 1 22 1 29 1 34 1 36 1 39 1 37 1 29 1 17 1 10 1 6 1 5 1 3 1 2 1 0 1-1 1-1 1-2 1-3 1-4 1-4 1-6 1-7 1-8 1-7"/>
<path d="M0 -173l1-4 1-5 1-5 1-4 1-5 1-5 1-6 1-6 1-7 1-8 1-7 1-8 1-7 1-6 1-5 1-4 1-4 1-3 1-5 1-6 1-8 1-9 1-10 1-10 1-12 1-11 1-12 1-12 1-11 1-11 1-11 1-11 1-10 1-9 1-10 1-10 1-10 1-9 1-9 1-7 1-6 1-5 1-2 1 1 1 4 1 6 1 7 1 7 1 8 1 9 1 8 1 8 1 5 1 4 1 2 1 2 1 0 1 0 1 1 1 0 1 1 1 3 1 7 1 11 1 15 1 12 1 9 1 4 1 0 1-4 1-13 1-12 1-6 1-1 1 5 1 11 1 20 1 24 1 29 1 30 1 34 1 31 1 26 1 16 1 10 1 6 1 3 1 2 1 1 1 1 1-1 1 0 1-2 1-1 1-2 1-3 1-3 1-3 1-5 1-3"/>
<path d="M0 -268l1-1 1-2 1-3 1-2 1-3 1-2 1-3 1-3 1-4 1-4 1-4 1-5 1-4 1-5 1-5 1-5 1-4 1-5 1-4 1-6 1-6 1-6 1-7 1-7 1-7 1-9 1-9 1-10 1-12 1-14 1-16 1-17 1-16 1-16 1-17 1-18 1-17 1-14 1-8 1-3 1-1 1 1 1 2 1 2 1 4 1 4 1 5 1 5 1 4 1 4 1 3 1 2 1 3 1 3 1 4 1 4 1 4 1 4 1 5 1 5 1 5 1 7 1 8 1 11 1 13 1 12 1 10 1 6 1 1 1-6 1-12 1-13 1-9 1-1 1 9 1 17 1 22 1 29 1 34 1 36 1 38 1 37 1 29 1 17 1 9 1 7 1 5 1 3 1 2 1 0 1-1 1-1 1-2 1-3 1-3 1-5 1-6 1-6 1-8 1-8"/>
<path d="M0 -209l1-3 1-5 1-4 1-5 1-5 1-5 1-6 1-6 1-6 1-7 1-6 1-7 1-6 1-5 1-5 1-4 1-4 1-4 1-4 1-6 1-8 1-8 1-9 1-9 1-10 1-10 1-11 1-12 1-12 1-12 1-13 1-12 1-13 1-12 1-12 1-13 1-13 1-11 1-9 1-6 1-4 1-3 1-2 1 3 1 4 1 6 1 8 1 8 1 8 1 8 1 8 1 6 1 5 1 3 1 2 1 1 1 1 1 1 1 2 1 2 1 3 1 5 1 10 1 12 1 17 1 14 1 11 1 5 1 3 1-2 1-11 1-10 1-5 1 0 1 6 1 13 1 21 1 24 1 29 1 31 1 34 1 31 1 26 1 16 1 9 1 6 1 4 1 2 1 1 1 1 1 0 1-1 1-1 1-1 1-2 1-2 1-2 1-4 1-3 1-4"/>
<path d="M0 -205l1-4 1-4 1-4 1-5 1-4 1-5 1-5 1-6 1-7 1-7 1-7 1-8 1-7 1-7 1-7 1-6 1-6 1-6 1-7 1-7 1-8 1-9 1-8 1-9 1-9 1-10 1-10 1-10 1-12 1-14 1-14 1-15 1-14 1-14 1-14 1-15 1-15 1-12 1-8 1-4 1-2 1-1 1 0 1 3 1 4 1 5 1 7 1 6 1 7 1 6 1 6 1 5 1 4 1 4 1 3 1 3 1 3 1 2 1 4 1 3 1 4 1 6 1 8 1 12 1 14 1 13 1 10 1 5 1 1 1-5 1-13 1-12 1-8 1-2 1 7 1 15 1 21 1 26 1 32 1 34 1 36 1 35 1 28 1 17 1 9 1 6 1 5 1 3 1 2 1 0 1 0 1-1 1-1 1-2 1-3 1-3 1-4 1-5 1-6 1-5"/>
<path d="M0 -159l1-3 1-5 1-5 1-4 1-5 1-5 1-6 1-6 1-7 1-8 1-8 1-8 1-8 1-8 1-7 1-7 1-6 1-6 1-7 1-8 1-10 1-10 1-10 1-11 1-11 1-11 1-11 1-12 1-11 1-11 1-10 1-11 1-10 1-10 1-11 1-10 1-11 1-10 1-10 1-8 1-7 1-7 1-3 1 1 1 5 1 6 1 8 1 8 1 10 1 9 1 10 1 8 1 5 1 5 1 3 1 2 1 1 1 1 1 1 1 2 1 2 1 5 1 10 1 13 1 18 1 15 1 13 1 8 1 3 1-3 1-10 1-11 1-6 1 0 1 7 1 15 1 20 1 22 1 25 1 29 1 33 1 33 1 27 1 15 1 8 1 4 1 3 1 2 1 0 1 1 1-1 1 0 1-1 1-1 1-1 1-2 1-2 1-3 1-4 1-3"/>
<path d="M0 -156l1-5 1-6 1-5 1-6 1-5 1-6 1-6 1-6 1-8 1-8 1-8 1-9 1-8 1-8 1-8 1-7 1-7 1-8 1-8 1-9 1-11 1-11 1-11 1-11 1-11 1-11 1-12 1-11 1-12 1-12 1-12 1-12 1-11 1-11 1-11 1-12 1-12 1-12 1-9 1-7 1-6 1-5 1-3 1 1 1 5 1 5 1 6 1 8 1 7 1 8 1 8 1 6 1 5 1 4 1 3 1 3 1 2 1 2 1 3 1 3 1 3 1 6 1 10 1 13 1 17 1 14 1 11 1 4 1 2 1-2 1-12 1-12 1-5 1-1 1 5 1 12 1 20 1 25 1 28 1 32 1 33 1 32 1 26 1 17 1 9 1 6 1 4 1 2 1 1 1 1 1-1 1 0 1-1 1-2 1-1 1-3 1-2 1-4 1-4 1-3"/>
<path d="M0 -152l1-4 1-6 1-5 1-6 1-5 1-6 1-6 1-7 1-7 1-8 1-7 1-8 1-8 1-8 1-8 1-6 1-7 1-6 1-8 1-8 1-11 1-11 1-11 1-12 1-12 1-11 1-12 1-12 1-11 1-12 1-11 1-10 1-10 1-10 1-10 1-10 1-10 1-10 1-9 1-8 1-8 1-7 1-4 1 1 1 4 1 5 1 7 1 8 1 8 1 9 1 8 1 7 1 5 1 4 1 2 1 1 1 1 1 2 1 1 1 2 1 2 1 5 1 10 1 13 1 17 1 14 1 11 1 5 1 2 1-2 1-12 1-11 1-6 1 0 1 5 1 13 1 20 1 23 1 28 1 31 1 33 1 31 1 26 1 16 1 9 1 5 1 4 1 1 1 1 1 1 1-1 1 0 1-2 1-1 1-2 1-2 1-3 1-3 1-4 1-3"/>
<path d="M0 -164l1-4 1-5 1-5 1-5 1-4 1-6 1-5 1-6 1-8 1-7 1-8 1-8 1-8 1-8 1-8 1-6 1-7 1-6 1-8 1-9 1-11 1-11 1-11 1-11 1-11 1-12 1-11 1-12 1-11 1-12 1-11 1-11 1-10 1-9 1-9 1-10 1-9 1-9 1-9 1-7 1-7 1-6 1-3 1 1 1 4 1 5 1 7 1 8 1 9 1 8 1 8 1 7 1 4 1 2 1 2 1 0 1 0 1 1 1 1 1 1 1 2 1 4 1 9 1 12 1 16 1 13 1 10 1 4 1 2 1-3 1-12 1-11 1-5 1 0 1 6 1 13 1 20 1 25 1 29 1 32 1 34 1 31 1 26 1 17 1 9 1 6 1 3 1 2 1 1 1 0 1 0 1-1 1-1 1-2 1-2 1-3 1-3 1-4 1-4 1-4"/>
<path d="M0 -207l1-2 1-4 1-3 1-4 1-4 1-4 1-5 1-5 1-6 1-7 1-6 1-7 1-7 1-6 1-6 1-5 1-4 1-5 1-6 1-6 1-9 1-9 1-9 1-10 1-10 1-11 1-11 1-11 1-12 1-12 1-12 1-12 1-12 1-10 1-11 1-12 1-11 1-10 1-9 1-6 1-5 1-4 1-3 1 2 1 5 1 5 1 7 1 8 1 9 1 7 1 8 1 7 1 3 1 3 1 1 1 1 1 0 1 0 1 0 1 0 1 1 1 2 1 7 1 8 1 12 1 9 1 7 1 3 1-1 1-7 1-14 1-14 1-10 1-2 1 8 1 16 1 22 1 27 1 34 1 35 1 38 1 36 1 30 1 17 1 9 1 7 1 5 1 3 1 2 1 1 1-1 1-1 1-1 1-3 1-3 1-4 1-5 1-6 1-7 1-6"/>
<path d="M0 -219l1-3 1-4 1-4 1-4 1-5 1-4 1-5 1-6 1-6 1-7 1-7 1-7 1-8 1-7 1-7 1-6 1-6 1-7 1-6 1-8 1-7 1-8 1-8 1-7 1-9 1-8 1-10 1-10 1-12 1-15 1-16 1-16 1-16 1-16 1-16 1-18 1-16 1-13 1-8 1-3 1 0 1 1 1 2 1 3 1 4 1 5 1 6 1 6 1 5 1 5 1 4 1 4 1 4 1 3 1 4 1 3 1 4 1 4 1 4 1 4 1 5 1 6 1 9 1 11 1 13 1 12 1 10 1 5 1 1 1-6 1-13 1-13 1-10 1-1 1 7 1 16 1 22 1 28 1 33 1 35 1 37 1 37 1 29 1 17 1 9 1 7 1 5 1 3 1 1 1 1 1-1 1-1 1-2 1-2 1-3 1-4 1-5 1-6 1-7 1-7"/>
<path d="M0 -171l1-4 1-5 1-5 1-5 1-5 1-5 1-6 1-6 1-7 1-8 1-8 1-7 1-7 1-6 1-5 1-4 1-4 1-3 1-5 1-6 1-7 1-9 1-10 1-11 1-11 1-12 1-11 1-12 1-11 1-11 1-10 1-11 1-9 1-10 1-9 1-10 1-10 1-9 1-8 1-6 1-5 1-5 1-2 1 2 1 4 1 5 1 7 1 8 1 8 1 8 1 8 1 8 1 5 1 5 1 3 1 2 1 1 1 1 1 2 1 2 1 2 1 5 1 8 1 14 1 17 1 16 1 13 1 8 1 2 1-5 1-12 1-12 1-8 1-1 1 7 1 14 1 19 1 21 1 25 1 29 1 34 1 34 1 27 1 16 1 8 1 6 1 3 1 3 1 1 1 1 1 0 1 0 1-1 1-1 1-2 1-2 1-3 1-3 1-4 1-4"/>
<path d="M0 -160l1-5 1-5 1-5 1-5 1-5 1-5 1-6 1-6 1-7 1-8 1-8 1-8 1-8 1-8 1-7 1-7 1-7 1-6 1-8 1-9 1-11 1-12 1-12 1-11 1-11 1-12 1-12 1-11 1-12 1-12 1-12 1-11 1-11 1-11 1-11 1-11 1-11 1-11 1-9 1-7 1-6 1-6 1-2 1 1 1 5 1 5 1 7 1 8 1 9 1 8 1 9 1 7 1 5 1 4 1 3 1 3 1 2 1 2 1 3 1 3 1 4 1 6 1 11 1 14 1 19 1 16 1 12 1 7 1 3 1-3 1-11 1-11 1-6 1 0 1 6 1 13 1 20 1 23 1 26 1 30 1 33 1 32 1 27 1 16 1 8 1 6 1 3 1 2 1 1 1 0 1 0 1-1 1-2 1-1 1-2 1-2 1-3 1-4 1-4 1-4"/>
<path d="M0 -224l1-2 1-3 1-4 1-3 1-3 1-3 1-4 1-4 1-5 1-6 1-5 1-6 1-5 1-5 1-5 1-4 1-4 1-4 1-4 1-7 1-7 1-9 1-9 1-10 1-10 1-11 1-11 1-11 1-12 1-12 1-12 1-12 1-11 1-12 1-11 1-12 1-12 1-12 1-9 1-7 1-5 1-5 1-2 1 1 1 4 1 6 1 6 1 7 1 8 1 7 1 7 1 6 1 5 1 3 1 2 1 2 1 2 1 2 1 2 1 2 1 3 1 4 1 9 1 11 1 15 1 12 1 10 1 4 1 1 1-4 1-12 1-13 1-7 1-1 1 7 1 14 1 21 1 26 1 31 1 32 1 36 1 33 1 27 1 17 1 9 1 6 1 4 1 3 1 1 1 0 1 0 1-1 1-2 1-2 1-3 1-3 1-5 1-5 1-6 1-5"/>
<path d="M0 -218l1-3 1-4 1-4 1-4 1-4 1-5 1-5 1-5 1-6 1-6 1-6 1-7 1-6 1-6 1-6 1-5 1-4 1-5 1-5 1-7 1-7 1-8 1-9 1-9 1-9 1-9 1-11 1-10 1-12 1-13 1-13 1-14 1-12 1-13 1-12 1-13 1-13 1-11 1-8 1-5 1-4 1-3 1-1 1 2 1 4 1 6 1 7 1 7 1 8 1 7 1 7 1 7 1 5 1 4 1 3 1 4 1 3 1 3 1 4 1 5 1 5 1 7 1 12 1 16 1 20 1 17 1 13 1 8 1 4 1-1 1-11 1-11 1-6 1 0 1 7 1 13 1 20 1 23 1 27 1 29 1 34 1 32 1 28 1 16 1 8 1 6 1 4 1 2 1 1 1 1 1 0 1 0 1-1 1-1 1-1 1-3 1-2 1-3 1-4 1-4"/>
<path d="M0 -150l1-4 1-6 1-5 1-5 1-5 1-6 1-5 1-7 1-6 1-7 1-7 1-6 1-6 1-5 1-4 1-4 1-3 1-3 1-3 1-4 1-6 1-8 1-10 1-10 1-12 1-12 1-11 1-11 1-11 1-10 1-11 1-10 1-10 1-10 1-10 1-10 1-10 1-9 1-8 1-5 1-5 1-3 1-3 1 1 1 2 1 4 1 5 1 6 1 6 1 6 1 7 1 7 1 6 1 5 1 3 1 1 1 1 1 0 1 1 1 0 1 0 1 2 1 6 1 11 1 14 1 14 1 11 1 5 1 0 1-6 1-13 1-14 1-8 1-2 1 6 1 12 1 19 1 21 1 26 1 29 1 33 1 32 1 27 1 16 1 8 1 6 1 4 1 2 1 1 1 1 1 0 1 0 1-1 1-1 1-1 1-2 1-2 1-4 1-3 1-4"/>
<path d="M0 -215l1-4 1-5 1-6 1-5 1-6 1-5 1-6 1-6 1-6 1-6 1-6 1-6 1-6 1-6 1-6 1-6 1-6 1-6 1-6 1-6 1-7 1-8 1-8 1-8 1-10 1-11 1-13 1-15 1-16 1-16 1-17 1-17 1-17 1-16 1-17 1-17 1-18 1-20 1-23 1-22 1-18 1-12 1-9 1-2 1 6 1 10 1 11 1 10 1 10 1 9 1 9 1 10 1 10 1 8 1 7 1 4 1 3 1 2 1 2 1 2 1 3 1 5 1 8 1 12 1 13 1 12 1 8 1 6 1 1 1-4 1-8 1-8 1-6 1-1 1 8 1 17 1 25 1 36 1 43 1 43 1 45 1 47 1 35 1 13 1 1 1 0 1 0 1 0 1 0 1 0 1-1 1 0 1-1 1-1 1-1 1-2 1-1 1-2 1-2 1-2"/>
<path d="M0 -50l1-3 1-4 1-4 1-4 1-5 1-5 1-6 1-7 1-10 1-12 1-13 1-13 1-13 1-13 1-14 1-13 1-12 1-10 1-10 1-8 1-8 1-8 1-8 1-9 1-9 1-10 1-11 1-11 1-12 1-12 1-12 1-12 1-12 1-13 1-15 1-15 1-13 1-12 1-7 1-3 1 0 1 2 1 3 1 4 1 4 1 5 1 6 1 6 1 6 1 6 1 9 1 10 1 12 1 10 1 7 1 4 1 2 1 2 1 1 1 2 1 2 1 4 1 8 1 15 1 17 1 23 1 29 1 26 1 8 1-13 1-24 1-26 1-28 1-27 1-13 1 5 1 16 1 23 1 26 1 28 1 36 1 43 1 36 1 19 1 8 1 5 1 6 1 12 1 13 1-7 1-11 1-7 1-6 1-5 1-5 1-3 1-3 1-2 1-1 1-1"/>
<path d="M0 -64l1-1 1-2 1-3 1-3 1-5 1-5 1-5 1-7 1-9 1-12 1-14 1-15 1-15 1-13 1-12 1-9 1-9 1-8 1-7 1-7 1-7 1-7 1-8 1-8 1-9 1-10 1-13 1-13 1-15 1-16 1-15 1-16 1-16 1-14 1-14 1-11 1-10 1-8 1-5 1-1 1 0 1 3 1 3 1 5 1 5 1 5 1 6 1 5 1 6 1 4 1 4 1 3 1 3 1 2 1 3 1 3 1 3 1 3 1 4 1 4 1 5 1 7 1 13 1 20 1 25 1 26 1 22 1 15 1 2 1-14 1-25 1-27 1-21 1-6 1 5 1 12 1 18 1 20 1 21 1 22 1 26 1 32 1 32 1 24 1 11 1 2 1 0 1 0 1 0 1-1 1 0 1-1 1-1 1-1 1-2 1-2 1-3 1-3 1-3 1-3"/>
</g>
<path d="M1331.5 527.4l4.2-.9 4.1-1.2 4.2-1.3 4.1-1.3 4.2-1.3 4.2-1.3 4.1-1.3 4.2-1.3 4.1-1.3 4.2-1.3 4.2-1.3 4.1-1.3 4.2-1.4 4.1-1.5 4.2-1.6 4.2-1.7 4.1-1.9 4.2-1.9 4.1-2.1 4.2-2 4.2-2 4.1-2 4.2-2 4.1-2 4.2-2 4.2-2 4.1-1.9 4.2-1.7 4.1-1.7 4.2-1.5 4.2-1.5 4.1-1.3 4.2-1.3 4.1-1.3 4.2-1.3 4.2-1.3 4.1-1.5 4.2-1.7 4.1-1.8 4.2-2.1 4.2-2.3 4.1-2.4 4.2-2.6 4.1-2.7 4.2-2.6 4.2-2.7 4.1-2.6 4.2-2.8 4.1-2.7 4.2-2.8 4.2-2.9 4.1-2.8 4.2-2.9 4.1-2.9 4.2-2.9 4.2-2.9 4.1-2.9 4.2-2.9 4.1-2.9 4.2-2.8 4.2-2.7 4.1-2.7 4.2-2.7 4.1-2.6 4.2-2.5 4.2-2.5 4.1-2.4 4.2-2.3 4.1-2.4 4.2-2.3 4.2-2.4 4.1-2.5 4.2-2.5 4.1-2.6 4.2-2.5 4.2-2.4 4.1-2.3 4.2-2.2 4.1-2 4.2-1.9 4.2-1.8 4.1-1.8 4.2-1.7 4.1-1.5 4.2-1.1 4.2-.6 4.1-.1 4.2 .6 4.1 .9 4.2 1.3 4.2 1.3 4.1 1.5 4.2 1.7 4.1 1.9 4.2 2 4.2 2.2 4.1 2.2 4.2 2.2 4.1 2.2 4.2 2.2 4.2 2.3 4.1 2.2 4.2 2 4.1 1.6 4.2 1.3 4.2 1.1 4.1 1 4.2 .8 4.1 .6 4.2 .4 4.2 .3 4.1 .3 4.2 .2 4.1 .2 4.2 .3 4.2 .2 4.1 .3 4.2 .3 4.1 .3 4.2 .4 4.2 .4 4.1 .6 4.2 1 4.1 1.5 4.2 2 4.2 2.5 4.1 3 4.2 3.5 4.1 4.1 4.2 4.1 4.2 3.7 4.1 3.2 4.2 2.7 4.1 2.2 4.2 1.3 4.2 .8 4.1 .5 4.2 .3 4.1-.2 4.2-1.2 4.2-2.5 4.1-3.3 4.2-3.2 4.1-2.3 4.2-1.6 4.2-1.1 4.1-.4 4.2 .3 4.1 1 4.2 1.6 4.2 2.4 4.1 3.7 4.2 4.7 4.1 5.4 4.2 5.8 4.2 6.4 4.1 7 4.2 7.3 4.1 7.6 4.2 8 4.2 8.3 4.1 8.4 4.2 8 4.1 7.4 4.2 6.8 4.2 6.1 4.1 4.9 4.2 3.5 4.1 2.6 4.2 2.1 4.2 1.7 4.1 1.4 4.2 1 4.1 .8 4.2 .6 4.2 .4 4.1 .4 4.2 .3 4.1 .2 4.2 .1 4.2 0 4.1-.1 4.2-.2 4.1-.2 4.2-.2 4.2-.3 4.1-.3 4.2-.4 4.1-.4 4.2-.4 4.2-.5 4.1-.6 4.2-.7 4.1-.7 4.2-.8 4.2-.9 4.1-.9 4.2-.9 4.1-1 4.2-.7" stroke="#ff0000" stroke-width="6.5"/>
</g>
<g clip-path="url(#c01)" fill="none" stroke-linejoin="round">
<g class="bl" stroke="#0000ff" stroke-width="1.8" transform="translate(236.5,1405.5) scale(8.3300,0.5)">
<path d="M0 -354l1 4 1 4 1 4 1 4 1 3 1 3 1 2 1 1 1 1 1 0 1 0 1-1 1-1 1 4 1 7 1 9 1 9 1 9 1 7 1 4 1 2 1 0 1-1 1-3 1-4 1-6 1-6 1-6 1-8 1-8 1-7 1-8 1-8 1-7 1-8 1-7 1-6 1-5 1-5 1-4 1-2 1-1 1 1 1 3 1 4 1 5 1 6 1 7 1 7 1 7 1 6 1 4 1 3 1 2 1 1 1 3 1 2 1 3 1 2 1 3 1 2 1 4 1 6 1 8 1 10 1 9 1 8 1 3 1-2 1-7 1-14 1-17 1-17 1-11 1-4 1 3 1 10 1 15 1 19 1 20 1 21 1 21 1 19 1 11 1 6 1 3 1 3 1 1 1 1 1 1 1 0 1-1 1-2 1-1 1-2 1-2 1-3 1-3 1-3 1-3"/>
<path d="M0 -312l1 0 1 0 1 0 1-1 1-1 1-1 1-1 1-1 1-2 1-2 1-3 1-3 1 0 1 2 1 3 1 5 1 5 1 5 1 4 1 2 1 1 1-2 1-3 1-4 1-5 1-6 1-6 1-7 1-8 1-8 1-8 1-8 1-9 1-8 1-8 1-8 1-8 1-8 1-6 1-5 1-4 1-2 1 0 1 2 1 3 1 4 1 7 1 7 1 8 1 7 1 5 1 4 1 3 1 2 1 2 1 2 1 1 1 1 1 1 1 1 1 0 1 3 1 4 1 7 1 11 1 10 1 8 1 2 1-1 1-4 1-11 1-14 1-14 1-7 1-3 1 2 1 9 1 15 1 20 1 23 1 25 1 25 1 23 1 15 1 7 1 5 1 3 1 2 1 2 1 0 1 0 1 0 1-2 1-1 1-2 1-2 1-3 1-2 1-4 1-3"/>
<path d="M0 -299l1-2 1-1 1-2 1-1 1-2 1-1 1-2 1-2 1-2 1-2 1-1 1 0 1 1 1 2 1 3 1 5 1 5 1 5 1 3 1 3 1 0 1-2 1-2 1-4 1-6 1-6 1-6 1-7 1-8 1-8 1-8 1-8 1-8 1-9 1-8 1-8 1-8 1-7 1-7 1-5 1-4 1-3 1-1 1 2 1 2 1 3 1 6 1 7 1 7 1 5 1 5 1 4 1 2 1 2 1 2 1 2 1 2 1 2 1 1 1 1 1 2 1 4 1 6 1 9 1 12 1 12 1 10 1 4 1 1 1-3 1-11 1-14 1-13 1-8 1-3 1 4 1 11 1 16 1 20 1 21 1 24 1 22 1 21 1 12 1 6 1 5 1 2 1 2 1 1 1 0 1 0 1-1 1-2 1-1 1-2 1-3 1-3 1-3 1-4 1-3"/>
<path d="M0 -379l1 5 1 5 1 6 1 5 1 4 1 4 1 3 1 2 1 2 1 1 1 1 1 0 1 0 1 0 1 0 1 1 1 1 1 1 1 1 1 0 1 2 1-1 1-3 1-4 1-6 1-6 1-8 1-8 1-10 1-11 1-11 1-13 1-14 1-15 1-14 1-11 1-8 1-5 1-4 1-3 1-3 1-1 1 3 1 6 1 8 1 7 1 8 1 7 1 7 1 6 1 4 1 3 1 0 1-1 1-1 1 0 1 0 1 0 1 1 1 0 1 0 1 2 1 3 1 4 1 6 1 5 1 5 1 2 1 0 1-3 1-7 1-8 1-8 1-5 1-1 1 4 1 10 1 14 1 19 1 24 1 33 1 35 1 27 1 11 1 4 1 2 1 1 1 1 1 1 1 0 1 0 1-1 1-2 1-3 1-3 1-4 1-4 1-5 1-5 1-5"/>
<path d="M0 -390l1 6 1 8 1 7 1 7 1 6 1 5 1 3 1 3 1 3 1 2 1 1 1 1 1 1 1 0 1 0 1 3 1 10 1 9 1 8 1 6 1 3 1 1 1-1 1-3 1-4 1-5 1-6 1-6 1-7 1-7 1-8 1-8 1-7 1-8 1-7 1-7 1-7 1-6 1-5 1-4 1-3 1-2 1 1 1 3 1 3 1 4 1 6 1 7 1 7 1 6 1 5 1 3 1 2 1 2 1 1 1 1 1 2 1 1 1 1 1 0 1 1 1 3 1 5 1 7 1 10 1 11 1 8 1 3 1-1 1-4 1-12 1-14 1-14 1-8 1-3 1 4 1 11 1 16 1 20 1 22 1 24 1 23 1 20 1 13 1 7 1 4 1 3 1 1 1 2 1 0 1 0 1-1 1-1 1-2 1-2 1-2 1-3 1-4 1-3 1-4"/>
<path d="M0 -293l1-2 1-2 1-2 1-3 1-3 1-2 1-3 1-3 1-3 1-3 1-3 1-3 1-1 1 0 1 2 1 3 1 4 1 4 1 3 1 3 1 0 1-2 1-3 1-4 1-5 1-6 1-7 1-7 1-8 1-8 1-9 1-10 1-10 1-10 1-10 1-10 1-9 1-9 1-8 1-6 1-4 1-4 1 1 1 2 1 4 1 5 1 6 1 8 1 8 1 7 1 5 1 5 1 3 1 3 1 3 1 3 1 2 1 3 1 2 1 2 1 3 1 4 1 8 1 10 1 13 1 13 1 11 1 4 1 0 1-2 1-11 1-14 1-13 1-8 1-3 1 3 1 11 1 15 1 21 1 23 1 24 1 24 1 22 1 14 1 7 1 5 1 3 1 2 1 1 1 1 1 0 1-1 1-2 1-2 1-2 1-2 1-4 1-3 1-4 1-4"/>
<path d="M0 -358l1 4 1 5 1 5 1 4 1 3 1 3 1 2 1 2 1 0 1 1 1-1 1 0 1-1 1 0 1 7 1 8 1 8 1 8 1 6 1 5 1 2 1 0 1-2 1-4 1-4 1-6 1-6 1-7 1-7 1-8 1-8 1-8 1-9 1-8 1-8 1-7 1-8 1-6 1-6 1-5 1-4 1-2 1 1 1 2 1 3 1 4 1 6 1 7 1 7 1 7 1 6 1 4 1 3 1 3 1 3 1 3 1 4 1 4 1 4 1 6 1 6 1 8 1 11 1 14 1 16 1 15 1 14 1 8 1 3 1-4 1-13 1-17 1-17 1-12 1-4 1 5 1 12 1 18 1 18 1 17 1 19 1 17 1 13 1 8 1 4 1 3 1 2 1 1 1 1 1 1 1 0 1-1 1-1 1-1 1-2 1-2 1-2 1-3 1-3 1-3"/>
<path d="M0 -388l1 7 1 8 1 7 1 7 1 6 1 5 1 4 1 2 1 2 1 2 1 0 1 1 1 0 1-1 1 0 1 1 1 3 1 7 1 6 1 4 1 2 1-1 1-3 1-4 1-5 1-6 1-7 1-8 1-8 1-9 1-9 1-10 1-10 1-9 1-10 1-8 1-8 1-6 1-5 1-4 1-4 1-2 1 1 1 3 1 3 1 5 1 6 1 8 1 7 1 6 1 5 1 3 1 2 1 2 1 1 1 2 1 1 1 1 1 1 1 1 1 1 1 3 1 6 1 9 1 12 1 12 1 11 1 4 1 2 1 0 1-9 1-12 1-12 1-6 1-2 1 5 1 10 1 16 1 20 1 23 1 24 1 24 1 22 1 13 1 7 1 4 1 2 1 2 1 1 1 0 1-1 1-1 1-2 1-2 1-3 1-2 1-3 1-4 1-3 1-3"/>
<path d="M0 -377l1 5 1 7 1 6 1 5 1 5 1 3 1 3 1 2 1 1 1 1 1 0 1 0 1 0 1 0 1 0 1 1 1 1 1 2 1 5 1 5 1 2 1-1 1-2 1-4 1-5 1-6 1-6 1-8 1-8 1-9 1-10 1-9 1-11 1-11 1-10 1-9 1-7 1-7 1-5 1-5 1-3 1-3 1 1 1 3 1 4 1 5 1 6 1 8 1 7 1 5 1 5 1 3 1 1 1 1 1 0 1 1 1 1 1 1 1 1 1 1 1 2 1 2 1 6 1 7 1 10 1 11 1 8 1 4 1 1 1-2 1-8 1-11 1-11 1-6 1-3 1 4 1 9 1 14 1 20 1 23 1 27 1 27 1 24 1 14 1 5 1 3 1 2 1 1 1 1 1 0 1-1 1-1 1-2 1-2 1-3 1-2 1-3 1-4 1-3 1-3"/>
<path d="M0 -296l1 0 1-2 1-1 1-2 1-1 1-2 1-2 1-1 1 0 1 0 1 0 1 2 1 2 1 5 1 6 1 7 1 7 1 7 1 5 1 3 1 1 1-1 1-2 1-3 1-4 1-6 1-6 1-7 1-7 1-8 1-7 1-8 1-7 1-7 1-7 1-6 1-5 1-4 1-3 1-3 1-1 1 0 1 2 1 4 1 5 1 5 1 6 1 6 1 7 1 7 1 6 1 4 1 3 1 1 1 2 1 2 1 4 1 3 1 4 1 5 1 4 1 5 1 7 1 10 1 11 1 10 1 8 1 4 1-1 1-9 1-15 1-20 1-18 1-14 1-5 1 4 1 11 1 16 1 18 1 18 1 19 1 17 1 15 1 8 1 5 1 3 1 2 1 2 1 1 1 0 1 0 1-1 1-1 1-1 1-1 1-2 1-2 1-3 1-3 1-3"/>
<path d="M0 -372l1 4 1 6 1 5 1 5 1 4 1 4 1 3 1 2 1 2 1 2 1 1 1 0 1 0 1 0 1 8 1 11 1 11 1 11 1 9 1 7 1 3 1 2 1 0 1-2 1-3 1-4 1-5 1-6 1-7 1-7 1-7 1-6 1-7 1-7 1-7 1-5 1-5 1-4 1-3 1-4 1-2 1 0 1 1 1 3 1 4 1 4 1 5 1 5 1 6 1 6 1 5 1 3 1 2 1 1 1 2 1 2 1 3 1 3 1 3 1 4 1 5 1 5 1 8 1 10 1 12 1 11 1 10 1 5 1 0 1-7 1-15 1-18 1-18 1-13 1-5 1 4 1 12 1 17 1 17 1 18 1 18 1 18 1 14 1 8 1 5 1 3 1 2 1 1 1 1 1 0 1 0 1 0 1-1 1-2 1-1 1-2 1-2 1-2 1-3 1-3"/>
<path d="M0 -307l1-1 1 0 1-1 1 0 1-1 1-1 1-2 1-1 1-2 1-3 1-3 1-2 1-1 1 1 1 1 1 3 1 3 1 3 1 3 1 1 1-1 1-2 1-4 1-6 1-6 1-7 1-8 1-9 1-9 1-10 1-11 1-11 1-13 1-13 1-12 1-12 1-8 1-7 1-6 1-4 1-3 1-2 1 2 1 5 1 6 1 6 1 7 1 8 1 8 1 7 1 5 1 4 1 2 1 2 1 2 1 2 1 2 1 3 1 2 1 1 1 3 1 3 1 6 1 9 1 12 1 12 1 10 1 3 1 1 1-2 1-10 1-13 1-12 1-7 1-3 1 3 1 9 1 14 1 20 1 22 1 26 1 26 1 24 1 15 1 7 1 4 1 3 1 1 1 2 1 1 1 0 1-1 1-1 1-2 1-1 1-2 1-3 1-2 1-3 1-3"/>
<path d="M0 -370l1 6 1 6 1 5 1 5 1 4 1 4 1 2 1 2 1 1 1 1 1 0 1-1 1-1 1 0 1-1 1 1 1 5 1 6 1 5 1 4 1 1 1-1 1-3 1-4 1-5 1-7 1-7 1-8 1-9 1-10 1-10 1-11 1-11 1-12 1-12 1-10 1-9 1-7 1-5 1-5 1-3 1-2 1 2 1 4 1 5 1 5 1 7 1 8 1 8 1 7 1 5 1 4 1 3 1 2 1 2 1 2 1 2 1 2 1 1 1 2 1 1 1 4 1 5 1 9 1 11 1 12 1 10 1 2 1 1 1-2 1-10 1-13 1-12 1-8 1-2 1 2 1 9 1 14 1 20 1 23 1 26 1 25 1 24 1 15 1 6 1 4 1 3 1 1 1 2 1 0 1 0 1-1 1-1 1-2 1-2 1-2 1-3 1-3 1-3 1-3"/>
<path d="M0 -350l1 2 1 4 1 3 1 3 1 2 1 2 1 2 1 1 1 0 1 0 1 0 1-1 1-1 1 0 1 5 1 8 1 9 1 8 1 6 1 5 1 2 1 1 1-2 1-3 1-4 1-5 1-6 1-6 1-7 1-8 1-7 1-8 1-7 1-8 1-7 1-7 1-6 1-6 1-5 1-4 1-2 1-2 1 2 1 3 1 3 1 5 1 6 1 7 1 7 1 6 1 5 1 4 1 3 1 2 1 2 1 2 1 3 1 3 1 3 1 4 1 4 1 6 1 9 1 11 1 14 1 13 1 11 1 6 1 1 1-5 1-14 1-17 1-16 1-12 1-4 1 5 1 12 1 16 1 19 1 19 1 20 1 19 1 16 1 9 1 5 1 4 1 3 1 2 1 1 1 1 1 0 1 0 1 0 1-1 1-1 1-2 1-2 1-2 1-3 1-3"/>
<path d="M0 -352l1 2 1 3 1 3 1 2 1 2 1 2 1 1 1 1 1 0 1 0 1-1 1 0 1-1 1-1 1 0 1 0 1 0 1 1 1 0 1 1 1-1 1-2 1-4 1-5 1-6 1-7 1-8 1-10 1-11 1-11 1-13 1-14 1-16 1-17 1-17 1-13 1-8 1-4 1-4 1-2 1-2 1-1 1 4 1 8 1 9 1 9 1 8 1 8 1 7 1 6 1 5 1 2 1 0 1-1 1-1 1 1 1 1 1 2 1 2 1 3 1 3 1 3 1 6 1 7 1 10 1 9 1 9 1 4 1 2 1-1 1-6 1-9 1-9 1-5 1-2 1 4 1 9 1 15 1 19 1 23 1 30 1 31 1 25 1 13 1 4 1 2 1 2 1 0 1 1 1-1 1 0 1-2 1-2 1-2 1-3 1-4 1-4 1-4 1-5 1-4"/>
<path d="M0 -345l1 3 1 3 1 2 1 2 1 1 1 1 1 1 1 0 1 0 1-1 1-1 1-1 1-2 1-1 1 0 1 0 1 1 1 1 1 3 1 3 1 2 1-2 1-3 1-5 1-5 1-6 1-8 1-8 1-9 1-10 1-11 1-11 1-13 1-13 1-12 1-11 1-8 1-6 1-4 1-4 1-3 1-2 1 2 1 5 1 6 1 6 1 7 1 8 1 6 1 6 1 5 1 2 1 1 1-1 1 0 1 0 1 1 1 0 1 1 1 1 1 0 1 2 1 4 1 5 1 7 1 7 1 7 1 2 1 0 1-2 1-8 1-9 1-9 1-6 1-2 1 4 1 9 1 14 1 18 1 23 1 31 1 33 1 26 1 11 1 3 1 2 1 1 1 0 1 1 1-1 1 0 1-1 1-2 1-3 1-3 1-3 1-4 1-4 1-4 1-4"/>
<path d="M0 -109l1-3 1-4 1-4 1-5 1-4 1-4 1-5 1-4 1-5 1-6 1-5 1-6 1-6 1-7 1-6 1-6 1-7 1-7 1-7 1-8 1-8 1-7 1-8 1-8 1-8 1-8 1-8 1-8 1-9 1-8 1-8 1-7 1-8 1-8 1-8 1-6 1-5 1-5 1-3 1-3 1-2 1-1 1 1 1 3 1 4 1 4 1 5 1 6 1 7 1 6 1 6 1 5 1 3 1 2 1 3 1 3 1 4 1 4 1 5 1 5 1 6 1 6 1 9 1 12 1 12 1 11 1 8 1 5 1-2 1-9 1-17 1-20 1-19 1-14 1-6 1 4 1 13 1 17 1 18 1 18 1 19 1 18 1 14 1 7 1 5 1 3 1 3 1 2 1 2 1 1 1 0 1 0 1-1 1-1 1-2 1-2 1-3 1-3 1-3 1-3"/>
<path d="M0 -113l1-3 1-4 1-4 1-4 1-5 1-5 1-5 1-5 1-6 1-9 1-11 1-12 1-13 1-14 1-14 1-14 1-13 1-13 1-12 1-11 1-11 1-10 1-10 1-10 1-11 1-10 1-10 1-11 1-12 1-12 1-13 1-13 1-16 1-17 1-15 1-12 1-8 1-5 1-3 1-3 1-2 1-1 1 3 1 7 1 9 1 8 1 7 1 7 1 7 1 6 1 5 1 2 1 0 1-2 1-1 1 1 1 1 1 1 1 2 1 1 1 2 1 3 1 4 1 6 1 7 1 7 1 5 1 3 1 1 1-3 1-7 1-9 1-9 1-6 1-2 1 3 1 9 1 13 1 17 1 23 1 33 1 35 1 27 1 10 1 3 1 2 1 1 1 1 1 0 1 1 1 0 1 0 1-1 1-2 1-2 1-3 1-4 1-4 1-4 1-4"/>
<path d="M0 -108l1-3 1-4 1-4 1-4 1-4 1-5 1-4 1-5 1-5 1-5 1-6 1-7 1-7 1-8 1-9 1-10 1-17 1-17 1-16 1-15 1-13 1-13 1-12 1-12 1-12 1-11 1-11 1-12 1-12 1-12 1-13 1-13 1-15 1-16 1-14 1-11 1-9 1-5 1-3 1-3 1-2 1 0 1 3 1 6 1 8 1 7 1 8 1 8 1 8 1 6 1 5 1 4 1 1 1 1 1 1 1 1 1 2 1 1 1 2 1 1 1 2 1 3 1 6 1 8 1 10 1 10 1 9 1 3 1 1 1-2 1-9 1-11 1-10 1-7 1-2 1 4 1 9 1 14 1 20 1 24 1 28 1 28 1 25 1 14 1 7 1 4 1 3 1 2 1 1 1 1 1 0 1 0 1-2 1-1 1-2 1-3 1-2 1-4 1-4 1-3"/>
<path d="M0 -109l1-3 1-4 1-4 1-4 1-5 1-4 1-5 1-4 1-5 1-5 1-6 1-6 1-5 1-6 1-6 1-7 1-6 1-7 1-8 1-9 1-9 1-10 1-9 1-10 1-9 1-10 1-9 1-9 1-10 1-8 1-9 1-7 1-8 1-7 1-7 1-6 1-4 1-4 1-4 1-3 1-2 1-1 1 2 1 2 1 4 1 3 1 5 1 5 1 6 1 5 1 5 1 3 1 2 1 2 1 1 1 3 1 3 1 4 1 4 1 4 1 4 1 6 1 7 1 9 1 11 1 10 1 8 1 2 1-2 1-9 1-16 1-19 1-17 1-13 1-5 1 4 1 11 1 16 1 19 1 21 1 21 1 21 1 18 1 11 1 5 1 4 1 3 1 2 1 1 1 1 1 0 1-1 1-2 1-2 1-2 1-3 1-3 1-3 1-3 1-4"/>
<path d="M0 -110l1-3 1-4 1-4 1-4 1-5 1-4 1-5 1-5 1-5 1-6 1-6 1-7 1-7 1-8 1-8 1-16 1-15 1-14 1-14 1-12 1-12 1-12 1-10 1-11 1-11 1-10 1-11 1-11 1-11 1-11 1-12 1-13 1-14 1-14 1-13 1-12 1-10 1-7 1-5 1-4 1-4 1-1 1 2 1 5 1 6 1 7 1 7 1 8 1 8 1 6 1 5 1 4 1 2 1 1 1 1 1 2 1 2 1 3 1 2 1 3 1 3 1 4 1 7 1 10 1 12 1 13 1 11 1 5 1 2 1-1 1-9 1-12 1-12 1-7 1-2 1 3 1 9 1 15 1 20 1 23 1 25 1 24 1 24 1 15 1 6 1 5 1 2 1 1 1 1 1 0 1 0 1-2 1-1 1-2 1-3 1-2 1-3 1-4 1-3 1-3"/>
<path d="M0 -264l1-3 1-3 1-4 1-3 1-4 1-3 1-4 1-4 1-4 1-5 1-5 1-5 1-5 1-5 1-3 1-2 1-2 1-2 1-1 1-2 1-2 1-5 1-6 1-7 1-8 1-9 1-9 1-11 1-13 1-13 1-14 1-16 1-18 1-21 1-18 1-14 1-8 1-3 1-2 1-2 1 0 1 1 1 5 1 10 1 11 1 11 1 8 1 9 1 7 1 6 1 5 1 2 1 0 1-2 1-1 1 0 1 0 1 1 1 2 1 1 1 4 1 3 1 6 1 7 1 8 1 9 1 8 1 5 1 2 1-1 1-6 1-7 1-8 1-5 1-1 1 4 1 10 1 14 1 19 1 24 1 31 1 34 1 26 1 11 1 4 1 2 1 1 1 0 1 1 1-1 1 0 1-2 1-2 1-3 1-3 1-4 1-4 1-5 1-5 1-4"/>
<path d="M0 -147l1-3 1-3 1-3 1-4 1-5 1-6 1-6 1-7 1-7 1-9 1-10 1-12 1-14 1-14 1-14 1-14 1-13 1-13 1-11 1-11 1-9 1-8 1-7 1-7 1-8 1-8 1-11 1-13 1-13 1-15 1-15 1-16 1-17 1-19 1-18 1-15 1-11 1-6 1-5 1-2 1 0 1 3 1 7 1 9 1 10 1 11 1 11 1 12 1 9 1 7 1 4 1 3 1 0 1 0 1 0 1 1 1 1 1 2 1 1 1 6 1 11 1 13 1 15 1 18 1 23 1 23 1 25 1 18 1 12 1 6 1-5 1-10 1-12 1-8 1-2 1 5 1 13 1 17 1 19 1 19 1 20 1 19 1 15 1 9 1 5 1 3 1 3 1 2 1 1 1 0 1 0 1 0 1-1 1-1 1-1 1-2 1-2 1-3 1-2 1-3"/>
<path d="M0 -150l1-2 1-2 1-4 1-4 1-4 1-6 1-5 1-7 1-7 1-9 1-9 1-11 1-12 1-13 1-13 1-12 1-12 1-11 1-11 1-9 1-9 1-10 1-10 1-11 1-10 1-8 1-10 1-12 1-12 1-14 1-14 1-16 1-18 1-20 1-18 1-14 1-9 1-4 1-2 1-1 1 0 1 1 1 6 1 10 1 12 1 11 1 9 1 8 1 8 1 7 1 4 1 3 1 0 1-2 1 1 1 3 1 4 1 6 1 8 1 8 1 9 1 12 1 15 1 18 1 25 1 28 1 25 1 17 1 13 1 4 1-6 1-11 1-13 1-9 1-2 1 7 1 15 1 18 1 20 1 18 1 19 1 17 1 12 1 6 1 4 1 3 1 2 1 2 1 1 1 1 1 0 1 0 1-1 1-1 1-1 1-1 1-2 1-3 1-3 1-2"/>
<path d="M0 -130l1-3 1-4 1-5 1-5 1-6 1-7 1-7 1-7 1-9 1-9 1-11 1-12 1-14 1-14 1-13 1-14 1-12 1-12 1-11 1-10 1-10 1-9 1-11 1-10 1-8 1-8 1-10 1-12 1-13 1-13 1-15 1-15 1-18 1-20 1-18 1-15 1-8 1-4 1-3 1-2 1 0 1 2 1 5 1 10 1 11 1 10 1 10 1 9 1 8 1 6 1 5 1 2 1 0 1-1 1-1 1 1 1 0 1 5 1 8 1 9 1 11 1 12 1 15 1 19 1 23 1 29 1 26 1 19 1 14 1 5 1-5 1-11 1-12 1-9 1-2 1 6 1 14 1 18 1 19 1 17 1 18 1 17 1 13 1 6 1 4 1 3 1 2 1 1 1 1 1 1 1-1 1 0 1-1 1-1 1-2 1-1 1-3 1-2 1-3 1-2"/>
<path d="M0 -206l1-1 1-2 1-2 1-3 1-3 1-4 1-5 1-5 1-6 1-6 1-8 1-8 1-10 1-9 1-9 1-7 1-7 1-7 1-6 1-5 1-6 1-8 1-8 1-9 1-9 1-10 1-10 1-12 1-13 1-13 1-14 1-16 1-18 1-20 1-19 1-14 1-8 1-3 1-2 1-1 1 0 1 1 1 6 1 10 1 11 1 11 1 9 1 8 1 8 1 7 1 6 1 3 1 1 1 0 1 1 1 3 1 4 1 6 1 6 1 7 1 7 1 10 1 12 1 16 1 19 1 23 1 21 1 13 1 10 1 2 1-7 1-12 1-12 1-9 1-3 1 5 1 12 1 16 1 20 1 19 1 21 1 19 1 17 1 10 1 6 1 3 1 2 1 2 1 1 1 1 1 0 1-1 1-1 1-1 1-2 1-2 1-2 1-3 1-3 1-2"/>
<path d="M0 -179l1-1 1-2 1-2 1-3 1-4 1-5 1-6 1-6 1-7 1-8 1-9 1-11 1-13 1-13 1-13 1-12 1-11 1-11 1-10 1-8 1-6 1-5 1-6 1-7 1-7 1-9 1-11 1-12 1-14 1-14 1-15 1-16 1-17 1-18 1-18 1-15 1-10 1-6 1-4 1-2 1 0 1 3 1 6 1 9 1 11 1 10 1 11 1 11 1 9 1 6 1 4 1 2 1 1 1 0 1 0 1 0 1 1 1 1 1 2 1 2 1 2 1 2 1 4 1 9 1 14 1 14 1 13 1 10 1 6 1 3 1-4 1-7 1-8 1-4 1-1 1 5 1 10 1 15 1 20 1 23 1 28 1 28 1 25 1 13 1 6 1 3 1 2 1 0 1 1 1 0 1-1 1-2 1-2 1-2 1-3 1-3 1-3 1-4 1-3 1-4"/>
<path d="M0 -262l1-1 1-3 1-2 1-1 1-2 1-2 1-2 1-1 1-1 1-1 1 0 1 0 1 1 1 2 1 4 1 5 1 4 1 4 1 3 1 1 1-1 1-2 1-3 1-4 1-5 1-5 1-7 1-7 1-8 1-8 1-8 1-7 1-8 1-7 1-7 1-6 1-5 1-4 1-4 1-3 1-2 1 0 1 2 1 3 1 5 1 5 1 5 1 6 1 7 1 6 1 5 1 4 1 1 1 0 1 0 1 0 1-1 1-1 1-3 1-4 1-6 1-7 1-5 1-5 1-2 1-1 1 0 1-6 1-7 1-9 1-13 1-14 1-12 1-9 1-3 1 2 1 8 1 13 1 18 1 23 1 31 1 33 1 25 1 12 1 3 1 2 1 1 1 0 1 1 1 0 1-1 1-1 1-2 1-3 1-3 1-3 1-4 1-4 1-5 1-4"/>
<path d="M0 -120l1-4 1-4 1-5 1-4 1-5 1-5 1-5 1-6 1-5 1-6 1-5 1-6 1-6 1-6 1-6 1-5 1-6 1-6 1-5 1-6 1-6 1-6 1-6 1-7 1-6 1-7 1-7 1-8 1-8 1-8 1-8 1-8 1-8 1-8 1-8 1-7 1-6 1-4 1-3 1-3 1-2 1 0 1 1 1 4 1 4 1 5 1 5 1 6 1 7 1 7 1 5 1 4 1 2 1 1 1 1 1 1 1 3 1 2 1 3 1 3 1 3 1 3 1 6 1 8 1 10 1 10 1 7 1 4 1-2 1-7 1-15 1-18 1-17 1-12 1-5 1 5 1 12 1 16 1 19 1 18 1 20 1 18 1 16 1 9 1 4 1 3 1 3 1 1 1 1 1 0 1 0 1-1 1-1 1-2 1-2 1-2 1-2 1-3 1-4 1-3"/>
<path d="M0 -178l1-1 1-1 1-2 1-2 1-2 1-3 1-2 1-2 1-3 1-2 1-2 1-3 1-2 1-2 1 0 1-1 1-1 1-2 1-4 1-3 1-2 1-3 1-3 1-3 1-5 1-5 1-7 1-8 1-8 1-9 1-10 1-9 1-11 1-12 1-12 1-11 1-7 1-5 1-4 1-2 1-1 1 0 1 1 1 2 1 2 1 4 1 5 1 7 1 8 1 7 1 7 1 6 1 6 1 4 1 3 1 3 1 2 1 3 1 3 1 3 1 4 1 5 1 8 1 11 1 12 1 12 1 10 1 6 1 0 1-8 1-18 1-22 1-20 1-15 1-7 1 4 1 12 1 16 1 18 1 17 1 18 1 17 1 14 1 7 1 4 1 4 1 2 1 2 1 2 1 1 1 0 1 0 1 0 1 0 1-1 1-2 1-1 1-3 1-2 1-3"/>
<path d="M0 -131l1-2 1-3 1-4 1-4 1-4 1-4 1-4 1-4 1-4 1-5 1-4 1-4 1-3 1-5 1-5 1-5 1-4 1-4 1-3 1-2 1-3 1-2 1-2 1-2 1-4 1-5 1-6 1-8 1-8 1-9 1-9 1-10 1-12 1-14 1-15 1-13 1-10 1-5 1-4 1-2 1 0 1 0 1 0 1 1 1 1 1 3 1 5 1 7 1 9 1 8 1 7 1 7 1 6 1 5 1 3 1 2 1 2 1 1 1 2 1 3 1 3 1 5 1 7 1 11 1 0 1 1 1-1 1-5 1-8 1-12 1-18 1-20 1-18 1-11 1-5 1 3 1 10 1 15 1 20 1 21 1 22 1 22 1 20 1 13 1 6 1 4 1 3 1 2 1 1 1 1 1 0 1-1 1-1 1-1 1-2 1-2 1-3 1-3 1-4 1-3"/>
<path d="M0 -211l1-1 1-2 1-2 1-2 1-3 1-3 1-2 1-2 1-2 1-2 1-1 1-2 1-1 1 0 1 1 1 2 1 2 1 1 1 1 1-1 1-2 1-2 1-3 1-3 1-3 1-5 1-6 1-7 1-8 1-8 1-8 1-9 1-10 1-12 1-11 1-10 1-7 1-5 1-4 1-2 1-2 1 0 1 1 1 3 1 3 1 4 1 5 1 7 1 7 1 7 1 6 1 5 1 4 1 3 1 2 1 2 1 2 1 3 1 3 1 4 1-1 1-3 1-1 1 0 1 1 1 2 1 0 1-5 1-8 1-10 1-16 1-18 1-16 1-10 1-5 1 1 1 8 1 14 1 19 1 22 1 24 1 25 1 23 1 15 1 6 1 4 1 2 1 2 1 1 1 0 1 0 1-2 1-1 1-2 1-2 1-2 1-3 1-3 1-3 1-3"/>
<path d="M0 -154l1-1 1-3 1-2 1-3 1-3 1-4 1-4 1-3 1-4 1-4 1-4 1-5 1-4 1-4 1-4 1-4 1-4 1-4 1-4 1-5 1-5 1-6 1-6 1-6 1-6 1-7 1-8 1-8 1-8 1-9 1-8 1-8 1-9 1-8 1-7 1-7 1-5 1-4 1-4 1-3 1-2 1 0 1 2 1 3 1 5 1 5 1 5 1 6 1 7 1 7 1 5 1 4 1 2 1 1 1 0 1 0 1 1 1 0 1-1 1-2 1-3 1-3 1-3 1 0 1 1 1 1 1 0 1-5 1-8 1-8 1-14 1-15 1-14 1-8 1-4 1 2 1 9 1 13 1 20 1 22 1 27 1 27 1 25 1 13 1 6 1 3 1 2 1 1 1 1 1 0 1-1 1-1 1-2 1-2 1-3 1-3 1-4 1-4 1-4 1-3"/>
<path d="M0 -247l1-2 1-2 1-2 1-2 1-2 1-2 1-1 1-1 1-1 1 0 1 0 1 1 1 1 1 2 1 4 1 5 1 4 1 4 1 2 1 1 1 0 1-2 1-2 1-2 1-4 1-4 1-6 1-6 1-8 1-8 1-8 1-9 1-9 1-11 1-11 1-10 1-7 1-4 1-4 1-3 1-1 1 0 1 1 1 2 1 4 1 4 1 5 1 7 1 7 1 7 1 6 1 5 1 3 1 2 1 1 1 1 1 1 1-3 1-5 1-7 1-10 1-11 1-11 1-10 1-6 1-2 1-5 1-9 1-9 1-11 1-13 1-13 1-11 1-8 1-3 1 2 1 9 1 14 1 17 1 23 1 35 1 37 1 27 1 10 1 2 1 1 1 1 1 1 1 0 1 0 1-1 1-1 1-2 1-3 1-3 1-4 1-5 1-5 1-6 1-4"/>
<path d="M0 -221l1-1 1-2 1-1 1-2 1-3 1-2 1-2 1-2 1-2 1-1 1-1 1-2 1 0 1 0 1 2 1 3 1 3 1 2 1 1 1 0 1-1 1-2 1-3 1-2 1-3 1-4 1-6 1-6 1-8 1-8 1-8 1-8 1-10 1-12 1-12 1-11 1-8 1-5 1-3 1-2 1-1 1 0 1 0 1 2 1 2 1 4 1 5 1 7 1 8 1 7 1 7 1 6 1 4 1 3 1 2 1 1 1 1 1 2 1 2 1-6 1-9 1-11 1-11 1-11 1-8 1-5 1-5 1-9 1-9 1-11 1-14 1-14 1-12 1-8 1-3 1 3 1 8 1 14 1 18 1 24 1 33 1 35 1 26 1 11 1 4 1 2 1 1 1 1 1 0 1 0 1 0 1-1 1-3 1-2 1-4 1-4 1-4 1-5 1-6 1-5"/>
<path d="M0 -157l1-2 1-3 1-3 1-4 1-5 1-5 1-5 1-5 1-6 1-7 1-6 1-8 1-8 1-8 1-7 1-6 1-6 1-6 1-6 1-6 1-6 1-6 1-7 1-7 1-7 1-8 1-8 1-8 1-8 1-8 1-9 1-8 1-9 1-8 1-8 1-9 1-8 1-8 1-7 1-6 1-5 1-3 1-1 1 1 1 1 1 3 1 5 1 6 1 7 1 5 1 4 1 3 1 1 1 2 1 0 1-1 1-1 1-2 1-4 1-4 1-5 1-4 1-3 1-3 1-1 1-2 1-4 1-1 1 0 1-3 1-6 1-8 1-8 1-6 1-2 1 4 1 9 1 15 1 17 1 24 1 35 1 38 1 28 1 10 1 2 1 2 1 1 1 0 1 1 1 0 1 0 1-1 1-2 1-2 1-3 1-4 1-5 1-4 1-6 1-4"/>
<path d="M0 -187l1-1 1-2 1-2 1-3 1-3 1-3 1-3 1-4 1-3 1-4 1-3 1-5 1-5 1-4 1-3 1-3 1-2 1-3 1-3 1-4 1-5 1-5 1-6 1-6 1-6 1-7 1-8 1-8 1-8 1-9 1-8 1-8 1-8 1-8 1-8 1-7 1-7 1-6 1-5 1-5 1-3 1-2 1 0 1 3 1 3 1 3 1 5 1 6 1 6 1 5 1 4 1 3 1 0 1 0 1-2 1-2 1-3 1-5 1-7 1-9 1-9 1-8 1-6 1-5 1-5 1-6 1-7 1 1 1 0 1-4 1-6 1-8 1-8 1-6 1-2 1 3 1 10 1 15 1 17 1 24 1 35 1 39 1 27 1 10 1 3 1 1 1 1 1 1 1 0 1 0 1 0 1-1 1-2 1-2 1-4 1-3 1-5 1-5 1-5 1-5"/>
<path d="M0 -255l1-3 1-3 1-3 1-3 1-4 1-4 1-4 1-4 1-4 1-5 1-5 1-5 1-5 1-4 1-3 1-2 1-1 1-1 1-1 1-1 1-2 1-5 1-5 1-7 1-7 1-8 1-8 1-10 1-11 1-11 1-12 1-12 1-15 1-16 1-14 1-11 1-7 1-5 1-3 1-3 1-2 1 0 1 3 1 6 1 8 1 8 1 7 1 7 1 7 1 6 1 4 1 2 1 0 1-3 1-2 1-2 1-2 1-3 1-3 1-3 1-1 1 2 1 3 1 4 1 5 1 4 1 4 1 3 1 0 1-4 1-7 1-9 1-8 1-7 1-2 1 4 1 10 1 15 1 18 1 24 1 36 1 38 1 28 1 10 1 3 1 1 1 2 1 0 1 1 1 0 1 0 1-1 1-2 1-2 1-3 1-4 1-5 1-5 1-5 1-4"/>
<path d="M0 -210l1-1 1-1 1-2 1-2 1-3 1-4 1-5 1-4 1-5 1-6 1-6 1-7 1-8 1-7 1-7 1-5 1-4 1-5 1-4 1-4 1-5 1-6 1-7 1-7 1-8 1-8 1-8 1-9 1-10 1-10 1-11 1-11 1-12 1-13 1-12 1-10 1-8 1-6 1-5 1-5 1-3 1-2 1 1 1 4 1 6 1 6 1 6 1 7 1 7 1 6 1 4 1 3 1 0 1-1 1 0 1 0 1 0 1-1 1 0 1-1 1-1 1 0 1 1 1 3 1 4 1 3 1 3 1 0 1-2 1-5 1-8 1-8 1-9 1-6 1-2 1 4 1 9 1 14 1 17 1 24 1 35 1 38 1 27 1 10 1 2 1 1 1 1 1 1 1 0 1 0 1 0 1-1 1-2 1-2 1-3 1-4 1-5 1-4 1-6 1-4"/>
<path d="M0 -249l1-2 1-2 1-3 1-2 1-3 1-3 1-3 1-3 1-3 1-4 1-4 1-4 1-4 1-3 1-3 1-1 1-1 1-1 1-1 1-2 1-3 1-5 1-5 1-7 1-7 1-7 1-9 1-9 1-9 1-11 1-10 1-12 1-12 1-13 1-12 1-11 1-9 1-7 1-6 1-4 1-4 1-2 1 2 1 4 1 6 1 6 1 7 1 8 1 7 1 7 1 5 1 4 1 3 1 2 1 2 1 4 1 5 1 5 1 6 1 6 1 10 1 14 1 19 1 22 1 26 1 25 1 22 1 17 1 10 1 0 1-13 1-19 1-18 1-13 1-5 1 5 1 13 1 18 1 18 1 16 1 17 1 16 1 11 1 6 1 4 1 3 1 2 1 2 1 1 1 1 1 0 1 0 1-1 1-1 1-1 1-1 1-2 1-3 1-3 1-2"/>
<path d="M0 -199l1-2 1-2 1-3 1-3 1-4 1-4 1-5 1-4 1-5 1-6 1-6 1-7 1-8 1-7 1-7 1-5 1-4 1-5 1-4 1-5 1-5 1-6 1-7 1-7 1-8 1-8 1-8 1-9 1-10 1-10 1-10 1-11 1-12 1-12 1-11 1-10 1-8 1-6 1-5 1-4 1-3 1-2 1 2 1 4 1 5 1 5 1 7 1 8 1 7 1 7 1 5 1 4 1 2 1 2 1 2 1 4 1 3 1 4 1 5 1 5 1 8 1 11 1 16 1 20 1 22 1 23 1 20 1 13 1 9 1 0 1-10 1-14 1-15 1-11 1-3 1 7 1 14 1 19 1 18 1 17 1 17 1 16 1 12 1 6 1 4 1 3 1 3 1 1 1 2 1 0 1 0 1 0 1 0 1-1 1-1 1-2 1-2 1-3 1-2 1-3"/>
<path d="M0 -267l1-2 1-3 1-2 1-3 1-4 1-3 1-3 1-4 1-4 1-5 1-4 1-6 1-5 1-4 1-4 1-2 1-2 1-1 1-2 1-2 1-2 1-5 1-7 1-7 1-8 1-9 1-10 1-11 1-12 1-14 1-14 1-15 1-19 1-20 1-19 1-14 1-7 1-4 1-2 1-1 1-1 1 2 1 5 1 10 1 12 1 11 1 9 1 8 1 7 1 7 1 6 1 4 1 1 1 0 1 2 1 4 1 6 1 7 1 8 1 9 1 10 1 13 1 16 1 26 1 30 1 29 1 26 1 20 1 13 1 3 1-7 1-17 1-18 1-14 1-5 1 5 1 14 1 17 1 18 1 16 1 17 1 16 1 11 1 7 1 3 1 3 1 2 1 2 1 1 1 1 1 0 1 0 1-1 1-1 1-1 1-1 1-2 1-3 1-3 1-2"/>
<path d="M0 -147l1-2 1-3 1-3 1-3 1-4 1-5 1-4 1-5 1-5 1-5 1-7 1-6 1-8 1-7 1-7 1-7 1-6 1-7 1-7 1-6 1-7 1-7 1-7 1-8 1-8 1-8 1-8 1-9 1-9 1-8 1-9 1-9 1-9 1-8 1-8 1-9 1-8 1-7 1-7 1-5 1-4 1-3 1 0 1 2 1 2 1 4 1 6 1 7 1 7 1 7 1 6 1 4 1 4 1 4 1 4 1 5 1 5 1 7 1 8 1 10 1 12 1 15 1 19 1 22 1 19 1 13 1 11 1 7 1 1 1-7 1-14 1-18 1-18 1-12 1-5 1 5 1 14 1 17 1 18 1 16 1 15 1 15 1 11 1 6 1 3 1 3 1 2 1 2 1 1 1 1 1 0 1 0 1-1 1-1 1-1 1-1 1-2 1-3 1-3 1-3"/>
<path d="M0 -209l1-2 1-2 1-3 1-2 1-4 1-3 1-4 1-3 1-4 1-5 1-4 1-6 1-7 1-6 1-6 1-4 1-5 1-4 1-5 1-5 1-5 1-7 1-7 1-8 1-9 1-8 1-10 1-10 1-11 1-11 1-12 1-12 1-14 1-14 1-13 1-11 1-7 1-6 1-3 1-3 1-2 1 0 1 3 1 5 1 7 1 6 1 8 1 8 1 8 1 7 1 5 1 4 1 3 1 3 1 3 1 4 1 5 1 7 1 7 1 11 1 14 1 19 1 24 1 29 1 31 1 27 1 12 1 7 1 2 1-7 1-14 1-17 1-17 1-12 1-4 1 5 1 14 1 17 1 18 1 16 1 15 1 14 1 10 1 6 1 3 1 3 1 2 1 2 1 1 1 1 1 0 1-1 1 0 1-1 1-1 1-2 1-2 1-2 1-3 1-2"/>
<path d="M0 -168l1-2 1-3 1-4 1-3 1-4 1-4 1-4 1-5 1-5 1-5 1-6 1-6 1-8 1-7 1-7 1-6 1-6 1-6 1-6 1-7 1-6 1-7 1-8 1-8 1-8 1-9 1-8 1-9 1-10 1-10 1-10 1-10 1-11 1-10 1-11 1-10 1-9 1-8 1-6 1-5 1-4 1-2 1 1 1 3 1 4 1 4 1 7 1 9 1 8 1 7 1 6 1 5 1 5 1 4 1 5 1 5 1 5 1 6 1 8 1 8 1 11 1 14 1 18 1 22 1 24 1 24 1 20 1 7 1 1 1-7 1-15 1-18 1-18 1-13 1-5 1 5 1 14 1 17 1 18 1 16 1 17 1 15 1 11 1 6 1 4 1 3 1 2 1 2 1 1 1 1 1 0 1 0 1-1 1-1 1-1 1-2 1-2 1-2 1-3 1-3"/>
<path d="M0 -130l1-1 1-3 1-4 1-4 1-5 1-5 1-6 1-6 1-6 1-8 1-7 1-9 1-8 1-9 1-8 1-7 1-8 1-6 1-7 1-7 1-6 1-7 1-7 1-7 1-7 1-8 1-8 1-8 1-9 1-9 1-9 1-9 1-9 1-9 1-8 1-9 1-8 1-7 1-7 1-5 1-4 1-2 1 1 1 2 1 4 1 5 1 7 1 8 1 9 1 7 1 6 1 4 1 3 1 2 1 2 1 1 1 2 1 2 1 1 1 1 1 2 1 3 1 7 1 9 1 12 1 12 1 11 1 6 1 1 1-2 1-11 1-14 1-14 1-9 1-3 1 4 1 12 1 16 1 19 1 19 1 20 1 20 1 18 1 10 1 5 1 4 1 2 1 1 1 2 1 0 1 0 1 0 1-1 1-1 1-1 1-1 1-2 1-2 1-3 1-3"/>
<path d="M0 -218l1-1 1-2 1-2 1-2 1-3 1-4 1-3 1-4 1-4 1-4 1-5 1-5 1-6 1-5 1-4 1-3 1-2 1-3 1-3 1-3 1-5 1-5 1-6 1-6 1-8 1-7 1-9 1-8 1-9 1-9 1-10 1-9 1-11 1-10 1-9 1-9 1-9 1-7 1-7 1-4 1-4 1-3 1 1 1 3 1 3 1 4 1 7 1 8 1 8 1 6 1 6 1 4 1 3 1 3 1 2 1 3 1 2 1 2 1 2 1 2 1 2 1 5 1 7 1 10 1 13 1 13 1 11 1 4 1 1 1-2 1-11 1-14 1-14 1-8 1-3 1 3 1 9 1 15 1 20 1 21 1 24 1 23 1 22 1 13 1 7 1 4 1 3 1 1 1 2 1 0 1 0 1-1 1-2 1-1 1-2 1-3 1-2 1-3 1-3 1-3"/>
<path d="M0 -258l1-1 1-3 1-2 1-3 1-3 1-4 1-3 1-4 1-4 1-5 1-5 1-6 1-5 1-5 1-3 1-3 1-2 1-2 1-2 1-1 1-4 1-4 1-7 1-7 1-8 1-8 1-9 1-11 1-11 1-13 1-12 1-15 1-16 1-18 1-16 1-12 1-7 1-3 1-2 1-2 1 0 1 0 1 5 1 8 1 9 1 9 1 8 1 8 1 8 1 6 1 4 1 3 1 0 1-2 1-1 1 0 1 1 1 0 1 1 1 1 1 1 1 2 1 4 1 5 1 7 1 6 1 6 1 3 1 1 1-3 1-6 1-8 1-8 1-5 1-1 1 4 1 10 1 15 1 19 1 24 1 33 1 34 1 26 1 12 1 5 1 2 1 1 1 2 1 0 1 0 1 0 1-1 1-2 1-3 1-3 1-4 1-4 1-5 1-5 1-5"/>
<path d="M0 -199l1 0 1-2 1-1 1-3 1-3 1-3 1-4 1-4 1-4 1-5 1-5 1-6 1-6 1-5 1-5 1-3 1-4 1-3 1-3 1-4 1-5 1-5 1-6 1-7 1-7 1-7 1-7 1-8 1-8 1-8 1-9 1-8 1-8 1-8 1-8 1-7 1-8 1-6 1-6 1-5 1-3 1-3 1 1 1 2 1 3 1 3 1 6 1 7 1 7 1 5 1 5 1 3 1 2 1 2 1 1 1 1 1 2 1 1 1 0 1 1 1 2 1 2 1 6 1 9 1 11 1 12 1 10 1 3 1 1 1-2 1-11 1-14 1-13 1-7 1-3 1 4 1 11 1 16 1 20 1 22 1 23 1 23 1 20 1 13 1 6 1 4 1 2 1 2 1 1 1 0 1-1 1-1 1-2 1-2 1-2 1-3 1-3 1-3 1-4 1-3"/>
<path d="M0 -265l1-1 1-3 1-2 1-3 1-4 1-3 1-4 1-3 1-4 1-5 1-4 1-5 1-4 1-3 1-2 1-1 1 0 1 0 1 0 1 0 1-2 1-3 1-5 1-6 1-7 1-7 1-8 1-8 1-10 1-10 1-10 1-12 1-12 1-14 1-12 1-11 1-8 1-6 1-6 1-4 1-3 1-2 1 1 1 5 1 6 1 7 1 7 1 7 1 7 1 6 1 4 1 3 1 1 1 0 1 0 1 1 1 2 1 1 1 2 1 1 1 2 1 2 1 5 1 6 1 9 1 8 1 7 1 2 1 0 1-3 1-8 1-11 1-10 1-7 1-2 1 2 1 9 1 14 1 18 1 23 1 30 1 32 1 26 1 12 1 4 1 2 1 2 1 1 1 1 1 1 1 1 1-1 1-1 1-1 1-3 1-2 1-3 1-4 1-4 1-3"/>
<path d="M0 -239l1-2 1-1 1-2 1-2 1-2 1-3 1-2 1-2 1-2 1-3 1-3 1-3 1-3 1-3 1-1 1-1 1 0 1 0 1-2 1-2 1-4 1-4 1-6 1-6 1-7 1-7 1-8 1-8 1-8 1-8 1-9 1-9 1-8 1-8 1-8 1-8 1-8 1-7 1-6 1-5 1-3 1-2 1 1 1 2 1 4 1 4 1 6 1 8 1 7 1 6 1 5 1 4 1 3 1 2 1 2 1 2 1 3 1 2 1 3 1 3 1 4 1 7 1 9 1 13 1 16 1 16 1 13 1 9 1 3 1-2 1-11 1-14 1-14 1-10 1-3 1 5 1 13 1 17 1 20 1 19 1 19 1 19 1 15 1 9 1 4 1 3 1 3 1 1 1 1 1 0 1 0 1-1 1-2 1-1 1-2 1-2 1-3 1-2 1-4 1-2"/>
<path d="M0 -120l1-4 1-5 1-5 1-5 1-6 1-5 1-5 1-5 1-5 1-5 1-6 1-5 1-6 1-6 1-5 1-6 1-5 1-7 1-6 1-7 1-7 1-7 1-7 1-7 1-8 1-9 1-8 1-9 1-9 1-9 1-8 1-8 1-8 1-7 1-7 1-6 1-4 1-4 1-3 1-2 1-2 1 1 1 2 1 3 1 5 1 4 1 5 1 5 1 6 1 5 1 5 1 3 1 1 1 2 1 1 1 3 1 3 1 5 1 5 1 6 1 8 1 8 1 11 1 14 1 15 1 14 1 10 1 7 1 0 1-8 1-15 1-20 1-19 1-15 1-6 1 4 1 12 1 16 1 18 1 17 1 18 1 17 1 13 1 7 1 4 1 4 1 2 1 2 1 1 1 1 1 0 1 0 1-1 1-1 1-1 1-1 1-3 1-2 1-4 1-3"/>
<path d="M0 -246l1-2 1-3 1-3 1-4 1-4 1-4 1-4 1-4 1-5 1-4 1-5 1-5 1-5 1-4 1-3 1-1 1-1 1-1 1 0 1-2 1-2 1-4 1-5 1-6 1-7 1-7 1-8 1-9 1-9 1-11 1-10 1-12 1-13 1-14 1-13 1-11 1-10 1-7 1-5 1-5 1-4 1-1 1 1 1 5 1 7 1 7 1 7 1 8 1 7 1 7 1 5 1 4 1 1 1 1 1 2 1 2 1 2 1 3 1 2 1 2 1 3 1 4 1 6 1 8 1 11 1 11 1 9 1 3 1 1 1-2 1-10 1-12 1-11 1-7 1-3 1 3 1 9 1 14 1 20 1 23 1 28 1 28 1 25 1 14 1 6 1 5 1 3 1 2 1 2 1 1 1 0 1 0 1-2 1-1 1-2 1-3 1-3 1-3 1-5 1-3"/>
<path d="M0 -238l1-1 1-2 1-2 1-2 1-2 1-3 1-3 1-3 1-3 1-3 1-3 1-3 1-4 1-3 1-2 1 0 1-1 1 0 1-2 1-2 1-3 1-4 1-5 1-6 1-7 1-7 1-8 1-8 1-8 1-9 1-9 1-9 1-9 1-8 1-9 1-9 1-9 1-8 1-8 1-5 1-5 1-3 1-1 1 2 1 2 1 3 1 6 1 8 1 8 1 6 1 6 1 4 1 4 1 3 1 3 1 3 1 3 1 4 1 3 1 4 1 5 1 8 1 10 1 14 1 16 1 16 1 14 1 8 1 3 1-2 1-11 1-15 1-15 1-10 1-3 1 4 1 12 1 17 1 19 1 19 1 20 1 20 1 16 1 10 1 5 1 3 1 3 1 1 1 1 1 1 1-1 1 0 1-2 1-1 1-2 1-2 1-3 1-3 1-3 1-3"/>
<path d="M0 -221l1-1 1-2 1-2 1-2 1-3 1-4 1-3 1-4 1-4 1-5 1-5 1-6 1-6 1-6 1-5 1-4 1-4 1-4 1-3 1-4 1-5 1-6 1-6 1-8 1-7 1-9 1-8 1-10 1-10 1-11 1-11 1-12 1-14 1-14 1-13 1-11 1-9 1-7 1-5 1-4 1-3 1-2 1 2 1 5 1 7 1 6 1 7 1 8 1 7 1 6 1 4 1 3 1 1 1 0 1 0 1 0 1 1 1 1 1 0 1 1 1 1 1 2 1 4 1 5 1 8 1 7 1 7 1 2 1 0 1-2 1-8 1-9 1-9 1-6 1-1 1 3 1 10 1 15 1 19 1 24 1 30 1 32 1 26 1 12 1 5 1 3 1 2 1 1 1 1 1 0 1 0 1-1 1-2 1-3 1-3 1-3 1-4 1-4 1-5 1-4"/>
<path d="M0 -270l1-2 1-4 1-3 1-3 1-3 1-2 1-3 1-2 1-3 1-3 1-3 1-3 1-3 1-2 1-2 1 0 1 0 1 0 1-1 1-1 1-3 1-4 1-6 1-7 1-8 1-8 1-9 1-10 1-11 1-11 1-12 1-13 1-14 1-15 1-13 1-11 1-6 1-5 1-3 1-2 1-2 1 0 1 3 1 6 1 7 1 7 1 7 1 7 1 7 1 5 1 4 1 3 1-1 1-1 1-1 1-1 1 0 1-1 1 0 1 0 1 0 1 0 1 2 1 4 1 4 1 5 1 3 1 2 1-1 1-4 1-7 1-8 1-8 1-6 1-3 1 3 1 9 1 13 1 17 1 23 1 35 1 38 1 27 1 10 1 2 1 1 1 0 1 1 1 0 1 1 1-1 1-1 1-1 1-2 1-3 1-3 1-4 1-4 1-5 1-4"/>
<path d="M0 -138l1-3 1-3 1-3 1-3 1-4 1-3 1-4 1-3 1-4 1-5 1-4 1-5 1-6 1-5 1-6 1-5 1-6 1-6 1-7 1-6 1-7 1-7 1-7 1-7 1-7 1-8 1-8 1-8 1-8 1-8 1-7 1-8 1-7 1-6 1-7 1-5 1-5 1-4 1-3 1-3 1-2 1 0 1 2 1 3 1 5 1 4 1 5 1 5 1 5 1 6 1 5 1 3 1 3 1 1 1 2 1 3 1 4 1 4 1 6 1 5 1 7 1 7 1 10 1 12 1 13 1 13 1 10 1 5 1 0 1-9 1-17 1-21 1-19 1-15 1-6 1 3 1 12 1 16 1 18 1 18 1 18 1 18 1 13 1 8 1 5 1 3 1 3 1 2 1 2 1 1 1 1 1-1 1 0 1-1 1-2 1-1 1-3 1-3 1-4 1-3"/>
<path d="M0 -147l1-1 1-3 1-3 1-3 1-4 1-5 1-5 1-5 1-5 1-6 1-7 1-7 1-8 1-7 1-8 1-6 1-7 1-6 1-7 1-7 1-6 1-7 1-7 1-8 1-7 1-8 1-8 1-8 1-8 1-9 1-8 1-8 1-8 1-8 1-7 1-8 1-6 1-7 1-5 1-4 1-3 1-2 1 1 1 2 1 3 1 4 1 6 1 6 1 7 1 6 1 5 1 4 1 2 1 2 1 2 1 3 1 3 1 4 1 5 1 5 1 7 1 9 1 12 1 16 1 17 1 18 1 15 1 11 1 5 1-4 1-11 1-17 1-16 1-12 1-5 1 5 1 13 1 18 1 17 1 17 1 17 1 16 1 12 1 6 1 4 1 3 1 2 1 2 1 1 1 0 1 0 1-1 1-1 1-1 1-1 1-2 1-2 1-3 1-3 1-2"/>
<path d="M0 -231l1-2 1-2 1-3 1-4 1-4 1-5 1-5 1-5 1-6 1-5 1-6 1-6 1-7 1-5 1-4 1-4 1-2 1-2 1-3 1-2 1-4 1-5 1-6 1-8 1-8 1-8 1-10 1-11 1-11 1-13 1-14 1-15 1-17 1-18 1-17 1-13 1-8 1-4 1-3 1-1 1-1 1 1 1 5 1 9 1 10 1 9 1 8 1 8 1 8 1 6 1 5 1 2 1 1 1-2 1 0 1 0 1 1 1 2 1 2 1 2 1 3 1 4 1 7 1 9 1 12 1 12 1 11 1 6 1 4 1 0 1-7 1-10 1-10 1-6 1-2 1 3 1 9 1 13 1 20 1 22 1 27 1 28 1 24 1 13 1 6 1 3 1 3 1 1 1 2 1 1 1 1 1 0 1-1 1-2 1-1 1-2 1-3 1-4 1-4 1-3"/>
<path d="M0 -241l1-3 1-3 1-4 1-4 1-4 1-5 1-5 1-4 1-5 1-6 1-5 1-6 1-6 1-5 1-5 1-3 1-3 1-2 1-2 1-3 1-4 1-5 1-7 1-8 1-8 1-9 1-10 1-12 1-13 1-14 1-15 1-17 1-19 1-20 1-18 1-14 1-8 1-3 1-2 1-1 1 0 1 2 1 6 1 11 1 12 1 11 1 9 1 8 1 8 1 6 1 5 1 2 1-1 1-2 1-2 1-1 1 0 1 1 1 1 1 2 1 2 1 2 1 5 1 5 1 8 1 7 1 7 1 5 1 2 1-1 1-5 1-7 1-7 1-5 1-1 1 3 1 10 1 14 1 18 1 23 1 32 1 34 1 26 1 10 1 3 1 1 1 1 1 0 1 0 1 1 1 0 1-1 1-1 1-2 1-2 1-3 1-3 1-4 1-4 1-3"/>
<path d="M0 -244l1-1 1-3 1-3 1-3 1-4 1-4 1-4 1-3 1-4 1-4 1-4 1-3 1-3 1-2 1 0 1 1 1 2 1 2 1 0 1 0 1-2 1-3 1-4 1-5 1-6 1-7 1-8 1-8 1-8 1-9 1-10 1-9 1-9 1-9 1-9 1-8 1-9 1-8 1-6 1-5 1-4 1-2 1 1 1 3 1 4 1 4 1 7 1 8 1 7 1 6 1 5 1 3 1 2 1 1 1 1 1 1 1 1 1 1 1 0 1 1 1 1 1 3 1 7 1 10 1 13 1 13 1 11 1 5 1 2 1-2 1-11 1-13 1-14 1-9 1-4 1 3 1 9 1 14 1 19 1 21 1 23 1 22 1 22 1 14 1 7 1 4 1 3 1 2 1 2 1 1 1 1 1 0 1-1 1-2 1-1 1-2 1-3 1-3 1-4 1-3"/>
<path d="M0 -128l1-3 1-4 1-5 1-4 1-6 1-5 1-6 1-6 1-6 1-7 1-8 1-8 1-9 1-9 1-9 1-8 1-8 1-7 1-8 1-8 1-7 1-8 1-7 1-8 1-8 1-8 1-9 1-8 1-8 1-9 1-9 1-8 1-9 1-8 1-8 1-8 1-8 1-7 1-6 1-5 1-4 1-2 1 0 1 2 1 3 1 4 1 6 1 7 1 8 1 6 1 5 1 4 1 3 1 2 1 2 1 3 1 2 1 3 1 3 1 3 1 4 1 6 1 9 1 12 1 14 1 14 1 13 1 6 1 2 1-3 1-12 1-15 1-15 1-10 1-3 1 4 1 12 1 16 1 20 1 20 1 21 1 21 1 17 1 11 1 5 1 4 1 3 1 2 1 2 1 0 1 1 1-1 1 0 1-1 1-2 1-1 1-3 1-2 1-3 1-3"/>
<path d="M0 -207l1 0 1-2 1-1 1-2 1-3 1-4 1-4 1-4 1-4 1-6 1-6 1-8 1-8 1-8 1-8 1-6 1-6 1-6 1-6 1-6 1-6 1-7 1-8 1-8 1-9 1-10 1-10 1-11 1-12 1-12 1-14 1-14 1-17 1-18 1-17 1-13 1-8 1-4 1-3 1-2 1-1 1 0 1 5 1 8 1 10 1 9 1 8 1 8 1 8 1 7 1 5 1 3 1 0 1 0 1-1 1 1 1 1 1 1 1 1 1 0 1 1 1 1 1 3 1 5 1 6 1 5 1 4 1 2 1-1 1-4 1-7 1-9 1-8 1-6 1-3 1 4 1 9 1 13 1 18 1 23 1 34 1 37 1 26 1 11 1 3 1 1 1 1 1 1 1 1 1 1 1 0 1-1 1-1 1-2 1-3 1-3 1-4 1-4 1-4 1-4"/>
<path d="M0 -280l1-3 1-3 1-4 1-3 1-3 1-3 1-4 1-3 1-3 1-3 1-4 1-3 1-3 1-2 1 0 1 0 1 1 1 1 1 1 1 1 1-2 1-3 1-5 1-6 1-6 1-8 1-8 1-9 1-10 1-11 1-12 1-12 1-14 1-15 1-14 1-11 1-9 1-5 1-4 1-4 1-2 1-1 1 2 1 6 1 7 1 8 1 7 1 7 1 7 1 6 1 5 1 2 1 0 1-1 1-1 1-1 1 0 1 0 1-1 1 0 1-1 1 0 1 2 1 3 1 4 1 3 1 3 1 1 1-1 1-4 1-7 1-7 1-7 1-5 1-2 1 4 1 10 1 14 1 18 1 24 1 35 1 38 1 27 1 11 1 2 1 1 1 1 1 1 1 1 1 0 1 0 1-1 1-2 1-2 1-4 1-4 1-4 1-5 1-6 1-4"/>
<path d="M0 -272l1-2 1-2 1-3 1-3 1-4 1-3 1-4 1-5 1-4 1-6 1-6 1-5 1-6 1-4 1-4 1-1 1-1 1-1 1 0 1-1 1-1 1-4 1-6 1-6 1-7 1-8 1-9 1-10 1-12 1-13 1-14 1-15 1-19 1-20 1-20 1-15 1-9 1-3 1-2 1-2 1 0 1 1 1 5 1 10 1 12 1 10 1 9 1 9 1 7 1 7 1 5 1 3 1 0 1-2 1-1 1 1 1 0 1 1 1 1 1 0 1 1 1 2 1 2 1 4 1 5 1 5 1 5 1 2 1 1 1-3 1-6 1-7 1-7 1-5 1-1 1 4 1 10 1 15 1 18 1 25 1 35 1 37 1 27 1 10 1 3 1 0 1 0 1 0 1 0 1 0 1-1 1-1 1-1 1-3 1-3 1-4 1-5 1-4 1-6 1-4"/>
<path d="M0 -171l1-2 1-3 1-2 1-3 1-3 1-3 1-3 1-3 1-3 1-4 1-4 1-4 1-5 1-5 1-5 1-4 1-4 1-5 1-5 1-5 1-6 1-6 1-7 1-7 1-7 1-8 1-7 1-8 1-9 1-8 1-7 1-8 1-7 1-7 1-7 1-6 1-5 1-5 1-4 1-4 1-2 1-2 1 1 1 2 1 3 1 4 1 4 1 6 1 6 1 6 1 4 1 4 1 2 1 2 1 3 1 2 1 4 1 4 1 4 1 5 1 5 1 6 1 9 1 11 1 12 1 12 1 9 1 4 1-1 1-7 1-16 1-18 1-18 1-13 1-5 1 3 1 11 1 16 1 19 1 20 1 21 1 20 1 17 1 10 1 6 1 4 1 3 1 2 1 2 1 0 1 0 1 0 1-1 1-2 1-2 1-2 1-3 1-3 1-4 1-4"/>
<path d="M0 -129l1-2 1-3 1-4 1-4 1-4 1-4 1-5 1-5 1-5 1-6 1-6 1-6 1-6 1-6 1-6 1-6 1-6 1-5 1-6 1-7 1-6 1-6 1-7 1-6 1-8 1-7 1-8 1-8 1-8 1-8 1-8 1-7 1-7 1-8 1-6 1-6 1-4 1-4 1-3 1-3 1-2 1 0 1 2 1 4 1 4 1 5 1 5 1 6 1 7 1 7 1 5 1 4 1 3 1 1 1 1 1 1 1 1 1 2 1 1 1 2 1 1 1 2 1 3 1 6 1 8 1 7 1 6 1 1 1-3 1-8 1-14 1-18 1-16 1-11 1-4 1 4 1 12 1 16 1 20 1 20 1 22 1 21 1 18 1 11 1 5 1 4 1 3 1 2 1 1 1 1 1 0 1-1 1-1 1-1 1-2 1-2 1-3 1-3 1-4 1-3"/>
<path d="M0 -152l1-2 1-3 1-4 1-3 1-4 1-5 1-4 1-5 1-5 1-5 1-6 1-6 1-6 1-6 1-5 1-5 1-5 1-5 1-5 1-5 1-6 1-6 1-6 1-7 1-7 1-7 1-8 1-8 1-8 1-8 1-8 1-8 1-8 1-7 1-7 1-7 1-5 1-5 1-4 1-3 1-3 1 0 1 2 1 3 1 5 1 4 1 6 1 7 1 7 1 6 1 6 1 3 1 3 1 1 1 2 1 2 1 2 1 3 1 3 1 4 1 4 1 5 1 7 1 10 1 12 1 11 1 10 1 5 1 0 1-7 1-14 1-18 1-17 1-11 1-5 1 5 1 12 1 16 1 19 1 19 1 20 1 19 1 16 1 9 1 5 1 4 1 3 1 2 1 1 1 1 1 0 1 0 1 0 1-1 1-1 1-2 1-2 1-3 1-3 1-2"/>
<path d="M0 -254l1-1 1-3 1-2 1-3 1-3 1-3 1-3 1-4 1-4 1-4 1-5 1-5 1-6 1-4 1-4 1-2 1-2 1-2 1-2 1-2 1-3 1-5 1-6 1-8 1-7 1-9 1-9 1-10 1-11 1-12 1-13 1-13 1-16 1-16 1-15 1-12 1-7 1-4 1-3 1-2 1-1 1 1 1 4 1 7 1 9 1 8 1 8 1 8 1 7 1 7 1 5 1 2 1 1 1-1 1 0 1 0 1 1 1 1 1 1 1 0 1 2 1 2 1 4 1 5 1 8 1 7 1 6 1 3 1 1 1-3 1-7 1-9 1-9 1-5 1-2 1 4 1 10 1 15 1 19 1 24 1 32 1 32 1 27 1 12 1 5 1 3 1 2 1 1 1 1 1 1 1 0 1-1 1-2 1-2 1-3 1-4 1-4 1-4 1-5 1-4"/>
<path d="M0 -114l1-2 1-4 1-4 1-5 1-4 1-6 1-5 1-6 1-6 1-7 1-7 1-8 1-8 1-9 1-8 1-8 1-8 1-8 1-8 1-8 1-7 1-8 1-7 1-8 1-7 1-8 1-8 1-9 1-8 1-8 1-8 1-8 1-8 1-8 1-7 1-6 1-6 1-5 1-5 1-3 1-3 1-1 1 1 1 3 1 4 1 4 1 6 1 6 1 6 1 6 1 5 1 3 1 2 1 1 1 2 1 1 1 2 1 2 1 3 1 2 1 3 1 5 1 7 1 10 1 12 1 12 1 10 1 5 1 1 1-4 1-13 1-16 1-15 1-11 1-3 1 4 1 13 1 17 1 19 1 19 1 21 1 19 1 16 1 10 1 5 1 3 1 2 1 2 1 1 1 0 1 0 1-1 1-1 1-2 1-2 1-2 1-3 1-3 1-4 1-3"/>
<path d="M0 -244l1-2 1-2 1-2 1-3 1-2 1-3 1-4 1-3 1-3 1-4 1-4 1-4 1-5 1-3 1-3 1-1 1-1 1-2 1-1 1-2 1-4 1-4 1-6 1-6 1-8 1-7 1-9 1-9 1-9 1-10 1-11 1-11 1-13 1-12 1-12 1-11 1-9 1-7 1-5 1-5 1-3 1-2 1 2 1 4 1 6 1 6 1 7 1 7 1 8 1 7 1 5 1 3 1 2 1 2 1 1 1 2 1 2 1 2 1 1 1 2 1 2 1 3 1 6 1 8 1 11 1 11 1 9 1 4 1 1 1-2 1-9 1-12 1-12 1-6 1-3 1 3 1 10 1 14 1 20 1 23 1 26 1 26 1 25 1 14 1 6 1 4 1 2 1 1 1 1 1 0 1 0 1-2 1-2 1-2 1-2 1-3 1-4 1-4 1-4 1-3"/>
<path d="M0 -272l1-1 1-3 1-2 1-2 1-3 1-2 1-3 1-2 1-3 1-3 1-3 1-3 1-3 1-2 1-1 1 0 1 1 1 1 1 0 1 0 1-2 1-4 1-5 1-6 1-6 1-7 1-8 1-9 1-9 1-9 1-10 1-11 1-11 1-11 1-10 1-9 1-7 1-6 1-5 1-4 1-3 1-2 1 1 1 4 1 4 1 5 1 6 1 8 1 7 1 6 1 4 1 3 1 2 1 1 1 1 1 0 1 1 1 1 1 1 1 1 1 1 1 3 1 5 1 8 1 11 1 10 1 10 1 3 1 2 1-1 1-9 1-11 1-11 1-6 1-2 1 4 1 10 1 15 1 20 1 23 1 26 1 26 1 24 1 15 1 6 1 4 1 2 1 1 1 1 1 0 1-1 1-2 1-2 1-2 1-3 1-3 1-3 1-4 1-3 1-4"/>
<path d="M0 -138l1-3 1-4 1-5 1-5 1-5 1-5 1-5 1-5 1-5 1-5 1-4 1-6 1-5 1-4 1-5 1-4 1-4 1-5 1-5 1-5 1-6 1-7 1-6 1-7 1-8 1-8 1-8 1-9 1-9 1-9 1-8 1-8 1-8 1-8 1-7 1-6 1-4 1-4 1-4 1-2 1-1 1 0 1 3 1 4 1 5 1 4 1 5 1 6 1 6 1 5 1 5 1 2 1 1 1 1 1 0 1 2 1 2 1 2 1 3 1 4 1 4 1 4 1 8 1 10 1 11 1 12 1 9 1 4 1-1 1-8 1-15 1-19 1-18 1-13 1-6 1 3 1 10 1 15 1 18 1 19 1 20 1 20 1 17 1 11 1 6 1 4 1 3 1 2 1 2 1 1 1 1 1-1 1 0 1-1 1-2 1-2 1-3 1-3 1-4 1-4"/>
<path d="M0 -180l1-1 1-2 1-2 1-3 1-3 1-4 1-4 1-4 1-4 1-5 1-6 1-6 1-8 1-6 1-7 1-5 1-6 1-5 1-5 1-6 1-6 1-7 1-7 1-7 1-8 1-8 1-9 1-8 1-9 1-9 1-9 1-10 1-10 1-9 1-10 1-9 1-10 1-8 1-8 1-6 1-5 1-3 1 0 1 2 1 3 1 3 1 7 1 7 1 8 1 6 1 5 1 4 1 3 1 3 1 2 1 2 1 2 1 2 1 2 1 2 1 2 1 4 1 8 1 10 1 13 1 14 1 11 1 5 1 2 1-2 1-10 1-14 1-13 1-7 1-3 1 3 1 11 1 15 1 20 1 21 1 24 1 22 1 22 1 13 1 6 1 4 1 3 1 1 1 1 1 1 1-1 1-1 1-2 1-2 1-2 1-3 1-3 1-3 1-4 1-3"/>
<path d="M0 -255l1-2 1-3 1-3 1-3 1-4 1-3 1-4 1-4 1-4 1-4 1-5 1-5 1-5 1-4 1-3 1-2 1-1 1-1 1-1 1-2 1-2 1-5 1-6 1-7 1-7 1-8 1-9 1-10 1-11 1-11 1-13 1-13 1-15 1-16 1-15 1-12 1-7 1-5 1-3 1-2 1-2 1 0 1 4 1 7 1 8 1 9 1 8 1 8 1 7 1 7 1 5 1 3 1 2 1 0 1 0 1 2 1 2 1 1 1 2 1 2 1 2 1 3 1 6 1 8 1 9 1 10 1 9 1 3 1 1 1-2 1-8 1-11 1-10 1-7 1-2 1 3 1 9 1 14 1 20 1 23 1 28 1 30 1 25 1 13 1 5 1 3 1 2 1 1 1 1 1 1 1 0 1-1 1-2 1-2 1-2 1-3 1-3 1-3 1-4 1-4"/>
<path d="M0 -167l1-2 1-3 1-3 1-3 1-3 1-4 1-4 1-4 1-3 1-5 1-5 1-5 1-6 1-5 1-6 1-5 1-4 1-6 1-5 1-6 1-6 1-7 1-7 1-7 1-8 1-8 1-8 1-9 1-9 1-9 1-9 1-8 1-9 1-8 1-8 1-8 1-7 1-6 1-5 1-4 1-3 1-1 1 2 1 3 1 4 1 4 1 6 1 8 1 7 1 6 1 5 1 3 1 2 1 2 1 1 1 1 1 1 1 2 1 1 1 1 1 2 1 3 1 6 1 9 1 12 1 12 1 10 1 4 1 1 1-3 1-11 1-15 1-14 1-9 1-3 1 5 1 11 1 16 1 20 1 20 1 21 1 21 1 18 1 11 1 6 1 3 1 2 1 1 1 1 1 1 1-1 1-1 1-2 1-1 1-2 1-2 1-2 1-3 1-3 1-2"/>
<path d="M0 -122l1-2 1-3 1-3 1-4 1-4 1-4 1-4 1-4 1-5 1-6 1-6 1-6 1-7 1-7 1-7 1-7 1-7 1-7 1-8 1-7 1-8 1-7 1-7 1-8 1-8 1-8 1-8 1-9 1-8 1-9 1-8 1-7 1-8 1-7 1-7 1-5 1-5 1-4 1-3 1-3 1-1 1 0 1 2 1 3 1 5 1 5 1 5 1 6 1 6 1 6 1 5 1 3 1 2 1 0 1 1 1 2 1 2 1 3 1 3 1 4 1 4 1 6 1 9 1 11 1 12 1 13 1 11 1 7 1 1 1-6 1-14 1-18 1-17 1-12 1-5 1 5 1 13 1 17 1 18 1 17 1 17 1 17 1 13 1 7 1 4 1 3 1 2 1 1 1 1 1 0 1 0 1-1 1-1 1-1 1-1 1-2 1-1 1-3 1-2 1-3"/>
<path d="M0 -274l1-3 1-3 1-3 1-4 1-4 1-5 1-4 1-4 1-5 1-5 1-6 1-5 1-4 1-4 1-2 1-1 1 0 1 0 1 0 1-1 1-1 1-4 1-5 1-7 1-7 1-7 1-10 1-10 1-12 1-13 1-14 1-16 1-18 1-21 1-19 1-15 1-9 1-3 1-2 1-2 1 0 1 1 1 5 1 10 1 12 1 10 1 9 1 8 1 8 1 7 1 4 1 3 1 0 1-1 1-1 1 1 1 1 1 2 1 1 1 2 1 2 1 2 1 3 1 5 1 6 1 5 1 5 1 2 1 0 1-3 1-6 1-8 1-7 1-4 1-2 1 5 1 10 1 15 1 18 1 25 1 34 1 37 1 27 1 11 1 4 1 1 1 2 1 0 1 1 1 0 1-1 1-2 1-2 1-3 1-4 1-4 1-5 1-6 1-5 1-5"/>
<path d="M0 -284l1-2 1-3 1-3 1-3 1-2 1-3 1-3 1-3 1-3 1-3 1-3 1-4 1-3 1-2 1-1 1 0 1 1 1 0 1 0 1 0 1-2 1-3 1-6 1-6 1-7 1-8 1-9 1-10 1-12 1-12 1-13 1-14 1-17 1-17 1-17 1-13 1-9 1-5 1-3 1-3 1-2 1 0 1 4 1 8 1 10 1 9 1 8 1 8 1 7 1 7 1 5 1 3 1 0 1 0 1 0 1 1 1 2 1 2 1 2 1 3 1 3 1 4 1 6 1 8 1 10 1 10 1 9 1 4 1 2 1-1 1-7 1-10 1-9 1-6 1-2 1 3 1 10 1 14 1 19 1 23 1 29 1 30 1 25 1 13 1 4 1 3 1 2 1 0 1 1 1 0 1-1 1-1 1-2 1-3 1-2 1-4 1-3 1-4 1-5 1-4"/>
<path d="M0 -242l1-1 1-1 1-1 1-2 1-2 1-3 1-3 1-3 1-4 1-5 1-5 1-5 1-6 1-5 1-4 1-3 1-2 1-2 1-3 1-2 1-3 1-5 1-5 1-6 1-7 1-7 1-7 1-9 1-9 1-9 1-10 1-11 1-11 1-13 1-12 1-11 1-10 1-8 1-6 1-6 1-4 1-2 1 1 1 4 1 6 1 7 1 7 1 8 1 8 1 7 1 6 1 4 1 2 1 2 1 1 1 2 1 1 1 1 1 0 1 0 1 0 1 2 1 3 1 5 1 8 1 8 1 6 1 2 1 0 1-3 1-8 1-10 1-9 1-6 1-1 1 4 1 11 1 15 1 20 1 24 1 28 1 29 1 25 1 13 1 5 1 3 1 1 1 1 1 0 1-1 1-1 1-1 1-2 1-2 1-3 1-2 1-3 1-3 1-3 1-3"/>
<path d="M0 -263l1-3 1-3 1-4 1-3 1-4 1-3 1-4 1-4 1-4 1-4 1-5 1-4 1-5 1-4 1-2 1-2 1-1 1-1 1 0 1-2 1-2 1-4 1-6 1-6 1-8 1-8 1-8 1-11 1-11 1-12 1-12 1-14 1-16 1-17 1-16 1-13 1-8 1-4 1-4 1-2 1-2 1 0 1 3 1 8 1 9 1 9 1 8 1 7 1 7 1 6 1 5 1 2 1 0 1-1 1-1 1 0 1 1 1 1 1 2 1 2 1 2 1 3 1 5 1 7 1 8 1 8 1 8 1 4 1 1 1-1 1-6 1-9 1-8 1-5 1-1 1 4 1 10 1 15 1 19 1 24 1 31 1 32 1 26 1 12 1 5 1 3 1 2 1 1 1 0 1 1 1-1 1-1 1-2 1-2 1-3 1-4 1-4 1-4 1-5 1-4"/>
<path d="M0 -183l1-2 1-2 1-2 1-3 1-3 1-3 1-4 1-3 1-4 1-4 1-4 1-5 1-6 1-5 1-4 1-4 1-3 1-4 1-4 1-5 1-5 1-6 1-6 1-7 1-7 1-8 1-8 1-9 1-8 1-9 1-9 1-9 1-8 1-9 1-8 1-8 1-8 1-7 1-6 1-5 1-4 1-2 1 0 1 2 1 4 1 4 1 6 1 7 1 8 1 7 1 5 1 4 1 3 1 2 1 2 1 2 1 1 1 1 1 1 1 0 1-1 1 0 1 2 1 4 1 7 1 7 1 5 1-1 1-4 1-5 1-12 1-15 1-13 1-8 1-4 1 3 1 8 1 14 1 20 1 22 1 27 1 27 1 24 1 14 1 7 1 4 1 2 1 2 1 2 1 1 1 0 1-1 1-1 1-1 1-2 1-2 1-2 1-3 1-4 1-3"/>
<path d="M0 -275l1-2 1-2 1-3 1-3 1-3 1-3 1-3 1-3 1-4 1-4 1-4 1-5 1-4 1-4 1-3 1-2 1-1 1-1 1-1 1-2 1-2 1-5 1-6 1-8 1-8 1-8 1-10 1-12 1-12 1-14 1-13 1-16 1-19 1-20 1-19 1-14 1-7 1-4 1-2 1-1 1-1 1 2 1 5 1 10 1 12 1 11 1 8 1 8 1 8 1 6 1 5 1 2 1 0 1-2 1-1 1 0 1 1 1 2 1 1 1 2 1 2 1 2 1 3 1 5 1 6 1 5 1 4 1 3 1 0 1-3 1-6 1-8 1-7 1-6 1-2 1 4 1 9 1 14 1 17 1 24 1 35 1 38 1 27 1 10 1 2 1 1 1 0 1 1 1 0 1 0 1 0 1-1 1-1 1-3 1-3 1-4 1-4 1-5 1-5 1-5"/>
<path d="M0 -196l1-2 1-2 1-4 1-3 1-4 1-4 1-4 1-4 1-3 1-3 1-4 1-4 1-4 1-3 1-2 1-1 1-2 1-1 1-3 1-3 1-4 1-5 1-6 1-6 1-7 1-8 1-8 1-8 1-9 1-9 1-8 1-9 1-8 1-8 1-8 1-7 1-6 1-5 1-5 1-3 1-2 1-1 1 2 1 3 1 4 1 5 1 5 1 6 1 6 1 6 1 4 1 3 1 1 1 1 1 1 1 1 1 2 1 2 1 2 1 2 1 3 1 5 1 7 1 10 1 12 1 12 1 10 1 4 1 0 1-6 1-13 1-17 1-16 1-12 1-5 1 3 1 9 1 14 1 19 1 20 1 22 1 22 1 20 1 12 1 6 1 5 1 3 1 2 1 2 1 1 1 1 1-1 1-1 1-1 1-2 1-2 1-3 1-3 1-4 1-4"/>
<path d="M0 -233l1-1 1-1 1-3 1-2 1-3 1-3 1-4 1-4 1-3 1-4 1-4 1-5 1-4 1-4 1-2 1-1 1-1 1 0 1-1 1-2 1-3 1-4 1-4 1-6 1-6 1-7 1-7 1-7 1-7 1-8 1-9 1-8 1-8 1-8 1-8 1-8 1-8 1-8 1-7 1-6 1-4 1-4 1 0 1 1 1 1 1 3 1 5 1 7 1 7 1 6 1 5 1 3 1 3 1 3 1 2 1 3 1 2 1 2 1 3 1 2 1 3 1 5 1 7 1 11 1 13 1 13 1 11 1 4 1 1 1-3 1-11 1-15 1-15 1-9 1-4 1 3 1 9 1 15 1 19 1 21 1 23 1 22 1 22 1 13 1 6 1 4 1 3 1 2 1 2 1 1 1 0 1-1 1-1 1-1 1-1 1-2 1-2 1-3 1-3 1-3"/>
<path d="M0 -275l1-3 1-4 1-3 1-4 1-4 1-3 1-4 1-4 1-4 1-4 1-4 1-5 1-4 1-4 1-2 1-1 1-1 1 0 1 0 1-1 1-2 1-4 1-6 1-7 1-7 1-8 1-9 1-11 1-12 1-13 1-13 1-16 1-18 1-20 1-18 1-14 1-9 1-3 1-3 1-2 1-1 1 0 1 5 1 10 1 12 1 10 1 9 1 7 1 8 1 6 1 5 1 2 1-1 1-2 1-1 1 0 1 0 1 1 1 1 1 2 1 1 1 3 1 3 1 4 1 5 1 6 1 4 1 4 1 1 1-3 1-5 1-7 1-6 1-5 1-2 1 4 1 10 1 14 1 18 1 23 1 35 1 37 1 27 1 10 1 2 1 1 1 0 1 0 1 0 1 0 1-1 1-1 1-1 1-3 1-3 1-4 1-5 1-4 1-6 1-4"/>
<path d="M0 -259l1-2 1-4 1-3 1-4 1-4 1-4 1-4 1-4 1-5 1-4 1-5 1-5 1-4 1-3 1-2 1-1 1 0 1 0 1 0 1-1 1-2 1-3 1-5 1-6 1-7 1-7 1-9 1-9 1-10 1-11 1-11 1-13 1-15 1-15 1-14 1-13 1-9 1-6 1-5 1-4 1-3 1-1 1 3 1 6 1 8 1 7 1 8 1 8 1 7 1 6 1 6 1 3 1 1 1 0 1 1 1 1 1 3 1 2 1 2 1 2 1 3 1 3 1 6 1 7 1 10 1 10 1 8 1 3 1 0 1-2 1-9 1-11 1-10 1-7 1-2 1 3 1 8 1 14 1 19 1 23 1 30 1 30 1 26 1 13 1 5 1 3 1 3 1 1 1 2 1 1 1 0 1 0 1-1 1-2 1-2 1-3 1-3 1-3 1-4 1-4"/>
<path d="M0 -253l1-2 1-3 1-4 1-3 1-3 1-4 1-3 1-4 1-3 1-5 1-4 1-5 1-5 1-4 1-3 1-2 1-2 1-2 1-1 1-3 1-3 1-5 1-6 1-8 1-8 1-8 1-10 1-10 1-12 1-13 1-13 1-15 1-18 1-19 1-17 1-14 1-8 1-4 1-3 1-2 1-1 1 1 1 4 1 9 1 10 1 10 1 9 1 8 1 8 1 7 1 5 1 3 1 0 1 0 1-1 1 1 1 0 1 1 1 1 1 0 1 1 1 1 1 3 1 4 1 5 1 5 1 4 1 1 1 0 1-4 1-7 1-8 1-8 1-5 1-2 1 4 1 10 1 14 1 18 1 24 1 35 1 37 1 27 1 11 1 4 1 2 1 1 1 1 1 1 1 0 1 0 1-1 1-1 1-3 1-3 1-4 1-5 1-5 1-6 1-5"/>
<path d="M0 -265l1-3 1-3 1-3 1-4 1-3 1-3 1-4 1-3 1-4 1-4 1-4 1-4 1-3 1-3 1-2 1-1 1 0 1 0 1 0 1 0 1-3 1-3 1-5 1-7 1-7 1-7 1-8 1-10 1-10 1-11 1-11 1-12 1-14 1-15 1-13 1-11 1-9 1-5 1-4 1-4 1-2 1-2 1 3 1 6 1 7 1 7 1 7 1 8 1 7 1 6 1 5 1 3 1 1 1-1 1 1 1 1 1 1 1 2 1 3 1 2 1 3 1 4 1 6 1 9 1 12 1 12 1 10 1 5 1 2 1 0 1-8 1-11 1-10 1-6 1-2 1 4 1 10 1 15 1 21 1 23 1 27 1 27 1 24 1 15 1 7 1 5 1 3 1 2 1 1 1 1 1 0 1-1 1-2 1-2 1-2 1-2 1-3 1-3 1-4 1-4"/>
<path d="M0 -201l1-1 1-2 1-2 1-2 1-3 1-3 1-4 1-3 1-4 1-4 1-5 1-6 1-6 1-6 1-6 1-4 1-4 1-5 1-4 1-6 1-5 1-7 1-7 1-7 1-8 1-9 1-9 1-9 1-10 1-10 1-10 1-11 1-11 1-12 1-10 1-10 1-9 1-7 1-5 1-5 1-3 1-1 1 1 1 4 1 4 1 5 1 7 1 8 1 8 1 7 1 5 1 4 1 3 1 2 1 2 1 2 1 2 1 2 1 1 1 1 1 2 1 4 1 7 1 10 1 14 1 13 1 12 1 5 1 2 1-1 1-9 1-13 1-12 1-7 1-3 1 5 1 11 1 16 1 21 1 23 1 24 1 23 1 20 1 13 1 7 1 4 1 2 1 2 1 1 1 1 1-1 1-1 1-2 1-2 1-2 1-3 1-3 1-3 1-4 1-4"/>
<path d="M0 -162l1-2 1-3 1-4 1-4 1-4 1-4 1-5 1-4 1-5 1-5 1-5 1-6 1-6 1-6 1-5 1-4 1-5 1-4 1-5 1-5 1-5 1-6 1-6 1-6 1-7 1-7 1-8 1-8 1-8 1-8 1-8 1-8 1-8 1-8 1-7 1-7 1-6 1-6 1-5 1-4 1-3 1-1 1 0 1 3 1 3 1 4 1 5 1 7 1 6 1 6 1 5 1 3 1 2 1 1 1 2 1 1 1 2 1 1 1 1 1 2 1 1 1 3 1 5 1 8 1 10 1 10 1 8 1 3 1-1 1-5 1-13 1-15 1-14 1-10 1-3 1 4 1 11 1 16 1 20 1 21 1 23 1 22 1 20 1 12 1 6 1 4 1 3 1 2 1 1 1 1 1 0 1-1 1-1 1-2 1-1 1-2 1-3 1-3 1-3 1-4"/>
<path d="M0 -198l1-1 1-3 1-2 1-3 1-3 1-4 1-3 1-4 1-4 1-4 1-4 1-5 1-6 1-4 1-4 1-3 1-3 1-3 1-3 1-4 1-5 1-5 1-6 1-6 1-7 1-7 1-8 1-8 1-9 1-9 1-8 1-9 1-9 1-9 1-8 1-9 1-8 1-8 1-7 1-6 1-5 1-3 1 0 1 2 1 2 1 4 1 6 1 7 1 8 1 6 1 6 1 4 1 4 1 3 1 2 1 3 1 3 1 2 1 3 1 2 1 3 1 4 1 7 1 10 1 12 1 12 1 9 1 4 1 0 1-4 1-13 1-15 1-15 1-10 1-4 1 3 1 10 1 14 1 19 1 21 1 23 1 23 1 21 1 13 1 6 1 5 1 2 1 2 1 2 1 1 1 0 1-1 1-1 1-1 1-2 1-2 1-2 1-2 1-3 1-3"/>
<path d="M0 -216l1-1 1-1 1-1 1-2 1-2 1-3 1-3 1-3 1-4 1-4 1-5 1-6 1-7 1-6 1-5 1-5 1-4 1-4 1-4 1-4 1-5 1-6 1-7 1-7 1-7 1-8 1-8 1-9 1-9 1-9 1-9 1-10 1-10 1-9 1-10 1-8 1-8 1-8 1-6 1-5 1-4 1-3 1 0 1 2 1 3 1 4 1 6 1 8 1 7 1 5 1 5 1 3 1 2 1 2 1 1 1 2 1 2 1 2 1 2 1 2 1 2 1 4 1 6 1 9 1 11 1 12 1 10 1 3 1 0 1-2 1-10 1-13 1-13 1-8 1-3 1 3 1 8 1 14 1 20 1 23 1 26 1 26 1 25 1 14 1 7 1 5 1 3 1 3 1 2 1 1 1 0 1 0 1-1 1-2 1-2 1-2 1-3 1-4 1-4 1-4"/>
<path d="M0 -215l1-2 1-2 1-3 1-3 1-3 1-4 1-4 1-4 1-4 1-5 1-5 1-6 1-6 1-6 1-4 1-4 1-3 1-3 1-3 1-4 1-5 1-5 1-6 1-7 1-8 1-8 1-8 1-9 1-10 1-10 1-10 1-12 1-12 1-12 1-12 1-12 1-9 1-7 1-7 1-4 1-4 1-3 1 2 1 4 1 5 1 6 1 7 1 7 1 8 1 6 1 5 1 3 1 2 1 0 1 1 1 1 1 2 1 1 1 1 1 1 1 1 1 2 1 4 1 6 1 8 1 9 1 6 1 2 1 0 1-3 1-9 1-11 1-10 1-7 1-2 1 3 1 9 1 13 1 19 1 23 1 29 1 31 1 25 1 12 1 5 1 2 1 1 1 1 1 1 1 0 1 0 1-1 1-2 1-2 1-3 1-3 1-3 1-3 1-4 1-4"/>
<path d="M0 -255l1-1 1-3 1-2 1-3 1-2 1-3 1-3 1-3 1-3 1-3 1-3 1-4 1-3 1-3 1-2 1-1 1 0 1 0 1-1 1-2 1-2 1-4 1-6 1-6 1-7 1-7 1-8 1-9 1-10 1-10 1-10 1-11 1-12 1-13 1-11 1-11 1-9 1-8 1-6 1-4 1-4 1-2 1 1 1 4 1 5 1 6 1 7 1 7 1 8 1 6 1 5 1 4 1 2 1 1 1 1 1 3 1 2 1 2 1 3 1 2 1 3 1 4 1 8 1 9 1 14 1 13 1 12 1 6 1 3 1 0 1-9 1-12 1-12 1-7 1-2 1 4 1 10 1 15 1 21 1 22 1 24 1 23 1 22 1 14 1 7 1 4 1 2 1 2 1 1 1 0 1 0 1-2 1-1 1-2 1-3 1-2 1-3 1-4 1-3 1-4"/>
<path d="M0 -230l1-1 1-2 1-2 1-2 1-3 1-3 1-4 1-3 1-3 1-4 1-5 1-4 1-6 1-4 1-3 1-3 1-2 1-2 1-2 1-3 1-4 1-5 1-6 1-7 1-7 1-8 1-8 1-9 1-9 1-10 1-10 1-11 1-11 1-12 1-11 1-10 1-9 1-7 1-6 1-5 1-4 1-2 1 1 1 4 1 4 1 6 1 6 1 8 1 8 1 6 1 5 1 4 1 3 1 1 1 2 1 1 1 2 1 1 1 1 1 0 1 1 1 2 1 5 1 6 1 10 1 9 1 8 1 2 1 0 1-3 1-9 1-12 1-12 1-6 1-3 1 3 1 9 1 14 1 20 1 23 1 27 1 28 1 25 1 13 1 6 1 3 1 2 1 1 1 0 1 1 1-1 1-1 1-2 1-3 1-2 1-3 1-4 1-4 1-4 1-4"/>
<path d="M0 -254l1-3 1-4 1-3 1-4 1-3 1-4 1-3 1-3 1-4 1-4 1-3 1-5 1-4 1-3 1-2 1-2 1 0 1-1 1-2 1-1 1-3 1-5 1-6 1-7 1-8 1-8 1-10 1-10 1-12 1-12 1-12 1-15 1-16 1-16 1-16 1-13 1-7 1-5 1-3 1-2 1-1 1 0 1 5 1 7 1 9 1 9 1 8 1 8 1 8 1 6 1 5 1 3 1 1 1 0 1-1 1 1 1 0 1 1 1 1 1 1 1 1 1 2 1 4 1 6 1 8 1 9 1 7 1 3 1 2 1-2 1-7 1-9 1-8 1-5 1-1 1 4 1 10 1 15 1 20 1 23 1 30 1 31 1 25 1 12 1 5 1 3 1 1 1 1 1 0 1 0 1-1 1-2 1-2 1-3 1-3 1-3 1-4 1-4 1-4 1-4"/>
<path d="M0 -269l1-3 1-3 1-3 1-3 1-4 1-3 1-3 1-4 1-3 1-4 1-4 1-4 1-4 1-3 1-2 1-1 1 0 1 0 1 0 1-1 1-2 1-4 1-5 1-6 1-7 1-8 1-9 1-9 1-11 1-11 1-12 1-13 1-15 1-16 1-15 1-12 1-8 1-5 1-4 1-3 1-2 1-1 1 3 1 7 1 8 1 8 1 8 1 7 1 7 1 6 1 5 1 2 1 1 1-1 1-1 1 1 1 1 1 1 1 2 1 2 1 2 1 3 1 5 1 7 1 9 1 10 1 8 1 4 1 1 1-1 1-7 1-10 1-9 1-5 1-2 1 4 1 10 1 15 1 20 1 24 1 29 1 31 1 26 1 13 1 5 1 4 1 2 1 1 1 2 1 0 1 0 1-1 1-1 1-3 1-2 1-3 1-3 1-4 1-5 1-4"/>
<path d="M0 -168l1-2 1-2 1-3 1-3 1-3 1-4 1-3 1-4 1-4 1-5 1-5 1-6 1-6 1-6 1-5 1-5 1-5 1-6 1-5 1-6 1-6 1-7 1-6 1-8 1-8 1-8 1-8 1-9 1-9 1-9 1-9 1-8 1-9 1-9 1-8 1-8 1-8 1-7 1-6 1-5 1-3 1-2 1 1 1 2 1 4 1 5 1 6 1 8 1 8 1 7 1 6 1 4 1 3 1 2 1 2 1 2 1 2 1 1 1 2 1 1 1 1 1 2 1 4 1 7 1 10 1 9 1 7 1 2 1-2 1-5 1-12 1-15 1-14 1-9 1-3 1 3 1 10 1 16 1 20 1 23 1 24 1 24 1 22 1 14 1 6 1 5 1 3 1 2 1 2 1 1 1 0 1-1 1-2 1-1 1-2 1-3 1-2 1-4 1-4 1-3"/>
<path d="M0 -150l1-2 1-3 1-3 1-3 1-4 1-4 1-5 1-4 1-6 1-5 1-7 1-7 1-8 1-8 1-7 1-8 1-7 1-7 1-6 1-8 1-7 1-7 1-8 1-7 1-9 1-8 1-9 1-8 1-9 1-9 1-10 1-9 1-9 1-9 1-8 1-9 1-9 1-8 1-7 1-6 1-4 1-3 1-1 1 2 1 3 1 3 1 6 1 8 1 8 1 7 1 5 1 4 1 4 1 3 1 2 1 3 1 2 1 3 1 2 1 2 1 2 1 4 1 8 1 9 1 13 1 12 1 11 1 4 1 0 1-3 1-11 1-15 1-14 1-9 1-3 1 3 1 10 1 15 1 20 1 20 1 23 1 23 1 21 1 13 1 6 1 4 1 2 1 2 1 1 1 0 1 0 1-1 1-2 1-2 1-2 1-2 1-3 1-3 1-3 1-4"/>
<path d="M0 -237l1-1 1-2 1-3 1-2 1-3 1-4 1-4 1-3 1-4 1-5 1-5 1-5 1-6 1-5 1-3 1-3 1-2 1-3 1-2 1-3 1-4 1-5 1-6 1-7 1-8 1-8 1-9 1-9 1-11 1-11 1-11 1-13 1-13 1-15 1-13 1-11 1-9 1-5 1-4 1-4 1-2 1-1 1 3 1 6 1 7 1 7 1 8 1 8 1 7 1 7 1 5 1 4 1 2 1 1 1 1 1 1 1 2 1 2 1 2 1 1 1 2 1 3 1 6 1 8 1 10 1 10 1 9 1 3 1 1 1-2 1-9 1-12 1-11 1-6 1-3 1 3 1 9 1 14 1 20 1 22 1 28 1 28 1 25 1 13 1 6 1 3 1 2 1 1 1 1 1 0 1 0 1-1 1-2 1-2 1-2 1-3 1-3 1-3 1-4 1-4"/>
<path d="M0 -227l1-1 1-2 1-2 1-2 1-3 1-3 1-4 1-4 1-4 1-5 1-5 1-6 1-7 1-6 1-5 1-4 1-4 1-4 1-3 1-4 1-5 1-6 1-7 1-7 1-9 1-8 1-9 1-11 1-11 1-11 1-13 1-13 1-15 1-16 1-14 1-12 1-8 1-5 1-3 1-3 1-2 1 0 1 4 1 6 1 8 1 8 1 8 1 8 1 8 1 6 1 5 1 3 1 1 1 0 1 0 1 0 1 0 1 0 1 0 1-1 1-1 1 0 1 1 1 3 1 4 1 3 1 2 1 0 1-2 1-5 1-8 1-9 1-8 1-6 1-1 1 4 1 9 1 14 1 18 1 23 1 35 1 38 1 28 1 10 1 2 1 1 1 1 1 0 1 0 1 1 1-1 1 0 1-2 1-2 1-3 1-4 1-4 1-4 1-5 1-4"/>
<path d="M0 -179l1-2 1-3 1-3 1-4 1-4 1-5 1-4 1-5 1-5 1-6 1-5 1-7 1-7 1-7 1-6 1-5 1-5 1-5 1-5 1-5 1-6 1-6 1-6 1-7 1-8 1-7 1-8 1-8 1-9 1-9 1-9 1-9 1-9 1-9 1-10 1-9 1-10 1-9 1-7 1-7 1-5 1-3 1-1 1 2 1 2 1 4 1 6 1 7 1 8 1 5 1 5 1 4 1 2 1 1 1 1 1 1 1 1 1 0 1-1 1-1 1-1 1 0 1 3 1 4 1 6 1 6 1 4 1 0 1-2 1-4 1-10 1-11 1-10 1-7 1-3 1 3 1 9 1 13 1 18 1 23 1 31 1 33 1 25 1 12 1 3 1 2 1 1 1 0 1 1 1 0 1 0 1-1 1-2 1-2 1-3 1-3 1-4 1-3 1-5 1-3"/>
<path d="M0 -116l1-3 1-5 1-4 1-5 1-5 1-5 1-6 1-5 1-6 1-7 1-6 1-7 1-7 1-7 1-7 1-6 1-7 1-6 1-7 1-6 1-7 1-7 1-6 1-7 1-7 1-8 1-8 1-8 1-8 1-8 1-8 1-7 1-8 1-7 1-7 1-5 1-5 1-4 1-4 1-3 1-2 1 0 1 1 1 4 1 4 1 5 1 5 1 6 1 6 1 6 1 5 1 4 1 1 1 1 1 1 1 2 1 2 1 3 1 3 1 3 1 4 1 5 1 7 1 9 1 12 1 11 1 9 1 5 1 0 1-7 1-14 1-18 1-17 1-12 1-4 1 5 1 12 1 18 1 19 1 18 1 20 1 18 1 15 1 8 1 5 1 3 1 3 1 2 1 1 1 1 1 0 1 0 1-1 1-1 1-2 1-2 1-2 1-3 1-3 1-3"/>
<path d="M0 -226l1-1 1-2 1-1 1-2 1-2 1-3 1-2 1-3 1-3 1-3 1-4 1-5 1-5 1-4 1-3 1-3 1-2 1-2 1-3 1-3 1-5 1-5 1-6 1-7 1-7 1-8 1-8 1-8 1-8 1-9 1-9 1-9 1-9 1-9 1-8 1-8 1-7 1-8 1-6 1-5 1-4 1-3 1 1 1 2 1 3 1 3 1 7 1 7 1 8 1 6 1 5 1 4 1 3 1 2 1 2 1 3 1 2 1 3 1 3 1 4 1 5 1 8 1 11 1 14 1 18 1 18 1 15 1 10 1 5 1-1 1-10 1-14 1-15 1-9 1-3 1 5 1 13 1 18 1 19 1 19 1 19 1 18 1 15 1 8 1 4 1 3 1 2 1 2 1 1 1 0 1-1 1-1 1-1 1-1 1-2 1-2 1-2 1-3 1-3 1-3"/>
<path d="M0 -262l1-3 1-3 1-3 1-3 1-3 1-3 1-3 1-3 1-3 1-3 1-5 1-4 1-5 1-5 1-3 1-3 1-3 1-2 1-3 1-2 1-4 1-6 1-7 1-8 1-8 1-8 1-10 1-11 1-12 1-13 1-12 1-15 1-17 1-18 1-16 1-13 1-6 1-4 1-2 1-2 1-2 1 0 1 4 1 8 1 10 1 10 1 8 1 7 1 7 1 6 1 4 1 3 1-1 1-1 1-1 1 1 1 1 1 2 1 2 1 2 1 1 1 2 1 3 1 4 1 5 1 5 1 3 1 1 1-1 1-4 1-6 1-7 1-7 1-5 1-2 1 4 1 10 1 14 1 18 1 24 1 35 1 39 1 27 1 11 1 3 1 1 1 1 1 0 1 0 1 0 1-1 1-2 1-2 1-3 1-3 1-4 1-5 1-4 1-6 1-4"/>
<path d="M0 -262l1-3 1-3 1-3 1-3 1-4 1-3 1-4 1-3 1-3 1-4 1-3 1-3 1-3 1-2 1-1 1 0 1 1 1 1 1 0 1 0 1-2 1-3 1-5 1-5 1-7 1-6 1-8 1-8 1-9 1-10 1-9 1-11 1-11 1-11 1-11 1-10 1-9 1-8 1-6 1-5 1-4 1-2 1 0 1 4 1 4 1 5 1 7 1 7 1 7 1 6 1 4 1 3 1 1 1 1 1 0 1 0 1 1 1 0 1 0 1-1 1 0 1 1 1 3 1 4 1 6 1 7 1 5 1 1 1-1 1-3 1-8 1-10 1-9 1-6 1-1 1 3 1 10 1 14 1 19 1 23 1 31 1 33 1 26 1 11 1 4 1 2 1 2 1 0 1 0 1 0 1 0 1-2 1-2 1-3 1-3 1-4 1-4 1-5 1-5 1-4"/>
<path d="M0 -154l1-3 1-3 1-4 1-4 1-5 1-4 1-5 1-5 1-5 1-5 1-5 1-6 1-6 1-5 1-4 1-4 1-4 1-3 1-4 1-5 1-5 1-5 1-6 1-6 1-6 1-7 1-8 1-8 1-8 1-8 1-8 1-8 1-9 1-8 1-7 1-7 1-6 1-6 1-5 1-4 1-4 1-1 1 1 1 3 1 4 1 4 1 6 1 7 1 7 1 7 1 7 1 5 1 3 1 3 1 3 1 3 1 5 1 4 1 6 1 5 1 7 1 7 1 10 1 13 1 14 1 13 1 11 1 6 1 0 1-8 1-15 1-20 1-18 1-14 1-6 1 5 1 13 1 17 1 18 1 18 1 18 1 17 1 14 1 7 1 4 1 4 1 2 1 3 1 1 1 1 1 0 1 0 1-1 1-1 1-1 1-2 1-2 1-2 1-3 1-3"/>
<path d="M0 -162l1-1 1-2 1-2 1-3 1-3 1-3 1-4 1-3 1-4 1-4 1-5 1-4 1-5 1-5 1-4 1-3 1-4 1-4 1-5 1-5 1-5 1-6 1-6 1-6 1-7 1-7 1-8 1-8 1-9 1-8 1-8 1-7 1-8 1-7 1-7 1-5 1-5 1-4 1-3 1-2 1-2 1 1 1 2 1 4 1 5 1 5 1 5 1 6 1 7 1 7 1 5 1 5 1 2 1 2 1 2 1 2 1 3 1 4 1 4 1 5 1 5 1 6 1 9 1 10 1 13 1 11 1 10 1 6 1 0 1-8 1-16 1-18 1-19 1-13 1-5 1 5 1 14 1 17 1 19 1 17 1 18 1 17 1 12 1 6 1 4 1 3 1 2 1 2 1 1 1 1 1 0 1 0 1-1 1 0 1-2 1-1 1-2 1-3 1-3 1-2"/>
<path d="M0 -230l1-1 1-2 1-1 1-2 1-2 1-3 1-3 1-2 1-4 1-3 1-4 1-5 1-6 1-5 1-4 1-3 1-3 1-3 1-3 1-4 1-5 1-6 1-6 1-7 1-8 1-8 1-8 1-9 1-9 1-9 1-10 1-10 1-11 1-10 1-10 1-8 1-8 1-6 1-6 1-4 1-4 1-2 1 0 1 3 1 3 1 5 1 5 1 8 1 6 1 6 1 4 1 3 1 2 1 0 1 1 1 1 1 1 1 2 1 0 1 1 1 1 1 3 1 4 1 7 1 10 1 9 1 8 1 2 1-1 1-3 1-9 1-12 1-12 1-7 1-3 1 2 1 9 1 13 1 19 1 23 1 28 1 31 1 25 1 13 1 5 1 4 1 2 1 2 1 1 1 2 1 0 1 0 1-1 1-2 1-2 1-3 1-3 1-4 1-4 1-4"/>
<path d="M0 -270l1-3 1-3 1-4 1-4 1-4 1-5 1-4 1-5 1-4 1-5 1-5 1-5 1-4 1-3 1-2 1-1 1 0 1 1 1 0 1 0 1-2 1-3 1-6 1-6 1-7 1-8 1-10 1-11 1-12 1-13 1-14 1-16 1-18 1-21 1-18 1-15 1-8 1-4 1-2 1-1 1 0 1 1 1 6 1 10 1 12 1 10 1 9 1 9 1 7 1 7 1 5 1 3 1 0 1-2 1-1 1 0 1 0 1 1 1 0 1 2 1 1 1 3 1 4 1 5 1 8 1 7 1 7 1 4 1 2 1-1 1-5 1-7 1-7 1-5 1-1 1 4 1 10 1 14 1 18 1 24 1 31 1 33 1 25 1 11 1 3 1 2 1 0 1 1 1 0 1 0 1 0 1-1 1-1 1-2 1-2 1-3 1-3 1-4 1-4 1-3"/>
<path d="M0 -268l1-2 1-3 1-3 1-3 1-4 1-3 1-3 1-3 1-4 1-4 1-4 1-4 1-4 1-3 1-3 1-1 1 0 1-1 1 0 1-1 1-3 1-4 1-5 1-7 1-7 1-8 1-9 1-10 1-11 1-12 1-13 1-14 1-16 1-17 1-16 1-13 1-9 1-5 1-3 1-3 1-2 1-1 1 4 1 7 1 9 1 9 1 8 1 7 1 7 1 6 1 5 1 2 1 0 1-2 1-1 1 0 1 0 1 1 1 1 1 0 1 1 1 1 1 3 1 4 1 5 1 4 1 4 1 2 1 0 1-3 1-6 1-8 1-7 1-5 1-1 1 4 1 9 1 14 1 18 1 24 1 34 1 37 1 27 1 10 1 3 1 0 1 1 1 0 1 0 1 0 1-1 1-1 1-2 1-3 1-3 1-4 1-4 1-5 1-6 1-4"/>
<path d="M0 -231l1-2 1-3 1-3 1-4 1-4 1-4 1-5 1-4 1-5 1-5 1-5 1-7 1-6 1-5 1-5 1-3 1-3 1-3 1-3 1-3 1-4 1-5 1-6 1-8 1-7 1-9 1-9 1-10 1-12 1-12 1-13 1-14 1-17 1-17 1-17 1-14 1-9 1-5 1-4 1-3 1-2 1 0 1 4 1 8 1 10 1 9 1 8 1 8 1 8 1 7 1 5 1 3 1 1 1-1 1 0 1 1 1 1 1 1 1 0 1 1 1 1 1 1 1 3 1 4 1 5 1 4 1 4 1 1 1-1 1-5 1-7 1-9 1-8 1-6 1-2 1 4 1 9 1 14 1 18 1 24 1 34 1 38 1 27 1 11 1 3 1 2 1 2 1 1 1 1 1 1 1 0 1-1 1-2 1-2 1-3 1-4 1-4 1-5 1-6 1-5"/>
<path d="M0 -150l1-4 1-4 1-4 1-4 1-4 1-5 1-5 1-4 1-5 1-5 1-5 1-7 1-6 1-7 1-6 1-6 1-6 1-6 1-7 1-7 1-7 1-7 1-7 1-8 1-9 1-8 1-9 1-9 1-9 1-9 1-9 1-9 1-9 1-8 1-8 1-8 1-7 1-7 1-5 1-4 1-3 1-2 1 1 1 2 1 4 1 4 1 5 1 7 1 7 1 5 1 4 1 3 1 1 1 1 1 0 1 1 1 1 1 0 1-1 1 0 1 0 1 1 1 4 1 6 1 10 1 10 1 8 1 2 1-1 1-3 1-11 1-14 1-13 1-8 1-3 1 2 1 8 1 14 1 20 1 22 1 25 1 26 1 23 1 15 1 6 1 4 1 3 1 2 1 2 1 1 1 0 1 0 1-1 1-1 1-2 1-2 1-2 1-3 1-4 1-3"/>
<path d="M0 -205l1-1 1-2 1-2 1-2 1-4 1-4 1-4 1-5 1-5 1-5 1-6 1-8 1-8 1-7 1-7 1-5 1-5 1-5 1-5 1-5 1-5 1-6 1-7 1-8 1-9 1-8 1-9 1-10 1-11 1-11 1-12 1-12 1-14 1-15 1-13 1-12 1-7 1-6 1-4 1-3 1-2 1 0 1 3 1 5 1 8 1 7 1 7 1 8 1 8 1 7 1 5 1 3 1 2 1 0 1 1 1 1 1 1 1 1 1 1 1 1 1 1 1 2 1 4 1 6 1 9 1 8 1 7 1 2 1 0 1-3 1-9 1-11 1-10 1-6 1-3 1 3 1 9 1 14 1 19 1 23 1 30 1 31 1 26 1 12 1 4 1 3 1 2 1 1 1 1 1 0 1 0 1-1 1-1 1-2 1-3 1-3 1-3 1-4 1-4 1-3"/>
<path d="M0 -262l1-2 1-3 1-4 1-3 1-3 1-4 1-3 1-4 1-4 1-3 1-4 1-4 1-4 1-2 1-2 1 0 1 1 1 0 1 0 1 0 1-2 1-4 1-5 1-6 1-6 1-8 1-8 1-9 1-9 1-10 1-11 1-11 1-12 1-13 1-11 1-10 1-8 1-6 1-5 1-3 1-3 1-1 1 2 1 4 1 6 1 6 1 7 1 8 1 8 1 6 1 5 1 4 1 2 1 1 1 1 1 1 1 1 1 1 1 1 1 1 1 1 1 2 1 5 1 6 1 10 1 9 1 8 1 2 1 0 1-3 1-9 1-11 1-11 1-7 1-2 1 3 1 9 1 14 1 19 1 23 1 29 1 29 1 25 1 13 1 6 1 3 1 2 1 2 1 1 1 0 1 0 1-1 1-1 1-2 1-2 1-2 1-3 1-4 1-3 1-4"/>
<path d="M0 -222l1-1 1-1 1-2 1-3 1-3 1-4 1-4 1-4 1-4 1-5 1-6 1-6 1-7 1-6 1-5 1-3 1-3 1-3 1-3 1-3 1-4 1-5 1-6 1-7 1-7 1-7 1-8 1-8 1-9 1-9 1-10 1-10 1-11 1-11 1-11 1-10 1-8 1-8 1-6 1-5 1-4 1-3 1 0 1 3 1 5 1 5 1 6 1 8 1 7 1 6 1 5 1 4 1 2 1 1 1 2 1 3 1 3 1 3 1 3 1 3 1 4 1 5 1 9 1 12 1 16 1 16 1 14 1 6 1 3 1-1 1-10 1-14 1-13 1-9 1-4 1 3 1 10 1 14 1 20 1 21 1 23 1 23 1 22 1 13 1 6 1 5 1 3 1 2 1 2 1 1 1 0 1 0 1-1 1-1 1-2 1-2 1-2 1-3 1-3 1-3"/>
<path d="M0 -157l1-1 1-2 1-3 1-3 1-3 1-3 1-4 1-4 1-4 1-4 1-4 1-5 1-5 1-4 1-5 1-4 1-4 1-4 1-5 1-5 1-5 1-6 1-6 1-7 1-7 1-7 1-8 1-9 1-8 1-9 1-8 1-8 1-8 1-8 1-7 1-7 1-5 1-5 1-4 1-3 1-2 1-1 1 2 1 3 1 5 1 5 1 6 1 6 1 8 1 7 1 6 1 4 1 3 1 2 1 3 1 3 1 4 1 5 1 5 1 6 1 6 1 8 1 9 1 12 1 13 1 12 1 11 1 6 1 0 1-8 1-15 1-20 1-18 1-14 1-6 1 5 1 13 1 17 1 17 1 16 1 17 1 16 1 12 1 6 1 4 1 3 1 2 1 1 1 2 1 0 1 0 1 0 1 0 1-1 1-1 1-2 1-1 1-3 1-2 1-2"/>
<path d="M0 -143l1-3 1-3 1-4 1-4 1-5 1-4 1-5 1-5 1-4 1-5 1-6 1-5 1-6 1-5 1-4 1-5 1-4 1-4 1-5 1-5 1-5 1-6 1-6 1-6 1-6 1-7 1-8 1-8 1-8 1-8 1-7 1-7 1-8 1-7 1-7 1-6 1-5 1-4 1-3 1-3 1-2 1 0 1 2 1 4 1 4 1 5 1 5 1 6 1 7 1 7 1 5 1 4 1 3 1 1 1 2 1 2 1 2 1 3 1 4 1 3 1 4 1 5 1 7 1 10 1 11 1 10 1 9 1 5 1-1 1-8 1-15 1-19 1-18 1-12 1-5 1 5 1 12 1 17 1 19 1 18 1 19 1 18 1 14 1 8 1 5 1 3 1 3 1 2 1 1 1 1 1 0 1 0 1 0 1-1 1-1 1-2 1-2 1-2 1-4 1-2"/>
<path d="M0 -217l1-1 1-1 1-1 1-2 1-2 1-3 1-3 1-3 1-3 1-3 1-4 1-5 1-6 1-4 1-4 1-3 1-3 1-2 1-4 1-4 1-4 1-6 1-6 1-7 1-7 1-8 1-8 1-8 1-8 1-9 1-9 1-8 1-9 1-8 1-8 1-8 1-9 1-7 1-6 1-5 1-4 1-2 1 0 1 2 1 3 1 4 1 6 1 7 1 7 1 6 1 4 1 3 1 2 1 0 1 0 1 0 1-1 1-2 1-2 1-3 1-3 1-2 1 0 1 2 1 4 1 4 1 2 1-1 1-3 1-5 1-9 1-10 1-9 1-6 1-2 1 4 1 9 1 15 1 18 1 24 1 32 1 34 1 26 1 11 1 4 1 2 1 1 1 0 1 0 1 0 1-1 1-2 1-2 1-3 1-3 1-4 1-5 1-5 1-5 1-4"/>
<path d="M0 -203l1-1 1-2 1-2 1-2 1-3 1-4 1-3 1-4 1-4 1-4 1-5 1-6 1-6 1-6 1-5 1-4 1-4 1-4 1-4 1-4 1-5 1-6 1-6 1-7 1-8 1-7 1-8 1-9 1-8 1-9 1-9 1-10 1-9 1-10 1-9 1-10 1-9 1-9 1-7 1-6 1-5 1-3 1 0 1 2 1 2 1 4 1 6 1 8 1 7 1 6 1 5 1 4 1 2 1 2 1 1 1 2 1 2 1 2 1 1 1 1 1 2 1 3 1 7 1 9 1 12 1 13 1 11 1 5 1 1 1 0 1-10 1-12 1-12 1-7 1-2 1 4 1 10 1 15 1 21 1 22 1 25 1 23 1 23 1 13 1 7 1 4 1 3 1 2 1 1 1 0 1 0 1-1 1-2 1-2 1-2 1-3 1-3 1-3 1-4 1-4"/>
<path d="M0 -257l1-3 1-3 1-3 1-4 1-3 1-4 1-4 1-4 1-4 1-5 1-5 1-5 1-6 1-5 1-3 1-3 1-2 1-2 1-2 1-2 1-3 1-5 1-6 1-7 1-8 1-9 1-9 1-11 1-12 1-13 1-14 1-16 1-19 1-20 1-18 1-15 1-8 1-4 1-2 1-2 1-1 1 1 1 5 1 10 1 11 1 11 1 8 1 8 1 8 1 6 1 5 1 2 1-1 1-2 1-1 1 0 1 1 1 0 1 2 1 2 1 2 1 4 1 4 1 6 1 7 1 6 1 6 1 4 1 2 1-2 1-6 1-8 1-7 1-5 1-2 1 4 1 9 1 14 1 18 1 23 1 33 1 36 1 27 1 10 1 2 1 1 1 1 1 0 1 0 1 0 1-1 1-1 1-2 1-3 1-3 1-4 1-4 1-5 1-5 1-4"/>
<path d="M0 -206l1-1 1-1 1-1 1-2 1-2 1-3 1-3 1-2 1-3 1-3 1-4 1-4 1-5 1-3 1-3 1-2 1-2 1-2 1-3 1-4 1-4 1-5 1-5 1-7 1-6 1-8 1-8 1-8 1-8 1-9 1-8 1-9 1-8 1-9 1-8 1-7 1-7 1-7 1-6 1-4 1-4 1-2 1 1 1 3 1 3 1 5 1 6 1 7 1 8 1 6 1 6 1 5 1 3 1 3 1 3 1 3 1 3 1 4 1 4 1 4 1 5 1 7 1 9 1 12 1 14 1 13 1 11 1 6 1 1 1-5 1-14 1-17 1-17 1-12 1-5 1 4 1 11 1 16 1 18 1 18 1 20 1 19 1 15 1 10 1 4 1 4 1 2 1 2 1 1 1 0 1 0 1 0 1-1 1-1 1-2 1-1 1-2 1-3 1-3 1-2"/>
<path d="M0 -187l1-1 1-2 1-3 1-3 1-4 1-5 1-4 1-5 1-5 1-5 1-5 1-6 1-6 1-5 1-4 1-4 1-2 1-3 1-3 1-4 1-4 1-5 1-5 1-6 1-7 1-7 1-7 1-8 1-9 1-8 1-9 1-9 1-9 1-9 1-8 1-9 1-8 1-8 1-6 1-6 1-4 1-2 1 0 1 3 1 3 1 5 1 7 1 8 1 8 1 7 1 6 1 5 1 3 1 2 1 2 1 2 1 1 1 1 1 1 1 0 1 0 1 1 1 3 1 6 1 9 1 9 1 7 1 2 1-1 1-4 1-11 1-14 1-13 1-7 1-2 1 4 1 11 1 16 1 21 1 22 1 24 1 24 1 21 1 14 1 6 1 4 1 2 1 1 1 1 1 0 1-1 1-1 1-2 1-2 1-2 1-3 1-2 1-3 1-4 1-2"/>
<path d="M0 -236l1-1 1-2 1-3 1-2 1-3 1-3 1-3 1-2 1-3 1-4 1-3 1-4 1-4 1-3 1-2 1-1 1-1 1-1 1-1 1-2 1-4 1-4 1-5 1-6 1-7 1-7 1-7 1-8 1-8 1-9 1-9 1-8 1-9 1-9 1-9 1-9 1-9 1-8 1-8 1-6 1-5 1-3 1-1 1 1 1 2 1 3 1 6 1 7 1 8 1 6 1 4 1 4 1 2 1 1 1 1 1 1 1 1 1 0 1 0 1-1 1-1 1 1 1 3 1 5 1 8 1 7 1 6 1 1 1-1 1-3 1-9 1-12 1-10 1-7 1-2 1 4 1 9 1 15 1 20 1 23 1 29 1 29 1 26 1 13 1 6 1 3 1 2 1 2 1 1 1 0 1 0 1-2 1-1 1-3 1-2 1-4 1-3 1-4 1-5 1-4"/>
<path d="M0 -257l1-3 1-2 1-3 1-3 1-2 1-3 1-2 1-3 1-3 1-3 1-4 1-5 1-4 1-4 1-4 1-2 1-2 1-2 1-2 1-3 1-4 1-5 1-6 1-8 1-8 1-8 1-9 1-10 1-11 1-12 1-11 1-13 1-15 1-15 1-14 1-11 1-7 1-4 1-3 1-3 1-2 1 0 1 2 1 6 1 8 1 7 1 7 1 7 1 7 1 6 1 4 1 3 1 0 1 0 1 0 1 1 1 2 1 2 1 3 1 3 1 3 1 4 1 6 1 8 1 11 1 10 1 8 1 4 1 1 1-2 1-9 1-11 1-11 1-6 1-3 1 3 1 9 1 14 1 19 1 23 1 30 1 31 1 25 1 14 1 6 1 3 1 3 1 2 1 2 1 1 1 0 1-1 1-1 1-3 1-2 1-4 1-4 1-5 1-5 1-4"/>
<path d="M0 -279l1-2 1-3 1-3 1-2 1-3 1-2 1-3 1-3 1-3 1-4 1-4 1-5 1-4 1-4 1-3 1-2 1-1 1-1 1-1 1-2 1-3 1-4 1-7 1-7 1-8 1-8 1-9 1-12 1-12 1-13 1-14 1-16 1-18 1-20 1-18 1-14 1-7 1-2 1-1 1-1 1 0 1 2 1 5 1 10 1 11 1 10 1 9 1 7 1 7 1 6 1 4 1 2 1-1 1-2 1-2 1 0 1 0 1 1 1 1 1 2 1 1 1 2 1 4 1 4 1 5 1 5 1 5 1 3 1 1 1-2 1-5 1-6 1-7 1-5 1-1 1 3 1 10 1 14 1 17 1 23 1 34 1 37 1 27 1 10 1 2 1 1 1 1 1 0 1 0 1 0 1 0 1-1 1-1 1-3 1-3 1-4 1-4 1-5 1-5 1-4"/>
<path d="M0 -264l1-3 1-3 1-3 1-4 1-3 1-4 1-4 1-4 1-4 1-4 1-5 1-5 1-4 1-3 1-3 1-1 1-1 1 0 1 0 1-1 1-2 1-4 1-6 1-7 1-7 1-8 1-8 1-10 1-11 1-12 1-12 1-13 1-16 1-16 1-15 1-12 1-7 1-4 1-3 1-2 1-2 1 0 1 4 1 7 1 9 1 8 1 8 1 8 1 8 1 6 1 5 1 3 1 0 1 0 1-1 1 1 1 1 1 0 1 1 1 0 1 1 1 2 1 3 1 5 1 6 1 7 1 5 1 2 1-1 1-3 1-8 1-9 1-8 1-6 1-2 1 3 1 9 1 14 1 18 1 24 1 32 1 35 1 27 1 11 1 3 1 2 1 1 1 1 1 1 1 1 1 0 1-1 1-2 1-2 1-2 1-3 1-4 1-4 1-4 1-4"/>
<path d="M0 -276l1-2 1-3 1-2 1-3 1-3 1-4 1-3 1-4 1-4 1-4 1-5 1-5 1-5 1-3 1-3 1-1 1-1 1 0 1-1 1 0 1-2 1-4 1-5 1-7 1-7 1-8 1-9 1-10 1-11 1-12 1-12 1-14 1-16 1-17 1-16 1-12 1-8 1-4 1-3 1-2 1-2 1 0 1 4 1 8 1 9 1 9 1 8 1 7 1 7 1 6 1 4 1 2 1-1 1-2 1-1 1-1 1 1 1 1 1 1 1 1 1 2 1 2 1 3 1 5 1 5 1 6 1 4 1 3 1 0 1-4 1-6 1-8 1-7 1-6 1-2 1 3 1 9 1 14 1 16 1 24 1 35 1 38 1 27 1 10 1 2 1 1 1 0 1 1 1 0 1 0 1 0 1-1 1-1 1-3 1-3 1-4 1-3 1-5 1-4 1-4"/>
<path d="M0 -202l1-2 1-2 1-3 1-2 1-3 1-3 1-3 1-3 1-3 1-4 1-4 1-4 1-6 1-5 1-4 1-4 1-4 1-3 1-5 1-4 1-6 1-6 1-7 1-7 1-8 1-8 1-8 1-8 1-9 1-8 1-9 1-8 1-9 1-8 1-7 1-8 1-8 1-7 1-6 1-5 1-4 1-3 1 0 1 1 1 2 1 2 1 5 1 7 1 6 1 5 1 4 1 3 1 3 1 2 1 2 1 2 1 1 1 2 1 1 1 1 1 2 1 2 1 6 1 8 1 11 1 10 1 9 1 1 1-2 1-3 1-12 1-14 1-14 1-8 1-3 1 2 1 9 1 14 1 20 1 23 1 26 1 27 1 24 1 15 1 8 1 5 1 3 1 3 1 2 1 1 1 0 1-1 1-2 1-2 1-2 1-4 1-3 1-4 1-5 1-4"/>
<path d="M0 -218l1-1 1-2 1-3 1-2 1-4 1-4 1-4 1-4 1-5 1-5 1-5 1-6 1-7 1-6 1-4 1-4 1-3 1-3 1-3 1-4 1-4 1-6 1-6 1-7 1-7 1-8 1-9 1-9 1-9 1-10 1-10 1-11 1-11 1-12 1-11 1-10 1-7 1-6 1-5 1-4 1-3 1-2 1 2 1 4 1 4 1 6 1 7 1 7 1 8 1 6 1 5 1 4 1 2 1 1 1 2 1 1 1 2 1 2 1 1 1 2 1 2 1 3 1 7 1 9 1 12 1 13 1 11 1 4 1 1 1 0 1-9 1-12 1-12 1-7 1-2 1 4 1 10 1 16 1 21 1 23 1 25 1 24 1 23 1 15 1 7 1 4 1 3 1 3 1 1 1 1 1 0 1-1 1-1 1-2 1-2 1-2 1-3 1-3 1-3 1-4"/>
<path d="M0 -113l1-3 1-4 1-4 1-5 1-4 1-5 1-5 1-6 1-6 1-6 1-7 1-6 1-7 1-7 1-7 1-7 1-7 1-6 1-7 1-7 1-6 1-7 1-6 1-7 1-7 1-7 1-8 1-8 1-8 1-8 1-7 1-7 1-8 1-7 1-7 1-6 1-5 1-4 1-4 1-3 1-2 1 0 1 2 1 3 1 5 1 5 1 5 1 6 1 6 1 6 1 4 1 4 1 1 1 1 1 1 1 1 1 3 1 2 1 3 1 3 1 4 1 4 1 6 1 9 1 11 1 10 1 9 1 4 1-1 1-7 1-15 1-18 1-17 1-12 1-5 1 4 1 11 1 16 1 18 1 18 1 19 1 19 1 15 1 9 1 4 1 3 1 3 1 1 1 1 1 0 1 0 1-1 1-1 1-1 1-2 1-1 1-3 1-2 1-3 1-2"/>
<path d="M0 -206l1-1 1 0 1-2 1-2 1-2 1-4 1-4 1-4 1-4 1-6 1-6 1-8 1-8 1-8 1-8 1-6 1-6 1-6 1-6 1-5 1-6 1-7 1-8 1-8 1-8 1-9 1-9 1-11 1-10 1-12 1-11 1-13 1-14 1-14 1-13 1-11 1-7 1-5 1-4 1-3 1-2 1-1 1 3 1 6 1 7 1 7 1 7 1 7 1 7 1 6 1 4 1 2 1 0 1 0 1-1 1 0 1 1 1 1 1 1 1 1 1 2 1 2 1 5 1 6 1 9 1 8 1 8 1 3 1 1 1-2 1-7 1-9 1-10 1-5 1-2 1 3 1 9 1 14 1 18 1 23 1 30 1 32 1 25 1 11 1 4 1 2 1 1 1 1 1 1 1 0 1 0 1-1 1-2 1-2 1-2 1-3 1-3 1-3 1-4 1-3"/>
<path d="M0 -197l1-1 1-1 1-2 1-2 1-3 1-3 1-4 1-4 1-4 1-5 1-5 1-7 1-7 1-7 1-6 1-5 1-6 1-5 1-5 1-6 1-6 1-6 1-7 1-8 1-9 1-8 1-9 1-10 1-10 1-10 1-11 1-11 1-12 1-12 1-12 1-10 1-9 1-7 1-5 1-4 1-3 1-1 1 1 1 5 1 5 1 5 1 8 1 8 1 8 1 6 1 5 1 4 1 2 1 2 1 1 1 1 1 2 1 0 1 0 1 0 1 0 1 2 1 3 1 6 1 8 1 7 1 6 1 1 1-1 1-3 1-10 1-11 1-11 1-7 1-2 1 3 1 9 1 14 1 20 1 23 1 30 1 30 1 26 1 13 1 6 1 3 1 2 1 2 1 2 1 1 1 0 1-1 1-1 1-2 1-2 1-3 1-3 1-4 1-4 1-3"/>
<path d="M0 -165l1-2 1-2 1-2 1-3 1-3 1-4 1-3 1-4 1-4 1-4 1-4 1-5 1-5 1-5 1-4 1-4 1-4 1-4 1-5 1-5 1-5 1-6 1-6 1-7 1-7 1-7 1-8 1-9 1-8 1-9 1-8 1-8 1-8 1-8 1-8 1-7 1-6 1-6 1-4 1-4 1-3 1-2 1 1 1 3 1 4 1 5 1 5 1 7 1 7 1 7 1 5 1 5 1 2 1 2 1 2 1 3 1 3 1 3 1 4 1 3 1 4 1 5 1 8 1 10 1 11 1 11 1 10 1 4 1 0 1-7 1-14 1-18 1-17 1-12 1-5 1 4 1 11 1 16 1 18 1 19 1 20 1 19 1 16 1 9 1 5 1 3 1 2 1 2 1 1 1 0 1 0 1-1 1-1 1-1 1-2 1-2 1-2 1-3 1-3 1-3"/>
<path d="M0 -241l1-3 1-2 1-3 1-3 1-3 1-4 1-4 1-4 1-4 1-5 1-6 1-6 1-6 1-6 1-5 1-5 1-3 1-4 1-3 1-3 1-4 1-6 1-7 1-8 1-9 1-8 1-10 1-12 1-13 1-13 1-14 1-16 1-20 1-20 1-19 1-15 1-8 1-3 1-2 1-1 1-1 1 1 1 5 1 10 1 12 1 10 1 9 1 8 1 8 1 6 1 5 1 2 1 0 1-2 1 0 1 1 1 2 1 3 1 3 1 4 1 4 1 5 1 7 1 8 1 11 1 10 1 10 1 5 1 2 1-1 1-6 1-10 1-9 1-6 1-2 1 4 1 9 1 14 1 19 1 22 1 30 1 31 1 25 1 12 1 5 1 2 1 2 1 1 1 0 1 1 1 0 1-1 1-2 1-2 1-2 1-3 1-3 1-4 1-4 1-3"/>
<path d="M0 -175l1-2 1-2 1-3 1-3 1-4 1-4 1-4 1-4 1-4 1-4 1-5 1-4 1-5 1-5 1-3 1-3 1-3 1-3 1-3 1-4 1-4 1-5 1-6 1-6 1-6 1-7 1-7 1-8 1-8 1-8 1-8 1-7 1-8 1-7 1-7 1-6 1-6 1-4 1-4 1-3 1-3 1 0 1 1 1 3 1 4 1 5 1 5 1 6 1 7 1 6 1 5 1 4 1 2 1 1 1 2 1 2 1 3 1 3 1 4 1 4 1 5 1 6 1 9 1 11 1 13 1 13 1 10 1 6 1 1 1-7 1-14 1-18 1-17 1-13 1-4 1 5 1 12 1 18 1 18 1 18 1 19 1 18 1 14 1 7 1 5 1 3 1 3 1 2 1 1 1 1 1 1 1-1 1 0 1-1 1-1 1-1 1-2 1-3 1-3 1-2"/>
<path d="M0 -140l1-2 1-3 1-3 1-4 1-3 1-4 1-4 1-4 1-4 1-5 1-5 1-5 1-5 1-5 1-5 1-5 1-4 1-6 1-5 1-6 1-6 1-6 1-6 1-7 1-7 1-7 1-8 1-8 1-9 1-9 1-8 1-8 1-8 1-7 1-8 1-6 1-5 1-5 1-4 1-3 1-2 1-1 1 2 1 3 1 5 1 5 1 5 1 6 1 7 1 6 1 6 1 4 1 3 1 1 1 2 1 2 1 3 1 4 1 3 1 4 1 4 1 5 1 6 1 9 1 10 1 10 1 8 1 3 1-1 1-9 1-15 1-19 1-18 1-13 1-6 1 4 1 11 1 16 1 18 1 18 1 19 1 19 1 15 1 10 1 4 1 3 1 3 1 1 1 1 1 1 1 0 1-1 1-1 1-1 1-2 1-1 1-3 1-2 1-3 1-3"/>
<path d="M0 -191l1-1 1-3 1-2 1-3 1-4 1-4 1-4 1-4 1-5 1-4 1-6 1-6 1-6 1-7 1-5 1-4 1-4 1-4 1-4 1-5 1-5 1-6 1-6 1-6 1-8 1-7 1-8 1-8 1-8 1-8 1-9 1-9 1-8 1-9 1-8 1-8 1-9 1-7 1-7 1-6 1-4 1-3 1 0 1 1 1 3 1 3 1 6 1 7 1 7 1 6 1 5 1 3 1 3 1 1 1 2 1 1 1 1 1 1 1 0 1 0 1 0 1 2 1 4 1 7 1 11 1 10 1 9 1 2 1-1 1-2 1-10 1-13 1-13 1-6 1-3 1 3 1 10 1 14 1 21 1 23 1 26 1 25 1 25 1 15 1 7 1 5 1 3 1 2 1 2 1 1 1 0 1-1 1-2 1-1 1-2 1-2 1-3 1-3 1-3 1-4"/>
<path d="M0 -140l1-3 1-3 1-4 1-4 1-5 1-4 1-5 1-5 1-5 1-5 1-6 1-6 1-6 1-6 1-5 1-6 1-5 1-5 1-5 1-6 1-6 1-6 1-6 1-7 1-7 1-7 1-8 1-8 1-8 1-8 1-8 1-8 1-7 1-8 1-7 1-6 1-5 1-5 1-4 1-3 1-3 1 0 1 1 1 3 1 4 1 4 1 6 1 5 1 7 1 6 1 5 1 4 1 2 1 1 1 2 1 3 1 3 1 3 1 4 1 5 1 6 1 7 1 10 1 12 1 15 1 13 1 12 1 8 1 1 1-6 1-14 1-18 1-18 1-13 1-5 1 6 1 13 1 18 1 19 1 17 1 18 1 16 1 12 1 6 1 4 1 3 1 2 1 2 1 1 1 1 1 0 1 0 1-1 1 0 1-2 1-1 1-2 1-3 1-3 1-2"/>
<path d="M0 -144l1-3 1-3 1-3 1-4 1-4 1-4 1-5 1-5 1-6 1-5 1-7 1-6 1-8 1-7 1-6 1-7 1-6 1-6 1-6 1-6 1-7 1-7 1-7 1-7 1-8 1-8 1-8 1-8 1-9 1-9 1-8 1-9 1-8 1-8 1-8 1-7 1-7 1-6 1-6 1-4 1-3 1-1 1 1 1 3 1 3 1 5 1 6 1 8 1 8 1 7 1 6 1 4 1 4 1 3 1 3 1 3 1 4 1 5 1 5 1 6 1 7 1 9 1 11 1 15 1 16 1 16 1 14 1 9 1 2 1-6 1-14 1-18 1-18 1-13 1-6 1 5 1 13 1 17 1 17 1 17 1 17 1 17 1 12 1 7 1 3 1 3 1 3 1 1 1 2 1 0 1 0 1 0 1-1 1 0 1-2 1-1 1-2 1-2 1-3 1-2"/>
<path d="M0 -270l1-3 1-4 1-4 1-4 1-4 1-3 1-4 1-3 1-4 1-4 1-4 1-4 1-4 1-3 1-3 1-1 1-1 1-1 1-1 1-1 1-3 1-5 1-6 1-8 1-8 1-9 1-10 1-12 1-13 1-13 1-14 1-16 1-18 1-20 1-19 1-14 1-7 1-4 1-1 1-1 1 0 1 2 1 6 1 10 1 12 1 11 1 9 1 8 1 7 1 7 1 4 1 3 1-1 1-2 1-2 1 0 1 1 1 1 1 2 1 2 1 3 1 3 1 6 1 7 1 9 1 9 1 9 1 5 1 3 1 0 1-5 1-8 1-7 1-5 1-1 1 4 1 9 1 15 1 19 1 23 1 30 1 32 1 25 1 11 1 4 1 2 1 1 1 0 1 1 1 0 1-1 1-1 1-1 1-2 1-3 1-2 1-3 1-4 1-3 1-4"/>
<path d="M0 -130l1-4 1-4 1-4 1-4 1-5 1-5 1-5 1-5 1-6 1-6 1-7 1-7 1-8 1-9 1-8 1-8 1-9 1-7 1-8 1-8 1-8 1-8 1-8 1-8 1-9 1-9 1-8 1-9 1-10 1-9 1-9 1-10 1-9 1-9 1-9 1-9 1-9 1-8 1-7 1-6 1-4 1-3 1 0 1 2 1 3 1 5 1 6 1 8 1 9 1 6 1 6 1 4 1 4 1 2 1 2 1 2 1 1 1 1 1 0 1 0 1-1 1 0 1 3 1 6 1 8 1 9 1 7 1 0 1-1 1-4 1-11 1-13 1-13 1-7 1-2 1 3 1 9 1 15 1 20 1 24 1 27 1 26 1 25 1 15 1 7 1 5 1 3 1 2 1 2 1 1 1 0 1-1 1-2 1-2 1-2 1-3 1-3 1-4 1-4 1-4"/>
<path d="M0 -233l1-2 1-2 1-2 1-3 1-3 1-3 1-3 1-4 1-3 1-4 1-4 1-4 1-4 1-3 1-2 1-1 1-1 1 0 1-1 1-2 1-4 1-4 1-5 1-6 1-6 1-7 1-8 1-7 1-8 1-9 1-8 1-9 1-8 1-8 1-8 1-9 1-8 1-7 1-7 1-5 1-3 1-3 1 1 1 2 1 3 1 4 1 6 1 7 1 8 1 6 1 4 1 4 1 2 1 1 1 0 1 0 1-1 1-2 1-3 1-3 1-3 1-2 1-1 1 2 1 3 1 2 1 1 1-2 1-4 1-7 1-10 1-11 1-9 1-7 1-3 1 3 1 9 1 14 1 18 1 24 1 33 1 36 1 27 1 11 1 3 1 2 1 2 1 1 1 1 1 0 1 1 1-1 1-1 1-2 1-3 1-3 1-4 1-4 1-5 1-4"/>
<path d="M0 -237l1-3 1-3 1-3 1-3 1-5 1-4 1-5 1-4 1-5 1-6 1-6 1-7 1-7 1-7 1-5 1-5 1-3 1-4 1-3 1-3 1-3 1-6 1-7 1-7 1-8 1-9 1-9 1-11 1-12 1-13 1-14 1-15 1-18 1-19 1-18 1-14 1-8 1-3 1-2 1-2 1-1 1 0 1 5 1 9 1 11 1 10 1 8 1 8 1 7 1 6 1 5 1 2 1-1 1-2 1-1 1 0 1 0 1 1 1 1 1 2 1 1 1 2 1 4 1 4 1 5 1 5 1 5 1 3 1 0 1-3 1-5 1-7 1-6 1-5 1-1 1 5 1 9 1 15 1 18 1 23 1 35 1 37 1 27 1 10 1 3 1 1 1 0 1 0 1 0 1 0 1-1 1-1 1-2 1-3 1-3 1-4 1-4 1-5 1-6 1-4"/>
<path d="M0 -124l1-3 1-4 1-4 1-5 1-6 1-5 1-6 1-6 1-7 1-7 1-8 1-8 1-8 1-9 1-8 1-8 1-7 1-7 1-7 1-7 1-7 1-7 1-7 1-7 1-7 1-8 1-8 1-8 1-9 1-8 1-9 1-8 1-9 1-9 1-8 1-8 1-8 1-7 1-7 1-6 1-4 1-3 1 0 1 1 1 3 1 3 1 6 1 7 1 8 1 6 1 5 1 5 1 3 1 2 1 2 1 2 1 2 1 1 1 0 1 0 1-1 1 0 1 2 1 4 1 6 1 6 1 5 1-1 1-3 1-5 1-12 1-15 1-13 1-7 1-4 1 3 1 9 1 14 1 20 1 23 1 27 1 28 1 25 1 15 1 7 1 4 1 3 1 2 1 2 1 1 1 0 1-1 1-1 1-2 1-2 1-3 1-4 1-4 1-4 1-4"/>
<path d="M0 -162l1-2 1-2 1-2 1-3 1-3 1-3 1-4 1-4 1-4 1-5 1-4 1-6 1-5 1-5 1-5 1-4 1-5 1-4 1-5 1-6 1-5 1-6 1-7 1-6 1-8 1-7 1-8 1-9 1-8 1-9 1-8 1-9 1-8 1-8 1-7 1-7 1-7 1-5 1-5 1-4 1-2 1-1 1 1 1 3 1 5 1 5 1 5 1 7 1 8 1 6 1 6 1 4 1 3 1 1 1 2 1 2 1 1 1 2 1 2 1 1 1 1 1 1 1 4 1 5 1 7 1 7 1 6 1 0 1-4 1-7 1-14 1-17 1-16 1-10 1-4 1 2 1 9 1 14 1 20 1 21 1 23 1 23 1 22 1 14 1 6 1 4 1 3 1 2 1 1 1 1 1 0 1-1 1-2 1-1 1-2 1-2 1-2 1-3 1-3 1-3"/>
<path d="M0 -168l1-2 1-2 1-2 1-3 1-4 1-3 1-4 1-5 1-4 1-5 1-6 1-6 1-7 1-7 1-7 1-6 1-6 1-6 1-6 1-7 1-6 1-7 1-7 1-8 1-8 1-9 1-8 1-9 1-9 1-9 1-9 1-10 1-9 1-9 1-8 1-9 1-9 1-8 1-7 1-6 1-4 1-3 1 0 1 2 1 3 1 4 1 7 1 8 1 8 1 7 1 5 1 5 1 3 1 2 1 3 1 1 1 2 1 1 1 0 1 0 1 0 1 1 1 3 1 6 1 9 1 9 1 8 1 0 1-1 1-4 1-11 1-13 1-13 1-7 1-3 1 2 1 9 1 15 1 20 1 23 1 27 1 26 1 25 1 15 1 6 1 5 1 3 1 2 1 2 1 1 1 0 1-1 1-1 1-1 1-2 1-2 1-3 1-3 1-4 1-3"/>
<path d="M0 -240l1-1 1-3 1-2 1-3 1-4 1-3 1-4 1-4 1-5 1-5 1-6 1-6 1-7 1-6 1-6 1-4 1-4 1-4 1-3 1-4 1-4 1-5 1-8 1-7 1-9 1-8 1-10 1-12 1-12 1-13 1-14 1-15 1-19 1-20 1-18 1-14 1-8 1-4 1-2 1-2 1-1 1 0 1 5 1 9 1 12 1 10 1 9 1 8 1 7 1 6 1 5 1 2 1-1 1-2 1-1 1 0 1 0 1 1 1 2 1 1 1 2 1 3 1 4 1 6 1 7 1 7 1 6 1 4 1 1 1-1 1-6 1-7 1-7 1-5 1-1 1 4 1 10 1 15 1 18 1 24 1 34 1 35 1 27 1 11 1 3 1 2 1 2 1 0 1 1 1 0 1 0 1-1 1-2 1-3 1-3 1-4 1-4 1-5 1-5 1-5"/>
<path d="M0 -238l1-2 1-3 1-3 1-4 1-3 1-5 1-4 1-4 1-5 1-4 1-6 1-5 1-6 1-5 1-4 1-3 1-2 1-2 1-2 1-3 1-3 1-5 1-6 1-7 1-7 1-8 1-9 1-9 1-11 1-11 1-12 1-13 1-14 1-16 1-14 1-12 1-9 1-6 1-4 1-4 1-3 1-1 1 3 1 6 1 8 1 8 1 7 1 8 1 7 1 6 1 5 1 3 1 1 1-1 1 1 1 2 1 2 1 3 1 3 1 3 1 4 1 5 1 8 1 10 1 13 1 13 1 12 1 5 1 3 1 1 1-8 1-11 1-11 1-6 1-2 1 3 1 9 1 15 1 20 1 23 1 25 1 26 1 23 1 15 1 6 1 4 1 2 1 2 1 0 1 1 1-1 1-2 1-1 1-3 1-2 1-2 1-3 1-4 1-3 1-3"/>
<path d="M0 -125l1-3 1-4 1-5 1-4 1-5 1-5 1-5 1-6 1-5 1-6 1-7 1-6 1-7 1-8 1-6 1-7 1-7 1-6 1-7 1-6 1-7 1-7 1-7 1-7 1-7 1-8 1-8 1-8 1-8 1-8 1-8 1-8 1-8 1-7 1-7 1-7 1-6 1-5 1-4 1-3 1-3 1-1 1 2 1 3 1 4 1 4 1 6 1 6 1 7 1 6 1 5 1 4 1 2 1 2 1 1 1 2 1 3 1 3 1 3 1 4 1 5 1 5 1 8 1 11 1 13 1 12 1 11 1 5 1 1 1-6 1-15 1-17 1-17 1-12 1-5 1 5 1 12 1 17 1 19 1 18 1 20 1 18 1 15 1 9 1 5 1 3 1 3 1 2 1 1 1 1 1 1 1-1 1 0 1-1 1-1 1-2 1-1 1-3 1-3 1-2"/>
<path d="M0 -204l1-2 1-1 1-2 1-3 1-3 1-4 1-4 1-3 1-4 1-5 1-5 1-6 1-7 1-6 1-5 1-5 1-4 1-4 1-4 1-4 1-5 1-6 1-7 1-7 1-7 1-8 1-8 1-9 1-9 1-9 1-10 1-10 1-11 1-10 1-11 1-10 1-9 1-7 1-7 1-6 1-4 1-3 1 1 1 2 1 4 1 5 1 6 1 7 1 7 1 6 1 5 1 3 1 1 1 1 1 1 1 0 1 1 1 0 1 0 1 0 1 0 1 1 1 4 1 5 1 7 1 8 1 6 1 2 1-1 1-3 1-8 1-11 1-10 1-6 1-2 1 4 1 10 1 14 1 20 1 23 1 30 1 31 1 25 1 13 1 5 1 3 1 2 1 2 1 0 1 1 1-1 1-1 1-2 1-2 1-3 1-3 1-4 1-4 1-5 1-4"/>
<path d="M0 -172l1-1 1-2 1-3 1-3 1-3 1-4 1-4 1-5 1-4 1-5 1-6 1-5 1-7 1-6 1-5 1-4 1-4 1-4 1-5 1-5 1-5 1-6 1-6 1-7 1-7 1-7 1-8 1-8 1-8 1-8 1-8 1-8 1-8 1-7 1-8 1-6 1-7 1-5 1-5 1-4 1-2 1-2 1 2 1 3 1 3 1 5 1 5 1 7 1 7 1 6 1 5 1 4 1 2 1 2 1 1 1 3 1 3 1 3 1 4 1 4 1 5 1 7 1 10 1 13 1 16 1 15 1 13 1 8 1 3 1-5 1-12 1-17 1-16 1-12 1-4 1 6 1 13 1 18 1 19 1 18 1 19 1 17 1 13 1 7 1 4 1 3 1 2 1 2 1 1 1 0 1 0 1 0 1-1 1-2 1-1 1-2 1-3 1-3 1-3 1-3"/>
<path d="M0 -254l1-2 1-4 1-4 1-3 1-4 1-4 1-4 1-3 1-3 1-4 1-3 1-2 1-3 1-1 1 0 1 1 1 1 1 1 1 0 1 0 1-2 1-4 1-5 1-6 1-7 1-7 1-8 1-9 1-10 1-10 1-10 1-11 1-11 1-11 1-11 1-10 1-8 1-6 1-5 1-4 1-3 1-1 1 2 1 3 1 4 1 5 1 6 1 8 1 8 1 6 1 4 1 4 1 2 1 1 1 2 1 1 1 2 1 1 1 2 1 2 1 3 1 4 1 9 1 12 1 16 1 17 1 14 1 8 1 4 1 0 1-10 1-13 1-13 1-8 1-4 1 4 1 10 1 14 1 19 1 20 1 22 1 22 1 19 1 13 1 6 1 4 1 2 1 2 1 2 1 1 1 0 1 0 1-1 1-1 1-1 1-1 1-3 1-2 1-3 1-4"/>
<path d="M0 -273l1-3 1-4 1-4 1-4 1-4 1-3 1-4 1-4 1-4 1-4 1-5 1-4 1-4 1-4 1-2 1-1 1 0 1-1 1 0 1-1 1-2 1-4 1-6 1-7 1-7 1-8 1-10 1-11 1-12 1-14 1-14 1-16 1-19 1-21 1-19 1-14 1-8 1-3 1-2 1-2 1 0 1 1 1 5 1 10 1 12 1 10 1 9 1 8 1 8 1 6 1 5 1 3 1-1 1-1 1-1 1 1 1 1 1 2 1 2 1 2 1 2 1 2 1 4 1 5 1 7 1 5 1 5 1 3 1 0 1-3 1-7 1-8 1-8 1-5 1-2 1 3 1 10 1 14 1 17 1 24 1 34 1 38 1 27 1 10 1 4 1 1 1 2 1 1 1 1 1 1 1 0 1 0 1-2 1-2 1-3 1-3 1-4 1-5 1-5 1-4"/>
<path d="M0 -163l1-2 1-3 1-3 1-3 1-3 1-4 1-5 1-4 1-5 1-5 1-6 1-7 1-7 1-8 1-6 1-6 1-6 1-6 1-6 1-7 1-6 1-7 1-7 1-8 1-7 1-9 1-8 1-8 1-9 1-9 1-9 1-9 1-9 1-9 1-8 1-9 1-9 1-8 1-7 1-6 1-5 1-3 1-1 1 1 1 2 1 3 1 6 1 7 1 8 1 5 1 5 1 4 1 3 1 2 1 3 1 2 1 2 1 1 1 2 1 1 1 2 1 3 1 7 1 9 1 12 1 13 1 10 1 4 1 1 1-2 1-10 1-13 1-13 1-8 1-3 1 4 1 11 1 15 1 20 1 22 1 24 1 23 1 21 1 13 1 7 1 4 1 3 1 1 1 1 1 1 1 0 1-2 1-1 1-2 1-2 1-3 1-3 1-3 1-4 1-4"/>
<path d="M0 -160l1-1 1-2 1-3 1-2 1-4 1-3 1-4 1-4 1-3 1-5 1-4 1-5 1-5 1-5 1-5 1-4 1-4 1-5 1-5 1-5 1-6 1-6 1-6 1-7 1-7 1-7 1-9 1-8 1-9 1-8 1-8 1-9 1-8 1-8 1-7 1-7 1-6 1-5 1-5 1-4 1-2 1-1 1 1 1 4 1 4 1 5 1 6 1 6 1 8 1 6 1 6 1 5 1 2 1 2 1 2 1 3 1 3 1 3 1 3 1 3 1 3 1 5 1 6 1 9 1 10 1 10 1 8 1 3 1-2 1-7 1-15 1-18 1-18 1-12 1-5 1 4 1 10 1 15 1 19 1 19 1 20 1 20 1 17 1 11 1 5 1 4 1 2 1 2 1 1 1 1 1-1 1 0 1-1 1-1 1-2 1-2 1-2 1-2 1-3 1-3"/>
<path d="M0 -177l1-2 1-3 1-3 1-3 1-3 1-4 1-4 1-4 1-4 1-3 1-5 1-4 1-5 1-4 1-4 1-3 1-2 1-3 1-4 1-4 1-4 1-5 1-6 1-6 1-6 1-7 1-8 1-7 1-9 1-8 1-8 1-8 1-8 1-8 1-7 1-7 1-6 1-6 1-5 1-4 1-3 1-2 1 1 1 2 1 4 1 4 1 5 1 6 1 6 1 7 1 5 1 4 1 2 1 2 1 2 1 2 1 3 1 3 1 3 1 4 1 4 1 5 1 8 1 10 1 12 1 12 1 10 1 5 1 0 1-6 1-13 1-17 1-17 1-12 1-4 1 4 1 11 1 16 1 19 1 18 1 20 1 19 1 16 1 9 1 5 1 3 1 3 1 1 1 1 1 0 1 0 1-1 1-1 1-2 1-1 1-2 1-3 1-3 1-3 1-2"/>
<path d="M0 -228l1-1 1-1 1-2 1-2 1-2 1-3 1-3 1-3 1-3 1-3 1-4 1-4 1-5 1-4 1-2 1-2 1-1 1-2 1-2 1-3 1-4 1-5 1-5 1-7 1-7 1-7 1-8 1-8 1-9 1-8 1-9 1-9 1-9 1-9 1-9 1-9 1-8 1-9 1-7 1-6 1-4 1-3 1 0 1 2 1 2 1 4 1 6 1 8 1 8 1 6 1 6 1 4 1 2 1 2 1 2 1 1 1 0 1 0 1-1 1-2 1-2 1-1 1 2 1 4 1 5 1 6 1 4 1-2 1-3 1-5 1-10 1-12 1-11 1-7 1-3 1 2 1 9 1 13 1 19 1 22 1 31 1 33 1 26 1 11 1 4 1 2 1 1 1 1 1 1 1 0 1 0 1-1 1-1 1-3 1-2 1-3 1-4 1-3 1-5 1-3"/>
<path d="M0 -243l1-2 1-3 1-3 1-3 1-4 1-4 1-3 1-4 1-4 1-5 1-5 1-5 1-6 1-5 1-3 1-3 1-2 1-2 1-2 1-3 1-3 1-5 1-6 1-7 1-8 1-8 1-8 1-10 1-11 1-11 1-12 1-13 1-15 1-15 1-15 1-12 1-8 1-5 1-4 1-3 1-2 1-1 1 3 1 6 1 8 1 8 1 7 1 8 1 7 1 6 1 5 1 2 1 1 1-1 1 0 1 1 1 2 1 1 1 2 1 3 1 2 1 4 1 6 1 8 1 11 1 11 1 9 1 5 1 2 1-1 1-7 1-10 1-10 1-5 1-2 1 4 1 10 1 15 1 20 1 24 1 28 1 28 1 25 1 14 1 7 1 4 1 2 1 2 1 1 1 1 1 0 1-1 1-2 1-2 1-2 1-3 1-3 1-3 1-5 1-3"/>
<path d="M0 -261l1-1 1-2 1-2 1-2 1-2 1-2 1-3 1-2 1-3 1-3 1-4 1-4 1-4 1-3 1-2 1-1 1 0 1 0 1-1 1-1 1-3 1-4 1-5 1-6 1-6 1-7 1-8 1-8 1-8 1-9 1-9 1-10 1-10 1-10 1-10 1-9 1-8 1-7 1-7 1-5 1-5 1-3 1 0 1 3 1 3 1 5 1 6 1 7 1 7 1 6 1 5 1 3 1 2 1 1 1 0 1 2 1 1 1 1 1 0 1 0 1 0 1 1 1 3 1 4 1 7 1 6 1 4 1 0 1-3 1-5 1-9 1-12 1-10 1-7 1-3 1 3 1 9 1 13 1 19 1 23 1 32 1 35 1 26 1 12 1 5 1 3 1 2 1 1 1 2 1 1 1 0 1-1 1-2 1-2 1-3 1-4 1-5 1-5 1-5 1-5"/>
<path d="M0 -233l1-2 1-1 1-2 1-2 1-3 1-3 1-3 1-4 1-3 1-5 1-5 1-5 1-6 1-6 1-4 1-4 1-3 1-3 1-4 1-3 1-5 1-5 1-7 1-8 1-8 1-8 1-10 1-10 1-11 1-12 1-12 1-13 1-15 1-16 1-14 1-12 1-8 1-5 1-4 1-2 1-2 1 0 1 3 1 7 1 8 1 8 1 8 1 8 1 8 1 7 1 5 1 4 1 1 1 2 1 1 1 2 1 2 1 3 1 3 1 2 1 4 1 4 1 8 1 10 1 13 1 13 1 12 1 4 1 2 1 0 1-10 1-12 1-11 1-7 1-2 1 3 1 10 1 14 1 21 1 23 1 26 1 24 1 24 1 15 1 7 1 5 1 3 1 2 1 2 1 1 1 0 1-1 1-1 1-1 1-2 1-2 1-3 1-2 1-4 1-3"/>
<path d="M0 -123l1-3 1-4 1-5 1-4 1-5 1-5 1-5 1-5 1-6 1-5 1-6 1-7 1-6 1-6 1-6 1-6 1-5 1-6 1-6 1-6 1-6 1-7 1-6 1-7 1-7 1-7 1-8 1-8 1-8 1-8 1-8 1-7 1-7 1-7 1-7 1-6 1-5 1-4 1-3 1-3 1-2 1 0 1 2 1 4 1 4 1 5 1 5 1 6 1 7 1 7 1 6 1 4 1 2 1 2 1 2 1 2 1 3 1 4 1 5 1 5 1 5 1 6 1 9 1 11 1 12 1 12 1 10 1 5 1 0 1-8 1-16 1-19 1-19 1-13 1-6 1 5 1 13 1 17 1 18 1 18 1 17 1 17 1 13 1 7 1 4 1 3 1 2 1 2 1 2 1 1 1 0 1 0 1-1 1-1 1-1 1-1 1-2 1-3 1-3 1-2"/>
<path d="M0 -122l1-3 1-3 1-4 1-4 1-4 1-4 1-4 1-5 1-4 1-5 1-6 1-5 1-6 1-6 1-6 1-7 1-6 1-7 1-6 1-7 1-6 1-7 1-7 1-7 1-7 1-8 1-8 1-9 1-9 1-9 1-8 1-8 1-8 1-8 1-7 1-6 1-6 1-4 1-4 1-3 1-2 1 0 1 2 1 4 1 5 1 5 1 6 1 7 1 7 1 7 1 6 1 4 1 3 1 2 1 2 1 2 1 4 1 4 1 4 1 5 1 6 1 7 1 9 1 11 1 13 1 12 1 11 1 6 1 0 1-8 1-16 1-20 1-19 1-15 1-6 1 4 1 13 1 17 1 17 1 17 1 17 1 17 1 13 1 7 1 4 1 3 1 2 1 3 1 1 1 1 1 1 1 0 1-1 1-1 1-1 1-1 1-2 1-3 1-3 1-2"/>
<path d="M0 -273l1-2 1-2 1-2 1-2 1-3 1-2 1-3 1-4 1-4 1-4 1-6 1-5 1-6 1-5 1-4 1-3 1-2 1-2 1-1 1-1 1-3 1-4 1-5 1-7 1-8 1-7 1-9 1-11 1-11 1-13 1-13 1-15 1-18 1-20 1-19 1-14 1-9 1-5 1-3 1-1 1-1 1 1 1 5 1 10 1 12 1 10 1 9 1 8 1 8 1 7 1 5 1 3 1 0 1-2 1-1 1 1 1 0 1 1 1 0 1 1 1 1 1 1 1 3 1 4 1 5 1 5 1 5 1 2 1 1 1-3 1-6 1-7 1-7 1-4 1-1 1 5 1 10 1 15 1 18 1 23 1 35 1 37 1 27 1 9 1 2 1 0 1 1 1 0 1 0 1 0 1 0 1-1 1-1 1-3 1-3 1-4 1-4 1-5 1-4 1-4"/>
<path d="M0 -215l1-1 1-2 1-2 1-2 1-3 1-4 1-3 1-4 1-3 1-4 1-5 1-5 1-5 1-4 1-3 1-2 1-2 1-1 1-3 1-3 1-4 1-4 1-6 1-6 1-6 1-8 1-7 1-8 1-8 1-8 1-8 1-8 1-9 1-8 1-7 1-8 1-7 1-7 1-6 1-4 1-4 1-2 1 1 1 2 1 3 1 4 1 6 1 7 1 8 1 6 1 5 1 3 1 3 1 2 1 1 1 2 1 2 1 2 1 1 1 2 1 2 1 4 1 7 1 10 1 12 1 13 1 10 1 5 1 1 1-4 1-11 1-14 1-14 1-9 1-3 1 5 1 11 1 16 1 20 1 22 1 22 1 22 1 19 1 12 1 6 1 4 1 3 1 2 1 1 1 1 1 0 1-1 1-1 1-2 1-2 1-2 1-3 1-3 1-4 1-3"/>
<path d="M0 -192l1-2 1-2 1-2 1-3 1-3 1-4 1-3 1-4 1-4 1-4 1-4 1-5 1-6 1-6 1-4 1-4 1-4 1-4 1-4 1-5 1-6 1-6 1-6 1-8 1-7 1-8 1-9 1-8 1-9 1-9 1-10 1-9 1-9 1-9 1-8 1-9 1-9 1-8 1-6 1-6 1-4 1-2 1 1 1 2 1 3 1 5 1 6 1 9 1 8 1 6 1 6 1 4 1 3 1 2 1 1 1 2 1 1 1 0 1 0 1 0 1 0 1 1 1 4 1 6 1 10 1 9 1 8 1 2 1-1 1-2 1-11 1-13 1-12 1-6 1-2 1 4 1 10 1 15 1 22 1 23 1 25 1 25 1 24 1 14 1 7 1 5 1 3 1 1 1 1 1 1 1-1 1-1 1-3 1-2 1-2 1-3 1-3 1-4 1-4 1-4"/>
<path d="M0 -214l1-2 1-2 1-2 1-3 1-3 1-4 1-4 1-3 1-4 1-4 1-4 1-4 1-5 1-4 1-3 1-1 1-2 1-1 1-2 1-3 1-4 1-4 1-6 1-5 1-7 1-7 1-7 1-8 1-7 1-9 1-8 1-8 1-9 1-8 1-8 1-8 1-7 1-7 1-7 1-5 1-4 1-3 1 0 1 2 1 2 1 3 1 6 1 7 1 7 1 5 1 5 1 4 1 2 1 2 1 2 1 2 1 2 1 3 1 2 1 2 1 3 1 5 1 9 1 11 1 13 1 14 1 12 1 6 1 2 1-3 1-11 1-14 1-14 1-9 1-3 1 4 1 12 1 16 1 20 1 21 1 21 1 21 1 18 1 11 1 5 1 4 1 2 1 2 1 1 1 1 1-1 1 0 1-2 1-2 1-1 1-3 1-3 1-3 1-3 1-4"/>
<path d="M0 -424l1 9 1 10 1 9 1 9 1 8 1 6 1 6 1 3 1 3 1 3 1 2 1 3 1 1 1 2 1 0 1 1 1 0 1-1 1-1 1-2 1-2 1-3 1-2 1-4 1-5 1-9 1-11 1-14 1-15 1-17 1-18 1-18 1-21 1-25 1-26 1-22 1-17 1-14 1-9 1-3 1-1 1 2 1 9 1 13 1 15 1 17 1 21 1 20 1 16 1 11 1 5 1 3 1 2 1 3 1 2 1 2 1 2 1 1 1 2 1 2 1 2 1 2 1 3 1 5 1 6 1 6 1 5 1 3 1 0 1-6 1-12 1-16 1-19 1-25 1-18 1-6 1 4 1 18 1 35 1 47 1 50 1 52 1 38 1 14 1 2 1 0 1 0 1 0 1-1 1 0 1-1 1-2 1-1 1-2 1-2 1-3 1-3 1-4 1-4 1-4"/>
<path d="M0 -383l1 8 1 8 1 9 1 7 1 7 1 5 1 3 1 1 1 0 1 0 1 0 1 0 1 0 1 0 1 0 1 0 1-1 1-1 1-3 1-4 1-4 1-5 1-6 1-5 1-7 1-8 1-11 1-14 1-15 1-15 1-15 1-15 1-12 1-13 1-13 1-12 1-12 1-11 1-10 1-9 1-7 1-7 1-5 1 0 1 8 1 14 1 17 1 20 1 22 1 15 1 6 1 4 1 3 1 2 1 2 1 1 1 2 1 1 1 1 1 2 1 2 1 3 1 3 1 5 1 6 1 6 1 5 1 3 1 0 1-7 1-14 1-15 1-15 1-9 1-1 1 6 1 9 1 15 1 30 1 47 1 48 1 33 1 9 1 1 1 0 1 0 1 0 1 0 1-1 1 0 1-1 1 0 1-1 1-1 1-1 1-2 1-1 1-2 1-2 1-2"/>
<path d="M0 -108l1-3 1-5 1-5 1-4 1-4 1-5 1-4 1-5 1-4 1-4 1-5 1-4 1-5 1-4 1-3 1-3 1-3 1-2 1-2 1-1 1-2 1-2 1-3 1-3 1-4 1-5 1-6 1-7 1-9 1-10 1-13 1-14 1-17 1-19 1-20 1-17 1-11 1-5 1-2 1-2 1-1 1-1 1 0 1 2 1 4 1 5 1 5 1 7 1 6 1 7 1 7 1 9 1 9 1 8 1 6 1 4 1 4 1 3 1 2 1 3 1 3 1 4 1 5 1 8 1 10 1 11 1 9 1 6 1 1 1-7 1-13 1-16 1-16 1-12 1-4 1 4 1 11 1 15 1 17 1 15 1 16 1 17 1 12 1 4 1 1 1 0 1 0 1 0 1 0 1 0 1-1 1 0 1 0 1-1 1 0 1-1 1-1 1-1 1-1 1-1"/>
</g>
<path d="M236.5 1302.7l4.2-.2 4.1-.3 4.2-.4 4.2-.4 4.1-.4 4.2-.5 4.2-.6 4.1-.6 4.2-.8 4.2-.8 4.1-.8 4.2-.9 4.1-1 4.2-.9 4.2-.9 4.1-1 4.2-1 4.2-1 4.1-1 4.2-1.1 4.2-1.2 4.1-1.2 4.2-1.4 4.2-1.5 4.1-1.5 4.2-1.5 4.2-1.5 4.1-1.4 4.2-1.1 4.1-1.1 4.2-.9 4.2-.9 4.1-.8 4.2-.7 4.2-.8 4.1-.8 4.2-.9 4.2-.9 4.1-1 4.2-1.1 4.2-1.2 4.1-1.3 4.2-1.3 4.2-1.4 4.1-1.4 4.2-1.6 4.2-1.6 4.1-1.7 4.2-1.8 4.2-1.9 4.1-1.9 4.2-1.9 4.1-1.9 4.2-2 4.2-2 4.1-2 4.2-2.1 4.2-2.1 4.1-2.1 4.2-2.2 4.2-2.2 4.1-2.2 4.2-2.3 4.2-2.2 4.1-2.2 4.2-2.2 4.2-2.2 4.1-2.1 4.2-2.2 4.1-2.1 4.2-2.1 4.2-2.3 4.1-2.2 4.2-2.2 4.2-2.1 4.1-2.1 4.2-1.9 4.2-1.7 4.1-1.5 4.2-1.3 4.2-1.2 4.1-1.1 4.2-1 4.2-.6 4.1-.2 4.2 0 4.2 .3 4.1 .4 4.2 .5 4.2 .6 4.1 .7 4.2 1 4.1 1.4 4.2 1.6 4.2 1.9 4.1 2 4.2 1.9 4.2 1.8 4.1 1.7 4.2 1.4 4.2 1.3 4.1 1.2 4.2 1 4.2 .9 4.1 .8 4.2 .7 4.2 .6 4.1 .6 4.2 .5 4.2 .5 4.1 .5 4.2 .4 4.1 .4 4.2 .4 4.2 .3 4.1 .2 4.2 .2 4.2 .1 4.1 .1 4.2 .1 4.2 .1 4.1 .3 4.2 .4 4.2 .7 4.1 1.1 4.2 1.4 4.2 1.8 4.1 2.1 4.2 2.6 4.2 2.9 4.1 2.8 4.2 2.7 4.1 2.6 4.2 1.9 4.2 .9 4.1 .3 4.2 .1 4.2-.1 4.1-.2 4.2-1 4.2-2.1 4.1-3 4.2-3.3 4.2-3.3 4.1-3.2 4.2-2.8 4.2-2.2 4.1-1.4 4.2-.9 4.1-.4 4.2 .4 4.2 1.2 4.1 2 4.2 2.5 4.2 3.2 4.1 4.1 4.2 4.9 4.2 5.4 4.1 5.7 4.2 5.8 4.2 6.2 4.1 6.4 4.2 6.3 4.2 6.2 4.1 6.1 4.2 5.7 4.2 4.5 4.1 3.1 4.2 2 4.2 1.6 4.1 1.2 4.2 1.1 4.1 .8 4.2 .6 4.2 .5 4.1 .4 4.2 .3 4.2 .3 4.1 .2 4.2 .1 4.2 0 4.1-.1 4.2-.3 4.2-.3 4.1-.4 4.2-.4 4.2-.5 4.1-.4 4.2-.5 4.1-.5 4.2-.6 4.2-.7 4.1-.6 4.2-.8 4.2-.7 4.1-.9 4.2-.8 4.2-.9 4.1-.9 4.2-.7" stroke="#ff0000" stroke-width="6.5"/>
</g>
<g clip-path="url(#c11)" fill="none" stroke-linejoin="round">
<g class="bl" stroke="#0000ff" stroke-width="1.8" transform="translate(1331.5,1405.5) scale(8.3200,0.5)">
<path d="M0 -339l1 11 1 14 1 13 1 12 1 10 1 8 1 5 1 2 1 0 1 0 1 0 1 0 1 0 1 0 1-1 1 0 1 0 1-1 1 0 1 0 1-1 1 0 1-1 1-1 1-1 1-4 1-6 1-9 1-10 1-12 1-16 1-22 1-25 1-24 1-20 1-15 1-13 1-10 1-5 1 0 1 4 1 8 1 9 1 11 1 11 1 11 1 11 1 8 1 7 1 4 1 3 1 1 1 1 1 1 1 1 1 1 1 0 1 1 1 1 1 2 1 1 1 3 1 5 1 9 1 12 1 11 1 10 1 7 1 0 1-7 1-15 1-22 1-27 1-29 1-30 1-30 1-28 1-26 1-28 1-24 1-13 1 3 1 16 1 17 1 10 1 3 1 0 1 0 1 0 1 0 1-1 1-1 1-3 1-4 1-5 1-6 1-7 1-8 1-8 1-6"/>
<path d="M0 -303l1 8 1 10 1 9 1 9 1 7 1 5 1 4 1 1 1 0 1-1 1-1 1-2 1-2 1-1 1-2 1 0 1 0 1 1 1 2 1 3 1 2 1 2 1 2 1 1 1-1 1-4 1-8 1-12 1-13 1-13 1-14 1-16 1-18 1-17 1-16 1-15 1-15 1-13 1-7 1 0 1 4 1 6 1 9 1 9 1 11 1 10 1 10 1 8 1 7 1 4 1 3 1 2 1 1 1 2 1 1 1 1 1 1 1 1 1 1 1 2 1 2 1 4 1 6 1 11 1 13 1 13 1 12 1 7 1 1 1-10 1-21 1-28 1-33 1-35 1-33 1-28 1-21 1-14 1-10 1-7 1-2 1 6 1 16 1 18 1 10 1 4 1 0 1 1 1 0 1 0 1 0 1-1 1-2 1-2 1-3 1-3 1-4 1-4 1-5 1-3"/>
<path d="M0 -281l1 10 1 12 1 11 1 10 1 8 1 6 1 4 1 1 1-1 1-2 1-4 1-5 1-5 1-4 1-3 1-2 1 0 1 1 1 1 1 1 1 2 1 1 1 1 1 1 1-1 1-4 1-8 1-11 1-12 1-12 1-14 1-14 1-16 1-16 1-15 1-14 1-14 1-12 1-6 1-1 1 4 1 6 1 9 1 9 1 10 1 10 1 10 1 8 1 6 1 4 1 2 1 2 1 1 1 1 1 1 1 0 1 1 1 1 1 1 1 1 1 2 1 3 1 5 1 10 1 12 1 13 1 10 1 7 1 0 1-11 1-21 1-29 1-34 1-35 1-32 1-26 1-17 1-8 1-5 1-2 1 1 1 10 1 21 1 24 1 15 1 5 1 1 1 1 1 1 1 0 1 0 1 0 1-1 1-1 1-1 1-1 1-2 1-2 1-2 1-2"/>
<path d="M0 -186l1 2 1 2 1 2 1 1 1 0 1 1 1 0 1-1 1-1 1-4 1-6 1-7 1-6 1-7 1-4 1-3 1-1 1-1 1 0 1 0 1 0 1-1 1 0 1-1 1-2 1-5 1-10 1-13 1-14 1-14 1-15 1-16 1-16 1-15 1-13 1-12 1-11 1-8 1-5 1 0 1 4 1 6 1 8 1 9 1 10 1 10 1 9 1 8 1 5 1 4 1 2 1 2 1 1 1 0 1 1 1 1 1 0 1 1 1 1 1 1 1 2 1 3 1 6 1 10 1 13 1 14 1 12 1 7 1 0 1-11 1-23 1-32 1-36 1-36 1-33 1-25 1-15 1-6 1 0 1 0 1 3 1 14 1 30 1 31 1 19 1 5 1 0 1-1 1-1 1 0 1-1 1-1 1 0 1-1 1-1 1-1 1-1 1-1 1-1 1-1"/>
<path d="M0 -172l1 4 1 4 1 3 1 3 1 1 1 1 1 0 1 0 1-2 1-5 1-7 1-8 1-8 1-8 1-6 1-4 1-2 1-1 1-1 1-1 1-1 1 0 1-1 1-2 1-2 1-6 1-8 1-11 1-12 1-12 1-14 1-16 1-17 1-16 1-14 1-13 1-12 1-9 1-5 1 0 1 3 1 6 1 8 1 8 1 10 1 9 1 9 1 8 1 6 1 5 1 3 1 2 1 2 1 1 1 2 1 1 1 1 1 2 1 1 1 3 1 2 1 4 1 7 1 12 1 14 1 14 1 12 1 8 1 0 1-12 1-23 1-32 1-37 1-37 1-34 1-26 1-15 1-5 1-1 1 0 1 4 1 14 1 30 1 32 1 19 1 5 1 0 1 0 1 0 1 0 1 0 1-1 1-1 1-2 1-3 1-3 1-3 1-4 1-4 1-3"/>
<path d="M0 -157l1 2 1 3 1 2 1 1 1 1 1 1 1 0 1 0 1-1 1-2 1-3 1-4 1-4 1-4 1-4 1-4 1-3 1-3 1-3 1-3 1-3 1-3 1-4 1-4 1-5 1-7 1-8 1-9 1-11 1-11 1-13 1-15 1-16 1-16 1-14 1-14 1-13 1-10 1-6 1 0 1 3 1 6 1 8 1 10 1 9 1 11 1 9 1 9 1 7 1 5 1 4 1 3 1 3 1 2 1 2 1 2 1 2 1 2 1 2 1 3 1 3 1 5 1 8 1 11 1 13 1 13 1 11 1 7 1 0 1-12 1-24 1-33 1-37 1-38 1-34 1-27 1-15 1-4 1 2 1 5 1 8 1 15 1 23 1 22 1 13 1 3 1 1 1 0 1 0 1 0 1-1 1 0 1-2 1-1 1-3 1-2 1-3 1-4 1-3 1-3"/>
<path d="M0 -143l1 3 1 3 1 2 1 3 1 1 1 2 1 0 1 1 1-1 1-1 1-1 1-2 1-2 1-2 1-2 1-3 1-3 1-3 1-4 1-5 1-5 1-5 1-6 1-5 1-6 1-5 1-5 1-5 1-7 1-10 1-14 1-21 1-23 1-23 1-18 1-15 1-12 1-9 1-5 1 0 1 4 1 6 1 8 1 9 1 10 1 10 1 10 1 9 1 7 1 6 1 4 1 4 1 3 1 3 1 2 1 3 1 2 1 3 1 2 1 4 1 3 1 5 1 7 1 10 1 11 1 11 1 10 1 6 1-1 1-12 1-23 1-32 1-36 1-36 1-33 1-25 1-15 1-5 1 1 1 3 1 6 1 13 1 23 1 23 1 14 1 5 1 1 1 0 1 1 1 0 1 0 1-1 1-1 1-3 1-2 1-3 1-4 1-4 1-4 1-4"/>
<path d="M0 -128l1 1 1 1 1 1 1 0 1 1 1 0 1 0 1 0 1-1 1-1 1-1 1-2 1-3 1-2 1-2 1-2 1-1 1-1 1-1 1-1 1-2 1-1 1-1 1-2 1-3 1-4 1-6 1-8 1-9 1-12 1-15 1-21 1-24 1-24 1-21 1-19 1-17 1-13 1-8 1 0 1 4 1 7 1 10 1 10 1 12 1 12 1 11 1 10 1 8 1 5 1 4 1 3 1 2 1 2 1 1 1 2 1 2 1 1 1 2 1 3 1 3 1 4 1 7 1 10 1 12 1 12 1 10 1 7 1-1 1-12 1-22 1-32 1-35 1-36 1-33 1-25 1-15 1-5 1 1 1 2 1 6 1 13 1 23 1 24 1 14 1 4 1 1 1 0 1 0 1 0 1 0 1 0 1-2 1-1 1-3 1-2 1-3 1-4 1-3 1-3"/>
<path d="M0 -107l1 0 1 0 1 0 1 0 1 0 1 0 1 0 1 0 1 1 1 1 1 1 1 1 1 2 1 1 1 1 1 0 1 0 1 0 1-2 1-1 1-2 1-3 1-3 1-3 1-4 1-7 1-8 1-12 1-12 1-15 1-17 1-20 1-22 1-23 1-21 1-21 1-20 1-17 1-9 1-1 1 4 1 7 1 9 1 11 1 12 1 12 1 11 1 9 1 8 1 5 1 3 1 2 1 2 1 2 1 1 1 1 1 2 1 1 1 2 1 2 1 2 1 4 1 8 1 11 1 14 1 14 1 12 1 8 1 0 1-11 1-23 1-32 1-36 1-36 1-33 1-26 1-14 1-5 1 2 1 4 1 7 1 13 1 21 1 20 1 12 1 4 1 1 1 1 1 0 1 0 1 0 1 0 1-2 1-1 1-2 1-3 1-3 1-4 1-3 1-3"/>
<path d="M0 -92l1 3 1 4 1 3 1 2 1 2 1 1 1 1 1 0 1-1 1-1 1-3 1-3 1-3 1-2 1-2 1-1 1-1 1 0 1 0 1 0 1 0 1 0 1 0 1 0 1-1 1-4 1-7 1-10 1-12 1-14 1-17 1-20 1-24 1-24 1-24 1-22 1-23 1-18 1-11 1-2 1 4 1 6 1 8 1 9 1 10 1 10 1 9 1 8 1 7 1 5 1 4 1 2 1 2 1 2 1 2 1 1 1 2 1 2 1 2 1 2 1 3 1 5 1 8 1 12 1 15 1 16 1 13 1 8 1 0 1-11 1-23 1-32 1-35 1-37 1-33 1-25 1-15 1-4 1 2 1 5 1 8 1 11 1 17 1 17 1 9 1 4 1 1 1 0 1 0 1 1 1 0 1-1 1-1 1-1 1-2 1-2 1-3 1-2 1-3 1-3"/>
<path d="M0 -66l1 3 1 4 1 3 1 3 1 2 1 1 1 1 1 0 1 0 1-2 1-2 1-3 1-3 1-3 1-3 1-1 1-2 1-1 1 0 1-1 1 0 1-1 1-1 1-1 1-2 1-4 1-7 1-8 1-11 1-12 1-16 1-21 1-23 1-25 1-23 1-23 1-22 1-19 1-10 1-1 1 5 1 9 1 12 1 13 1 14 1 15 1 13 1 11 1 8 1 5 1 3 1 2 1 2 1 1 1 1 1 0 1 1 1 1 1 2 1 1 1 2 1 3 1 7 1 11 1 14 1 15 1 12 1 8 1 0 1-13 1-25 1-35 1-39 1-41 1-36 1-28 1-16 1-5 1 4 1 6 1 10 1 15 1 22 1 20 1 12 1 3 1 1 1 0 1 0 1 0 1 0 1 0 1 0 1-1 1-1 1-1 1-1 1-1 1-2 1-1"/>
</g>
<path d="M1331.5 1316.3l4.2 .6 4.1 .9 4.2 .8 4.1 .8 4.2 .7 4.2 .6 4.1 .5 4.2 .5 4.1 .4 4.2 .4 4.2 .4 4.1 .3 4.2 .2 4.1 .1 4.2 .1 4.2 0 4.1 0 4.2 0 4.1 0 4.2 0 4.2 0 4.1-.2 4.2-.5 4.1-.9 4.2-1.1 4.2-1.2 4.1-1.2 4.2-1 4.1-.9 4.2-.7 4.2-.5 4.1-.6 4.2-.5 4.1-.4 4.2-.5 4.2-.5 4.1-.5 4.2-.5 4.1-.6 4.2-.6 4.2-.7 4.1-.8 4.2-.7 4.1-.7 4.2-.7 4.2-.6 4.1-.7 4.2-.6 4.1-.8 4.2-1.1 4.2-1.7 4.1-2.1 4.2-2.6 4.1-2.8 4.2-2.9 4.2-3.1 4.1-3.2 4.2-3.3 4.1-3.6 4.2-3.6 4.2-3.8 4.1-3.9 4.2-4.1 4.1-4.3 4.2-4.4 4.2-4.3 4.1-4.3 4.2-4.1 4.1-3.8 4.2-3.7 4.2-3.7 4.1-3.4 4.2-3.2 4.1-2.6 4.2-2 4.2-1.7 4.1-1.3 4.2-1.1 4.1-.7 4.2-.1 4.2 .5 4.1 1.1 4.2 1.6 4.1 1.7 4.2 1.9 4.2 1.9 4.1 2.1 4.2 2.3 4.1 2.4 4.2 2.5 4.2 2.5 4.1 2.6 4.2 2.7 4.1 2.8 4.2 2.9 4.2 2.8 4.1 2.7 4.2 2.3 4.1 2.1 4.2 1.7 4.2 1.4 4.1 1.4 4.2 1.3 4.1 1.7 4.2 2 4.2 2.3 4.1 2.2 4.2 1.7 4.1 1 4.2 .3 4.2 0 4.1-.2 4.2-.3 4.1-.4 4.2-.3 4.2-.5 4.1-.6 4.2-.9 4.1-1 4.2-1 4.2-.8 4.1-.4 4.2 0 4.1 .6 4.2 1 4.2 1.5 4.1 2.1 4.2 3 4.1 3.8 4.2 4.3 4.2 4.2 4.1 3.9 4.2 3.6 4.1 2.7 4.2 1.5 4.2 .7 4.1 .3 4.2 0 4.1-.4 4.2-1.7 4.2-3.9 4.1-6.5 4.2-9.6 4.1-12.3 4.2-13.3 4.2-13.1 4.1-11.9 4.2-9.9 4.1-7.8 4.2-6.6 4.2-6 4.1-5.2 4.2-3.8 4.1-2.3 4.2-1.4 4.2-.6 4.1 .2 4.2 1.1 4.1 1.8 4.2 2.5 4.2 3.3 4.1 4.2 4.2 5.1 4.1 5.8 4.2 6.1 4.2 5.3 4.1 4.2 4.2 3 4.1 2 4.2 1.4 4.2 1 4.1 .8 4.2 .6 4.1 .4 4.2 .3 4.2 .2 4.1 .2 4.2 .1 4.1 .1 4.2 0 4.2 0 4.1-.2 4.2-.3 4.1-.5 4.2-.5 4.2-.6 4.1-.6 4.2-.6 4.1-.6 4.2-.7 4.2-.7 4.1-.8 4.2-.8 4.1-.9 4.2-.9 4.2-1 4.1-1 4.2-1 4.1-1.1 4.2-.8" stroke="#ff0000" stroke-width="6.5"/>
</g>
<g clip-path="url(#c02)" fill="none" stroke-linejoin="round">
<path d="M236.5 2049.7l4.2-.5 4.1-.7 4.2-.8 4.2-.9 4.1-1 4.2-1 4.2-1 4.1-1.2 4.2-1.1 4.2-1.2 4.1-1.4 4.2-1.4 4.1-1.6 4.2-1.7 4.2-1.9 4.1-2.3 4.2-2.7 4.2-3 4.1-3.2 4.2-3.2 4.2-3.1 4.1-3.1 4.2-3 4.2-2.9 4.1-3 4.2-2.9 4.2-2.9 4.1-2.7 4.2-2.6 4.1-2.5 4.2-2.4 4.2-2.4 4.1-2.3 4.2-2.2 4.2-2.2 4.1-2.3 4.2-2.2 4.2-2.3 4.1-2.4 4.2-2.3 4.2-2.3 4.1-2.4 4.2-2.5 4.2-2.6 4.1-2.8 4.2-3.1 4.2-3.3 4.1-3.6 4.2-3.6 4.2-3.8 4.1-4 4.2-4 4.1-4.2 4.2-4.3 4.2-4.4 4.1-4.4 4.2-4.6 4.2-4.6 4.1-4.6 4.2-4.5 4.2-4.5 4.1-4.4 4.2-4.4 4.2-4.3 4.1-4.3 4.2-4.3 4.2-4 4.1-4 4.2-3.7 4.1-3.7 4.2-3.6 4.2-3.6 4.1-3.6 4.2-3.5 4.2-3.3 4.1-3.1 4.2-2.8 4.2-2.5 4.1-2.2 4.2-1.9 4.2-1.7 4.1-1.4 4.2-1.2 4.2-.8 4.1-.2 4.2 .7 4.2 1.4 4.1 2.1 4.2 2.6 4.2 2.7 4.1 2.9 4.2 2.9 4.1 3.3 4.2 3.6 4.2 4.1 4.1 4.5 4.2 5.4 4.2 6 4.1 6.2 4.2 5.5 4.2 4.8 4.1 4.4 4.2 4.2 4.2 4 4.1 4 4.2 3.9 4.2 3.5 4.1 3 4.2 2.2 4.2 1.3 4.1 1 4.2 .7 4.1 .6 4.2 .5 4.2 .7 4.1 .7 4.2 .8 4.2 .8 4.1 .9 4.2 1 4.2 1.2 4.1 1.4 4.2 1.8 4.2 2.3 4.1 3 4.2 3.6 4.2 4.2 4.1 5.1 4.2 5.9 4.2 6.1 4.1 5.7 4.2 5.1 4.1 4.5 4.2 3.8 4.2 3 4.1 2.3 4.2 2 4.2 1.3 4.1 .5 4.2-.6 4.2-1.9 4.1-2.9 4.2-3.2 4.2-3.2 4.1-3.2 4.2-2.7 4.2-1.1 4.1 1.1 4.2 3.2 4.1 4.4 4.2 5.3 4.2 6.3 4.1 7.4 4.2 8.4 4.2 9.6 4.1 10.8 4.2 11.8 4.2 12.2 4.1 12 4.2 11.9 4.2 11.8 4.1 11.3 4.2 10 4.2 8.3 4.1 7 4.2 5.7 4.2 4.3 4.1 2.7 4.2 1.9 4.2 1.3 4.1 1.1 4.2 .9 4.1 .7 4.2 .6 4.2 .6 4.1 .5 4.2 .5 4.2 .4 4.1 .3 4.2 .1 4.2 0 4.1-.3 4.2-.4 4.2-.6 4.1-.7 4.2-.8 4.2-.8 4.1-.8 4.2-.8 4.1-.8 4.2-.8 4.2-.9 4.1-.9 4.2-1 4.2-1 4.1-1.1 4.2-1.1 4.2-1.1 4.1-1.1 4.2-.8" stroke="#ff0000" stroke-width="6.3"/>
<path d="M236.5 2083.9l4.2-1.2 4.1-1.6 4.2-1.7 4.2-1.8 4.1-1.7 4.2-1.8 4.2-1.7 4.1-1.7 4.2-1.7 4.2-1.7 4.1-1.8 4.2-1.8 4.1-1.8 4.2-2 4.2-2.1 4.1-2.3 4.2-2.5 4.2-2.6 4.1-2.7 4.2-2.7 4.2-2.7 4.1-2.7 4.2-2.7 4.2-2.6 4.1-2.7 4.2-2.6 4.2-2.5 4.1-2.4 4.2-2.2 4.1-2 4.2-1.9 4.2-1.8 4.1-1.7 4.2-1.6 4.2-1.7 4.1-1.8 4.2-1.9 4.2-2.1 4.1-2.3 4.2-2.6 4.2-2.9 4.1-3.1 4.2-3.2 4.2-3.2 4.1-3.2 4.2-3.1 4.2-3.2 4.1-3.1 4.2-3.2 4.2-3.2 4.1-3.3 4.2-3.2 4.1-3.4 4.2-3.3 4.2-3.4 4.1-3.5 4.2-3.6 4.2-3.6 4.1-3.7 4.2-3.7 4.2-3.7 4.1-3.7 4.2-3.8 4.2-3.8 4.1-3.7 4.2-3.8 4.2-3.7 4.1-3.7 4.2-3.6 4.1-3.7 4.2-3.8 4.2-3.8 4.1-3.8 4.2-3.8 4.2-3.8 4.1-3.6 4.2-3.4 4.2-3.2 4.1-2.9 4.2-2.7 4.2-2.6 4.1-2.5 4.2-2.4 4.2-2 4.1-1.6 4.2-.8 4.2-.1 4.1 .7 4.2 1.3 4.2 1.6 4.1 1.8 4.2 1.9 4.1 2.3 4.2 2.5 4.2 2.7 4.1 2.9 4.2 2.9 4.2 3 4.1 2.9 4.2 3 4.2 3.1 4.1 2.9 4.2 2.7 4.2 2.1 4.1 1.7 4.2 1.5 4.2 1.3 4.1 1.1 4.2 .7 4.2 .6 4.1 .5 4.2 .3 4.1 .3 4.2 .3 4.2 .3 4.1 .4 4.2 .4 4.2 .4 4.1 .4 4.2 .5 4.2 .6 4.1 .8 4.2 1.2 4.2 2 4.1 2.7 4.2 3.4 4.2 4 4.1 4.7 4.2 5.3 4.2 5.5 4.1 5 4.2 4.3 4.1 3.6 4.2 2.9 4.2 1.8 4.1 1 4.2 .7 4.2 .4 4.1-.3 4.2-1.6 4.2-3.3 4.1-4.5 4.2-4.2 4.2-3.1 4.1-2.2 4.2-1.3 4.2-.6 4.1 .4 4.2 1.3 4.1 2.1 4.2 3.3 4.2 4.9 4.1 6.3 4.2 7.2 4.2 7.8 4.1 8.5 4.2 9.3 4.2 9.7 4.1 10.2 4.2 10.6 4.2 11.1 4.1 11.2 4.2 10.7 4.2 9.9 4.1 9.1 4.2 8.2 4.2 6.5 4.1 4.7 4.2 3.4 4.2 2.8 4.1 2.2 4.2 1.9 4.1 1.4 4.2 1.1 4.2 .7 4.1 .6 4.2 .5 4.2 .3 4.1 .3 4.2 .1 4.2 .1 4.1-.2 4.2-.2 4.2-.2 4.1-.4 4.2-.4 4.2-.4 4.1-.4 4.2-.5 4.1-.6 4.2-.7 4.2-.8 4.1-.9 4.2-1 4.2-1.1 4.1-1.1 4.2-1.2 4.2-1.3 4.1-1.2 4.2-1" stroke="#0000ff" stroke-width="6.3"/>
<path d="M236.5 2060.3l4.2-.3 4.1-.4 4.2-.4 4.2-.6 4.1-.6 4.2-.7 4.2-.7 4.1-.9 4.2-.9 4.2-1.1 4.1-1.2 4.2-1.2 4.1-1.2 4.2-1.3 4.2-1.2 4.1-1.3 4.2-1.3 4.2-1.3 4.1-1.4 4.2-1.5 4.2-1.5 4.1-1.7 4.2-1.8 4.2-2 4.1-2.1 4.2-2 4.2-2 4.1-1.8 4.2-1.5 4.1-1.4 4.2-1.3 4.2-1.1 4.1-1.1 4.2-1 4.2-1 4.1-1.1 4.2-1.2 4.2-1.2 4.1-1.4 4.2-1.4 4.2-1.6 4.1-1.7 4.2-1.8 4.2-1.8 4.1-2 4.2-2 4.2-2.2 4.1-2.3 4.2-2.4 4.2-2.4 4.1-2.6 4.2-2.5 4.1-2.6 4.2-2.7 4.2-2.6 4.1-2.7 4.2-2.7 4.2-2.9 4.1-2.8 4.2-2.9 4.2-3 4.1-3 4.2-2.9 4.2-3 4.1-3 4.2-2.9 4.2-2.9 4.1-2.9 4.2-2.8 4.1-2.8 4.2-2.9 4.2-3 4.1-2.9 4.2-3 4.2-2.8 4.1-2.8 4.2-2.5 4.2-2.3 4.1-2 4.2-1.8 4.2-1.6 4.1-1.5 4.2-1.2 4.2-.8 4.1-.4 4.2 .1 4.2 .3 4.1 .6 4.2 .7 4.2 .8 4.1 1 4.2 1.3 4.1 1.8 4.2 2.2 4.2 2.5 4.1 2.6 4.2 2.6 4.2 2.4 4.1 2.2 4.2 1.9 4.2 1.8 4.1 1.6 4.2 1.4 4.2 1.2 4.1 1 4.2 .9 4.2 .8 4.1 .8 4.2 .7 4.2 .6 4.1 .7 4.2 .6 4.1 .5 4.2 .5 4.2 .4 4.1 .3 4.2 .2 4.2 .2 4.1 .1 4.2 .2 4.2 .1 4.1 .3 4.2 .6 4.2 .9 4.1 1.5 4.2 1.9 4.2 2.3 4.1 2.9 4.2 3.5 4.2 3.8 4.1 3.7 4.2 3.7 4.1 3.4 4.2 2.5 4.2 1.3 4.1 .4 4.2 .1 4.2-.1 4.1-.3 4.2-1.4 4.2-2.8 4.1-4 4.2-4.4 4.2-4.3 4.1-4.3 4.2-3.8 4.2-2.9 4.1-1.9 4.2-1.2 4.1-.5 4.2 .5 4.2 1.6 4.1 2.7 4.2 3.4 4.2 4.3 4.1 5.4 4.2 6.5 4.2 7.2 4.1 7.6 4.2 7.8 4.2 8.3 4.1 8.5 4.2 8.4 4.2 8.3 4.1 8.2 4.2 7.5 4.2 6.1 4.1 4.1 4.2 2.7 4.2 2.1 4.1 1.6 4.2 1.4 4.1 1 4.2 .9 4.2 .6 4.1 .6 4.2 .5 4.2 .4 4.1 .2 4.2 .2 4.2-.1 4.1-.1 4.2-.4 4.2-.4 4.1-.5 4.2-.6 4.2-.6 4.1-.6 4.2-.7 4.1-.7 4.2-.8 4.2-.8 4.1-.9 4.2-1 4.2-1 4.1-1.1 4.2-1.2 4.2-1.2 4.1-1.1 4.2-.9" stroke="#00ff00" stroke-width="6.3"/>
<path d="M236.5 2078.4l4.2 .9 4.1 1.2 4.2 1.1 4.2 1 4.1 .9 4.2 .8 4.2 .7 4.1 .6 4.2 .6 4.2 .5 4.1 .5 4.2 .4 4.1 .3 4.2 .2 4.2 .1 4.1 0 4.2 0 4.2 0 4.1 0 4.2 0 4.2-.1 4.1-.2 4.2-.7 4.2-1.1 4.1-1.5 4.2-1.6 4.2-1.6 4.1-1.4 4.2-1.1 4.1-.9 4.2-.8 4.2-.7 4.1-.6 4.2-.7 4.2-.6 4.1-.6 4.2-.7 4.2-.7 4.1-.8 4.2-.9 4.2-.9 4.1-.9 4.2-1 4.2-1 4.1-.9 4.2-.9 4.2-.8 4.1-.9 4.2-1 4.2-1.5 4.1-2.2 4.2-2.9 4.1-3.4 4.2-3.8 4.2-3.9 4.1-4 4.2-4.3 4.2-4.5 4.1-4.7 4.2-4.9 4.2-5 4.1-5.2 4.2-5.5 4.2-5.7 4.1-5.9 4.2-5.8 4.2-5.7 4.1-5.4 4.2-5.2 4.1-4.9 4.2-4.9 4.2-4.6 4.1-4.2 4.2-3.5 4.2-2.7 4.1-2.2 4.2-1.8 4.2-1.4 4.1-.9 4.2-.2 4.2 .7 4.1 1.5 4.2 2 4.2 2.4 4.1 2.5 4.2 2.6 4.2 2.8 4.1 3 4.2 3.2 4.2 3.3 4.1 3.3 4.2 3.5 4.1 3.6 4.2 3.8 4.2 3.9 4.1 3.7 4.2 3.5 4.2 3.2 4.1 2.7 4.2 2.3 4.2 1.9 4.1 1.8 4.2 1.8 4.2 2.2 4.1 2.7 4.2 3.1 4.2 2.9 4.1 2.3 4.2 1.3 4.2 .5 4.1-.1 4.2-.3 4.1-.4 4.2-.4 4.2-.5 4.1-.6 4.2-.9 4.2-1.1 4.1-1.3 4.2-1.3 4.2-1.1 4.1-.6 4.2 0 4.2 .7 4.1 1.5 4.2 2 4.2 2.8 4.1 3.9 4.2 5.2 4.2 5.7 4.1 5.6 4.2 5.2 4.1 4.8 4.2 3.5 4.2 2.1 4.1 .9 4.2 .3 4.2 .2 4.1-.6 4.2-2.3 4.2-5.2 4.1-8.6 4.2-12.8 4.2-16.4 4.1-17.9 4.2-17.5 4.2-15.9 4.1-13.1 4.2-10.5 4.1-8.8 4.2-7.9 4.2-6.9 4.1-5.2 4.2-3.1 4.2-1.8 4.1-.8 4.2 .3 4.2 1.4 4.1 2.4 4.2 3.4 4.2 4.4 4.1 5.6 4.2 6.8 4.2 7.8 4.1 8 4.2 7.2 4.2 5.5 4.1 4.1 4.2 2.7 4.2 1.8 4.1 1.3 4.2 1.1 4.1 .8 4.2 .5 4.2 .4 4.1 .3 4.2 .2 4.2 .2 4.1 .1 4.2 .1 4.2-.1 4.1-.3 4.2-.4 4.2-.6 4.1-.7 4.2-.7 4.2-.8 4.1-.9 4.2-.8 4.1-.9 4.2-.9 4.2-1.1 4.1-1.1 4.2-1.1 4.2-1.3 4.1-1.3 4.2-1.3 4.2-1.4 4.1-1.4 4.2-1.1" stroke="#ff8000" stroke-width="6.3"/>
<circle cx="236.5" cy="2050.0" r="6" stroke="#ff0000" stroke-width="1.8" opacity=".9"/>
<circle cx="262.5" cy="2044.6" r="6" stroke="#ff0000" stroke-width="1.8" opacity=".9"/>
<circle cx="325.0" cy="2013.9" r="6" stroke="#ff0000" stroke-width="1.8" opacity=".9"/>
<circle cx="423.9" cy="1953.7" r="6" stroke="#ff0000" stroke-width="1.8" opacity=".9"/>
<circle cx="465.6" cy="1915.4" r="6" stroke="#ff0000" stroke-width="1.8" opacity=".9"/>
<circle cx="569.7" cy="1820.8" r="6" stroke="#ff0000" stroke-width="1.8" opacity=".9"/>
<circle cx="694.7" cy="1905.0" r="6" stroke="#ff0000" stroke-width="1.8" opacity=".9"/>
<circle cx="788.4" cy="1960.4" r="6" stroke="#ff0000" stroke-width="1.8" opacity=".9"/>
<circle cx="806.6" cy="1973.5" r="6" stroke="#ff0000" stroke-width="1.8" opacity=".9"/>
<circle cx="822.2" cy="1974.2" r="6" stroke="#ff0000" stroke-width="1.8" opacity=".9"/>
<circle cx="879.5" cy="1995.4" r="6" stroke="#ff0000" stroke-width="1.8" opacity=".9"/>
<circle cx="973.2" cy="2130.1" r="6" stroke="#ff0000" stroke-width="1.8" opacity=".9"/>
<circle cx="988.8" cy="2131.0" r="6" stroke="#ff0000" stroke-width="1.8" opacity=".9"/>
<circle cx="995.3" cy="2130.6" r="6" stroke="#ff0000" stroke-width="1.8" opacity=".9"/>
<circle cx="1001.8" cy="2129.8" r="6" stroke="#ff0000" stroke-width="1.8" opacity=".9"/>
<circle cx="1025.2" cy="2125.5" r="6" stroke="#ff0000" stroke-width="1.8" opacity=".9"/>
<circle cx="236.5" cy="2084.5" r="6" stroke="#0000ff" stroke-width="1.8" opacity=".9"/>
<circle cx="262.5" cy="2073.7" r="6" stroke="#0000ff" stroke-width="1.8" opacity=".9"/>
<circle cx="325.0" cy="2041.6" r="6" stroke="#0000ff" stroke-width="1.8" opacity=".9"/>
<circle cx="423.9" cy="1984.9" r="6" stroke="#0000ff" stroke-width="1.8" opacity=".9"/>
<circle cx="465.6" cy="1952.5" r="6" stroke="#0000ff" stroke-width="1.8" opacity=".9"/>
<circle cx="569.7" cy="1862.4" r="6" stroke="#0000ff" stroke-width="1.8" opacity=".9"/>
<circle cx="694.7" cy="1897.7" r="6" stroke="#0000ff" stroke-width="1.8" opacity=".9"/>
<circle cx="788.4" cy="1943.1" r="6" stroke="#0000ff" stroke-width="1.8" opacity=".9"/>
<circle cx="806.6" cy="1951.0" r="6" stroke="#0000ff" stroke-width="1.8" opacity=".9"/>
<circle cx="822.2" cy="1948.4" r="6" stroke="#0000ff" stroke-width="1.8" opacity=".9"/>
<circle cx="879.5" cy="1958.2" r="6" stroke="#0000ff" stroke-width="1.8" opacity=".9"/>
<circle cx="973.2" cy="2097.8" r="6" stroke="#0000ff" stroke-width="1.8" opacity=".9"/>
<circle cx="988.8" cy="2098.6" r="6" stroke="#0000ff" stroke-width="1.8" opacity=".9"/>
<circle cx="995.3" cy="2098.5" r="6" stroke="#0000ff" stroke-width="1.8" opacity=".9"/>
<circle cx="1001.8" cy="2098.1" r="6" stroke="#0000ff" stroke-width="1.8" opacity=".9"/>
<circle cx="1025.2" cy="2095.7" r="6" stroke="#0000ff" stroke-width="1.8" opacity=".9"/>
<circle cx="236.5" cy="2060.4" r="6" stroke="#00ff00" stroke-width="1.8" opacity=".9"/>
<circle cx="262.5" cy="2057.2" r="6" stroke="#00ff00" stroke-width="1.8" opacity=".9"/>
<circle cx="325.0" cy="2039.0" r="6" stroke="#00ff00" stroke-width="1.8" opacity=".9"/>
<circle cx="423.9" cy="2002.4" r="6" stroke="#00ff00" stroke-width="1.8" opacity=".9"/>
<circle cx="465.6" cy="1978.0" r="6" stroke="#00ff00" stroke-width="1.8" opacity=".9"/>
<circle cx="569.7" cy="1908.7" r="6" stroke="#00ff00" stroke-width="1.8" opacity=".9"/>
<circle cx="694.7" cy="1937.1" r="6" stroke="#00ff00" stroke-width="1.8" opacity=".9"/>
<circle cx="788.4" cy="1968.0" r="6" stroke="#00ff00" stroke-width="1.8" opacity=".9"/>
<circle cx="806.6" cy="1973.7" r="6" stroke="#00ff00" stroke-width="1.8" opacity=".9"/>
<circle cx="822.2" cy="1971.2" r="6" stroke="#00ff00" stroke-width="1.8" opacity=".9"/>
<circle cx="879.5" cy="1950.9" r="6" stroke="#00ff00" stroke-width="1.8" opacity=".9"/>
<circle cx="973.2" cy="2059.6" r="6" stroke="#00ff00" stroke-width="1.8" opacity=".9"/>
<circle cx="988.8" cy="2060.4" r="6" stroke="#00ff00" stroke-width="1.8" opacity=".9"/>
<circle cx="995.3" cy="2060.2" r="6" stroke="#00ff00" stroke-width="1.8" opacity=".9"/>
<circle cx="1001.8" cy="2059.6" r="6" stroke="#00ff00" stroke-width="1.8" opacity=".9"/>
<circle cx="1025.2" cy="2056.2" r="6" stroke="#00ff00" stroke-width="1.8" opacity=".9"/>
<circle cx="236.5" cy="2078.0" r="6" stroke="#ff8000" stroke-width="1.8" opacity=".9"/>
<circle cx="262.5" cy="2084.6" r="6" stroke="#ff8000" stroke-width="1.8" opacity=".9"/>
<circle cx="325.0" cy="2088.2" r="6" stroke="#ff8000" stroke-width="1.8" opacity=".9"/>
<circle cx="423.9" cy="2066.1" r="6" stroke="#ff8000" stroke-width="1.8" opacity=".9"/>
<circle cx="465.6" cy="2045.0" r="6" stroke="#ff8000" stroke-width="1.8" opacity=".9"/>
<circle cx="569.7" cy="1941.3" r="6" stroke="#ff8000" stroke-width="1.8" opacity=".9"/>
<circle cx="694.7" cy="2019.9" r="6" stroke="#ff8000" stroke-width="1.8" opacity=".9"/>
<circle cx="788.4" cy="2046.6" r="6" stroke="#ff8000" stroke-width="1.8" opacity=".9"/>
<circle cx="806.6" cy="2055.5" r="6" stroke="#ff8000" stroke-width="1.8" opacity=".9"/>
<circle cx="822.2" cy="2051.4" r="6" stroke="#ff8000" stroke-width="1.8" opacity=".9"/>
<circle cx="879.5" cy="1901.7" r="6" stroke="#ff8000" stroke-width="1.8" opacity=".9"/>
<circle cx="973.2" cy="1966.3" r="6" stroke="#ff8000" stroke-width="1.8" opacity=".9"/>
<circle cx="988.8" cy="1966.7" r="6" stroke="#ff8000" stroke-width="1.8" opacity=".9"/>
<circle cx="995.3" cy="1966.4" r="6" stroke="#ff8000" stroke-width="1.8" opacity=".9"/>
<circle cx="1001.8" cy="1965.5" r="6" stroke="#ff8000" stroke-width="1.8" opacity=".9"/>
<circle cx="1025.2" cy="1961.1" r="6" stroke="#ff8000" stroke-width="1.8" opacity=".9"/>
</g>
<g clip-path="url(#c12)" fill="none" stroke-linejoin="round">
<path d="M1331.5 2053.9l4.2-.6 4.1-.9 4.2-1 4.1-1.1 4.2-1.1 4.2-1.2 4.1-1.2 4.2-1.2 4.1-1.3 4.2-1.4 4.2-1.5 4.1-1.5 4.2-1.7 4.1-1.9 4.2-2.1 4.2-2.4 4.1-2.6 4.2-2.7 4.1-2.6 4.2-2.6 4.2-2.4 4.1-2.4 4.2-2.2 4.1-2.2 4.2-2.2 4.2-2.2 4.1-2.2 4.2-2.1 4.1-2.2 4.2-2.3 4.2-2.2 4.1-2.3 4.2-2.3 4.1-2.3 4.2-2.2 4.2-2.3 4.1-2.3 4.2-2.3 4.1-2.4 4.2-2.4 4.2-2.5 4.1-2.5 4.2-2.6 4.1-2.8 4.2-2.8 4.2-2.9 4.1-3.1 4.2-3.1 4.1-3.3 4.2-3.3 4.2-3.4 4.1-3.5 4.2-3.6 4.1-3.6 4.2-3.7 4.2-3.8 4.1-4.1 4.2-4.1 4.1-4.3 4.2-4.4 4.2-4.4 4.1-4.3 4.2-4.3 4.1-4.2 4.2-4 4.2-3.8 4.1-3.7 4.2-3.7 4.1-3.7 4.2-3.6 4.2-3.6 4.1-3.5 4.2-3.4 4.1-3.3 4.2-3.1 4.2-3 4.1-2.7 4.2-2.5 4.1-2.3 4.2-2 4.2-2 4.1-1.8 4.2-1.4 4.1-.8 4.2 .1 4.2 .8 4.1 1.4 4.2 2 4.1 2.3 4.2 2.6 4.2 2.8 4.1 3.3 4.2 3.9 4.1 4.3 4.2 4.5 4.2 4.7 4.1 4.8 4.2 4.8 4.1 4.9 4.2 4.6 4.2 4.5 4.1 4.3 4.2 3.8 4.1 3.3 4.2 2.9 4.2 2.7 4.1 2.5 4.2 2.1 4.1 1.8 4.2 1.5 4.2 1.1 4.1 .9 4.2 .8 4.1 .8 4.2 .7 4.2 .8 4.1 .9 4.2 .9 4.1 1 4.2 1.1 4.2 1.1 4.1 1.4 4.2 1.6 4.1 2.1 4.2 2.9 4.2 3.7 4.1 4.5 4.2 4.7 4.1 4.8 4.2 4.9 4.2 5 4.1 4.9 4.2 4.5 4.1 4.3 4.2 3.7 4.2 2.5 4.1 1.2 4.2 .3 4.1 0 4.2-.4 4.2-1.1 4.1-2.1 4.2-3 4.1-3 4.2-2.6 4.2-1.3 4.1 .2 4.2 1.7 4.1 2.9 4.2 3.7 4.2 4.4 4.1 5.2 4.2 6.2 4.1 6.9 4.2 7.6 4.2 8.3 4.1 9.1 4.2 9.6 4.1 9.8 4.2 9.9 4.2 9.9 4.1 10.2 4.2 10.2 4.1 9.7 4.2 8.5 4.2 7.1 4.1 5.7 4.2 4.5 4.1 3.4 4.2 2.1 4.2 1.4 4.1 1 4.2 .8 4.1 .6 4.2 .7 4.2 .7 4.1 .7 4.2 .9 4.1 .7 4.2 .6 4.2 .2 4.1-.1 4.2-.3 4.1-.4 4.2-.6 4.2-.6 4.1-.7 4.2-.7 4.1-.8 4.2-.8 4.2-.8 4.1-1 4.2-1.1 4.1-1.2 4.2-1.3 4.2-1.4 4.1-1.4 4.2-1.5 4.1-1.5 4.2-1.1" stroke="#ff0000" stroke-width="6.3"/>
<path d="M1331.5 2056.4l4.2-1.1 4.1-1.5 4.2-1.6 4.1-1.7 4.2-1.7 4.2-1.8 4.1-1.8 4.2-1.9 4.1-1.9 4.2-2 4.2-2 4.1-2.2 4.2-2.4 4.1-2.6 4.2-3 4.2-3.2 4.1-3.4 4.2-3.6 4.1-3.5 4.2-3.3 4.2-3.2 4.1-3 4.2-2.9 4.1-2.7 4.2-2.8 4.2-2.7 4.1-2.7 4.2-2.7 4.1-2.7 4.2-2.7 4.2-2.8 4.1-2.9 4.2-2.8 4.1-2.9 4.2-2.8 4.2-2.9 4.1-2.9 4.2-2.9 4.1-3 4.2-2.9 4.2-3 4.1-3.1 4.2-3.1 4.1-3.1 4.2-3.2 4.2-3.2 4.1-3.2 4.2-3.3 4.1-3.3 4.2-3.3 4.2-3.5 4.1-3.6 4.2-3.7 4.1-3.8 4.2-4 4.2-4.3 4.1-4.6 4.2-4.9 4.1-5 4.2-5.3 4.2-5.3 4.1-5.2 4.2-5.2 4.1-5.1 4.2-4.8 4.2-4.5 4.1-4.4 4.2-4.4 4.1-4.3 4.2-4.3 4.2-4.2 4.1-4.2 4.2-4 4.1-3.9 4.2-3.7 4.2-3.4 4.1-3.2 4.2-2.8 4.1-2.6 4.2-2.3 4.2-2.2 4.1-2.1 4.2-2 4.1-1.9 4.2-1.5 4.2-1.2 4.1-.8 4.2-.3 4.1 .3 4.2 .7 4.2 1 4.1 1.5 4.2 1.8 4.1 2 4.2 2.3 4.2 2.7 4.1 3.6 4.2 4.5 4.1 4.9 4.2 4.5 4.2 3.9 4.1 3.6 4.2 3 4.1 2.5 4.2 2.2 4.2 1.9 4.1 1.7 4.2 1.4 4.1 1.3 4.2 1 4.2 .8 4.1 .7 4.2 .6 4.1 .6 4.2 .5 4.2 .6 4.1 .7 4.2 .6 4.1 .6 4.2 .7 4.2 .8 4.1 .9 4.2 1.1 4.1 1.7 4.2 2.6 4.2 3.7 4.1 4.5 4.2 4.8 4.1 4.9 4.2 5 4.2 5.1 4.1 4.8 4.2 4.3 4.1 3.9 4.2 3.3 4.2 2.2 4.1 1 4.2 .2 4.1 0 4.2-.6 4.2-1.8 4.1-3.4 4.2-4.7 4.1-4.9 4.2-4 4.2-2.4 4.1-.3 4.2 1.4 4.1 2.6 4.2 3.2 4.2 4.1 4.1 5 4.2 6.2 4.1 7 4.2 7.9 4.2 8.8 4.1 9.9 4.2 10.6 4.1 11.1 4.2 11.4 4.2 11.6 4.1 12.2 4.2 12.5 4.1 12.3 4.2 11.7 4.2 10.8 4.1 10 4.2 8.9 4.1 6.9 4.2 4.5 4.2 2.9 4.1 2.1 4.2 1.8 4.1 1.4 4.2 1.2 4.2 1 4.1 1 4.2 .9 4.1 .8 4.2 .5 4.2 .1 4.1-.1 4.2-.4 4.1-.6 4.2-.7 4.2-.9 4.1-.9 4.2-.9 4.1-1 4.2-1 4.2-1 4.1-1.2 4.2-1.2 4.1-1.3 4.2-1.5 4.2-1.5 4.1-1.5 4.2-1.6 4.1-1.6 4.2-1.2" stroke="#0000ff" stroke-width="6.3"/>
<path d="M1331.5 1998.9l4.2-.4 4.1-.6 4.2-.7 4.1-1 4.2-1 4.2-1.2 4.1-1.3 4.2-1.5 4.1-1.9 4.2-2 4.2-2.3 4.1-2.3 4.2-2.4 4.1-2.4 4.2-2.3 4.2-2.5 4.1-2.5 4.2-2.5 4.1-2.6 4.2-2.5 4.2-2.6 4.1-2.5 4.2-2.6 4.1-2.5 4.2-2.6 4.2-2.5 4.1-2.6 4.2-2.5 4.1-2.4 4.2-2.4 4.2-2.3 4.1-2.2 4.2-2.2 4.1-2 4.2-2 4.2-1.9 4.1-1.9 4.2-1.9 4.1-1.9 4.2-2 4.2-2.1 4.1-2.1 4.2-2.3 4.1-2.5 4.2-2.6 4.2-2.9 4.1-3.1 4.2-3.2 4.1-3.5 4.2-3.5 4.2-3.7 4.1-3.7 4.2-3.8 4.1-3.8 4.2-3.8 4.2-3.9 4.1-3.9 4.2-4.1 4.1-4.1 4.2-4.2 4.2-4.2 4.1-4.3 4.2-4.3 4.1-4.2 4.2-4.3 4.2-4.3 4.1-4.4 4.2-4.6 4.1-4.9 4.2-5 4.2-5.1 4.1-5.1 4.2-4.9 4.1-4.7 4.2-4.4 4.2-3.9 4.1-3.4 4.2-2.8 4.1-2 4.2-1.5 4.2-1.2 4.1-1 4.2-.9 4.1-.8 4.2-.6 4.2-.5 4.1-.3 4.2 0 4.1 .4 4.2 .9 4.2 1.4 4.1 1.8 4.2 2.1 4.1 2.2 4.2 2.3 4.2 2.5 4.1 2.5 4.2 2.9 4.1 3 4.2 3 4.2 2.9 4.1 2.9 4.2 2.5 4.1 2.2 4.2 1.8 4.2 1.7 4.1 1.4 4.2 1.3 4.1 1 4.2 .9 4.2 .6 4.1 .5 4.2 .4 4.1 .4 4.2 .3 4.2 .4 4.1 .3 4.2 .4 4.1 .3 4.2 .3 4.2 .4 4.1 .4 4.2 .6 4.1 1.1 4.2 1.9 4.2 3.1 4.1 3.9 4.2 4.3 4.1 4.6 4.2 4.9 4.2 5.2 4.1 4.8 4.2 4 4.1 3.1 4.2 2.4 4.2 1.6 4.1 .5 4.2-.1 4.1-.5 4.2-1.2 4.2-2.6 4.1-4.2 4.2-5.4 4.1-5.4 4.2-4.7 4.2-4 4.1-3.3 4.2-2.6 4.1-1.2 4.2 .3 4.2 1.7 4.1 2.9 4.2 3.8 4.1 4.5 4.2 5.5 4.2 7.4 4.1 9.4 4.2 11.1 4.1 11.7 4.2 11.9 4.2 11.8 4.1 12.2 4.2 12.3 4.1 11.9 4.2 10.7 4.2 9.1 4.1 7.6 4.2 6.3 4.1 4.8 4.2 3.3 4.2 2.3 4.1 1.7 4.2 1.4 4.1 1.3 4.2 1.1 4.2 1.2 4.1 1.2 4.2 1.3 4.1 1.1 4.2 .8 4.2 .2 4.1-.2 4.2-.6 4.1-.9 4.2-1.2 4.2-1.2 4.1-1.4 4.2-1.4 4.1-1.3 4.2-1.4 4.2-1.4 4.1-1.4 4.2-1.5 4.1-1.7 4.2-1.6 4.2-1.8 4.1-1.8 4.2-1.9 4.1-1.8 4.2-1.4" stroke="#00ff00" stroke-width="6.3"/>
<path d="M1331.5 2007.2l4.2 2 4.1 2.6 4.2 2.6 4.1 2.3 4.2 1.9 4.2 1.5 4.1 1.2 4.2 1 4.1 .8 4.2 .8 4.2 .6 4.1 .5 4.2 .3 4.1 0 4.2 0 4.2-.1 4.1-.2 4.2-.2 4.1-.3 4.2-.4 4.2-.6 4.1-1.1 4.2-1.7 4.1-2.3 4.2-2.7 4.2-2.9 4.1-3 4.2-3 4.1-2.7 4.2-2.4 4.2-2 4.1-1.6 4.2-1.3 4.1-1.1 4.2-1.1 4.2-.9 4.1-.9 4.2-.9 4.1-.8 4.2-1 4.2-1 4.1-1.1 4.2-1.3 4.1-1.4 4.2-1.7 4.2-1.9 4.1-2.2 4.2-2.5 4.1-2.7 4.2-3 4.2-3.3 4.1-3.5 4.2-3.7 4.1-4.1 4.2-4.4 4.2-5.1 4.1-6 4.2-6.7 4.1-7.4 4.2-7.9 4.2-8 4.1-8.1 4.2-8.2 4.1-8.3 4.2-8.6 4.2-8.9 4.1-8.9 4.2-9 4.1-8.8 4.2-8.9 4.2-9.1 4.1-9.2 4.2-8.8 4.1-8 4.2-6.6 4.2-5.5 4.1-4.6 4.2-3.6 4.1-2.1 4.2-.3 4.2 1.5 4.1 2.8 4.2 3.5 4.1 3.9 4.2 4.5 4.2 5.1 4.1 5.7 4.2 5.9 4.1 5.8 4.2 5.5 4.2 5 4.1 4.6 4.2 4.3 4.1 4.1 4.2 4 4.2 3.9 4.1 3.9 4.2 3.9 4.1 4 4.2 4.2 4.2 4.2 4.1 4.2 4.2 4.1 4.1 4 4.2 4.1 4.2 4.1 4.1 3.9 4.2 3.2 4.1 2.1 4.2 1 4.2 .2 4.1-.2 4.2-.3 4.1-.5 4.2-.5 4.2-.6 4.1-.8 4.2-1 4.1-1.4 4.2-1.6 4.2-1.5 4.1-1.4 4.2-.9 4.1 0 4.2 1.2 4.2 2.7 4.1 3.9 4.2 4.9 4.1 6.1 4.2 7.9 4.2 9.2 4.1 9.4 4.2 8.6 4.1 7.9 4.2 6.5 4.2 4.3 4.1 1.6 4.2-.2 4.1-1.3 4.2-2.5 4.2-5.8 4.1-11.4 4.2-17.2 4.1-21.4 4.2-24.7 4.2-26.7 4.1-27 4.2-26.3 4.1-24.4 4.2-21.5 4.2-18 4.1-13.6 4.2-9.7 4.1-7.1 4.2-4.8 4.2-2.4 4.1 .3 4.2 2.4 4.1 3.8 4.2 5.2 4.2 6.8 4.1 8.9 4.2 10.6 4.1 11.6 4.2 12.2 4.2 12 4.1 10.2 4.2 7.5 4.1 5.4 4.2 3.8 4.2 2.5 4.1 1.5 4.2 1 4.1 .8 4.2 .7 4.2 .5 4.1 .4 4.2 .4 4.1 .3 4.2 .3 4.2 .1 4.1 0 4.2-.3 4.1-.7 4.2-1 4.2-1.4 4.1-1.6 4.2-1.6 4.1-1.7 4.2-1.7 4.2-1.9 4.1-1.9 4.2-2.1 4.1-2.3 4.2-2.4 4.2-2.5 4.1-2.6 4.2-2.8 4.1-2.7 4.2-2.1" stroke="#ff8000" stroke-width="6.3"/>
<circle cx="1331.5" cy="2054.3" r="6" stroke="#ff0000" stroke-width="1.8" opacity=".9"/>
<circle cx="1357.5" cy="2047.8" r="6" stroke="#ff0000" stroke-width="1.8" opacity=".9"/>
<circle cx="1419.9" cy="2018.2" r="6" stroke="#ff0000" stroke-width="1.8" opacity=".9"/>
<circle cx="1518.7" cy="1962.8" r="6" stroke="#ff0000" stroke-width="1.8" opacity=".9"/>
<circle cx="1560.3" cy="1929.3" r="6" stroke="#ff0000" stroke-width="1.8" opacity=".9"/>
<circle cx="1664.3" cy="1839.4" r="6" stroke="#ff0000" stroke-width="1.8" opacity=".9"/>
<circle cx="1789.1" cy="1914.7" r="6" stroke="#ff0000" stroke-width="1.8" opacity=".9"/>
<circle cx="1882.7" cy="1967.7" r="6" stroke="#ff0000" stroke-width="1.8" opacity=".9"/>
<circle cx="1900.9" cy="1981.7" r="6" stroke="#ff0000" stroke-width="1.8" opacity=".9"/>
<circle cx="1916.5" cy="1981.4" r="6" stroke="#ff0000" stroke-width="1.8" opacity=".9"/>
<circle cx="1973.7" cy="2002.0" r="6" stroke="#ff0000" stroke-width="1.8" opacity=".9"/>
<circle cx="2067.3" cy="2130.8" r="6" stroke="#ff0000" stroke-width="1.8" opacity=".9"/>
<circle cx="2082.9" cy="2133.4" r="6" stroke="#ff0000" stroke-width="1.8" opacity=".9"/>
<circle cx="2089.4" cy="2133.2" r="6" stroke="#ff0000" stroke-width="1.8" opacity=".9"/>
<circle cx="2095.9" cy="2132.6" r="6" stroke="#ff0000" stroke-width="1.8" opacity=".9"/>
<circle cx="2119.3" cy="2128.9" r="6" stroke="#ff0000" stroke-width="1.8" opacity=".9"/>
<circle cx="1331.5" cy="2057.0" r="6" stroke="#0000ff" stroke-width="1.8" opacity=".9"/>
<circle cx="1357.5" cy="2046.6" r="6" stroke="#0000ff" stroke-width="1.8" opacity=".9"/>
<circle cx="1419.9" cy="2006.2" r="6" stroke="#0000ff" stroke-width="1.8" opacity=".9"/>
<circle cx="1518.7" cy="1937.8" r="6" stroke="#0000ff" stroke-width="1.8" opacity=".9"/>
<circle cx="1560.3" cy="1903.0" r="6" stroke="#0000ff" stroke-width="1.8" opacity=".9"/>
<circle cx="1664.3" cy="1797.0" r="6" stroke="#0000ff" stroke-width="1.8" opacity=".9"/>
<circle cx="1789.1" cy="1837.4" r="6" stroke="#0000ff" stroke-width="1.8" opacity=".9"/>
<circle cx="1882.7" cy="1886.2" r="6" stroke="#0000ff" stroke-width="1.8" opacity=".9"/>
<circle cx="1900.9" cy="1898.6" r="6" stroke="#0000ff" stroke-width="1.8" opacity=".9"/>
<circle cx="1916.5" cy="1898.1" r="6" stroke="#0000ff" stroke-width="1.8" opacity=".9"/>
<circle cx="1973.7" cy="1908.5" r="6" stroke="#0000ff" stroke-width="1.8" opacity=".9"/>
<circle cx="2067.3" cy="2078.3" r="6" stroke="#0000ff" stroke-width="1.8" opacity=".9"/>
<circle cx="2082.9" cy="2080.9" r="6" stroke="#0000ff" stroke-width="1.8" opacity=".9"/>
<circle cx="2089.4" cy="2080.6" r="6" stroke="#0000ff" stroke-width="1.8" opacity=".9"/>
<circle cx="2095.9" cy="2079.8" r="6" stroke="#0000ff" stroke-width="1.8" opacity=".9"/>
<circle cx="2119.3" cy="2074.9" r="6" stroke="#0000ff" stroke-width="1.8" opacity=".9"/>
<circle cx="1331.5" cy="1999.1" r="6" stroke="#00ff00" stroke-width="1.8" opacity=".9"/>
<circle cx="1357.5" cy="1993.8" r="6" stroke="#00ff00" stroke-width="1.8" opacity=".9"/>
<circle cx="1419.9" cy="1959.8" r="6" stroke="#00ff00" stroke-width="1.8" opacity=".9"/>
<circle cx="1518.7" cy="1906.0" r="6" stroke="#00ff00" stroke-width="1.8" opacity=".9"/>
<circle cx="1560.3" cy="1870.9" r="6" stroke="#00ff00" stroke-width="1.8" opacity=".9"/>
<circle cx="1664.3" cy="1768.3" r="6" stroke="#00ff00" stroke-width="1.8" opacity=".9"/>
<circle cx="1789.1" cy="1806.7" r="6" stroke="#00ff00" stroke-width="1.8" opacity=".9"/>
<circle cx="1882.7" cy="1848.5" r="6" stroke="#00ff00" stroke-width="1.8" opacity=".9"/>
<circle cx="1900.9" cy="1857.7" r="6" stroke="#00ff00" stroke-width="1.8" opacity=".9"/>
<circle cx="1916.5" cy="1855.3" r="6" stroke="#00ff00" stroke-width="1.8" opacity=".9"/>
<circle cx="1973.7" cy="1836.8" r="6" stroke="#00ff00" stroke-width="1.8" opacity=".9"/>
<circle cx="2067.3" cy="1992.4" r="6" stroke="#00ff00" stroke-width="1.8" opacity=".9"/>
<circle cx="2082.9" cy="1996.3" r="6" stroke="#00ff00" stroke-width="1.8" opacity=".9"/>
<circle cx="2089.4" cy="1995.9" r="6" stroke="#00ff00" stroke-width="1.8" opacity=".9"/>
<circle cx="2095.9" cy="1994.6" r="6" stroke="#00ff00" stroke-width="1.8" opacity=".9"/>
<circle cx="2119.3" cy="1987.3" r="6" stroke="#00ff00" stroke-width="1.8" opacity=".9"/>
<circle cx="1331.5" cy="2006.1" r="6" stroke="#ff8000" stroke-width="1.8" opacity=".9"/>
<circle cx="1357.5" cy="2020.6" r="6" stroke="#ff8000" stroke-width="1.8" opacity=".9"/>
<circle cx="1419.9" cy="2023.6" r="6" stroke="#ff8000" stroke-width="1.8" opacity=".9"/>
<circle cx="1518.7" cy="1983.7" r="6" stroke="#ff8000" stroke-width="1.8" opacity=".9"/>
<circle cx="1560.3" cy="1952.6" r="6" stroke="#ff8000" stroke-width="1.8" opacity=".9"/>
<circle cx="1664.3" cy="1774.8" r="6" stroke="#ff8000" stroke-width="1.8" opacity=".9"/>
<circle cx="1789.1" cy="1897.1" r="6" stroke="#ff8000" stroke-width="1.8" opacity=".9"/>
<circle cx="1882.7" cy="1936.2" r="6" stroke="#ff8000" stroke-width="1.8" opacity=".9"/>
<circle cx="1900.9" cy="1961.3" r="6" stroke="#ff8000" stroke-width="1.8" opacity=".9"/>
<circle cx="1916.5" cy="1955.9" r="6" stroke="#ff8000" stroke-width="1.8" opacity=".9"/>
<circle cx="1973.7" cy="1698.4" r="6" stroke="#ff8000" stroke-width="1.8" opacity=".9"/>
<circle cx="2067.3" cy="1802.5" r="6" stroke="#ff8000" stroke-width="1.8" opacity=".9"/>
<circle cx="2082.9" cy="1803.6" r="6" stroke="#ff8000" stroke-width="1.8" opacity=".9"/>
<circle cx="2089.4" cy="1803.8" r="6" stroke="#ff8000" stroke-width="1.8" opacity=".9"/>
<circle cx="2095.9" cy="1803.1" r="6" stroke="#ff8000" stroke-width="1.8" opacity=".9"/>
<circle cx="2119.3" cy="1794.7" r="6" stroke="#ff8000" stroke-width="1.8" opacity=".9"/>
</g>
<g font-family="Liberation Serif, Times New Roman, serif">
<rect x="236.5" y="42.5" width="833.0" height="570.0" fill="none" stroke="#262626" stroke-width="3.6"/>
<path d="M236.5 612.5v-11M236.5 42.5v11M444.8 612.5v-11M444.8 42.5v11M653.0 612.5v-11M653.0 42.5v11M861.2 612.5v-11M861.2 42.5v11M1069.5 612.5v-11M1069.5 42.5v11M236.5 612.5h11M1069.5 612.5h-11M236.5 470.0h11M1069.5 470.0h-11M236.5 327.5h11M1069.5 327.5h-11M236.5 185.0h11M1069.5 185.0h-11M236.5 42.5h11M1069.5 42.5h-11" stroke="#262626" stroke-width="3.2" fill="none"/>
<text x="115.5" y="629.0" font-size="46" textLength="101.6" lengthAdjust="spacingAndGlyphs" fill="#1e1e1e" >0.000</text>
<text x="115.5" y="486.5" font-size="46" textLength="102.3" lengthAdjust="spacingAndGlyphs" fill="#1e1e1e" >0.002</text>
<text x="115.5" y="344.0" font-size="46" textLength="100.5" lengthAdjust="spacingAndGlyphs" fill="#1e1e1e" >0.004</text>
<text x="115.5" y="201.5" font-size="46" textLength="101.1" lengthAdjust="spacingAndGlyphs" fill="#1e1e1e" >0.006</text>
<text x="115.5" y="59.0" font-size="46" textLength="101.6" lengthAdjust="spacingAndGlyphs" fill="#1e1e1e" >0.008</text>
<text x="202.6" y="672.6" font-size="46" textLength="68.8" lengthAdjust="spacingAndGlyphs" fill="#1e1e1e" >400</text>
<text x="408.9" y="672.6" font-size="46" textLength="70.7" lengthAdjust="spacingAndGlyphs" fill="#1e1e1e" >500</text>
<text x="617.9" y="672.6" font-size="46" textLength="70.0" lengthAdjust="spacingAndGlyphs" fill="#1e1e1e" >600</text>
<text x="825.2" y="672.6" font-size="46" textLength="71.0" lengthAdjust="spacingAndGlyphs" fill="#1e1e1e" >700</text>
<text x="1034.6" y="672.6" font-size="46" textLength="69.7" lengthAdjust="spacingAndGlyphs" fill="#1e1e1e" >800</text>
<text x="476.5" y="733.0" font-size="50" textLength="355.3" lengthAdjust="spacingAndGlyphs" fill="#1e1e1e" >Wavelength (nm)</text>
<text transform="translate(68.9,374.0) rotate(-90)" font-style="italic" fill="#1e1e1e"><tspan x="-1" y="0" font-size="51">NR</tspan><tspan x="66" y="25.8" font-size="36">rs</tspan></text>
<rect x="236.5" y="835.5" width="833.0" height="570.0" fill="none" stroke="#262626" stroke-width="3.6"/>
<path d="M236.5 1405.5v-11M236.5 835.5v11M444.8 1405.5v-11M444.8 835.5v11M653.0 1405.5v-11M653.0 835.5v11M861.2 1405.5v-11M861.2 835.5v11M1069.5 1405.5v-11M1069.5 835.5v11M236.5 1405.5h11M1069.5 1405.5h-11M236.5 1263.0h11M1069.5 1263.0h-11M236.5 1120.5h11M1069.5 1120.5h-11M236.5 978.0h11M1069.5 978.0h-11M236.5 835.5h11M1069.5 835.5h-11" stroke="#262626" stroke-width="3.2" fill="none"/>
<text x="115.5" y="1422.0" font-size="46" textLength="101.6" lengthAdjust="spacingAndGlyphs" fill="#1e1e1e" >0.000</text>
<text x="115.5" y="1279.5" font-size="46" textLength="102.3" lengthAdjust="spacingAndGlyphs" fill="#1e1e1e" >0.002</text>
<text x="115.5" y="1137.0" font-size="46" textLength="100.5" lengthAdjust="spacingAndGlyphs" fill="#1e1e1e" >0.004</text>
<text x="115.5" y="994.5" font-size="46" textLength="101.1" lengthAdjust="spacingAndGlyphs" fill="#1e1e1e" >0.006</text>
<text x="115.5" y="852.0" font-size="46" textLength="101.6" lengthAdjust="spacingAndGlyphs" fill="#1e1e1e" >0.008</text>
<text x="202.6" y="1465.6" font-size="46" textLength="68.8" lengthAdjust="spacingAndGlyphs" fill="#1e1e1e" >400</text>
<text x="408.9" y="1465.6" font-size="46" textLength="70.7" lengthAdjust="spacingAndGlyphs" fill="#1e1e1e" >500</text>
<text x="617.9" y="1465.6" font-size="46" textLength="70.0" lengthAdjust="spacingAndGlyphs" fill="#1e1e1e" >600</text>
<text x="825.2" y="1465.6" font-size="46" textLength="71.0" lengthAdjust="spacingAndGlyphs" fill="#1e1e1e" >700</text>
<text x="1034.6" y="1465.6" font-size="46" textLength="69.7" lengthAdjust="spacingAndGlyphs" fill="#1e1e1e" >800</text>
<text x="476.5" y="1526.0" font-size="50" textLength="355.3" lengthAdjust="spacingAndGlyphs" fill="#1e1e1e" >Wavelength (nm)</text>
<text transform="translate(68.9,1167.0) rotate(-90)" font-style="italic" fill="#1e1e1e"><tspan x="-1" y="0" font-size="51">NR</tspan><tspan x="66" y="25.8" font-size="36">rs</tspan></text>
<rect x="236.5" y="1627.0" width="833.0" height="570.5" fill="none" stroke="#262626" stroke-width="3.6"/>
<path d="M236.5 2197.5v-11M236.5 1627.0v11M444.8 2197.5v-11M444.8 1627.0v11M653.0 2197.5v-11M653.0 1627.0v11M861.2 2197.5v-11M861.2 1627.0v11M1069.5 2197.5v-11M1069.5 1627.0v11M236.5 2197.5h11M1069.5 2197.5h-11M236.5 2102.4h11M1069.5 2102.4h-11M236.5 2007.3h11M1069.5 2007.3h-11M236.5 1912.2h11M1069.5 1912.2h-11M236.5 1817.2h11M1069.5 1817.2h-11M236.5 1722.1h11M1069.5 1722.1h-11M236.5 1627.0h11M1069.5 1627.0h-11" stroke="#262626" stroke-width="3.2" fill="none"/>
<text x="115.5" y="2214.0" font-size="46" textLength="101.6" lengthAdjust="spacingAndGlyphs" fill="#1e1e1e" >0.000</text>
<text x="115.5" y="2118.9" font-size="46" textLength="102.6" lengthAdjust="spacingAndGlyphs" fill="#1e1e1e" >0.001</text>
<text x="115.5" y="2023.8" font-size="46" textLength="102.3" lengthAdjust="spacingAndGlyphs" fill="#1e1e1e" >0.002</text>
<text x="115.5" y="1928.8" font-size="46" textLength="101.6" lengthAdjust="spacingAndGlyphs" fill="#1e1e1e" >0.003</text>
<text x="115.5" y="1833.7" font-size="46" textLength="100.5" lengthAdjust="spacingAndGlyphs" fill="#1e1e1e" >0.004</text>
<text x="115.5" y="1738.6" font-size="46" textLength="101.6" lengthAdjust="spacingAndGlyphs" fill="#1e1e1e" >0.005</text>
<text x="115.5" y="1643.5" font-size="46" textLength="101.1" lengthAdjust="spacingAndGlyphs" fill="#1e1e1e" >0.006</text>
<text x="202.6" y="2257.6" font-size="46" textLength="68.8" lengthAdjust="spacingAndGlyphs" fill="#1e1e1e" >400</text>
<text x="408.9" y="2257.6" font-size="46" textLength="70.7" lengthAdjust="spacingAndGlyphs" fill="#1e1e1e" >500</text>
<text x="617.9" y="2257.6" font-size="46" textLength="70.0" lengthAdjust="spacingAndGlyphs" fill="#1e1e1e" >600</text>
<text x="825.2" y="2257.6" font-size="46" textLength="71.0" lengthAdjust="spacingAndGlyphs" fill="#1e1e1e" >700</text>
<text x="1034.6" y="2257.6" font-size="46" textLength="69.7" lengthAdjust="spacingAndGlyphs" fill="#1e1e1e" >800</text>
<text x="476.5" y="2318.0" font-size="50" textLength="355.3" lengthAdjust="spacingAndGlyphs" fill="#1e1e1e" >Wavelength (nm)</text>
<text transform="translate(68.9,1958.8) rotate(-90)" font-style="italic" fill="#1e1e1e"><tspan x="-1" y="0" font-size="51">NR</tspan><tspan x="66" y="25.8" font-size="36">rs</tspan></text>
<rect x="1331.5" y="42.5" width="832.0" height="570.0" fill="none" stroke="#262626" stroke-width="3.6"/>
<path d="M1331.5 612.5v-11M1331.5 42.5v11M1539.5 612.5v-11M1539.5 42.5v11M1747.5 612.5v-11M1747.5 42.5v11M1955.5 612.5v-11M1955.5 42.5v11M2163.5 612.5v-11M2163.5 42.5v11M1331.5 612.5h11M2163.5 612.5h-11M1331.5 470.0h11M2163.5 470.0h-11M1331.5 327.5h11M2163.5 327.5h-11M1331.5 185.0h11M2163.5 185.0h-11M1331.5 42.5h11M2163.5 42.5h-11" stroke="#262626" stroke-width="3.2" fill="none"/>
<text x="1210.5" y="629.0" font-size="46" textLength="101.6" lengthAdjust="spacingAndGlyphs" fill="#1e1e1e" >0.000</text>
<text x="1210.5" y="486.5" font-size="46" textLength="102.3" lengthAdjust="spacingAndGlyphs" fill="#1e1e1e" >0.002</text>
<text x="1210.5" y="344.0" font-size="46" textLength="100.5" lengthAdjust="spacingAndGlyphs" fill="#1e1e1e" >0.004</text>
<text x="1210.5" y="201.5" font-size="46" textLength="101.1" lengthAdjust="spacingAndGlyphs" fill="#1e1e1e" >0.006</text>
<text x="1210.5" y="59.0" font-size="46" textLength="101.6" lengthAdjust="spacingAndGlyphs" fill="#1e1e1e" >0.008</text>
<text x="1297.6" y="672.6" font-size="46" textLength="68.8" lengthAdjust="spacingAndGlyphs" fill="#1e1e1e" >400</text>
<text x="1503.7" y="672.6" font-size="46" textLength="70.7" lengthAdjust="spacingAndGlyphs" fill="#1e1e1e" >500</text>
<text x="1712.4" y="672.6" font-size="46" textLength="70.0" lengthAdjust="spacingAndGlyphs" fill="#1e1e1e" >600</text>
<text x="1919.4" y="672.6" font-size="46" textLength="71.0" lengthAdjust="spacingAndGlyphs" fill="#1e1e1e" >700</text>
<text x="2128.6" y="672.6" font-size="46" textLength="69.7" lengthAdjust="spacingAndGlyphs" fill="#1e1e1e" >800</text>
<text x="1571.0" y="733.0" font-size="50" textLength="355.3" lengthAdjust="spacingAndGlyphs" fill="#1e1e1e" >Wavelength (nm)</text>
<text transform="translate(1163.9,374.0) rotate(-90)" font-style="italic" fill="#1e1e1e"><tspan x="-1" y="0" font-size="51">NR</tspan><tspan x="66" y="25.8" font-size="36">rs</tspan></text>
<rect x="1331.5" y="835.5" width="832.0" height="570.0" fill="none" stroke="#262626" stroke-width="3.6"/>
<path d="M1331.5 1405.5v-11M1331.5 835.5v11M1539.5 1405.5v-11M1539.5 835.5v11M1747.5 1405.5v-11M1747.5 835.5v11M1955.5 1405.5v-11M1955.5 835.5v11M2163.5 1405.5v-11M2163.5 835.5v11M1331.5 1405.5h11M2163.5 1405.5h-11M1331.5 1263.0h11M2163.5 1263.0h-11M1331.5 1120.5h11M2163.5 1120.5h-11M1331.5 978.0h11M2163.5 978.0h-11M1331.5 835.5h11M2163.5 835.5h-11" stroke="#262626" stroke-width="3.2" fill="none"/>
<text x="1210.5" y="1422.0" font-size="46" textLength="101.6" lengthAdjust="spacingAndGlyphs" fill="#1e1e1e" >0.000</text>
<text x="1210.5" y="1279.5" font-size="46" textLength="102.3" lengthAdjust="spacingAndGlyphs" fill="#1e1e1e" >0.002</text>
<text x="1210.5" y="1137.0" font-size="46" textLength="100.5" lengthAdjust="spacingAndGlyphs" fill="#1e1e1e" >0.004</text>
<text x="1210.5" y="994.5" font-size="46" textLength="101.1" lengthAdjust="spacingAndGlyphs" fill="#1e1e1e" >0.006</text>
<text x="1210.5" y="852.0" font-size="46" textLength="101.6" lengthAdjust="spacingAndGlyphs" fill="#1e1e1e" >0.008</text>
<text x="1297.6" y="1465.6" font-size="46" textLength="68.8" lengthAdjust="spacingAndGlyphs" fill="#1e1e1e" >400</text>
<text x="1503.7" y="1465.6" font-size="46" textLength="70.7" lengthAdjust="spacingAndGlyphs" fill="#1e1e1e" >500</text>
<text x="1712.4" y="1465.6" font-size="46" textLength="70.0" lengthAdjust="spacingAndGlyphs" fill="#1e1e1e" >600</text>
<text x="1919.4" y="1465.6" font-size="46" textLength="71.0" lengthAdjust="spacingAndGlyphs" fill="#1e1e1e" >700</text>
<text x="2128.6" y="1465.6" font-size="46" textLength="69.7" lengthAdjust="spacingAndGlyphs" fill="#1e1e1e" >800</text>
<text x="1571.0" y="1526.0" font-size="50" textLength="355.3" lengthAdjust="spacingAndGlyphs" fill="#1e1e1e" >Wavelength (nm)</text>
<text transform="translate(1163.9,1167.0) rotate(-90)" font-style="italic" fill="#1e1e1e"><tspan x="-1" y="0" font-size="51">NR</tspan><tspan x="66" y="25.8" font-size="36">rs</tspan></text>
<rect x="1331.5" y="1627.0" width="832.0" height="570.5" fill="none" stroke="#262626" stroke-width="3.6"/>
<path d="M1331.5 2197.5v-11M1331.5 1627.0v11M1539.5 2197.5v-11M1539.5 1627.0v11M1747.5 2197.5v-11M1747.5 1627.0v11M1955.5 2197.5v-11M1955.5 1627.0v11M2163.5 2197.5v-11M2163.5 1627.0v11M1331.5 2197.5h11M2163.5 2197.5h-11M1331.5 2102.4h11M2163.5 2102.4h-11M1331.5 2007.3h11M2163.5 2007.3h-11M1331.5 1912.2h11M2163.5 1912.2h-11M1331.5 1817.2h11M2163.5 1817.2h-11M1331.5 1722.1h11M2163.5 1722.1h-11M1331.5 1627.0h11M2163.5 1627.0h-11" stroke="#262626" stroke-width="3.2" fill="none"/>
<text x="1210.5" y="2214.0" font-size="46" textLength="101.6" lengthAdjust="spacingAndGlyphs" fill="#1e1e1e" >0.000</text>
<text x="1210.5" y="2118.9" font-size="46" textLength="101.6" lengthAdjust="spacingAndGlyphs" fill="#1e1e1e" >0.010</text>
<text x="1210.5" y="2023.8" font-size="46" textLength="101.6" lengthAdjust="spacingAndGlyphs" fill="#1e1e1e" >0.020</text>
<text x="1210.5" y="1928.8" font-size="46" textLength="101.6" lengthAdjust="spacingAndGlyphs" fill="#1e1e1e" >0.030</text>
<text x="1210.5" y="1833.7" font-size="46" textLength="101.6" lengthAdjust="spacingAndGlyphs" fill="#1e1e1e" >0.040</text>
<text x="1210.5" y="1738.6" font-size="46" textLength="101.6" lengthAdjust="spacingAndGlyphs" fill="#1e1e1e" >0.050</text>
<text x="1210.5" y="1643.5" font-size="46" textLength="101.6" lengthAdjust="spacingAndGlyphs" fill="#1e1e1e" >0.060</text>
<text x="1297.6" y="2257.6" font-size="46" textLength="68.8" lengthAdjust="spacingAndGlyphs" fill="#1e1e1e" >400</text>
<text x="1503.7" y="2257.6" font-size="46" textLength="70.7" lengthAdjust="spacingAndGlyphs" fill="#1e1e1e" >500</text>
<text x="1712.4" y="2257.6" font-size="46" textLength="70.0" lengthAdjust="spacingAndGlyphs" fill="#1e1e1e" >600</text>
<text x="1919.4" y="2257.6" font-size="46" textLength="71.0" lengthAdjust="spacingAndGlyphs" fill="#1e1e1e" >700</text>
<text x="2128.6" y="2257.6" font-size="46" textLength="69.7" lengthAdjust="spacingAndGlyphs" fill="#1e1e1e" >800</text>
<text x="1571.0" y="2318.0" font-size="50" textLength="355.3" lengthAdjust="spacingAndGlyphs" fill="#1e1e1e" >Wavelength (nm)</text>
<text transform="translate(1163.9,2000.0) rotate(-90)" font-style="italic" fill="#1e1e1e"><tspan x="-1" y="0" font-size="51">R</tspan><tspan x="32" y="25.6" font-size="36">rs</tspan><tspan x="77" y="0" font-size="51">(</tspan><tspan x="90" y="0" font-size="51">sr</tspan><tspan x="127" y="-23.3" font-size="36">-1</tspan><tspan x="155" y="0" font-size="51">)</tspan></text>
<text x="288.7" y="130.8" font-size="47" textLength="279.5" lengthAdjust="spacingAndGlyphs" fill="#1e1e1e" >Type 1, N=162</text>
<text x="1383.7" y="130.8" font-size="47" textLength="277.7" lengthAdjust="spacingAndGlyphs" fill="#1e1e1e" >Type 2, N=194</text>
<text x="288.7" y="922.4" font-size="47" textLength="278.8" lengthAdjust="spacingAndGlyphs" fill="#1e1e1e" >Type 3, N=168</text>
<text x="1383.7" y="922.4" font-size="47" textLength="252.3" lengthAdjust="spacingAndGlyphs" fill="#1e1e1e" >Type 4, N=11</text>
<text x="963.7" y="134.4" font-size="54" font-weight="bold" textLength="64.2" lengthAdjust="spacingAndGlyphs" fill="#111" >(a)</text>
<text x="2057.6" y="134.4" font-size="54" font-weight="bold" textLength="70.3" lengthAdjust="spacingAndGlyphs" fill="#111" >(b)</text>
<text x="963.6" y="925.9" font-size="54" font-weight="bold" textLength="64.5" lengthAdjust="spacingAndGlyphs" fill="#111" >(c)</text>
<text x="2057.6" y="925.9" font-size="54" font-weight="bold" textLength="70.3" lengthAdjust="spacingAndGlyphs" fill="#111" >(d)</text>
<text x="963.6" y="1721.8" font-size="54" font-weight="bold" textLength="64.5" lengthAdjust="spacingAndGlyphs" fill="#111" >(e)</text>
<text x="2057.6" y="1723.1" font-size="54" font-weight="bold" textLength="57.8" lengthAdjust="spacingAndGlyphs" fill="#111" >(f)</text>
<line x1="287.4" y1="1684.0" x2="426.7" y2="1684.0" stroke="#ff0000" stroke-width="6.2"/>
<text x="440.8" y="1700.8" font-size="45" textLength="114.0" lengthAdjust="spacingAndGlyphs" fill="#1e1e1e" >Type 1</text>
<line x1="287.4" y1="1733.8" x2="426.7" y2="1733.8" stroke="#0000ff" stroke-width="6.2"/>
<text x="440.7" y="1749.6" font-size="45" textLength="117.1" lengthAdjust="spacingAndGlyphs" fill="#1e1e1e" >Type 2</text>
<line x1="595.9" y1="1682.6" x2="739.0" y2="1682.6" stroke="#00ff00" stroke-width="6.2"/>
<text x="753.7" y="1698.1" font-size="45" textLength="114.4" lengthAdjust="spacingAndGlyphs" fill="#1e1e1e" >Type 3</text>
<line x1="595.9" y1="1739.1" x2="739.0" y2="1739.1" stroke="#ff8000" stroke-width="6.2"/>
<text x="753.7" y="1753.3" font-size="45" textLength="114.7" lengthAdjust="spacingAndGlyphs" fill="#1e1e1e" >Type 4</text>
<line x1="1379.9" y1="2089.7" x2="1518.7" y2="2089.7" stroke="#ff0000" stroke-width="6.2"/>
<text x="1532.8" y="2104.6" font-size="45" textLength="114.0" lengthAdjust="spacingAndGlyphs" fill="#1e1e1e" >Type 1</text>
<line x1="1379.9" y1="2139.3" x2="1518.7" y2="2139.3" stroke="#0000ff" stroke-width="6.2"/>
<text x="1532.8" y="2154.2" font-size="45" textLength="115.6" lengthAdjust="spacingAndGlyphs" fill="#1e1e1e" >Type 2</text>
<line x1="1696.5" y1="2089.7" x2="1840.0" y2="2089.7" stroke="#00ff00" stroke-width="6.2"/>
<text x="1854.4" y="2104.6" font-size="45" textLength="115.5" lengthAdjust="spacingAndGlyphs" fill="#1e1e1e" >Type 3</text>
<line x1="1696.5" y1="2145.9" x2="1840.0" y2="2145.9" stroke="#ff8000" stroke-width="6.2"/>
<text x="1854.4" y="2159.1" font-size="45" textLength="115.2" lengthAdjust="spacingAndGlyphs" fill="#1e1e1e" >Type 4</text>
</g>
</svg>
</body></html>
